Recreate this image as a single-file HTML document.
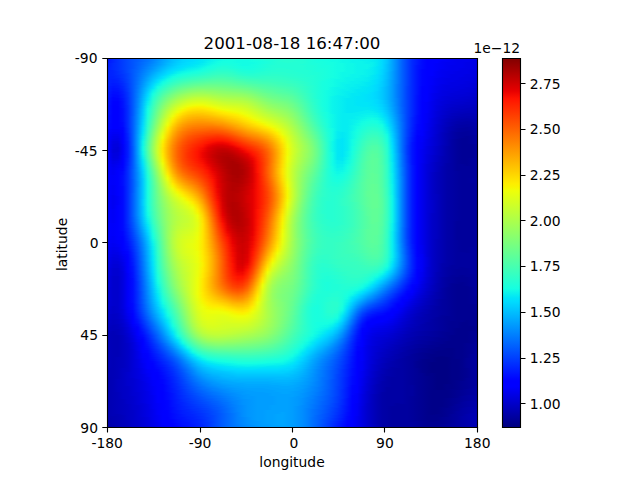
<!DOCTYPE html>
<html><head><meta charset="utf-8"><style>
html,body{margin:0;padding:0;background:#fff}
body{width:640px;height:480px;position:relative;overflow:hidden}
#hm{position:absolute;left:108px;top:59px;width:369px;height:368px;overflow:hidden}
#hm i{display:block;height:1px;width:100%}
#cb{position:absolute;left:502px;top:58px;width:18px;height:369px;background:linear-gradient(0deg,rgb(0,0,128) 0.00%,rgb(0,0,255) 11.00%,rgb(0,0,255) 12.50%,rgb(0,220,254) 34.00%,rgb(0,228,248) 35.00%,rgb(22,255,225) 37.50%,rgb(238,255,9) 64.00%,rgb(248,245,0) 65.00%,rgb(254,237,0) 66.00%,rgb(255,19,0) 89.00%,rgb(232,0,0) 91.00%,rgb(128,0,0) 100.00%)}
svg{position:absolute;left:0;top:0}
text{font-family:"DejaVu Sans","Liberation Sans",sans-serif;fill:#000}
</style></head><body>
<div id="hm">
<i style="background:linear-gradient(90deg,#0014ff,#0024ff,#0031ff,#003dff,#0049ff,#0051ff,#005dff,#0069ff,#0074ff,#0081ff,#0091ff,#00a1ff,#00b1ff,#00bdff,#00c8ff,#00d1ff,#00d9ff,#00ddfe,#00e1fb,#02e8f4,#06edf1,#0cf5eb,#0ff9e7,#13fde4,#13fde4,#13fde4,#16ffe1,#16ffe1,#16ffe1,#16ffe1,#19ffde,#1cffdb,#1fffd7,#23ffd4,#23ffd4,#26ffd1,#26ffd1,#26ffd1,#26ffd1,#23ffd4,#1fffd7,#1cffdb,#19ffde,#16ffe1,#16ffe1,#13fde4,#13fde4,#0ff9e7,#0cf5eb,#0cf5eb,#09f1ee,#09f1ee,#09f1ee,#06edf1,#00e5f8,#00d9ff,#00c5ff,#00a5ff,#0085ff,#0061ff,#0044ff,#0029ff,#0019ff,#0009ff,#0000ff,#0000ff,#0000ff,#0000fa,#0000f6,#0000f1,#0000f1,#0000ed,#0000ed,#0000e8,#0000e3)"></i>
<i style="background:linear-gradient(90deg,#0014ff,#0024ff,#0031ff,#003dff,#0049ff,#0054ff,#005dff,#0069ff,#0074ff,#0081ff,#0091ff,#00a1ff,#00b1ff,#00c1ff,#00c8ff,#00d5ff,#00d9ff,#00ddfe,#00e1fb,#02e8f4,#06edf1,#0cf5eb,#0ff9e7,#13fde4,#16ffe1,#16ffe1,#13fde4,#13fde4,#13fde4,#16ffe1,#19ffde,#1cffdb,#1fffd7,#1fffd7,#23ffd4,#26ffd1,#26ffd1,#26ffd1,#23ffd4,#23ffd4,#1fffd7,#1cffdb,#19ffde,#16ffe1,#16ffe1,#13fde4,#13fde4,#0ff9e7,#0ff9e7,#0cf5eb,#0cf5eb,#09f1ee,#09f1ee,#06edf1,#02e8f4,#00d9ff,#00c5ff,#00a5ff,#0085ff,#0061ff,#0044ff,#0029ff,#0019ff,#0009ff,#0000ff,#0000ff,#0000ff,#0000fa,#0000f6,#0000f1,#0000ed,#0000ed,#0000ed,#0000e8,#0000e3)"></i>
<i style="background:linear-gradient(90deg,#0019ff,#0024ff,#0031ff,#003dff,#0049ff,#0054ff,#005dff,#0069ff,#0074ff,#0085ff,#0095ff,#00a5ff,#00b1ff,#00c1ff,#00cdff,#00d5ff,#00d9ff,#00ddfe,#00e5f8,#02e8f4,#09f1ee,#0cf5eb,#13fde4,#16ffe1,#16ffe1,#16ffe1,#13fde4,#13fde4,#13fde4,#16ffe1,#16ffe1,#19ffde,#1cffdb,#1fffd7,#23ffd4,#26ffd1,#26ffd1,#26ffd1,#23ffd4,#23ffd4,#1fffd7,#1cffdb,#19ffde,#19ffde,#16ffe1,#13fde4,#13fde4,#0ff9e7,#0ff9e7,#0cf5eb,#0cf5eb,#0cf5eb,#09f1ee,#06edf1,#02e8f4,#00d9ff,#00c5ff,#00a5ff,#0085ff,#0061ff,#0044ff,#0029ff,#0019ff,#0009ff,#0000ff,#0000ff,#0000ff,#0000f6,#0000f6,#0000f1,#0000ed,#0000ed,#0000ed,#0000e8,#0000e3)"></i>
<i style="background:linear-gradient(90deg,#0019ff,#0024ff,#0031ff,#003dff,#0049ff,#0054ff,#0061ff,#006dff,#0079ff,#0085ff,#0095ff,#00a5ff,#00b5ff,#00c1ff,#00cdff,#00d5ff,#00ddfe,#00e1fb,#00e5f8,#02e8f4,#09f1ee,#0ff9e7,#13fde4,#16ffe1,#16ffe1,#16ffe1,#13fde4,#13fde4,#13fde4,#13fde4,#16ffe1,#19ffde,#1cffdb,#1fffd7,#23ffd4,#23ffd4,#26ffd1,#23ffd4,#23ffd4,#23ffd4,#1fffd7,#1cffdb,#19ffde,#19ffde,#16ffe1,#16ffe1,#13fde4,#0ff9e7,#0ff9e7,#0cf5eb,#0cf5eb,#0cf5eb,#09f1ee,#09f1ee,#02e8f4,#00d9ff,#00c5ff,#00a5ff,#0085ff,#0061ff,#0044ff,#0029ff,#0019ff,#0009ff,#0000ff,#0000ff,#0000ff,#0000f6,#0000f1,#0000f1,#0000ed,#0000ed,#0000e8,#0000e8,#0000e3)"></i>
<i style="background:linear-gradient(90deg,#001dff,#0029ff,#0031ff,#003dff,#0049ff,#0054ff,#0061ff,#006dff,#0079ff,#0088ff,#0099ff,#00a8ff,#00b9ff,#00c5ff,#00d1ff,#00d9ff,#00ddfe,#00e1fb,#00e5f8,#06edf1,#0cf5eb,#0ff9e7,#16ffe1,#19ffde,#19ffde,#16ffe1,#16ffe1,#13fde4,#13fde4,#13fde4,#16ffe1,#19ffde,#1cffdb,#1fffd7,#23ffd4,#23ffd4,#23ffd4,#23ffd4,#23ffd4,#23ffd4,#1fffd7,#1cffdb,#1cffdb,#19ffde,#16ffe1,#16ffe1,#13fde4,#13fde4,#0ff9e7,#0ff9e7,#0cf5eb,#0cf5eb,#09f1ee,#09f1ee,#02e8f4,#00d9ff,#00c5ff,#00a5ff,#0085ff,#0061ff,#0044ff,#0029ff,#0019ff,#0009ff,#0000ff,#0000ff,#0000fa,#0000f6,#0000f1,#0000f1,#0000ed,#0000ed,#0000e8,#0000e8,#0000e3)"></i>
<i style="background:linear-gradient(90deg,#001dff,#0029ff,#0031ff,#003dff,#0049ff,#0054ff,#0061ff,#006dff,#007dff,#008dff,#0099ff,#00a8ff,#00b9ff,#00c8ff,#00d1ff,#00d9ff,#00ddfe,#00e5f8,#02e8f4,#06edf1,#0cf5eb,#13fde4,#16ffe1,#19ffde,#19ffde,#19ffde,#16ffe1,#13fde4,#13fde4,#16ffe1,#16ffe1,#1cffdb,#1fffd7,#1fffd7,#23ffd4,#23ffd4,#23ffd4,#23ffd4,#23ffd4,#1fffd7,#1fffd7,#1cffdb,#1cffdb,#19ffde,#16ffe1,#16ffe1,#13fde4,#13fde4,#0ff9e7,#0ff9e7,#0cf5eb,#0cf5eb,#0cf5eb,#09f1ee,#02e8f4,#00d9ff,#00c1ff,#00a5ff,#0085ff,#0061ff,#0044ff,#0029ff,#0019ff,#0009ff,#0000ff,#0000ff,#0000fa,#0000f6,#0000f1,#0000f1,#0000ed,#0000ed,#0000e8,#0000e8,#0000e3)"></i>
<i style="background:linear-gradient(90deg,#001dff,#0029ff,#0031ff,#003dff,#0049ff,#0054ff,#0061ff,#0071ff,#007dff,#008dff,#009dff,#00adff,#00bdff,#00c8ff,#00d5ff,#00ddfe,#00e1fb,#00e5f8,#06edf1,#09f1ee,#0ff9e7,#16ffe1,#19ffde,#1cffdb,#1cffdb,#19ffde,#16ffe1,#13fde4,#13fde4,#16ffe1,#19ffde,#1cffdb,#1fffd7,#23ffd4,#23ffd4,#23ffd4,#23ffd4,#23ffd4,#23ffd4,#23ffd4,#1fffd7,#1fffd7,#1cffdb,#19ffde,#19ffde,#16ffe1,#13fde4,#13fde4,#0ff9e7,#0ff9e7,#0cf5eb,#0cf5eb,#0cf5eb,#09f1ee,#02e8f4,#00d9ff,#00c1ff,#00a5ff,#0085ff,#0061ff,#0044ff,#0029ff,#0014ff,#0009ff,#0000ff,#0000ff,#0000fa,#0000f6,#0000f1,#0000ed,#0000ed,#0000ed,#0000e8,#0000e8,#0000e3)"></i>
<i style="background:linear-gradient(90deg,#001dff,#0029ff,#0031ff,#003dff,#0049ff,#0054ff,#0064ff,#0071ff,#0081ff,#0091ff,#00a1ff,#00b1ff,#00c1ff,#00cdff,#00d9ff,#00ddfe,#00e5f8,#02e8f4,#06edf1,#0cf5eb,#13fde4,#19ffde,#1cffdb,#1fffd7,#1fffd7,#1cffdb,#19ffde,#16ffe1,#16ffe1,#16ffe1,#19ffde,#1cffdb,#1fffd7,#23ffd4,#23ffd4,#23ffd4,#23ffd4,#23ffd4,#23ffd4,#23ffd4,#1fffd7,#1fffd7,#1cffdb,#19ffde,#19ffde,#16ffe1,#13fde4,#13fde4,#0ff9e7,#0ff9e7,#0cf5eb,#0cf5eb,#0cf5eb,#09f1ee,#00e5f8,#00d9ff,#00c1ff,#00a5ff,#0085ff,#0061ff,#0044ff,#0029ff,#0014ff,#0009ff,#0000ff,#0000ff,#0000fa,#0000f6,#0000f1,#0000ed,#0000ed,#0000ed,#0000e8,#0000e8,#0000e3)"></i>
<i style="background:linear-gradient(90deg,#0021ff,#0029ff,#0031ff,#003dff,#0049ff,#0054ff,#0064ff,#0074ff,#0085ff,#0095ff,#00a5ff,#00b5ff,#00c5ff,#00d1ff,#00d9ff,#00e1fb,#02e8f4,#06edf1,#09f1ee,#0ff9e7,#16ffe1,#19ffde,#1fffd7,#23ffd4,#1fffd7,#1cffdb,#19ffde,#16ffe1,#16ffe1,#16ffe1,#19ffde,#1cffdb,#1fffd7,#23ffd4,#23ffd4,#23ffd4,#23ffd4,#23ffd4,#23ffd4,#23ffd4,#1fffd7,#1fffd7,#1cffdb,#19ffde,#19ffde,#16ffe1,#13fde4,#13fde4,#0ff9e7,#0ff9e7,#0cf5eb,#0cf5eb,#0cf5eb,#06edf1,#00e5f8,#00d9ff,#00c1ff,#00a5ff,#0085ff,#0061ff,#0044ff,#0029ff,#0014ff,#0009ff,#0000ff,#0000ff,#0000fa,#0000f6,#0000f1,#0000ed,#0000ed,#0000ed,#0000e8,#0000e8,#0000e3)"></i>
<i style="background:linear-gradient(90deg,#0021ff,#0029ff,#0031ff,#003dff,#0049ff,#0054ff,#0064ff,#0074ff,#0085ff,#0095ff,#00a8ff,#00b9ff,#00c8ff,#00d5ff,#00ddfe,#00e5f8,#06edf1,#09f1ee,#0cf5eb,#13fde4,#19ffde,#1cffdb,#23ffd4,#23ffd4,#23ffd4,#1fffd7,#1cffdb,#19ffde,#16ffe1,#19ffde,#1cffdb,#1fffd7,#23ffd4,#23ffd4,#26ffd1,#26ffd1,#23ffd4,#23ffd4,#23ffd4,#23ffd4,#1fffd7,#1fffd7,#1cffdb,#1cffdb,#19ffde,#16ffe1,#13fde4,#13fde4,#0ff9e7,#0ff9e7,#0cf5eb,#0cf5eb,#0cf5eb,#06edf1,#00e5f8,#00d9ff,#00c1ff,#00a5ff,#0085ff,#0061ff,#0044ff,#0029ff,#0014ff,#0009ff,#0000ff,#0000ff,#0000fa,#0000f6,#0000f1,#0000ed,#0000ed,#0000e8,#0000e8,#0000e8,#0000e3)"></i>
<i style="background:linear-gradient(90deg,#0021ff,#0029ff,#0031ff,#003dff,#0049ff,#0059ff,#0064ff,#0079ff,#0088ff,#0099ff,#00adff,#00bdff,#00cdff,#00d9ff,#00e1fb,#02e8f4,#09f1ee,#0cf5eb,#0ff9e7,#16ffe1,#1cffdb,#1fffd7,#26ffd1,#26ffd1,#26ffd1,#23ffd4,#1fffd7,#1cffdb,#19ffde,#19ffde,#1cffdb,#1fffd7,#23ffd4,#23ffd4,#26ffd1,#26ffd1,#26ffd1,#23ffd4,#23ffd4,#23ffd4,#1fffd7,#1fffd7,#1cffdb,#1cffdb,#19ffde,#16ffe1,#13fde4,#13fde4,#0ff9e7,#0ff9e7,#0cf5eb,#0cf5eb,#09f1ee,#06edf1,#00e5f8,#00d5ff,#00c1ff,#00a5ff,#0085ff,#0061ff,#0044ff,#0029ff,#0014ff,#0004ff,#0000ff,#0000ff,#0000fa,#0000f1,#0000f1,#0000ed,#0000ed,#0000e8,#0000e8,#0000e3,#0000e3)"></i>
<i style="background:linear-gradient(90deg,#0021ff,#0024ff,#0031ff,#0039ff,#0049ff,#0059ff,#0069ff,#0079ff,#008dff,#009dff,#00adff,#00c1ff,#00d1ff,#00ddfe,#00e5f8,#06edf1,#0cf5eb,#0ff9e7,#13fde4,#19ffde,#1fffd7,#23ffd4,#29ffce,#29ffce,#29ffce,#26ffd1,#1fffd7,#1cffdb,#1cffdb,#1cffdb,#1fffd7,#1fffd7,#23ffd4,#26ffd1,#26ffd1,#26ffd1,#26ffd1,#26ffd1,#23ffd4,#23ffd4,#23ffd4,#1fffd7,#1cffdb,#1cffdb,#19ffde,#16ffe1,#13fde4,#13fde4,#0ff9e7,#0ff9e7,#0cf5eb,#0cf5eb,#09f1ee,#06edf1,#00e5f8,#00d5ff,#00c1ff,#00a5ff,#0081ff,#0061ff,#0044ff,#0029ff,#0014ff,#0004ff,#0000ff,#0000ff,#0000fa,#0000f1,#0000f1,#0000ed,#0000ed,#0000e8,#0000e8,#0000e3,#0000e3)"></i>
<i style="background:linear-gradient(90deg,#0021ff,#0024ff,#002dff,#0039ff,#0049ff,#0059ff,#0069ff,#007dff,#008dff,#00a1ff,#00b1ff,#00c5ff,#00d5ff,#00e1fb,#06edf1,#0cf5eb,#0ff9e7,#13fde4,#19ffde,#1cffdb,#23ffd4,#29ffce,#2cffca,#2cffca,#2cffca,#29ffce,#23ffd4,#1fffd7,#1fffd7,#1fffd7,#1fffd7,#23ffd4,#26ffd1,#26ffd1,#26ffd1,#26ffd1,#26ffd1,#26ffd1,#23ffd4,#23ffd4,#23ffd4,#1fffd7,#1cffdb,#1cffdb,#19ffde,#16ffe1,#13fde4,#13fde4,#0ff9e7,#0ff9e7,#0cf5eb,#0cf5eb,#09f1ee,#06edf1,#00e5f8,#00d5ff,#00c1ff,#00a1ff,#0081ff,#0061ff,#0044ff,#0029ff,#0014ff,#0004ff,#0000ff,#0000ff,#0000f6,#0000f1,#0000ed,#0000ed,#0000e8,#0000e8,#0000e8,#0000e3,#0000df)"></i>
<i style="background:linear-gradient(90deg,#0021ff,#0024ff,#002dff,#0039ff,#0049ff,#0059ff,#0069ff,#007dff,#0091ff,#00a5ff,#00b9ff,#00c8ff,#00d9ff,#00e5f8,#09f1ee,#0ff9e7,#13fde4,#19ffde,#1cffdb,#23ffd4,#26ffd1,#2cffca,#30ffc7,#30ffc7,#30ffc7,#2cffca,#26ffd1,#23ffd4,#1fffd7,#1fffd7,#23ffd4,#26ffd1,#26ffd1,#29ffce,#29ffce,#29ffce,#26ffd1,#26ffd1,#26ffd1,#23ffd4,#23ffd4,#1fffd7,#1fffd7,#1cffdb,#19ffde,#16ffe1,#13fde4,#0ff9e7,#0ff9e7,#0ff9e7,#0cf5eb,#0cf5eb,#09f1ee,#06edf1,#00e5f8,#00d5ff,#00bdff,#00a1ff,#0081ff,#0061ff,#0044ff,#0029ff,#0014ff,#0004ff,#0000ff,#0000ff,#0000f6,#0000f1,#0000ed,#0000ed,#0000e8,#0000e8,#0000e8,#0000e3,#0000df)"></i>
<i style="background:linear-gradient(90deg,#0021ff,#0024ff,#002dff,#0039ff,#0044ff,#0059ff,#006dff,#0081ff,#0095ff,#00a8ff,#00bdff,#00cdff,#00ddfe,#02e8f4,#0cf5eb,#13fde4,#19ffde,#1cffdb,#1fffd7,#26ffd1,#2cffca,#30ffc7,#33ffc4,#33ffc4,#33ffc4,#30ffc7,#29ffce,#26ffd1,#23ffd4,#23ffd4,#26ffd1,#26ffd1,#29ffce,#29ffce,#29ffce,#29ffce,#29ffce,#26ffd1,#26ffd1,#23ffd4,#23ffd4,#1fffd7,#1fffd7,#1cffdb,#19ffde,#16ffe1,#13fde4,#0ff9e7,#0ff9e7,#0ff9e7,#0cf5eb,#0cf5eb,#09f1ee,#06edf1,#00e5f8,#00d5ff,#00bdff,#00a1ff,#0081ff,#0061ff,#0044ff,#0029ff,#0014ff,#0004ff,#0000ff,#0000ff,#0000f6,#0000f1,#0000ed,#0000ed,#0000e8,#0000e8,#0000e8,#0000e3,#0000df)"></i>
<i style="background:linear-gradient(90deg,#0021ff,#0024ff,#002dff,#0034ff,#0044ff,#0059ff,#006dff,#0081ff,#0095ff,#00adff,#00c1ff,#00d1ff,#00e1fb,#09f1ee,#13fde4,#19ffde,#1cffdb,#23ffd4,#26ffd1,#29ffce,#30ffc7,#33ffc4,#36ffc1,#39ffbe,#36ffc1,#33ffc4,#2cffca,#29ffce,#26ffd1,#26ffd1,#29ffce,#29ffce,#29ffce,#2cffca,#2cffca,#29ffce,#29ffce,#29ffce,#26ffd1,#26ffd1,#23ffd4,#1fffd7,#1fffd7,#1cffdb,#19ffde,#16ffe1,#13fde4,#0ff9e7,#0ff9e7,#0cf5eb,#0cf5eb,#0cf5eb,#09f1ee,#06edf1,#00e1fb,#00d5ff,#00bdff,#00a1ff,#0081ff,#0061ff,#0044ff,#0029ff,#0014ff,#0004ff,#0000ff,#0000ff,#0000f6,#0000f1,#0000ed,#0000e8,#0000e8,#0000e8,#0000e3,#0000e3,#0000df)"></i>
<i style="background:linear-gradient(90deg,#0021ff,#0024ff,#0029ff,#0034ff,#0044ff,#0059ff,#006dff,#0085ff,#0099ff,#00b1ff,#00c5ff,#00d5ff,#02e8f4,#0cf5eb,#16ffe1,#1cffdb,#23ffd4,#26ffd1,#29ffce,#30ffc7,#33ffc4,#39ffbe,#3cffba,#3cffba,#39ffbe,#36ffc1,#33ffc4,#2cffca,#29ffce,#29ffce,#29ffce,#2cffca,#2cffca,#2cffca,#2cffca,#2cffca,#29ffce,#29ffce,#26ffd1,#26ffd1,#23ffd4,#23ffd4,#1fffd7,#1cffdb,#19ffde,#16ffe1,#13fde4,#0ff9e7,#0ff9e7,#0cf5eb,#0cf5eb,#09f1ee,#09f1ee,#02e8f4,#00e1fb,#00d1ff,#00bdff,#00a1ff,#0081ff,#0061ff,#0044ff,#0029ff,#0014ff,#0004ff,#0000ff,#0000ff,#0000f6,#0000f1,#0000ed,#0000e8,#0000e8,#0000e8,#0000e3,#0000e3,#0000df)"></i>
<i style="background:linear-gradient(90deg,#0021ff,#0021ff,#0029ff,#0034ff,#0044ff,#0059ff,#006dff,#0085ff,#009dff,#00b5ff,#00c8ff,#00ddfe,#06edf1,#13fde4,#19ffde,#23ffd4,#26ffd1,#2cffca,#30ffc7,#36ffc1,#39ffbe,#3cffba,#40ffb7,#40ffb7,#3cffba,#39ffbe,#36ffc1,#33ffc4,#30ffc7,#2cffca,#2cffca,#30ffc7,#30ffc7,#30ffc7,#30ffc7,#2cffca,#2cffca,#29ffce,#29ffce,#26ffd1,#23ffd4,#23ffd4,#1fffd7,#1cffdb,#19ffde,#16ffe1,#13fde4,#0ff9e7,#0ff9e7,#0cf5eb,#0cf5eb,#09f1ee,#09f1ee,#02e8f4,#00e1fb,#00d1ff,#00bdff,#00a1ff,#0081ff,#0061ff,#0044ff,#0029ff,#0014ff,#0004ff,#0000ff,#0000fa,#0000f6,#0000f1,#0000ed,#0000e8,#0000e8,#0000e8,#0000e3,#0000e3,#0000df)"></i>
<i style="background:linear-gradient(90deg,#0021ff,#0021ff,#0029ff,#0034ff,#0044ff,#0059ff,#0071ff,#0088ff,#00a1ff,#00b9ff,#00cdff,#00e1fb,#09f1ee,#16ffe1,#1fffd7,#26ffd1,#2cffca,#33ffc4,#36ffc1,#39ffbe,#3cffba,#43ffb4,#43ffb4,#43ffb4,#43ffb4,#40ffb7,#39ffbe,#36ffc1,#33ffc4,#30ffc7,#30ffc7,#30ffc7,#33ffc4,#30ffc7,#30ffc7,#30ffc7,#2cffca,#2cffca,#29ffce,#26ffd1,#26ffd1,#23ffd4,#1fffd7,#1cffdb,#19ffde,#16ffe1,#13fde4,#0ff9e7,#0cf5eb,#0cf5eb,#0cf5eb,#09f1ee,#06edf1,#02e8f4,#00e1fb,#00d1ff,#00bdff,#00a1ff,#0081ff,#0061ff,#0044ff,#0029ff,#0014ff,#0004ff,#0000ff,#0000fa,#0000f6,#0000ed,#0000ed,#0000e8,#0000e8,#0000e3,#0000e3,#0000df,#0000df)"></i>
<i style="background:linear-gradient(90deg,#0021ff,#0021ff,#0024ff,#0031ff,#0044ff,#0059ff,#0071ff,#0088ff,#00a5ff,#00bdff,#00d1ff,#00e5f8,#0ff9e7,#1cffdb,#26ffd1,#2cffca,#33ffc4,#36ffc1,#3cffba,#40ffb7,#43ffb4,#46ffb1,#49ffad,#49ffad,#46ffb1,#43ffb4,#3cffba,#39ffbe,#36ffc1,#36ffc1,#33ffc4,#33ffc4,#33ffc4,#33ffc4,#33ffc4,#30ffc7,#30ffc7,#2cffca,#2cffca,#29ffce,#26ffd1,#23ffd4,#1fffd7,#1cffdb,#19ffde,#13fde4,#13fde4,#0ff9e7,#0cf5eb,#0cf5eb,#09f1ee,#09f1ee,#06edf1,#02e8f4,#00e1fb,#00d1ff,#00bdff,#00a1ff,#0081ff,#0061ff,#0044ff,#0029ff,#0014ff,#0004ff,#0000ff,#0000fa,#0000f1,#0000ed,#0000e8,#0000e8,#0000e8,#0000e3,#0000e3,#0000df,#0000da)"></i>
<i style="background:linear-gradient(90deg,#0021ff,#001dff,#0024ff,#0031ff,#0041ff,#0059ff,#0071ff,#008dff,#00a5ff,#00c1ff,#00d9ff,#06edf1,#13fde4,#1fffd7,#29ffce,#33ffc4,#39ffbe,#3cffba,#40ffb7,#46ffb1,#49ffad,#4dffaa,#4dffaa,#4dffaa,#49ffad,#46ffb1,#43ffb4,#40ffb7,#3cffba,#39ffbe,#39ffbe,#36ffc1,#36ffc1,#36ffc1,#33ffc4,#33ffc4,#30ffc7,#30ffc7,#2cffca,#29ffce,#26ffd1,#23ffd4,#1fffd7,#1cffdb,#16ffe1,#13fde4,#0ff9e7,#0ff9e7,#0cf5eb,#0cf5eb,#09f1ee,#09f1ee,#06edf1,#02e8f4,#00ddfe,#00d1ff,#00b9ff,#00a1ff,#0081ff,#0061ff,#0044ff,#0029ff,#0014ff,#0004ff,#0000ff,#0000fa,#0000f1,#0000ed,#0000e8,#0000e8,#0000e8,#0000e3,#0000e3,#0000df,#0000da)"></i>
<i style="background:linear-gradient(90deg,#0021ff,#001dff,#0021ff,#0031ff,#0041ff,#0059ff,#0071ff,#008dff,#00a8ff,#00c5ff,#00ddfe,#09f1ee,#19ffde,#26ffd1,#30ffc7,#36ffc1,#3cffba,#43ffb4,#46ffb1,#49ffad,#4dffaa,#50ffa7,#53ffa4,#50ffa7,#50ffa7,#4dffaa,#46ffb1,#43ffb4,#40ffb7,#3cffba,#3cffba,#39ffbe,#39ffbe,#39ffbe,#36ffc1,#36ffc1,#33ffc4,#30ffc7,#2cffca,#29ffce,#26ffd1,#23ffd4,#1fffd7,#1cffdb,#16ffe1,#13fde4,#0ff9e7,#0ff9e7,#0cf5eb,#0cf5eb,#09f1ee,#09f1ee,#06edf1,#00e5f8,#00ddfe,#00d1ff,#00b9ff,#009dff,#0081ff,#0061ff,#0044ff,#0029ff,#0014ff,#0004ff,#0000ff,#0000fa,#0000f1,#0000ed,#0000e8,#0000e8,#0000e3,#0000e3,#0000e3,#0000df,#0000da)"></i>
<i style="background:linear-gradient(90deg,#0021ff,#001dff,#0021ff,#002dff,#0041ff,#0059ff,#0074ff,#0091ff,#00adff,#00c8ff,#00e1fb,#0ff9e7,#1cffdb,#29ffce,#36ffc1,#3cffba,#43ffb4,#49ffad,#4dffaa,#50ffa7,#53ffa4,#56ffa0,#56ffa0,#56ffa0,#53ffa4,#50ffa7,#4dffaa,#49ffad,#43ffb4,#43ffb4,#40ffb7,#3cffba,#3cffba,#39ffbe,#39ffbe,#36ffc1,#36ffc1,#33ffc4,#30ffc7,#2cffca,#26ffd1,#23ffd4,#1fffd7,#19ffde,#16ffe1,#13fde4,#0ff9e7,#0ff9e7,#0cf5eb,#09f1ee,#09f1ee,#06edf1,#06edf1,#00e5f8,#00ddfe,#00cdff,#00b9ff,#009dff,#0081ff,#0061ff,#0044ff,#0029ff,#0014ff,#0004ff,#0000ff,#0000fa,#0000f1,#0000ed,#0000e8,#0000e8,#0000e3,#0000e3,#0000df,#0000df,#0000da)"></i>
<i style="background:linear-gradient(90deg,#0021ff,#001dff,#0021ff,#002dff,#0041ff,#0059ff,#0074ff,#0091ff,#00b1ff,#00cdff,#00e5f8,#13fde4,#23ffd4,#30ffc7,#39ffbe,#43ffb4,#49ffad,#50ffa7,#53ffa4,#56ffa0,#5aff9d,#5aff9d,#5dff9a,#5aff9d,#5aff9d,#56ffa0,#50ffa7,#4dffaa,#49ffad,#46ffb1,#43ffb4,#40ffb7,#40ffb7,#3cffba,#3cffba,#39ffbe,#36ffc1,#33ffc4,#30ffc7,#2cffca,#29ffce,#23ffd4,#1fffd7,#19ffde,#16ffe1,#13fde4,#0ff9e7,#0cf5eb,#0cf5eb,#09f1ee,#09f1ee,#06edf1,#02e8f4,#00e5f8,#00ddfe,#00cdff,#00b9ff,#009dff,#0081ff,#0061ff,#0044ff,#0029ff,#0014ff,#0004ff,#0000ff,#0000fa,#0000f1,#0000ed,#0000e8,#0000e3,#0000e3,#0000e3,#0000df,#0000df,#0000da)"></i>
<i style="background:linear-gradient(90deg,#0021ff,#0019ff,#001dff,#0029ff,#003dff,#0059ff,#0074ff,#0095ff,#00b5ff,#00d1ff,#06edf1,#16ffe1,#26ffd1,#36ffc1,#40ffb7,#49ffad,#50ffa7,#56ffa0,#5aff9d,#5dff9a,#60ff97,#60ff97,#60ff97,#60ff97,#5dff9a,#5aff9d,#56ffa0,#53ffa4,#4dffaa,#49ffad,#46ffb1,#43ffb4,#43ffb4,#40ffb7,#3cffba,#3cffba,#39ffbe,#36ffc1,#33ffc4,#2cffca,#29ffce,#23ffd4,#1fffd7,#19ffde,#16ffe1,#13fde4,#0ff9e7,#0cf5eb,#0cf5eb,#09f1ee,#09f1ee,#06edf1,#02e8f4,#00e5f8,#00ddfe,#00cdff,#00b9ff,#009dff,#0081ff,#0061ff,#0044ff,#0029ff,#0014ff,#0004ff,#0000ff,#0000fa,#0000f1,#0000ed,#0000e8,#0000e3,#0000e3,#0000e3,#0000df,#0000da,#0000d6)"></i>
<i style="background:linear-gradient(90deg,#0021ff,#0019ff,#001dff,#0029ff,#003dff,#0059ff,#0074ff,#0095ff,#00b5ff,#00d5ff,#09f1ee,#1cffdb,#2cffca,#39ffbe,#46ffb1,#50ffa7,#56ffa0,#5dff9a,#60ff97,#63ff94,#66ff90,#66ff90,#66ff90,#63ff94,#63ff94,#60ff97,#5aff9d,#56ffa0,#53ffa4,#50ffa7,#4dffaa,#49ffad,#46ffb1,#43ffb4,#40ffb7,#3cffba,#3cffba,#39ffbe,#33ffc4,#30ffc7,#29ffce,#23ffd4,#1fffd7,#19ffde,#16ffe1,#13fde4,#0ff9e7,#0cf5eb,#09f1ee,#09f1ee,#06edf1,#06edf1,#02e8f4,#00e5f8,#00d9ff,#00cdff,#00b9ff,#009dff,#007dff,#0061ff,#0044ff,#0029ff,#0014ff,#0004ff,#0000ff,#0000fa,#0000f1,#0000e8,#0000e8,#0000e3,#0000e3,#0000df,#0000df,#0000da,#0000d6)"></i>
<i style="background:linear-gradient(90deg,#0021ff,#0019ff,#0019ff,#0029ff,#003dff,#0059ff,#0079ff,#0099ff,#00b9ff,#00d9ff,#0cf5eb,#1fffd7,#33ffc4,#40ffb7,#4dffaa,#56ffa0,#5dff9a,#63ff94,#66ff90,#6aff8d,#6dff8a,#6dff8a,#6aff8d,#6aff8d,#66ff90,#63ff94,#60ff97,#5dff9a,#5aff9d,#53ffa4,#50ffa7,#4dffaa,#49ffad,#46ffb1,#43ffb4,#40ffb7,#3cffba,#39ffbe,#36ffc1,#30ffc7,#29ffce,#26ffd1,#1fffd7,#19ffde,#16ffe1,#13fde4,#0ff9e7,#0cf5eb,#09f1ee,#09f1ee,#06edf1,#06edf1,#02e8f4,#00e1fb,#00d9ff,#00cdff,#00b9ff,#009dff,#007dff,#0061ff,#0044ff,#0029ff,#0014ff,#0004ff,#0000ff,#0000f6,#0000f1,#0000e8,#0000e3,#0000e3,#0000e3,#0000df,#0000df,#0000da,#0000d6)"></i>
<i style="background:linear-gradient(90deg,#001dff,#0014ff,#0019ff,#0024ff,#003dff,#0059ff,#0079ff,#0099ff,#00bdff,#00ddfe,#13fde4,#26ffd1,#36ffc1,#46ffb1,#53ffa4,#5dff9a,#63ff94,#6aff8d,#70ff87,#70ff87,#73ff83,#70ff87,#70ff87,#6dff8a,#6dff8a,#6aff8d,#66ff90,#63ff94,#5dff9a,#5aff9d,#53ffa4,#50ffa7,#4dffaa,#49ffad,#46ffb1,#43ffb4,#40ffb7,#3cffba,#36ffc1,#33ffc4,#2cffca,#26ffd1,#1fffd7,#19ffde,#16ffe1,#13fde4,#0ff9e7,#0cf5eb,#09f1ee,#09f1ee,#06edf1,#02e8f4,#02e8f4,#00e1fb,#00d9ff,#00cdff,#00b5ff,#009dff,#007dff,#0061ff,#0041ff,#0029ff,#0014ff,#0001ff,#0000ff,#0000f6,#0000ed,#0000e8,#0000e3,#0000e3,#0000df,#0000df,#0000df,#0000da,#0000d6)"></i>
<i style="background:linear-gradient(90deg,#001dff,#0014ff,#0019ff,#0024ff,#003dff,#0059ff,#0079ff,#009dff,#00c1ff,#00e1fb,#16ffe1,#29ffce,#3cffba,#4dffaa,#5aff9d,#63ff94,#6aff8d,#70ff87,#77ff80,#77ff80,#77ff80,#77ff80,#77ff80,#73ff83,#70ff87,#6dff8a,#6aff8d,#66ff90,#63ff94,#5dff9a,#5aff9d,#53ffa4,#50ffa7,#4dffaa,#49ffad,#46ffb1,#43ffb4,#40ffb7,#39ffbe,#33ffc4,#2cffca,#26ffd1,#1fffd7,#19ffde,#16ffe1,#0ff9e7,#0cf5eb,#0cf5eb,#09f1ee,#06edf1,#06edf1,#02e8f4,#00e5f8,#00e1fb,#00d9ff,#00c8ff,#00b5ff,#009dff,#007dff,#0061ff,#0041ff,#0029ff,#0014ff,#0001ff,#0000ff,#0000f6,#0000ed,#0000e8,#0000e3,#0000e3,#0000df,#0000df,#0000da,#0000da,#0000d6)"></i>
<i style="background:linear-gradient(90deg,#001dff,#0011ff,#0014ff,#0024ff,#0039ff,#0059ff,#0079ff,#00a1ff,#00c5ff,#00e5f8,#19ffde,#30ffc7,#43ffb4,#53ffa4,#60ff97,#6aff8d,#73ff83,#7aff7d,#7dff7a,#7dff7a,#7dff7a,#7dff7a,#7aff7d,#7aff7d,#77ff80,#73ff83,#70ff87,#6dff8a,#6aff8d,#63ff94,#5dff9a,#56ffa0,#53ffa4,#50ffa7,#4dffaa,#49ffad,#46ffb1,#40ffb7,#3cffba,#33ffc4,#2cffca,#26ffd1,#1fffd7,#19ffde,#16ffe1,#0ff9e7,#0cf5eb,#0cf5eb,#09f1ee,#06edf1,#06edf1,#02e8f4,#00e5f8,#00e1fb,#00d9ff,#00c8ff,#00b5ff,#009dff,#007dff,#0061ff,#0041ff,#0029ff,#0014ff,#0001ff,#0000ff,#0000f6,#0000ed,#0000e8,#0000e3,#0000df,#0000df,#0000df,#0000da,#0000d6,#0000d1)"></i>
<i style="background:linear-gradient(90deg,#001dff,#0011ff,#0014ff,#0021ff,#0039ff,#0059ff,#007dff,#00a1ff,#00c8ff,#06edf1,#1fffd7,#33ffc4,#46ffb1,#56ffa0,#66ff90,#70ff87,#7aff7d,#80ff77,#83ff73,#87ff70,#83ff73,#83ff73,#80ff77,#7dff7a,#7aff7d,#7aff7d,#77ff80,#73ff83,#6dff8a,#66ff90,#63ff94,#5dff9a,#56ffa0,#53ffa4,#50ffa7,#4dffaa,#49ffad,#43ffb4,#3cffba,#36ffc1,#2cffca,#26ffd1,#1fffd7,#19ffde,#16ffe1,#0ff9e7,#0cf5eb,#09f1ee,#09f1ee,#06edf1,#02e8f4,#02e8f4,#00e5f8,#00e1fb,#00d9ff,#00c8ff,#00b5ff,#009dff,#007dff,#0061ff,#0041ff,#0029ff,#0014ff,#0001ff,#0000ff,#0000f6,#0000ed,#0000e8,#0000e3,#0000df,#0000df,#0000da,#0000da,#0000d6,#0000d1)"></i>
<i style="background:linear-gradient(90deg,#001dff,#0011ff,#0011ff,#0021ff,#0039ff,#0059ff,#007dff,#00a5ff,#00c8ff,#09f1ee,#23ffd4,#39ffbe,#4dffaa,#5dff9a,#6dff8a,#77ff80,#80ff77,#87ff70,#8aff6d,#8dff6a,#8aff6d,#8aff6d,#87ff70,#83ff73,#80ff77,#7dff7a,#7dff7a,#77ff80,#73ff83,#6dff8a,#66ff90,#60ff97,#5aff9d,#56ffa0,#53ffa4,#50ffa7,#49ffad,#46ffb1,#40ffb7,#36ffc1,#30ffc7,#26ffd1,#1fffd7,#19ffde,#13fde4,#0ff9e7,#0cf5eb,#09f1ee,#09f1ee,#06edf1,#02e8f4,#02e8f4,#00e5f8,#00e1fb,#00d9ff,#00c8ff,#00b5ff,#009dff,#007dff,#0061ff,#0041ff,#0029ff,#0014ff,#0001ff,#0000ff,#0000f6,#0000ed,#0000e3,#0000e3,#0000df,#0000df,#0000da,#0000da,#0000d6,#0000d1)"></i>
<i style="background:linear-gradient(90deg,#001dff,#000dff,#0011ff,#001dff,#0039ff,#0059ff,#007dff,#00a5ff,#00cdff,#0cf5eb,#26ffd1,#40ffb7,#53ffa4,#63ff94,#73ff83,#7dff7a,#87ff70,#8dff6a,#90ff66,#94ff63,#90ff66,#90ff66,#8dff6a,#8aff6d,#87ff70,#83ff73,#80ff77,#7dff7a,#7aff7d,#73ff83,#6aff8d,#63ff94,#5dff9a,#5aff9d,#53ffa4,#50ffa7,#4dffaa,#49ffad,#40ffb7,#39ffbe,#30ffc7,#26ffd1,#1fffd7,#19ffde,#13fde4,#0ff9e7,#0cf5eb,#09f1ee,#06edf1,#06edf1,#02e8f4,#02e8f4,#00e5f8,#00e1fb,#00d5ff,#00c8ff,#00b5ff,#009dff,#007dff,#0061ff,#0041ff,#0029ff,#0014ff,#0001ff,#0000ff,#0000f6,#0000ed,#0000e3,#0000df,#0000df,#0000da,#0000da,#0000da,#0000d6,#0000d1)"></i>
<i style="background:linear-gradient(90deg,#0019ff,#000dff,#000dff,#001dff,#0034ff,#0059ff,#007dff,#00a8ff,#00d1ff,#0ff9e7,#2cffca,#43ffb4,#56ffa0,#6aff8d,#7aff7d,#83ff73,#8dff6a,#94ff63,#9aff5d,#9aff5d,#97ff60,#97ff60,#90ff66,#8dff6a,#8dff6a,#8aff6d,#87ff70,#83ff73,#7dff7a,#77ff80,#70ff87,#66ff90,#60ff97,#5dff9a,#56ffa0,#53ffa4,#50ffa7,#49ffad,#43ffb4,#39ffbe,#30ffc7,#26ffd1,#1fffd7,#19ffde,#13fde4,#0ff9e7,#0cf5eb,#09f1ee,#06edf1,#06edf1,#02e8f4,#00e5f8,#00e5f8,#00ddfe,#00d5ff,#00c8ff,#00b5ff,#009dff,#007dff,#0061ff,#0041ff,#0029ff,#0014ff,#0001ff,#0000ff,#0000f6,#0000ed,#0000e3,#0000df,#0000df,#0000da,#0000da,#0000d6,#0000d6,#0000d1)"></i>
<i style="background:linear-gradient(90deg,#0019ff,#000dff,#000dff,#001dff,#0034ff,#0059ff,#0081ff,#00a8ff,#00d5ff,#13fde4,#30ffc7,#49ffad,#5dff9a,#70ff87,#80ff77,#8aff6d,#97ff60,#9dff5a,#a0ff56,#a0ff56,#9dff5a,#9aff5d,#97ff60,#94ff63,#90ff66,#90ff66,#8dff6a,#8aff6d,#83ff73,#7dff7a,#73ff83,#6dff8a,#66ff90,#60ff97,#5aff9d,#56ffa0,#53ffa4,#4dffaa,#46ffb1,#3cffba,#33ffc4,#29ffce,#1fffd7,#19ffde,#13fde4,#0ff9e7,#0cf5eb,#09f1ee,#06edf1,#02e8f4,#02e8f4,#00e5f8,#00e5f8,#00ddfe,#00d5ff,#00c8ff,#00b5ff,#009dff,#007dff,#0061ff,#0041ff,#0029ff,#0014ff,#0001ff,#0000ff,#0000f1,#0000e8,#0000e3,#0000df,#0000da,#0000da,#0000da,#0000d6,#0000d1,#0000cd)"></i>
<i style="background:linear-gradient(90deg,#0019ff,#0009ff,#000dff,#0019ff,#0034ff,#0059ff,#0081ff,#00adff,#00d9ff,#16ffe1,#33ffc4,#4dffaa,#63ff94,#77ff80,#87ff70,#94ff63,#9dff5a,#a4ff53,#a7ff50,#a7ff50,#a7ff50,#a0ff56,#9dff5a,#9aff5d,#97ff60,#94ff63,#94ff63,#90ff66,#8aff6d,#83ff73,#7aff7d,#70ff87,#6aff8d,#63ff94,#60ff97,#5aff9d,#56ffa0,#50ffa7,#46ffb1,#3cffba,#33ffc4,#29ffce,#1fffd7,#19ffde,#13fde4,#0ff9e7,#0cf5eb,#09f1ee,#06edf1,#02e8f4,#02e8f4,#00e5f8,#00e1fb,#00ddfe,#00d5ff,#00c8ff,#00b5ff,#009dff,#007dff,#0061ff,#0041ff,#0029ff,#0014ff,#0001ff,#0000ff,#0000f1,#0000e8,#0000e3,#0000df,#0000da,#0000da,#0000d6,#0000d6,#0000d1,#0000cd)"></i>
<i style="background:linear-gradient(90deg,#0019ff,#0009ff,#0009ff,#0019ff,#0034ff,#0059ff,#0081ff,#00adff,#00d9ff,#19ffde,#36ffc1,#53ffa4,#6aff8d,#7dff7a,#8dff6a,#9aff5d,#a4ff53,#aaff4d,#adff49,#adff49,#adff49,#a7ff50,#a4ff53,#9dff5a,#9dff5a,#9aff5d,#97ff60,#94ff63,#90ff66,#87ff70,#7dff7a,#73ff83,#6dff8a,#66ff90,#63ff94,#5dff9a,#5aff9d,#53ffa4,#49ffad,#40ffb7,#33ffc4,#29ffce,#1fffd7,#19ffde,#13fde4,#0ff9e7,#09f1ee,#09f1ee,#06edf1,#02e8f4,#02e8f4,#00e5f8,#00e1fb,#00ddfe,#00d5ff,#00c8ff,#00b5ff,#009dff,#007dff,#0061ff,#0041ff,#0029ff,#0011ff,#0001ff,#0000ff,#0000f1,#0000e8,#0000e3,#0000df,#0000da,#0000d6,#0000d6,#0000d6,#0000d1,#0000cd)"></i>
<i style="background:linear-gradient(90deg,#0019ff,#0009ff,#0009ff,#0019ff,#0034ff,#0059ff,#0081ff,#00b1ff,#00ddfe,#1cffdb,#3cffba,#56ffa0,#6dff8a,#80ff77,#94ff63,#a0ff56,#aaff4d,#b1ff46,#b4ff43,#b4ff43,#b4ff43,#adff49,#aaff4d,#a4ff53,#a0ff56,#a0ff56,#9dff5a,#9aff5d,#94ff63,#8dff6a,#83ff73,#7aff7d,#70ff87,#6aff8d,#66ff90,#60ff97,#5dff9a,#56ffa0,#4dffaa,#40ffb7,#36ffc1,#29ffce,#1fffd7,#19ffde,#13fde4,#0cf5eb,#09f1ee,#06edf1,#06edf1,#02e8f4,#00e5f8,#00e5f8,#00e1fb,#00ddfe,#00d5ff,#00c8ff,#00b5ff,#009dff,#007dff,#0061ff,#0041ff,#0029ff,#0011ff,#0001ff,#0000ff,#0000f1,#0000e8,#0000df,#0000da,#0000da,#0000d6,#0000d6,#0000d1,#0000d1,#0000cd)"></i>
<i style="background:linear-gradient(90deg,#0019ff,#0004ff,#0009ff,#0019ff,#0031ff,#0059ff,#0081ff,#00b1ff,#00e1fb,#1fffd7,#40ffb7,#5dff9a,#73ff83,#87ff70,#9aff5d,#a7ff50,#b1ff46,#baff3c,#beff39,#beff39,#baff3c,#b4ff43,#adff49,#aaff4d,#a7ff50,#a4ff53,#a4ff53,#a0ff56,#9aff5d,#90ff66,#87ff70,#7dff7a,#73ff83,#6dff8a,#6aff8d,#63ff94,#60ff97,#5aff9d,#4dffaa,#43ffb4,#36ffc1,#29ffce,#1fffd7,#19ffde,#13fde4,#0cf5eb,#09f1ee,#06edf1,#06edf1,#02e8f4,#00e5f8,#00e5f8,#00e1fb,#00ddfe,#00d5ff,#00c8ff,#00b5ff,#009dff,#007dff,#0061ff,#0041ff,#0029ff,#0011ff,#0001ff,#0000ff,#0000f1,#0000e8,#0000df,#0000da,#0000d6,#0000d6,#0000d1,#0000d1,#0000cd,#0000c8)"></i>
<i style="background:linear-gradient(90deg,#0014ff,#0004ff,#0004ff,#0014ff,#0031ff,#0059ff,#0085ff,#00b5ff,#00e5f8,#23ffd4,#43ffb4,#60ff97,#7aff7d,#8dff6a,#a0ff56,#adff49,#b7ff40,#c1ff36,#c4ff33,#c4ff33,#c1ff36,#baff3c,#b4ff43,#b1ff46,#adff49,#aaff4d,#aaff4d,#a7ff50,#a0ff56,#97ff60,#8dff6a,#83ff73,#7aff7d,#70ff87,#6dff8a,#66ff90,#63ff94,#5aff9d,#50ffa7,#43ffb4,#36ffc1,#2cffca,#1fffd7,#19ffde,#13fde4,#0cf5eb,#09f1ee,#06edf1,#02e8f4,#02e8f4,#00e5f8,#00e5f8,#00e1fb,#00ddfe,#00d5ff,#00c8ff,#00b5ff,#009dff,#0081ff,#0061ff,#0041ff,#0029ff,#0011ff,#0001ff,#0000ff,#0000f1,#0000e8,#0000df,#0000da,#0000d6,#0000d6,#0000d1,#0000d1,#0000cd,#0000c8)"></i>
<i style="background:linear-gradient(90deg,#0014ff,#0004ff,#0004ff,#0014ff,#0031ff,#0059ff,#0085ff,#00b5ff,#00e5f8,#26ffd1,#46ffb1,#63ff94,#7dff7a,#94ff63,#a7ff50,#b4ff43,#c1ff36,#c7ff30,#caff2c,#caff2c,#c7ff30,#c1ff36,#baff3c,#b4ff43,#b4ff43,#b1ff46,#adff49,#aaff4d,#a4ff53,#9dff5a,#90ff66,#87ff70,#7dff7a,#77ff80,#70ff87,#6aff8d,#66ff90,#5dff9a,#53ffa4,#46ffb1,#39ffbe,#2cffca,#23ffd4,#19ffde,#13fde4,#0cf5eb,#09f1ee,#06edf1,#02e8f4,#02e8f4,#00e5f8,#00e5f8,#00e1fb,#00ddfe,#00d9ff,#00c8ff,#00b5ff,#009dff,#0081ff,#0061ff,#0041ff,#0029ff,#0011ff,#0001ff,#0000ff,#0000f1,#0000e3,#0000df,#0000da,#0000d6,#0000d1,#0000d1,#0000cd,#0000cd,#0000c8)"></i>
<i style="background:linear-gradient(90deg,#0014ff,#0004ff,#0004ff,#0014ff,#0031ff,#0059ff,#0085ff,#00b5ff,#02e8f4,#29ffce,#4dffaa,#6aff8d,#83ff73,#9aff5d,#adff49,#baff3c,#c7ff30,#ceff29,#d1ff26,#d1ff26,#ceff29,#c7ff30,#c1ff36,#baff3c,#b7ff40,#b7ff40,#b4ff43,#b1ff46,#aaff4d,#a0ff56,#97ff60,#8aff6d,#80ff77,#7aff7d,#73ff83,#6dff8a,#6aff8d,#60ff97,#56ffa0,#49ffad,#39ffbe,#2cffca,#23ffd4,#19ffde,#13fde4,#0cf5eb,#09f1ee,#06edf1,#02e8f4,#02e8f4,#00e5f8,#00e5f8,#00e1fb,#00e1fb,#00d9ff,#00cdff,#00b9ff,#009dff,#0081ff,#0061ff,#0044ff,#0029ff,#0011ff,#0001ff,#0000ff,#0000f1,#0000e3,#0000df,#0000d6,#0000d6,#0000d1,#0000d1,#0000cd,#0000c8,#0000c8)"></i>
<i style="background:linear-gradient(90deg,#0014ff,#0001ff,#0001ff,#0011ff,#0031ff,#0059ff,#0085ff,#00b9ff,#06edf1,#2cffca,#50ffa7,#6dff8a,#8aff6d,#a0ff56,#b4ff43,#c1ff36,#ceff29,#d4ff23,#d7ff1f,#d7ff1f,#d4ff23,#ceff29,#c7ff30,#c1ff36,#beff39,#baff3c,#baff3c,#b7ff40,#b1ff46,#a7ff50,#9aff5d,#90ff66,#83ff73,#7dff7a,#77ff80,#73ff83,#6dff8a,#63ff94,#56ffa0,#49ffad,#3cffba,#2cffca,#23ffd4,#19ffde,#13fde4,#0cf5eb,#09f1ee,#06edf1,#02e8f4,#02e8f4,#00e5f8,#00e5f8,#00e1fb,#00e1fb,#00d9ff,#00cdff,#00b9ff,#009dff,#0081ff,#0061ff,#0044ff,#0029ff,#0011ff,#0000ff,#0000ff,#0000ed,#0000e3,#0000da,#0000d6,#0000d1,#0000d1,#0000cd,#0000cd,#0000c8,#0000c4)"></i>
<i style="background:linear-gradient(90deg,#0014ff,#0001ff,#0001ff,#0011ff,#0031ff,#0059ff,#0085ff,#00b9ff,#06edf1,#30ffc7,#53ffa4,#73ff83,#8dff6a,#a4ff53,#b7ff40,#c7ff30,#d4ff23,#dbff1c,#deff19,#deff19,#dbff1c,#d4ff23,#ceff29,#c7ff30,#c4ff33,#c1ff36,#beff39,#baff3c,#b4ff43,#aaff4d,#a0ff56,#94ff63,#8aff6d,#80ff77,#7aff7d,#77ff80,#70ff87,#66ff90,#5aff9d,#4dffaa,#3cffba,#30ffc7,#23ffd4,#19ffde,#13fde4,#0cf5eb,#09f1ee,#06edf1,#02e8f4,#02e8f4,#00e5f8,#00e5f8,#00e5f8,#00e1fb,#00d9ff,#00cdff,#00b9ff,#00a1ff,#0081ff,#0061ff,#0044ff,#0029ff,#0011ff,#0000ff,#0000fa,#0000ed,#0000e3,#0000da,#0000d6,#0000d1,#0000cd,#0000cd,#0000c8,#0000c8,#0000c4)"></i>
<i style="background:linear-gradient(90deg,#0014ff,#0001ff,#0001ff,#0011ff,#0031ff,#0059ff,#0088ff,#00bdff,#09f1ee,#30ffc7,#56ffa0,#77ff80,#94ff63,#aaff4d,#beff39,#ceff29,#dbff1c,#e1ff16,#e4ff13,#e4ff13,#deff19,#d7ff1f,#d1ff26,#ceff29,#c7ff30,#c7ff30,#c4ff33,#c1ff36,#baff3c,#b1ff46,#a4ff53,#97ff60,#8dff6a,#83ff73,#80ff77,#7aff7d,#73ff83,#6aff8d,#5dff9a,#4dffaa,#40ffb7,#30ffc7,#23ffd4,#19ffde,#13fde4,#0cf5eb,#09f1ee,#06edf1,#02e8f4,#02e8f4,#00e5f8,#00e5f8,#00e5f8,#00e1fb,#00d9ff,#00cdff,#00b9ff,#00a1ff,#0081ff,#0061ff,#0044ff,#0029ff,#0011ff,#0000ff,#0000fa,#0000ed,#0000e3,#0000da,#0000d6,#0000d1,#0000cd,#0000cd,#0000c8,#0000c8,#0000c4)"></i>
<i style="background:linear-gradient(90deg,#0014ff,#0001ff,#0001ff,#0011ff,#0031ff,#0059ff,#0088ff,#00bdff,#09f1ee,#33ffc4,#5aff9d,#7aff7d,#97ff60,#b1ff46,#c4ff33,#d4ff23,#e1ff16,#e7ff0f,#ebff0c,#ebff0c,#e4ff13,#deff19,#d7ff1f,#d1ff26,#ceff29,#caff2c,#caff2c,#c4ff33,#beff39,#b4ff43,#a7ff50,#9dff5a,#90ff66,#8aff6d,#83ff73,#7dff7a,#77ff80,#6dff8a,#60ff97,#50ffa7,#40ffb7,#30ffc7,#23ffd4,#19ffde,#13fde4,#0cf5eb,#09f1ee,#06edf1,#02e8f4,#02e8f4,#00e5f8,#00e5f8,#00e5f8,#00e1fb,#00ddfe,#00d1ff,#00bdff,#00a1ff,#0081ff,#0061ff,#0044ff,#0029ff,#0011ff,#0000ff,#0000fa,#0000ed,#0000e3,#0000da,#0000d1,#0000cd,#0000cd,#0000c8,#0000c8,#0000c4,#0000c4)"></i>
<i style="background:linear-gradient(90deg,#0011ff,#0000ff,#0001ff,#0011ff,#002dff,#0059ff,#0088ff,#00bdff,#0cf5eb,#36ffc1,#5dff9a,#80ff77,#9dff5a,#b7ff40,#caff2c,#dbff1c,#e7ff0f,#eeff09,#f1fc06,#f1fc06,#ebff0c,#e4ff13,#deff19,#d7ff1f,#d4ff23,#d1ff26,#ceff29,#caff2c,#c4ff33,#b7ff40,#adff49,#a0ff56,#97ff60,#8dff6a,#87ff70,#80ff77,#7aff7d,#70ff87,#60ff97,#53ffa4,#40ffb7,#33ffc4,#26ffd1,#19ffde,#13fde4,#0cf5eb,#09f1ee,#06edf1,#02e8f4,#02e8f4,#00e5f8,#00e5f8,#00e5f8,#00e1fb,#00ddfe,#00d1ff,#00bdff,#00a1ff,#0081ff,#0061ff,#0044ff,#0029ff,#0011ff,#0000ff,#0000fa,#0000ed,#0000df,#0000da,#0000d1,#0000cd,#0000c8,#0000c8,#0000c4,#0000c4,#0000bf)"></i>
<i style="background:linear-gradient(90deg,#0011ff,#0000ff,#0000ff,#0011ff,#002dff,#0059ff,#0088ff,#00c1ff,#0ff9e7,#39ffbe,#60ff97,#83ff73,#a0ff56,#baff3c,#d1ff26,#e1ff16,#eeff09,#f4f802,#f8f500,#f8f500,#f1fc06,#ebff0c,#e4ff13,#deff19,#dbff1c,#d7ff1f,#d4ff23,#ceff29,#c7ff30,#beff39,#b1ff46,#a4ff53,#9aff5d,#90ff66,#8aff6d,#83ff73,#7dff7a,#70ff87,#63ff94,#53ffa4,#43ffb4,#33ffc4,#26ffd1,#19ffde,#13fde4,#0cf5eb,#09f1ee,#06edf1,#02e8f4,#02e8f4,#02e8f4,#00e5f8,#00e5f8,#00e5f8,#00ddfe,#00d1ff,#00bdff,#00a1ff,#0085ff,#0061ff,#0044ff,#0029ff,#0011ff,#0000ff,#0000fa,#0000ed,#0000df,#0000d6,#0000d1,#0000cd,#0000c8,#0000c4,#0000c4,#0000c4,#0000bf)"></i>
<i style="background:linear-gradient(90deg,#0011ff,#0000ff,#0000ff,#0011ff,#002dff,#0059ff,#0088ff,#00c1ff,#0ff9e7,#3cffba,#63ff94,#87ff70,#a7ff50,#c1ff36,#d7ff1f,#e7ff0f,#f4f802,#fbf100,#feed00,#fbf100,#f8f500,#f1fc06,#ebff0c,#e4ff13,#deff19,#dbff1c,#d7ff1f,#d4ff23,#caff2c,#c1ff36,#b4ff43,#aaff4d,#9dff5a,#94ff63,#8dff6a,#87ff70,#80ff77,#73ff83,#66ff90,#56ffa0,#43ffb4,#33ffc4,#26ffd1,#1cffdb,#13fde4,#0cf5eb,#09f1ee,#06edf1,#02e8f4,#02e8f4,#02e8f4,#02e8f4,#02e8f4,#00e5f8,#00e1fb,#00d5ff,#00c1ff,#00a5ff,#0085ff,#0064ff,#0044ff,#0029ff,#0011ff,#0000ff,#0000fa,#0000ed,#0000df,#0000d6,#0000d1,#0000c8,#0000c8,#0000c4,#0000c4,#0000bf,#0000bf)"></i>
<i style="background:linear-gradient(90deg,#0011ff,#0000ff,#0000ff,#000dff,#002dff,#0059ff,#008dff,#00c1ff,#13fde4,#3cffba,#66ff90,#8aff6d,#aaff4d,#c7ff30,#deff19,#eeff09,#fbf100,#ffea00,#ffe600,#ffea00,#feed00,#f8f500,#eeff09,#e7ff0f,#e4ff13,#e1ff16,#deff19,#d7ff1f,#d1ff26,#c4ff33,#baff3c,#adff49,#a0ff56,#9aff5d,#90ff66,#8aff6d,#83ff73,#77ff80,#6aff8d,#56ffa0,#46ffb1,#36ffc1,#26ffd1,#1cffdb,#13fde4,#0cf5eb,#09f1ee,#06edf1,#02e8f4,#02e8f4,#02e8f4,#02e8f4,#02e8f4,#00e5f8,#00e1fb,#00d5ff,#00c1ff,#00a5ff,#0085ff,#0064ff,#0044ff,#0029ff,#0011ff,#0000ff,#0000fa,#0000ed,#0000df,#0000d6,#0000cd,#0000c8,#0000c4,#0000c4,#0000bf,#0000bf,#0000bf)"></i>
<i style="background:linear-gradient(90deg,#0011ff,#0000ff,#0000ff,#000dff,#002dff,#0059ff,#008dff,#00c5ff,#13fde4,#40ffb7,#6aff8d,#90ff66,#b1ff46,#caff2c,#e1ff16,#f4f802,#feed00,#ffe200,#ffe200,#ffe200,#ffea00,#fbf100,#f4f802,#eeff09,#ebff0c,#e4ff13,#e1ff16,#dbff1c,#d4ff23,#caff2c,#beff39,#b1ff46,#a7ff50,#9dff5a,#97ff60,#8dff6a,#87ff70,#7aff7d,#6aff8d,#5aff9d,#46ffb1,#36ffc1,#29ffce,#1cffdb,#13fde4,#0cf5eb,#09f1ee,#06edf1,#02e8f4,#02e8f4,#02e8f4,#02e8f4,#02e8f4,#02e8f4,#00e1fb,#00d5ff,#00c1ff,#00a5ff,#0085ff,#0064ff,#0044ff,#0029ff,#0011ff,#0000ff,#0000fa,#0000ed,#0000df,#0000d6,#0000cd,#0000c8,#0000c4,#0000bf,#0000bf,#0000bf,#0000bb)"></i>
<i style="background:linear-gradient(90deg,#0011ff,#0000ff,#0000ff,#000dff,#002dff,#0059ff,#008dff,#00c5ff,#16ffe1,#43ffb4,#6dff8a,#94ff63,#b4ff43,#d1ff26,#e7ff0f,#f8f500,#ffe600,#ffde00,#ffdb00,#ffdb00,#ffe200,#ffea00,#fbf100,#f4f802,#eeff09,#ebff0c,#e7ff0f,#e1ff16,#d7ff1f,#ceff29,#c1ff36,#b7ff40,#aaff4d,#a0ff56,#9aff5d,#94ff63,#8aff6d,#7dff7a,#6dff8a,#5dff9a,#49ffad,#36ffc1,#29ffce,#1cffdb,#13fde4,#0cf5eb,#09f1ee,#06edf1,#02e8f4,#02e8f4,#02e8f4,#02e8f4,#06edf1,#02e8f4,#00e5f8,#00d9ff,#00c5ff,#00a8ff,#0088ff,#0064ff,#0044ff,#0029ff,#0011ff,#0000ff,#0000fa,#0000e8,#0000df,#0000d1,#0000cd,#0000c4,#0000c4,#0000bf,#0000bf,#0000bb,#0000bb)"></i>
<i style="background:linear-gradient(90deg,#0011ff,#0000ff,#0000ff,#000dff,#002dff,#0059ff,#008dff,#00c5ff,#16ffe1,#43ffb4,#70ff87,#97ff60,#baff3c,#d7ff1f,#eeff09,#feed00,#ffde00,#ffd700,#ffd300,#ffd700,#ffdb00,#ffe200,#ffea00,#fbf100,#f4f802,#f1fc06,#ebff0c,#e4ff13,#deff19,#d1ff26,#c7ff30,#baff3c,#adff49,#a7ff50,#9dff5a,#97ff60,#8dff6a,#80ff77,#70ff87,#5dff9a,#49ffad,#39ffbe,#29ffce,#1cffdb,#13fde4,#0cf5eb,#09f1ee,#06edf1,#02e8f4,#02e8f4,#02e8f4,#06edf1,#06edf1,#06edf1,#00e5f8,#00d9ff,#00c5ff,#00a8ff,#0088ff,#0064ff,#0044ff,#0029ff,#0011ff,#0000ff,#0000fa,#0000e8,#0000da,#0000d1,#0000c8,#0000c4,#0000bf,#0000bf,#0000bb,#0000bb,#0000bb)"></i>
<i style="background:linear-gradient(90deg,#0011ff,#0000ff,#0000ff,#000dff,#002dff,#0059ff,#008dff,#00c8ff,#16ffe1,#46ffb1,#73ff83,#9aff5d,#beff39,#dbff1c,#f1fc06,#ffe600,#ffd700,#ffd000,#ffd000,#ffd000,#ffd300,#ffdb00,#ffe200,#ffea00,#fbf100,#f4f802,#f1fc06,#ebff0c,#e1ff16,#d7ff1f,#caff2c,#beff39,#b4ff43,#aaff4d,#a0ff56,#9aff5d,#90ff66,#83ff73,#73ff83,#60ff97,#4dffaa,#39ffbe,#29ffce,#1fffd7,#16ffe1,#0cf5eb,#09f1ee,#06edf1,#02e8f4,#02e8f4,#06edf1,#06edf1,#06edf1,#06edf1,#02e8f4,#00ddfe,#00c8ff,#00adff,#0088ff,#0064ff,#0044ff,#0029ff,#0011ff,#0000ff,#0000fa,#0000e8,#0000da,#0000d1,#0000c8,#0000c4,#0000bf,#0000bb,#0000bb,#0000bb,#0000bb)"></i>
<i style="background:linear-gradient(90deg,#0011ff,#0000ff,#0000ff,#000dff,#002dff,#0059ff,#008dff,#00c8ff,#19ffde,#49ffad,#77ff80,#9dff5a,#c1ff36,#e1ff16,#f8f500,#ffde00,#ffd300,#ffcc00,#ffc800,#ffc800,#ffd000,#ffd300,#ffde00,#ffe600,#ffea00,#fbf100,#f4f802,#eeff09,#e4ff13,#dbff1c,#ceff29,#c4ff33,#b7ff40,#adff49,#a7ff50,#9dff5a,#94ff63,#87ff70,#77ff80,#63ff94,#50ffa7,#3cffba,#2cffca,#1fffd7,#16ffe1,#0cf5eb,#09f1ee,#06edf1,#06edf1,#06edf1,#06edf1,#06edf1,#09f1ee,#09f1ee,#06edf1,#00e1fb,#00c8ff,#00adff,#0088ff,#0064ff,#0044ff,#0029ff,#0011ff,#0000ff,#0000f6,#0000e8,#0000da,#0000d1,#0000c8,#0000bf,#0000bb,#0000bb,#0000b6,#0000b6,#0000bb)"></i>
<i style="background:linear-gradient(90deg,#0011ff,#0000ff,#0000ff,#000dff,#002dff,#0059ff,#0091ff,#00c8ff,#19ffde,#49ffad,#77ff80,#a0ff56,#c7ff30,#e4ff13,#feed00,#ffdb00,#ffcc00,#ffc400,#ffc100,#ffc400,#ffc800,#ffd000,#ffd700,#ffde00,#ffe600,#ffea00,#fbf100,#f1fc06,#ebff0c,#deff19,#d4ff23,#c7ff30,#beff39,#b4ff43,#aaff4d,#a0ff56,#97ff60,#8aff6d,#77ff80,#63ff94,#50ffa7,#3cffba,#2cffca,#1fffd7,#16ffe1,#0ff9e7,#09f1ee,#06edf1,#06edf1,#06edf1,#06edf1,#09f1ee,#09f1ee,#09f1ee,#06edf1,#00e1fb,#00cdff,#00adff,#008dff,#0069ff,#0044ff,#0029ff,#0011ff,#0000ff,#0000f6,#0000e8,#0000da,#0000d1,#0000c8,#0000bf,#0000bb,#0000b6,#0000b6,#0000b6,#0000b6)"></i>
<i style="background:linear-gradient(90deg,#000dff,#0000ff,#0000ff,#000dff,#002dff,#0059ff,#0091ff,#00c8ff,#1cffdb,#4dffaa,#7aff7d,#a4ff53,#caff2c,#ebff0c,#ffea00,#ffd300,#ffc400,#ffbd00,#ffbd00,#ffbd00,#ffc100,#ffc800,#ffd000,#ffd700,#ffde00,#ffe600,#feed00,#f8f500,#eeff09,#e4ff13,#d7ff1f,#caff2c,#c1ff36,#b7ff40,#adff49,#a4ff53,#9aff5d,#8aff6d,#7aff7d,#66ff90,#53ffa4,#40ffb7,#30ffc7,#1fffd7,#16ffe1,#0ff9e7,#09f1ee,#06edf1,#06edf1,#06edf1,#06edf1,#09f1ee,#0cf5eb,#0cf5eb,#09f1ee,#00e5f8,#00cdff,#00b1ff,#008dff,#0069ff,#0044ff,#0029ff,#000dff,#0000ff,#0000f6,#0000e8,#0000da,#0000cd,#0000c4,#0000bf,#0000bb,#0000b6,#0000b6,#0000b6,#0000b6)"></i>
<i style="background:linear-gradient(90deg,#000dff,#0000ff,#0000ff,#000dff,#002dff,#005dff,#0091ff,#00cdff,#1cffdb,#50ffa7,#7dff7a,#a7ff50,#ceff29,#eeff09,#ffe200,#ffcc00,#ffc100,#ffb900,#ffb600,#ffb600,#ffb900,#ffc100,#ffc800,#ffd000,#ffd700,#ffde00,#ffe600,#fbf100,#f1fc06,#e7ff0f,#dbff1c,#d1ff26,#c4ff33,#baff3c,#b1ff46,#a7ff50,#9dff5a,#8dff6a,#7dff7a,#6aff8d,#53ffa4,#40ffb7,#30ffc7,#23ffd4,#16ffe1,#0ff9e7,#09f1ee,#06edf1,#06edf1,#06edf1,#09f1ee,#09f1ee,#0cf5eb,#0cf5eb,#09f1ee,#00e5f8,#00d1ff,#00b1ff,#008dff,#0069ff,#0044ff,#0029ff,#000dff,#0000ff,#0000f6,#0000e8,#0000da,#0000cd,#0000c4,#0000bb,#0000b6,#0000b6,#0000b2,#0000b2,#0000b6)"></i>
<i style="background:linear-gradient(90deg,#000dff,#0000ff,#0000ff,#000dff,#002dff,#005dff,#0091ff,#00cdff,#1fffd7,#50ffa7,#80ff77,#aaff4d,#d1ff26,#f4f802,#ffde00,#ffc800,#ffb900,#ffb200,#ffae00,#ffb200,#ffb600,#ffb900,#ffc100,#ffc800,#ffd000,#ffdb00,#ffe200,#feed00,#f8f500,#ebff0c,#e1ff16,#d4ff23,#caff2c,#c1ff36,#b7ff40,#adff49,#a0ff56,#90ff66,#80ff77,#6aff8d,#56ffa0,#43ffb4,#30ffc7,#23ffd4,#16ffe1,#0ff9e7,#09f1ee,#06edf1,#06edf1,#06edf1,#09f1ee,#0cf5eb,#0ff9e7,#0ff9e7,#0cf5eb,#02e8f4,#00d5ff,#00b5ff,#0091ff,#0069ff,#0044ff,#0024ff,#000dff,#0000ff,#0000f6,#0000e8,#0000d6,#0000cd,#0000c4,#0000bb,#0000b6,#0000b2,#0000b2,#0000b2,#0000b6)"></i>
<i style="background:linear-gradient(90deg,#000dff,#0000ff,#0000ff,#000dff,#002dff,#005dff,#0091ff,#00cdff,#1fffd7,#53ffa4,#83ff73,#b1ff46,#d7ff1f,#f8f500,#ffd700,#ffc100,#ffb600,#ffae00,#ffab00,#ffab00,#ffae00,#ffb200,#ffb900,#ffc100,#ffcc00,#ffd300,#ffdb00,#ffe600,#fbf100,#f1fc06,#e4ff13,#dbff1c,#ceff29,#c4ff33,#baff3c,#b1ff46,#a4ff53,#94ff63,#80ff77,#6dff8a,#5aff9d,#43ffb4,#33ffc4,#23ffd4,#19ffde,#0ff9e7,#09f1ee,#06edf1,#06edf1,#06edf1,#09f1ee,#0cf5eb,#0ff9e7,#13fde4,#0ff9e7,#06edf1,#00d5ff,#00b5ff,#0091ff,#0069ff,#0044ff,#0024ff,#000dff,#0000ff,#0000f6,#0000e3,#0000d6,#0000cd,#0000bf,#0000bb,#0000b2,#0000b2,#0000ad,#0000b2,#0000b2)"></i>
<i style="background:linear-gradient(90deg,#000dff,#0000ff,#0000ff,#000dff,#002dff,#005dff,#0091ff,#00d1ff,#23ffd4,#56ffa0,#87ff70,#b4ff43,#dbff1c,#fbf100,#ffd000,#ffbd00,#ffae00,#ffa700,#ffa300,#ffa300,#ffa700,#ffae00,#ffb200,#ffb900,#ffc400,#ffcc00,#ffd700,#ffe200,#feed00,#f4f802,#ebff0c,#deff19,#d4ff23,#caff2c,#beff39,#b4ff43,#a7ff50,#97ff60,#83ff73,#70ff87,#5aff9d,#46ffb1,#33ffc4,#26ffd1,#19ffde,#0ff9e7,#09f1ee,#06edf1,#06edf1,#09f1ee,#09f1ee,#0ff9e7,#13fde4,#13fde4,#0ff9e7,#06edf1,#00d9ff,#00b9ff,#0091ff,#0069ff,#0044ff,#0024ff,#000dff,#0000ff,#0000f6,#0000e3,#0000d6,#0000c8,#0000bf,#0000b6,#0000b2,#0000ad,#0000ad,#0000ad,#0000b2)"></i>
<i style="background:linear-gradient(90deg,#000dff,#0000ff,#0000ff,#000dff,#002dff,#005dff,#0095ff,#00d1ff,#23ffd4,#56ffa0,#8aff6d,#b7ff40,#deff19,#ffea00,#ffcc00,#ffb600,#ffab00,#ffa300,#ff9f00,#ff9f00,#ffa300,#ffa700,#ffab00,#ffb200,#ffbd00,#ffc400,#ffd000,#ffdb00,#ffe600,#f8f500,#eeff09,#e4ff13,#d7ff1f,#ceff29,#c4ff33,#b7ff40,#aaff4d,#9aff5d,#87ff70,#70ff87,#5dff9a,#46ffb1,#36ffc1,#26ffd1,#19ffde,#0ff9e7,#09f1ee,#06edf1,#06edf1,#09f1ee,#0cf5eb,#0ff9e7,#13fde4,#16ffe1,#13fde4,#09f1ee,#00d9ff,#00b9ff,#0091ff,#0069ff,#0044ff,#0024ff,#000dff,#0000ff,#0000f6,#0000e3,#0000d6,#0000c8,#0000bf,#0000b6,#0000b2,#0000ad,#0000ad,#0000ad,#0000b2)"></i>
<i style="background:linear-gradient(90deg,#000dff,#0000ff,#0000ff,#000dff,#002dff,#005dff,#0095ff,#00d1ff,#26ffd1,#5aff9d,#8aff6d,#baff3c,#e1ff16,#ffe600,#ffc800,#ffb200,#ffa300,#ff9c00,#ff9800,#ff9800,#ff9c00,#ff9f00,#ffa300,#ffab00,#ffb600,#ffc100,#ffc800,#ffd700,#ffe200,#feed00,#f4f802,#e7ff0f,#deff19,#d4ff23,#c7ff30,#baff3c,#adff49,#9dff5a,#8aff6d,#73ff83,#5dff9a,#49ffad,#36ffc1,#26ffd1,#19ffde,#0ff9e7,#09f1ee,#06edf1,#06edf1,#09f1ee,#0cf5eb,#13fde4,#16ffe1,#19ffde,#16ffe1,#0cf5eb,#00ddfe,#00b9ff,#0095ff,#0069ff,#0044ff,#0024ff,#000dff,#0000ff,#0000f6,#0000e3,#0000d6,#0000c8,#0000bf,#0000b6,#0000ad,#0000ad,#0000a8,#0000ad,#0000b2)"></i>
<i style="background:linear-gradient(90deg,#000dff,#0000ff,#0000ff,#0009ff,#002dff,#005dff,#0095ff,#00d5ff,#26ffd1,#5dff9a,#8dff6a,#beff39,#e7ff0f,#ffe200,#ffc100,#ffab00,#ff9f00,#ff9800,#ff9400,#ff9400,#ff9400,#ff9800,#ff9f00,#ffa300,#ffae00,#ffb900,#ffc400,#ffd000,#ffdb00,#ffea00,#f8f500,#eeff09,#e4ff13,#d7ff1f,#caff2c,#beff39,#b1ff46,#a0ff56,#8aff6d,#77ff80,#60ff97,#4dffaa,#39ffbe,#29ffce,#19ffde,#0ff9e7,#09f1ee,#06edf1,#06edf1,#09f1ee,#0cf5eb,#13fde4,#19ffde,#19ffde,#16ffe1,#0cf5eb,#00ddfe,#00bdff,#0095ff,#006dff,#0044ff,#0024ff,#000dff,#0000ff,#0000f6,#0000e3,#0000d6,#0000c8,#0000bb,#0000b2,#0000ad,#0000a8,#0000a8,#0000a8,#0000b2)"></i>
<i style="background:linear-gradient(90deg,#0009ff,#0000ff,#0000ff,#0009ff,#002dff,#005dff,#0095ff,#00d5ff,#29ffce,#5dff9a,#90ff66,#c1ff36,#ebff0c,#ffdb00,#ffbd00,#ffa700,#ff9800,#ff9100,#ff8d00,#ff8d00,#ff8d00,#ff9100,#ff9800,#ff9c00,#ffa700,#ffb200,#ffbd00,#ffc800,#ffd700,#ffe200,#feed00,#f4f802,#e7ff0f,#deff19,#d1ff26,#c4ff33,#b4ff43,#a0ff56,#8dff6a,#7aff7d,#63ff94,#4dffaa,#39ffbe,#29ffce,#1cffdb,#0ff9e7,#09f1ee,#06edf1,#06edf1,#09f1ee,#0ff9e7,#16ffe1,#19ffde,#1cffdb,#19ffde,#0ff9e7,#00e1fb,#00bdff,#0095ff,#006dff,#0044ff,#0024ff,#000dff,#0000ff,#0000f1,#0000e3,#0000d6,#0000c8,#0000bb,#0000b2,#0000ad,#0000a8,#0000a8,#0000a8,#0000ad)"></i>
<i style="background:linear-gradient(90deg,#0009ff,#0000ff,#0000ff,#0009ff,#002dff,#005dff,#0095ff,#00d5ff,#29ffce,#60ff97,#94ff63,#c4ff33,#eeff09,#ffd700,#ffb600,#ff9f00,#ff9400,#ff8d00,#ff8900,#ff8600,#ff8900,#ff8900,#ff9100,#ff9400,#ff9f00,#ffab00,#ffb600,#ffc400,#ffd000,#ffdb00,#ffea00,#f8f500,#eeff09,#e1ff16,#d4ff23,#c7ff30,#b7ff40,#a4ff53,#90ff66,#7aff7d,#66ff90,#50ffa7,#3cffba,#29ffce,#1cffdb,#0ff9e7,#09f1ee,#06edf1,#06edf1,#09f1ee,#0ff9e7,#16ffe1,#1cffdb,#1fffd7,#1cffdb,#13fde4,#00e5f8,#00c1ff,#0095ff,#006dff,#0044ff,#0024ff,#0009ff,#0000ff,#0000f1,#0000e3,#0000d1,#0000c8,#0000bb,#0000b2,#0000a8,#0000a8,#0000a4,#0000a8,#0000ad)"></i>
<i style="background:linear-gradient(90deg,#0009ff,#0000ff,#0000ff,#0009ff,#002dff,#005dff,#0099ff,#00d9ff,#2cffca,#63ff94,#97ff60,#c7ff30,#f1fc06,#ffd300,#ffb200,#ff9c00,#ff8d00,#ff8600,#ff8200,#ff8200,#ff8200,#ff8200,#ff8900,#ff8d00,#ff9800,#ffa300,#ffae00,#ffbd00,#ffc800,#ffd700,#ffe200,#feed00,#f1fc06,#e7ff0f,#dbff1c,#caff2c,#baff3c,#a7ff50,#94ff63,#7dff7a,#66ff90,#53ffa4,#3cffba,#2cffca,#1cffdb,#0ff9e7,#09f1ee,#06edf1,#06edf1,#0cf5eb,#0ff9e7,#19ffde,#1cffdb,#1fffd7,#1fffd7,#16ffe1,#00e5f8,#00c1ff,#0099ff,#006dff,#0044ff,#0024ff,#0009ff,#0000ff,#0000f1,#0000e3,#0000d1,#0000c4,#0000bb,#0000b2,#0000a8,#0000a4,#0000a4,#0000a8,#0000ad)"></i>
<i style="background:linear-gradient(90deg,#0009ff,#0000ff,#0000ff,#0009ff,#002dff,#005dff,#0099ff,#00d9ff,#2cffca,#66ff90,#9aff5d,#caff2c,#f4f802,#ffcc00,#ffae00,#ff9800,#ff8900,#ff8200,#ff7e00,#ff7a00,#ff7a00,#ff7a00,#ff7e00,#ff8600,#ff9100,#ff9c00,#ffab00,#ffb600,#ffc400,#ffd000,#ffdb00,#ffe600,#f8f500,#ebff0c,#deff19,#ceff29,#beff39,#aaff4d,#97ff60,#80ff77,#6aff8d,#53ffa4,#40ffb7,#2cffca,#1cffdb,#0ff9e7,#09f1ee,#06edf1,#06edf1,#0cf5eb,#13fde4,#19ffde,#1fffd7,#23ffd4,#1fffd7,#16ffe1,#02e8f4,#00c5ff,#0099ff,#006dff,#0044ff,#0024ff,#0009ff,#0000ff,#0000f1,#0000e3,#0000d1,#0000c4,#0000bb,#0000ad,#0000a8,#0000a4,#0000a4,#0000a4,#0000ad)"></i>
<i style="background:linear-gradient(90deg,#0009ff,#0000ff,#0000ff,#0004ff,#002dff,#005dff,#0099ff,#00ddfe,#30ffc7,#66ff90,#9dff5a,#ceff29,#fbf100,#ffc800,#ffa700,#ff9100,#ff8600,#ff7a00,#ff7700,#ff7700,#ff7300,#ff7300,#ff7700,#ff7e00,#ff8900,#ff9400,#ffa300,#ffae00,#ffbd00,#ffc800,#ffd300,#ffe200,#feed00,#f1fc06,#e1ff16,#d1ff26,#c1ff36,#adff49,#97ff60,#83ff73,#6dff8a,#56ffa0,#43ffb4,#30ffc7,#1cffdb,#0ff9e7,#09f1ee,#06edf1,#06edf1,#0cf5eb,#13fde4,#1cffdb,#23ffd4,#26ffd1,#23ffd4,#19ffde,#06edf1,#00c5ff,#0099ff,#006dff,#0044ff,#0021ff,#0009ff,#0000ff,#0000f1,#0000df,#0000d1,#0000c4,#0000b6,#0000ad,#0000a8,#0000a4,#00009f,#0000a4,#0000ad)"></i>
<i style="background:linear-gradient(90deg,#0009ff,#0000ff,#0000ff,#0004ff,#0029ff,#005dff,#0099ff,#00ddfe,#33ffc4,#6aff8d,#a0ff56,#d1ff26,#feed00,#ffc400,#ffa300,#ff8d00,#ff7e00,#ff7700,#ff7300,#ff6f00,#ff6c00,#ff6c00,#ff6f00,#ff7700,#ff8200,#ff8d00,#ff9c00,#ffa700,#ffb600,#ffc100,#ffcc00,#ffdb00,#ffe600,#f8f500,#e7ff0f,#d7ff1f,#c4ff33,#b1ff46,#9aff5d,#83ff73,#6dff8a,#5aff9d,#43ffb4,#30ffc7,#1fffd7,#13fde4,#09f1ee,#06edf1,#06edf1,#0cf5eb,#13fde4,#1cffdb,#23ffd4,#29ffce,#26ffd1,#1cffdb,#06edf1,#00c8ff,#0099ff,#006dff,#0044ff,#0021ff,#0009ff,#0000ff,#0000f1,#0000df,#0000d1,#0000c4,#0000b6,#0000ad,#0000a4,#00009f,#00009f,#0000a4,#0000a8)"></i>
<i style="background:linear-gradient(90deg,#0004ff,#0000fa,#0000fa,#0004ff,#0029ff,#005dff,#0099ff,#00ddfe,#33ffc4,#6dff8a,#a4ff53,#d4ff23,#ffea00,#ffc100,#ff9f00,#ff8900,#ff7a00,#ff6f00,#ff6c00,#ff6800,#ff6800,#ff6400,#ff6800,#ff6f00,#ff7700,#ff8600,#ff9400,#ff9f00,#ffae00,#ffb900,#ffc400,#ffd300,#ffde00,#fbf100,#ebff0c,#dbff1c,#c7ff30,#b1ff46,#9dff5a,#87ff70,#70ff87,#5aff9d,#46ffb1,#33ffc4,#1fffd7,#13fde4,#09f1ee,#06edf1,#06edf1,#0cf5eb,#16ffe1,#1fffd7,#26ffd1,#29ffce,#29ffce,#1cffdb,#09f1ee,#00c8ff,#009dff,#006dff,#0041ff,#0021ff,#0009ff,#0000ff,#0000f1,#0000df,#0000d1,#0000c4,#0000b6,#0000ad,#0000a4,#00009f,#00009f,#0000a4,#0000a8)"></i>
<i style="background:linear-gradient(90deg,#0004ff,#0000fa,#0000fa,#0001ff,#0029ff,#005dff,#009dff,#00e1fb,#36ffc1,#70ff87,#a7ff50,#d7ff1f,#ffe600,#ffb900,#ff9c00,#ff8600,#ff7700,#ff6c00,#ff6800,#ff6400,#ff6000,#ff5d00,#ff6000,#ff6400,#ff6f00,#ff7e00,#ff8900,#ff9800,#ffa700,#ffb200,#ffc100,#ffcc00,#ffdb00,#ffea00,#f1fc06,#deff19,#caff2c,#b4ff43,#a0ff56,#8aff6d,#73ff83,#5dff9a,#46ffb1,#33ffc4,#1fffd7,#13fde4,#09f1ee,#06edf1,#06edf1,#0cf5eb,#16ffe1,#1fffd7,#29ffce,#2cffca,#29ffce,#1fffd7,#09f1ee,#00c8ff,#009dff,#006dff,#0041ff,#0021ff,#0004ff,#0000ff,#0000f1,#0000df,#0000d1,#0000c4,#0000b6,#0000ad,#0000a4,#00009f,#00009f,#00009f,#0000a8)"></i>
<i style="background:linear-gradient(90deg,#0004ff,#0000fa,#0000fa,#0001ff,#0029ff,#005dff,#009dff,#00e1fb,#39ffbe,#73ff83,#aaff4d,#dbff1c,#ffe200,#ffb600,#ff9400,#ff7e00,#ff6f00,#ff6800,#ff6000,#ff5d00,#ff5900,#ff5500,#ff5900,#ff5d00,#ff6800,#ff7300,#ff8200,#ff9100,#ff9f00,#ffab00,#ffb900,#ffc400,#ffd300,#ffe200,#f4f802,#e1ff16,#ceff29,#b7ff40,#a0ff56,#8dff6a,#77ff80,#60ff97,#49ffad,#33ffc4,#1fffd7,#13fde4,#06edf1,#06edf1,#06edf1,#0ff9e7,#16ffe1,#23ffd4,#29ffce,#30ffc7,#2cffca,#23ffd4,#0cf5eb,#00cdff,#009dff,#006dff,#0041ff,#0021ff,#0004ff,#0000ff,#0000ed,#0000df,#0000d1,#0000c4,#0000b6,#0000a8,#0000a4,#00009f,#00009b,#00009f,#0000a8)"></i>
<i style="background:linear-gradient(90deg,#0001ff,#0000f6,#0000f6,#0001ff,#0029ff,#005dff,#009dff,#00e5f8,#39ffbe,#77ff80,#adff49,#e1ff16,#ffde00,#ffb200,#ff9100,#ff7a00,#ff6c00,#ff6000,#ff5d00,#ff5500,#ff5200,#ff5200,#ff5200,#ff5500,#ff6000,#ff6c00,#ff7a00,#ff8900,#ff9800,#ffa300,#ffae00,#ffbd00,#ffcc00,#ffde00,#fbf100,#e4ff13,#d1ff26,#baff3c,#a4ff53,#8dff6a,#7aff7d,#63ff94,#4dffaa,#36ffc1,#23ffd4,#13fde4,#06edf1,#02e8f4,#06edf1,#0ff9e7,#19ffde,#23ffd4,#2cffca,#30ffc7,#30ffc7,#26ffd1,#0cf5eb,#00cdff,#009dff,#006dff,#0041ff,#001dff,#0004ff,#0000ff,#0000ed,#0000df,#0000d1,#0000bf,#0000b6,#0000a8,#00009f,#00009b,#00009b,#00009f,#0000a8)"></i>
<i style="background:linear-gradient(90deg,#0001ff,#0000f6,#0000f6,#0000ff,#0024ff,#005dff,#009dff,#00e5f8,#3cffba,#7aff7d,#b1ff46,#e4ff13,#ffdb00,#ffae00,#ff8d00,#ff7700,#ff6800,#ff5d00,#ff5500,#ff5200,#ff4a00,#ff4a00,#ff4a00,#ff4e00,#ff5500,#ff6400,#ff7300,#ff8200,#ff9100,#ff9c00,#ffa700,#ffb600,#ffc400,#ffd700,#feed00,#e7ff0f,#d1ff26,#baff3c,#a7ff50,#90ff66,#7aff7d,#63ff94,#4dffaa,#36ffc1,#23ffd4,#13fde4,#06edf1,#02e8f4,#06edf1,#0ff9e7,#19ffde,#26ffd1,#30ffc7,#33ffc4,#33ffc4,#26ffd1,#0ff9e7,#00d1ff,#00a1ff,#006dff,#0041ff,#001dff,#0004ff,#0000ff,#0000ed,#0000df,#0000d1,#0000bf,#0000b2,#0000a8,#00009f,#00009b,#00009b,#00009f,#0000a8)"></i>
<i style="background:linear-gradient(90deg,#0001ff,#0000f1,#0000f1,#0000ff,#0024ff,#005dff,#00a1ff,#02e8f4,#40ffb7,#7aff7d,#b4ff43,#e7ff0f,#ffd700,#ffab00,#ff8900,#ff7300,#ff6400,#ff5900,#ff5200,#ff4a00,#ff4700,#ff4300,#ff3f00,#ff4700,#ff4e00,#ff5d00,#ff6c00,#ff7a00,#ff8900,#ff9400,#ff9f00,#ffae00,#ffbd00,#ffd000,#ffea00,#ebff0c,#d4ff23,#beff39,#a7ff50,#94ff63,#7dff7a,#66ff90,#50ffa7,#39ffbe,#23ffd4,#13fde4,#06edf1,#02e8f4,#06edf1,#0ff9e7,#19ffde,#26ffd1,#30ffc7,#36ffc1,#33ffc4,#29ffce,#13fde4,#00d1ff,#00a1ff,#006dff,#0041ff,#001dff,#0004ff,#0000ff,#0000ed,#0000df,#0000cd,#0000bf,#0000b2,#0000a8,#00009f,#00009b,#00009b,#00009f,#0000a8)"></i>
<i style="background:linear-gradient(90deg,#0001ff,#0000f1,#0000f1,#0000ff,#0024ff,#005dff,#00a1ff,#02e8f4,#40ffb7,#7dff7a,#b7ff40,#ebff0c,#ffd300,#ffa700,#ff8600,#ff6f00,#ff5d00,#ff5200,#ff4a00,#ff4300,#ff3f00,#ff3b00,#ff3800,#ff3b00,#ff4700,#ff5200,#ff6400,#ff7300,#ff8200,#ff8d00,#ff9800,#ffa700,#ffb600,#ffcc00,#ffe200,#f1fc06,#d7ff1f,#c1ff36,#aaff4d,#94ff63,#80ff77,#6aff8d,#53ffa4,#39ffbe,#23ffd4,#13fde4,#06edf1,#02e8f4,#06edf1,#0ff9e7,#1cffdb,#29ffce,#33ffc4,#39ffbe,#36ffc1,#2cffca,#13fde4,#00d1ff,#00a1ff,#006dff,#0041ff,#001dff,#0001ff,#0000ff,#0000ed,#0000df,#0000cd,#0000bf,#0000b2,#0000a8,#00009f,#00009b,#00009b,#00009b,#0000a4)"></i>
<i style="background:linear-gradient(90deg,#0000ff,#0000ed,#0000ed,#0000ff,#0024ff,#005dff,#00a1ff,#06edf1,#43ffb4,#80ff77,#baff3c,#eeff09,#ffd000,#ffa300,#ff8200,#ff6c00,#ff5900,#ff4e00,#ff4700,#ff3f00,#ff3800,#ff3400,#ff3000,#ff3400,#ff3f00,#ff4a00,#ff5900,#ff6c00,#ff7a00,#ff8600,#ff9100,#ff9f00,#ffae00,#ffc400,#ffde00,#f4f802,#dbff1c,#c4ff33,#adff49,#97ff60,#80ff77,#6dff8a,#53ffa4,#3cffba,#23ffd4,#13fde4,#06edf1,#02e8f4,#06edf1,#0ff9e7,#1cffdb,#29ffce,#36ffc1,#39ffbe,#39ffbe,#2cffca,#16ffe1,#00d5ff,#00a1ff,#006dff,#0041ff,#001dff,#0001ff,#0000fa,#0000ed,#0000df,#0000cd,#0000bf,#0000b2,#0000a8,#00009f,#00009b,#000096,#00009b,#0000a4)"></i>
<i style="background:linear-gradient(90deg,#0000ff,#0000ed,#0000ed,#0000ff,#0021ff,#005dff,#00a1ff,#06edf1,#46ffb1,#83ff73,#beff39,#eeff09,#ffcc00,#ff9f00,#ff7e00,#ff6800,#ff5500,#ff4a00,#ff4300,#ff3800,#ff3000,#ff2d00,#ff2900,#ff2d00,#ff3400,#ff4300,#ff5200,#ff6000,#ff6f00,#ff7e00,#ff8900,#ff9800,#ffab00,#ffc100,#ffdb00,#f8f500,#deff19,#c4ff33,#adff49,#9aff5d,#83ff73,#6dff8a,#56ffa0,#3cffba,#26ffd1,#13fde4,#06edf1,#02e8f4,#06edf1,#0ff9e7,#1cffdb,#2cffca,#36ffc1,#3cffba,#3cffba,#30ffc7,#16ffe1,#00d5ff,#00a1ff,#006dff,#003dff,#0019ff,#0001ff,#0000fa,#0000ed,#0000da,#0000cd,#0000bf,#0000b2,#0000a8,#00009f,#00009b,#000096,#00009b,#0000a4)"></i>
<i style="background:linear-gradient(90deg,#0000ff,#0000ed,#0000e8,#0000ff,#0021ff,#005dff,#00a1ff,#06edf1,#46ffb1,#87ff70,#beff39,#f1fc06,#ffc800,#ff9c00,#ff7a00,#ff6400,#ff5200,#ff4700,#ff3b00,#ff3400,#ff2d00,#ff2500,#ff2200,#ff2500,#ff2d00,#ff3b00,#ff4a00,#ff5900,#ff6800,#ff7700,#ff8200,#ff9100,#ffa300,#ffb900,#ffd300,#fbf100,#e1ff16,#c7ff30,#b1ff46,#9aff5d,#87ff70,#70ff87,#56ffa0,#3cffba,#26ffd1,#13fde4,#06edf1,#00e5f8,#06edf1,#0ff9e7,#1fffd7,#2cffca,#39ffbe,#40ffb7,#3cffba,#33ffc4,#19ffde,#00d9ff,#00a1ff,#006dff,#003dff,#0019ff,#0001ff,#0000fa,#0000ed,#0000da,#0000cd,#0000bf,#0000b2,#0000a8,#00009f,#000096,#000096,#00009b,#0000a4)"></i>
<i style="background:linear-gradient(90deg,#0000ff,#0000e8,#0000e8,#0000ff,#0021ff,#005dff,#00a1ff,#09f1ee,#49ffad,#87ff70,#c1ff36,#f4f802,#ffc400,#ff9800,#ff7700,#ff6000,#ff4e00,#ff4300,#ff3800,#ff3000,#ff2500,#ff1e00,#ff1e00,#ff1e00,#ff2500,#ff3400,#ff4300,#ff5200,#ff6000,#ff6f00,#ff7a00,#ff8900,#ff9c00,#ffb600,#ffd000,#feed00,#e1ff16,#c7ff30,#b1ff46,#9dff5a,#8aff6d,#73ff83,#5aff9d,#40ffb7,#26ffd1,#13fde4,#02e8f4,#00e5f8,#06edf1,#13fde4,#1fffd7,#30ffc7,#39ffbe,#40ffb7,#40ffb7,#33ffc4,#19ffde,#00d9ff,#00a5ff,#006dff,#003dff,#0019ff,#0001ff,#0000fa,#0000e8,#0000da,#0000cd,#0000bf,#0000b2,#0000a4,#00009b,#000096,#000096,#00009b,#0000a4)"></i>
<i style="background:linear-gradient(90deg,#0000ff,#0000e8,#0000e8,#0000ff,#0021ff,#005dff,#00a5ff,#09f1ee,#49ffad,#8aff6d,#c4ff33,#f8f500,#ffc100,#ff9800,#ff7700,#ff5d00,#ff4a00,#ff3f00,#ff3400,#ff2900,#ff2200,#ff1a00,#ff1600,#ff1600,#ff1e00,#ff2d00,#ff3b00,#ff4a00,#ff5900,#ff6800,#ff7300,#ff8200,#ff9400,#ffae00,#ffcc00,#feed00,#e4ff13,#caff2c,#b4ff43,#9dff5a,#8aff6d,#73ff83,#5dff9a,#40ffb7,#26ffd1,#13fde4,#02e8f4,#00e5f8,#06edf1,#13fde4,#1fffd7,#30ffc7,#3cffba,#43ffb4,#43ffb4,#36ffc1,#1cffdb,#00d9ff,#00a5ff,#006dff,#003dff,#0019ff,#0000ff,#0000fa,#0000e8,#0000da,#0000cd,#0000bf,#0000b2,#0000a4,#00009b,#000096,#000096,#00009b,#0000a4)"></i>
<i style="background:linear-gradient(90deg,#0000ff,#0000e3,#0000e3,#0000ff,#001dff,#005dff,#00a5ff,#0cf5eb,#4dffaa,#8dff6a,#c7ff30,#fbf100,#ffbd00,#ff9400,#ff7300,#ff5900,#ff4700,#ff3b00,#ff3000,#ff2500,#ff1a00,#ff1300,#fa0f00,#fa0f00,#ff1600,#ff2200,#ff3400,#ff4300,#ff5200,#ff5d00,#ff6c00,#ff7a00,#ff9100,#ffab00,#ffc800,#ffea00,#e7ff0f,#caff2c,#b4ff43,#a0ff56,#8dff6a,#77ff80,#5dff9a,#43ffb4,#26ffd1,#0ff9e7,#02e8f4,#00e5f8,#06edf1,#13fde4,#23ffd4,#33ffc4,#40ffb7,#46ffb1,#43ffb4,#36ffc1,#1cffdb,#00d9ff,#00a5ff,#006dff,#003dff,#0019ff,#0000ff,#0000fa,#0000e8,#0000da,#0000cd,#0000bf,#0000b2,#0000a4,#00009b,#000096,#000096,#00009b,#0000a4)"></i>
<i style="background:linear-gradient(90deg,#0000ff,#0000e3,#0000e3,#0000ff,#001dff,#005dff,#00a5ff,#0cf5eb,#4dffaa,#8dff6a,#c7ff30,#fbf100,#ffbd00,#ff9100,#ff6f00,#ff5500,#ff4300,#ff3800,#ff2d00,#ff2200,#ff1600,#fa0f00,#f10800,#f10800,#fa0f00,#ff1a00,#ff2900,#ff3b00,#ff4a00,#ff5500,#ff6400,#ff7700,#ff8900,#ffa300,#ffc400,#ffe600,#e7ff0f,#ceff29,#b7ff40,#a0ff56,#8dff6a,#77ff80,#60ff97,#43ffb4,#29ffce,#0ff9e7,#02e8f4,#00e5f8,#06edf1,#13fde4,#23ffd4,#33ffc4,#40ffb7,#46ffb1,#46ffb1,#39ffbe,#1fffd7,#00ddfe,#00a5ff,#006dff,#003dff,#0014ff,#0000ff,#0000f6,#0000e8,#0000da,#0000cd,#0000bf,#0000b2,#0000a4,#00009b,#000096,#000096,#00009b,#0000a4)"></i>
<i style="background:linear-gradient(90deg,#0000ff,#0000e3,#0000df,#0000ff,#001dff,#005dff,#00a5ff,#0cf5eb,#50ffa7,#90ff66,#caff2c,#feed00,#ffb900,#ff9100,#ff6c00,#ff5500,#ff4300,#ff3400,#ff2900,#ff1e00,#ff1300,#f10800,#ed0400,#ed0400,#f10800,#ff1300,#ff2200,#ff3400,#ff4300,#ff5200,#ff5d00,#ff6f00,#ff8600,#ff9f00,#ffc100,#ffe200,#ebff0c,#ceff29,#b7ff40,#a4ff53,#90ff66,#7aff7d,#60ff97,#43ffb4,#29ffce,#0ff9e7,#02e8f4,#00e5f8,#06edf1,#13fde4,#23ffd4,#36ffc1,#43ffb4,#49ffad,#46ffb1,#39ffbe,#1fffd7,#00ddfe,#00a5ff,#006dff,#003dff,#0014ff,#0000ff,#0000f6,#0000e8,#0000da,#0000cd,#0000bf,#0000b2,#0000a4,#00009b,#000096,#000096,#00009b,#0000a4)"></i>
<i style="background:linear-gradient(90deg,#0000ff,#0000df,#0000df,#0000fa,#001dff,#005dff,#00a5ff,#0cf5eb,#50ffa7,#90ff66,#caff2c,#ffea00,#ffb900,#ff8d00,#ff6c00,#ff5200,#ff3f00,#ff3000,#ff2500,#ff1a00,#f60b00,#ed0400,#e40000,#e40000,#ed0400,#fa0f00,#ff1e00,#ff2d00,#ff3b00,#ff4a00,#ff5900,#ff6800,#ff7e00,#ff9c00,#ffbd00,#ffde00,#ebff0c,#d1ff26,#baff3c,#a4ff53,#90ff66,#7aff7d,#60ff97,#46ffb1,#29ffce,#0ff9e7,#02e8f4,#00e5f8,#06edf1,#13fde4,#26ffd1,#36ffc1,#43ffb4,#49ffad,#49ffad,#3cffba,#23ffd4,#00ddfe,#00a5ff,#006dff,#003dff,#0014ff,#0000ff,#0000f6,#0000e8,#0000da,#0000cd,#0000bf,#0000b2,#0000a4,#00009b,#000096,#000096,#000096,#00009f)"></i>
<i style="background:linear-gradient(90deg,#0000ff,#0000df,#0000df,#0000fa,#001dff,#005dff,#00a5ff,#0cf5eb,#50ffa7,#90ff66,#ceff29,#ffea00,#ffb600,#ff8900,#ff6800,#ff4e00,#ff3b00,#ff2d00,#ff2200,#ff1600,#f10800,#e40000,#df0000,#da0000,#e40000,#f10800,#ff1600,#ff2500,#ff3400,#ff4300,#ff5200,#ff6400,#ff7a00,#ff9800,#ffb900,#ffde00,#eeff09,#d1ff26,#baff3c,#a7ff50,#94ff63,#7dff7a,#63ff94,#46ffb1,#29ffce,#0ff9e7,#02e8f4,#00e5f8,#06edf1,#13fde4,#26ffd1,#36ffc1,#46ffb1,#4dffaa,#4dffaa,#3cffba,#23ffd4,#00e1fb,#00a5ff,#006dff,#0039ff,#0014ff,#0000ff,#0000f6,#0000e8,#0000da,#0000cd,#0000bb,#0000b2,#0000a4,#00009b,#000096,#000096,#000096,#00009f)"></i>
<i style="background:linear-gradient(90deg,#0000ff,#0000df,#0000df,#0000fa,#001dff,#0059ff,#00a5ff,#0ff9e7,#53ffa4,#94ff63,#ceff29,#ffea00,#ffb600,#ff8900,#ff6800,#ff4e00,#ff3b00,#ff2d00,#ff1e00,#ff1300,#ed0400,#df0000,#d60000,#d60000,#da0000,#e80000,#fa0f00,#ff1e00,#ff2d00,#ff3b00,#ff4a00,#ff5d00,#ff7700,#ff9400,#ffb600,#ffdb00,#eeff09,#d1ff26,#baff3c,#a7ff50,#94ff63,#7dff7a,#63ff94,#46ffb1,#29ffce,#0ff9e7,#02e8f4,#00e5f8,#06edf1,#16ffe1,#26ffd1,#39ffbe,#46ffb1,#50ffa7,#4dffaa,#40ffb7,#23ffd4,#00e1fb,#00a8ff,#006dff,#0039ff,#0014ff,#0000ff,#0000f6,#0000e3,#0000d6,#0000c8,#0000bb,#0000ad,#0000a4,#00009b,#000096,#000096,#000096,#00009f)"></i>
<i style="background:linear-gradient(90deg,#0000ff,#0000df,#0000da,#0000fa,#001dff,#0059ff,#00a5ff,#0ff9e7,#53ffa4,#94ff63,#ceff29,#ffe600,#ffb200,#ff8900,#ff6400,#ff4a00,#ff3800,#ff2900,#ff1a00,#fa0f00,#e80000,#da0000,#d10000,#d10000,#d60000,#df0000,#f10800,#ff1600,#ff2500,#ff3400,#ff4700,#ff5900,#ff7300,#ff9100,#ffb600,#ffdb00,#eeff09,#d4ff23,#baff3c,#a7ff50,#94ff63,#80ff77,#63ff94,#46ffb1,#29ffce,#0ff9e7,#02e8f4,#00e5f8,#06edf1,#16ffe1,#29ffce,#39ffbe,#49ffad,#50ffa7,#50ffa7,#40ffb7,#26ffd1,#00e1fb,#00a8ff,#006dff,#0039ff,#0014ff,#0000ff,#0000f6,#0000e3,#0000d6,#0000c8,#0000bb,#0000ad,#0000a4,#00009b,#000096,#000096,#000096,#00009f)"></i>
<i style="background:linear-gradient(90deg,#0000ff,#0000df,#0000da,#0000fa,#001dff,#0059ff,#00a5ff,#0ff9e7,#53ffa4,#94ff63,#ceff29,#ffe600,#ffb200,#ff8600,#ff6400,#ff4a00,#ff3800,#ff2500,#ff1a00,#f60b00,#e40000,#d60000,#cd0000,#c80000,#cd0000,#da0000,#e80000,#fa0f00,#ff2200,#ff3000,#ff3f00,#ff5500,#ff6c00,#ff8d00,#ffb200,#ffd700,#f1fc06,#d4ff23,#beff39,#a7ff50,#94ff63,#80ff77,#66ff90,#46ffb1,#29ffce,#0ff9e7,#02e8f4,#00e5f8,#06edf1,#16ffe1,#29ffce,#3cffba,#49ffad,#50ffa7,#50ffa7,#43ffb4,#26ffd1,#00e1fb,#00a8ff,#006dff,#0039ff,#0014ff,#0000ff,#0000f6,#0000e3,#0000d6,#0000c8,#0000bb,#0000ad,#0000a4,#00009b,#000096,#000096,#000096,#00009f)"></i>
<i style="background:linear-gradient(90deg,#0000ff,#0000da,#0000da,#0000fa,#001dff,#0059ff,#00a5ff,#0ff9e7,#53ffa4,#94ff63,#d1ff26,#ffe600,#ffb200,#ff8600,#ff6400,#ff4a00,#ff3400,#ff2500,#ff1600,#f60b00,#e40000,#d60000,#c80000,#c40000,#c80000,#d60000,#e40000,#f60b00,#ff1a00,#ff2900,#ff3b00,#ff4e00,#ff6800,#ff8900,#ffae00,#ffd700,#f1fc06,#d4ff23,#beff39,#a7ff50,#97ff60,#80ff77,#66ff90,#49ffad,#29ffce,#0ff9e7,#02e8f4,#00e5f8,#06edf1,#16ffe1,#29ffce,#3cffba,#49ffad,#53ffa4,#50ffa7,#43ffb4,#26ffd1,#00e5f8,#00a8ff,#006dff,#0039ff,#0014ff,#0000ff,#0000f1,#0000e3,#0000d6,#0000c8,#0000bb,#0000ad,#0000a4,#00009b,#000096,#000096,#000096,#00009f)"></i>
<i style="background:linear-gradient(90deg,#0000ff,#0000da,#0000da,#0000fa,#001dff,#0059ff,#00a5ff,#0ff9e7,#53ffa4,#94ff63,#ceff29,#ffe600,#ffb200,#ff8600,#ff6000,#ff4700,#ff3400,#ff2500,#ff1600,#f10800,#df0000,#d10000,#c40000,#bf0000,#c40000,#cd0000,#da0000,#ed0400,#ff1300,#ff2500,#ff3800,#ff4a00,#ff6800,#ff8900,#ffae00,#ffd700,#f1fc06,#d4ff23,#beff39,#aaff4d,#97ff60,#80ff77,#66ff90,#49ffad,#29ffce,#0ff9e7,#02e8f4,#00e5f8,#06edf1,#16ffe1,#29ffce,#3cffba,#4dffaa,#53ffa4,#53ffa4,#43ffb4,#29ffce,#00e5f8,#00a8ff,#006dff,#0039ff,#0014ff,#0000ff,#0000f1,#0000e3,#0000d6,#0000c8,#0000bb,#0000ad,#0000a4,#00009b,#000096,#000096,#000096,#00009f)"></i>
<i style="background:linear-gradient(90deg,#0000ff,#0000da,#0000da,#0000fa,#001dff,#0059ff,#00a5ff,#0cf5eb,#50ffa7,#94ff63,#ceff29,#ffe600,#ffb200,#ff8600,#ff6000,#ff4700,#ff3400,#ff2200,#ff1300,#f10800,#df0000,#cd0000,#c40000,#bf0000,#bf0000,#c80000,#d60000,#e80000,#fa0f00,#ff1e00,#ff3000,#ff4700,#ff6400,#ff8600,#ffae00,#ffd700,#f1fc06,#d4ff23,#beff39,#a7ff50,#97ff60,#80ff77,#66ff90,#49ffad,#29ffce,#0ff9e7,#02e8f4,#00e5f8,#09f1ee,#19ffde,#2cffca,#40ffb7,#4dffaa,#56ffa0,#53ffa4,#46ffb1,#29ffce,#00e5f8,#00a8ff,#006dff,#0039ff,#0014ff,#0000ff,#0000f1,#0000e3,#0000d6,#0000c8,#0000bb,#0000ad,#0000a4,#00009b,#000096,#000096,#000096,#00009f)"></i>
<i style="background:linear-gradient(90deg,#0000ff,#0000da,#0000df,#0000fa,#001dff,#0059ff,#00a5ff,#0cf5eb,#50ffa7,#90ff66,#ceff29,#ffe600,#ffb200,#ff8600,#ff6000,#ff4700,#ff3000,#ff2200,#ff1300,#ed0400,#da0000,#cd0000,#bf0000,#bb0000,#bb0000,#c40000,#d10000,#e40000,#f60b00,#ff1a00,#ff2d00,#ff4700,#ff6000,#ff8600,#ffab00,#ffd700,#f1fc06,#d4ff23,#beff39,#a7ff50,#97ff60,#80ff77,#66ff90,#49ffad,#29ffce,#13fde4,#02e8f4,#00e5f8,#09f1ee,#19ffde,#2cffca,#40ffb7,#50ffa7,#56ffa0,#53ffa4,#46ffb1,#29ffce,#00e5f8,#00a8ff,#006dff,#0039ff,#0014ff,#0000ff,#0000f1,#0000e3,#0000d6,#0000c8,#0000bb,#0000ad,#0000a4,#00009b,#000096,#000096,#000096,#00009f)"></i>
<i style="background:linear-gradient(90deg,#0000ff,#0000df,#0000df,#0000fa,#001dff,#0059ff,#00a5ff,#0cf5eb,#50ffa7,#90ff66,#ceff29,#ffea00,#ffb200,#ff8600,#ff6000,#ff4700,#ff3000,#ff2200,#ff1300,#ed0400,#da0000,#cd0000,#bf0000,#b60000,#b60000,#bf0000,#cd0000,#da0000,#ed0400,#ff1600,#ff2900,#ff4300,#ff6000,#ff8200,#ffab00,#ffd300,#f1fc06,#d4ff23,#baff3c,#a7ff50,#94ff63,#80ff77,#66ff90,#49ffad,#29ffce,#13fde4,#02e8f4,#00e5f8,#09f1ee,#19ffde,#2cffca,#40ffb7,#50ffa7,#56ffa0,#56ffa0,#46ffb1,#29ffce,#00e5f8,#00adff,#0071ff,#0039ff,#0014ff,#0000ff,#0000f1,#0000e3,#0000d6,#0000c8,#0000bb,#0000ad,#0000a4,#00009b,#000096,#000096,#000096,#00009f)"></i>
<i style="background:linear-gradient(90deg,#0000ff,#0000df,#0000df,#0000fa,#001dff,#0059ff,#00a5ff,#0cf5eb,#4dffaa,#8dff6a,#caff2c,#ffea00,#ffb200,#ff8600,#ff6000,#ff4700,#ff3000,#ff2200,#ff1300,#ed0400,#da0000,#c80000,#bf0000,#b60000,#b60000,#bb0000,#c80000,#d60000,#e80000,#ff1300,#ff2500,#ff3f00,#ff5d00,#ff8200,#ffab00,#ffd700,#f1fc06,#d4ff23,#baff3c,#a7ff50,#94ff63,#80ff77,#66ff90,#49ffad,#29ffce,#13fde4,#02e8f4,#00e5f8,#09f1ee,#19ffde,#30ffc7,#43ffb4,#50ffa7,#5aff9d,#56ffa0,#46ffb1,#29ffce,#02e8f4,#00adff,#0071ff,#0039ff,#0014ff,#0000ff,#0000f1,#0000df,#0000d6,#0000c8,#0000bb,#0000ad,#0000a4,#00009b,#000096,#000096,#000096,#00009f)"></i>
<i style="background:linear-gradient(90deg,#0000ff,#0000df,#0000df,#0000ff,#001dff,#0059ff,#00a1ff,#09f1ee,#4dffaa,#8dff6a,#caff2c,#ffea00,#ffb600,#ff8600,#ff6000,#ff4700,#ff3000,#ff2200,#ff1300,#ed0400,#da0000,#c80000,#bb0000,#b60000,#b20000,#b60000,#c40000,#d10000,#e40000,#fa0f00,#ff2500,#ff3f00,#ff5d00,#ff8200,#ffab00,#ffd700,#f1fc06,#d1ff26,#baff3c,#a7ff50,#94ff63,#80ff77,#66ff90,#46ffb1,#29ffce,#13fde4,#02e8f4,#00e5f8,#09f1ee,#1cffdb,#30ffc7,#43ffb4,#50ffa7,#5aff9d,#56ffa0,#49ffad,#2cffca,#02e8f4,#00adff,#0071ff,#003dff,#0014ff,#0000ff,#0000f1,#0000df,#0000d1,#0000c4,#0000bb,#0000ad,#0000a4,#00009b,#000096,#000096,#000096,#00009f)"></i>
<i style="background:linear-gradient(90deg,#0000ff,#0000df,#0000e3,#0000ff,#001dff,#0059ff,#00a1ff,#09f1ee,#49ffad,#8aff6d,#c7ff30,#feed00,#ffb600,#ff8600,#ff6000,#ff4700,#ff3000,#ff2200,#ff1300,#ed0400,#da0000,#c80000,#bb0000,#b20000,#b20000,#b60000,#bf0000,#cd0000,#df0000,#f60b00,#ff2200,#ff3b00,#ff5d00,#ff8200,#ffab00,#ffd700,#eeff09,#d1ff26,#baff3c,#a7ff50,#94ff63,#7dff7a,#66ff90,#46ffb1,#29ffce,#13fde4,#02e8f4,#00e5f8,#09f1ee,#1cffdb,#30ffc7,#43ffb4,#53ffa4,#5aff9d,#56ffa0,#49ffad,#2cffca,#02e8f4,#00adff,#0071ff,#003dff,#0014ff,#0000ff,#0000f1,#0000df,#0000d1,#0000c4,#0000b6,#0000ad,#0000a4,#00009b,#000096,#000096,#000096,#00009f)"></i>
<i style="background:linear-gradient(90deg,#0000ff,#0000df,#0000e3,#0000ff,#001dff,#0059ff,#00a1ff,#06edf1,#49ffad,#8aff6d,#c4ff33,#fbf100,#ffb600,#ff8900,#ff6000,#ff4700,#ff3000,#ff2200,#ff1300,#ed0400,#da0000,#c80000,#bb0000,#b20000,#ad0000,#b20000,#bb0000,#c80000,#da0000,#f10800,#ff1e00,#ff3b00,#ff5d00,#ff8200,#ffab00,#ffd700,#eeff09,#d1ff26,#b7ff40,#a4ff53,#94ff63,#7dff7a,#63ff94,#46ffb1,#29ffce,#13fde4,#02e8f4,#02e8f4,#0cf5eb,#1cffdb,#30ffc7,#43ffb4,#53ffa4,#5aff9d,#56ffa0,#49ffad,#2cffca,#02e8f4,#00adff,#0071ff,#003dff,#0014ff,#0000ff,#0000f1,#0000df,#0000d1,#0000c4,#0000b6,#0000ad,#0000a4,#00009b,#000096,#000096,#000096,#00009f)"></i>
<i style="background:linear-gradient(90deg,#0000ff,#0000e3,#0000e3,#0000ff,#0021ff,#0059ff,#00a1ff,#06edf1,#46ffb1,#87ff70,#c4ff33,#fbf100,#ffb900,#ff8900,#ff6400,#ff4700,#ff3400,#ff2200,#ff1600,#f10800,#df0000,#cd0000,#bb0000,#b20000,#ad0000,#b20000,#b60000,#c40000,#d60000,#ed0400,#ff1e00,#ff3800,#ff5900,#ff8200,#ffab00,#ffd700,#eeff09,#d1ff26,#b7ff40,#a4ff53,#90ff66,#7dff7a,#63ff94,#46ffb1,#29ffce,#13fde4,#02e8f4,#02e8f4,#0cf5eb,#1cffdb,#33ffc4,#46ffb1,#53ffa4,#5aff9d,#5aff9d,#49ffad,#2cffca,#02e8f4,#00adff,#0071ff,#003dff,#0014ff,#0000ff,#0000f1,#0000df,#0000d1,#0000c4,#0000b6,#0000ad,#0000a4,#00009b,#000096,#000096,#00009b,#00009f)"></i>
<i style="background:linear-gradient(90deg,#0000ff,#0000e3,#0000e8,#0000ff,#0021ff,#0059ff,#00a1ff,#02e8f4,#43ffb4,#83ff73,#c1ff36,#f8f500,#ffbd00,#ff8900,#ff6400,#ff4700,#ff3400,#ff2500,#ff1600,#f10800,#df0000,#cd0000,#bf0000,#b20000,#ad0000,#ad0000,#b60000,#bf0000,#d10000,#ed0400,#ff1a00,#ff3800,#ff5900,#ff8200,#ffae00,#ffd700,#eeff09,#ceff29,#b7ff40,#a4ff53,#90ff66,#7aff7d,#63ff94,#46ffb1,#29ffce,#13fde4,#02e8f4,#02e8f4,#0cf5eb,#1fffd7,#33ffc4,#46ffb1,#53ffa4,#5aff9d,#5aff9d,#49ffad,#2cffca,#02e8f4,#00adff,#0071ff,#003dff,#0014ff,#0000ff,#0000f1,#0000df,#0000d1,#0000c4,#0000b6,#0000ad,#0000a4,#00009b,#000096,#000096,#00009b,#00009f)"></i>
<i style="background:linear-gradient(90deg,#0000ff,#0000e3,#0000e8,#0000ff,#0021ff,#0059ff,#009dff,#02e8f4,#43ffb4,#80ff77,#beff39,#f4f802,#ffbd00,#ff8d00,#ff6400,#ff4a00,#ff3400,#ff2500,#ff1600,#f60b00,#df0000,#cd0000,#bf0000,#b20000,#ad0000,#ad0000,#b20000,#bf0000,#d10000,#e80000,#ff1a00,#ff3800,#ff5900,#ff8200,#ffae00,#ffdb00,#ebff0c,#ceff29,#b4ff43,#a0ff56,#8dff6a,#7aff7d,#60ff97,#46ffb1,#29ffce,#13fde4,#06edf1,#02e8f4,#0ff9e7,#1fffd7,#33ffc4,#46ffb1,#53ffa4,#5dff9a,#5aff9d,#49ffad,#2cffca,#02e8f4,#00b1ff,#0074ff,#003dff,#0014ff,#0000ff,#0000f1,#0000df,#0000d1,#0000c4,#0000b6,#0000ad,#0000a4,#00009b,#000096,#000096,#00009b,#00009f)"></i>
<i style="background:linear-gradient(90deg,#0000ff,#0000e8,#0000ed,#0000ff,#0021ff,#0059ff,#009dff,#00e5f8,#40ffb7,#7dff7a,#baff3c,#f4f802,#ffc100,#ff8d00,#ff6800,#ff4a00,#ff3800,#ff2900,#ff1a00,#f60b00,#e40000,#d10000,#bf0000,#b20000,#ad0000,#a80000,#b20000,#bb0000,#cd0000,#e40000,#ff1600,#ff3800,#ff5900,#ff8200,#ffae00,#ffdb00,#ebff0c,#ceff29,#b4ff43,#a0ff56,#8dff6a,#7aff7d,#60ff97,#43ffb4,#29ffce,#13fde4,#06edf1,#06edf1,#0ff9e7,#1fffd7,#33ffc4,#46ffb1,#56ffa0,#5dff9a,#5aff9d,#49ffad,#2cffca,#02e8f4,#00b1ff,#0074ff,#003dff,#0014ff,#0000ff,#0000f1,#0000df,#0000d1,#0000c4,#0000b6,#0000ad,#0000a4,#00009b,#000096,#000096,#00009b,#00009f)"></i>
<i style="background:linear-gradient(90deg,#0000ff,#0000e8,#0000ed,#0000ff,#0024ff,#0059ff,#009dff,#00e5f8,#3cffba,#7aff7d,#b7ff40,#f1fc06,#ffc400,#ff9100,#ff6800,#ff4e00,#ff3800,#ff2900,#ff1a00,#fa0f00,#e40000,#d10000,#bf0000,#b20000,#ad0000,#a80000,#ad0000,#bb0000,#c80000,#e40000,#ff1600,#ff3400,#ff5900,#ff8200,#ffae00,#ffdb00,#ebff0c,#caff2c,#b4ff43,#9dff5a,#8aff6d,#77ff80,#60ff97,#43ffb4,#29ffce,#13fde4,#06edf1,#06edf1,#0ff9e7,#1fffd7,#36ffc1,#46ffb1,#56ffa0,#5dff9a,#5aff9d,#49ffad,#2cffca,#06edf1,#00b1ff,#0074ff,#003dff,#0014ff,#0000ff,#0000f1,#0000df,#0000cd,#0000bf,#0000b6,#0000ad,#0000a4,#00009b,#000096,#000096,#00009b,#00009f)"></i>
<i style="background:linear-gradient(90deg,#0000ff,#0000e8,#0000f1,#0000ff,#0024ff,#0059ff,#009dff,#00e1fb,#39ffbe,#77ff80,#b4ff43,#eeff09,#ffc400,#ff9400,#ff6c00,#ff4e00,#ff3b00,#ff2d00,#ff1e00,#fa0f00,#e80000,#d60000,#c40000,#b60000,#ad0000,#a80000,#ad0000,#b60000,#c80000,#e40000,#ff1600,#ff3400,#ff5900,#ff8600,#ffae00,#ffdb00,#e7ff0f,#caff2c,#b1ff46,#9dff5a,#8aff6d,#77ff80,#5dff9a,#43ffb4,#29ffce,#13fde4,#06edf1,#06edf1,#0ff9e7,#23ffd4,#36ffc1,#49ffad,#56ffa0,#5dff9a,#5aff9d,#49ffad,#2cffca,#06edf1,#00b1ff,#0074ff,#0041ff,#0014ff,#0000ff,#0000ed,#0000df,#0000cd,#0000bf,#0000b6,#0000a8,#0000a4,#00009b,#000096,#000096,#00009b,#00009f)"></i>
<i style="background:linear-gradient(90deg,#0000ff,#0000ed,#0000f1,#0000ff,#0024ff,#0059ff,#0099ff,#00e1fb,#39ffbe,#77ff80,#b1ff46,#ebff0c,#ffc800,#ff9800,#ff6f00,#ff5200,#ff3b00,#ff2d00,#ff2200,#ff1300,#ed0400,#d60000,#c40000,#b60000,#ad0000,#a80000,#a80000,#b60000,#c40000,#df0000,#ff1300,#ff3400,#ff5900,#ff8600,#ffb200,#ffde00,#e7ff0f,#caff2c,#b1ff46,#9aff5d,#87ff70,#73ff83,#5dff9a,#43ffb4,#29ffce,#13fde4,#09f1ee,#09f1ee,#13fde4,#23ffd4,#36ffc1,#49ffad,#56ffa0,#5dff9a,#5aff9d,#49ffad,#30ffc7,#06edf1,#00b1ff,#0074ff,#0041ff,#0014ff,#0000ff,#0000ed,#0000da,#0000cd,#0000bf,#0000b6,#0000a8,#0000a4,#00009b,#00009b,#000096,#00009b,#00009f)"></i>
<i style="background:linear-gradient(90deg,#0000ff,#0000ed,#0000f6,#0001ff,#0024ff,#0059ff,#0099ff,#00ddfe,#36ffc1,#73ff83,#adff49,#e7ff0f,#ffcc00,#ff9800,#ff6f00,#ff5500,#ff3f00,#ff3000,#ff2200,#ff1600,#ed0400,#da0000,#c80000,#b60000,#ad0000,#a80000,#a80000,#b20000,#c40000,#df0000,#ff1300,#ff3400,#ff5900,#ff8600,#ffb200,#ffde00,#e7ff0f,#c7ff30,#adff49,#9aff5d,#87ff70,#73ff83,#5aff9d,#40ffb7,#29ffce,#13fde4,#09f1ee,#09f1ee,#13fde4,#23ffd4,#36ffc1,#49ffad,#56ffa0,#5dff9a,#5aff9d,#4dffaa,#30ffc7,#06edf1,#00b1ff,#0074ff,#0041ff,#0019ff,#0000ff,#0000ed,#0000da,#0000cd,#0000bf,#0000b6,#0000a8,#0000a4,#00009b,#00009b,#000096,#00009b,#00009f)"></i>
<i style="background:linear-gradient(90deg,#0000ff,#0000ed,#0000f6,#0001ff,#0029ff,#0059ff,#0099ff,#00ddfe,#33ffc4,#70ff87,#aaff4d,#e4ff13,#ffd000,#ff9c00,#ff7300,#ff5500,#ff4300,#ff3400,#ff2500,#ff1600,#f10800,#da0000,#c80000,#bb0000,#ad0000,#a80000,#a80000,#b20000,#c40000,#df0000,#ff1300,#ff3400,#ff5d00,#ff8600,#ffb200,#ffde00,#e7ff0f,#c7ff30,#adff49,#97ff60,#83ff73,#70ff87,#5aff9d,#40ffb7,#29ffce,#16ffe1,#09f1ee,#09f1ee,#16ffe1,#26ffd1,#39ffbe,#49ffad,#56ffa0,#5dff9a,#5aff9d,#4dffaa,#30ffc7,#06edf1,#00b1ff,#0074ff,#0041ff,#0019ff,#0000ff,#0000ed,#0000da,#0000cd,#0000bf,#0000b2,#0000a8,#0000a4,#00009b,#00009b,#00009b,#00009b,#00009f)"></i>
<i style="background:linear-gradient(90deg,#0000ff,#0000f1,#0000f6,#0001ff,#0029ff,#0059ff,#0095ff,#00d9ff,#30ffc7,#6dff8a,#a7ff50,#e1ff16,#ffd300,#ff9f00,#ff7700,#ff5900,#ff4700,#ff3800,#ff2900,#ff1a00,#f60b00,#df0000,#cd0000,#bb0000,#ad0000,#a80000,#a80000,#b20000,#bf0000,#da0000,#ff1300,#ff3400,#ff5d00,#ff8600,#ffb200,#ffde00,#e4ff13,#c7ff30,#adff49,#97ff60,#83ff73,#70ff87,#5aff9d,#40ffb7,#29ffce,#16ffe1,#09f1ee,#0cf5eb,#16ffe1,#26ffd1,#39ffbe,#49ffad,#56ffa0,#5dff9a,#5aff9d,#4dffaa,#30ffc7,#06edf1,#00b1ff,#0079ff,#0041ff,#0019ff,#0000ff,#0000ed,#0000da,#0000cd,#0000bf,#0000b2,#0000a8,#0000a4,#00009b,#00009b,#00009b,#00009b,#00009f)"></i>
<i style="background:linear-gradient(90deg,#0000ff,#0000f1,#0000fa,#0004ff,#0029ff,#0059ff,#0095ff,#00d9ff,#2cffca,#6aff8d,#a4ff53,#deff19,#ffd700,#ffa300,#ff7a00,#ff5d00,#ff4a00,#ff3800,#ff2d00,#ff1e00,#f60b00,#e40000,#cd0000,#bb0000,#ad0000,#a80000,#a80000,#b20000,#bf0000,#da0000,#ff1300,#ff3400,#ff5d00,#ff8600,#ffb600,#ffe200,#e4ff13,#c4ff33,#aaff4d,#97ff60,#80ff77,#6dff8a,#56ffa0,#40ffb7,#26ffd1,#16ffe1,#0cf5eb,#0cf5eb,#16ffe1,#26ffd1,#39ffbe,#49ffad,#56ffa0,#5dff9a,#5aff9d,#4dffaa,#30ffc7,#06edf1,#00b5ff,#0079ff,#0041ff,#0019ff,#0000ff,#0000ed,#0000da,#0000cd,#0000bf,#0000b2,#0000a8,#0000a4,#00009b,#00009b,#00009b,#00009b,#00009f)"></i>
<i style="background:linear-gradient(90deg,#0000ff,#0000f1,#0000fa,#0004ff,#0029ff,#005dff,#0095ff,#00d5ff,#2cffca,#66ff90,#a0ff56,#dbff1c,#ffdb00,#ffa700,#ff7e00,#ff6000,#ff4e00,#ff3b00,#ff3000,#ff2200,#fa0f00,#e40000,#d10000,#bf0000,#b20000,#a80000,#a80000,#ad0000,#bf0000,#da0000,#ff1300,#ff3400,#ff5d00,#ff8600,#ffb600,#ffe200,#e4ff13,#c4ff33,#aaff4d,#94ff63,#80ff77,#6dff8a,#56ffa0,#3cffba,#26ffd1,#16ffe1,#0cf5eb,#0cf5eb,#19ffde,#29ffce,#39ffbe,#4dffaa,#56ffa0,#5dff9a,#5aff9d,#4dffaa,#30ffc7,#06edf1,#00b5ff,#0079ff,#0041ff,#0019ff,#0000ff,#0000ed,#0000da,#0000cd,#0000bf,#0000b2,#0000a8,#0000a4,#00009b,#00009b,#00009b,#00009b,#00009f)"></i>
<i style="background:linear-gradient(90deg,#0000ff,#0000f6,#0000ff,#0004ff,#002dff,#005dff,#0095ff,#00d5ff,#29ffce,#63ff94,#9dff5a,#d7ff1f,#ffde00,#ffab00,#ff8200,#ff6400,#ff5200,#ff3f00,#ff3400,#ff2500,#ff1300,#e80000,#d10000,#bf0000,#b20000,#a80000,#a80000,#ad0000,#bf0000,#da0000,#ff1300,#ff3400,#ff5d00,#ff8600,#ffb600,#ffe200,#e4ff13,#c4ff33,#aaff4d,#94ff63,#7dff7a,#6aff8d,#53ffa4,#3cffba,#26ffd1,#16ffe1,#0cf5eb,#0ff9e7,#19ffde,#29ffce,#39ffbe,#4dffaa,#5aff9d,#5dff9a,#5aff9d,#4dffaa,#30ffc7,#06edf1,#00b5ff,#0079ff,#0044ff,#0019ff,#0000ff,#0000ed,#0000da,#0000cd,#0000bf,#0000b2,#0000a8,#0000a4,#00009b,#00009b,#00009b,#00009b,#00009f)"></i>
<i style="background:linear-gradient(90deg,#0000ff,#0000f6,#0000ff,#0009ff,#002dff,#005dff,#0095ff,#00d1ff,#26ffd1,#60ff97,#9aff5d,#d4ff23,#ffe200,#ffae00,#ff8600,#ff6800,#ff5500,#ff4700,#ff3800,#ff2900,#ff1600,#ed0400,#d60000,#bf0000,#b20000,#a80000,#a80000,#ad0000,#bf0000,#da0000,#ff1300,#ff3400,#ff5d00,#ff8600,#ffb600,#ffe200,#e4ff13,#c4ff33,#a7ff50,#90ff66,#7dff7a,#6aff8d,#53ffa4,#3cffba,#26ffd1,#16ffe1,#0ff9e7,#0ff9e7,#19ffde,#29ffce,#3cffba,#4dffaa,#5aff9d,#5dff9a,#5aff9d,#4dffaa,#30ffc7,#06edf1,#00b5ff,#0079ff,#0044ff,#0019ff,#0000ff,#0000ed,#0000da,#0000cd,#0000bf,#0000b2,#0000a8,#0000a4,#00009f,#00009b,#00009b,#00009b,#00009f)"></i>
<i style="background:linear-gradient(90deg,#0000ff,#0000f6,#0000ff,#0009ff,#002dff,#005dff,#0091ff,#00d1ff,#26ffd1,#5dff9a,#97ff60,#d1ff26,#ffe600,#ffb200,#ff8900,#ff6c00,#ff5900,#ff4a00,#ff3b00,#ff2900,#ff1600,#ed0400,#d60000,#c40000,#b20000,#a80000,#a80000,#ad0000,#bf0000,#da0000,#ff1300,#ff3400,#ff5d00,#ff8600,#ffb600,#ffe200,#e4ff13,#c4ff33,#a7ff50,#90ff66,#7aff7d,#66ff90,#50ffa7,#39ffbe,#26ffd1,#19ffde,#0ff9e7,#13fde4,#1cffdb,#2cffca,#3cffba,#4dffaa,#5aff9d,#5dff9a,#5aff9d,#4dffaa,#30ffc7,#06edf1,#00b5ff,#0079ff,#0044ff,#0019ff,#0000ff,#0000ed,#0000da,#0000c8,#0000bb,#0000b2,#0000a8,#0000a4,#00009f,#00009b,#00009b,#00009b,#00009f)"></i>
<i style="background:linear-gradient(90deg,#0000ff,#0000f6,#0000ff,#0009ff,#002dff,#005dff,#0091ff,#00d1ff,#23ffd4,#5dff9a,#94ff63,#ceff29,#ffea00,#ffb600,#ff8d00,#ff7300,#ff5d00,#ff4e00,#ff3f00,#ff2d00,#ff1a00,#f10800,#da0000,#c40000,#b20000,#a80000,#a80000,#ad0000,#bf0000,#da0000,#fa0f00,#ff3400,#ff5d00,#ff8600,#ffb600,#ffe200,#e4ff13,#c4ff33,#a7ff50,#90ff66,#7aff7d,#66ff90,#50ffa7,#39ffbe,#26ffd1,#19ffde,#0ff9e7,#13fde4,#1cffdb,#2cffca,#3cffba,#4dffaa,#5aff9d,#60ff97,#5aff9d,#4dffaa,#30ffc7,#09f1ee,#00b5ff,#0079ff,#0044ff,#0019ff,#0000ff,#0000ed,#0000da,#0000c8,#0000bb,#0000b2,#0000a8,#0000a4,#00009f,#00009b,#00009b,#00009b,#00009f)"></i>
<i style="background:linear-gradient(90deg,#0000ff,#0000f6,#0000ff,#0009ff,#002dff,#005dff,#0091ff,#00cdff,#23ffd4,#5aff9d,#94ff63,#caff2c,#feed00,#ffbd00,#ff9400,#ff7700,#ff6000,#ff5200,#ff4300,#ff3000,#ff1e00,#f10800,#da0000,#c40000,#b60000,#a80000,#a80000,#ad0000,#bf0000,#da0000,#fa0f00,#ff3400,#ff5900,#ff8600,#ffb200,#ffe200,#e4ff13,#c4ff33,#a7ff50,#8dff6a,#77ff80,#63ff94,#50ffa7,#39ffbe,#26ffd1,#19ffde,#13fde4,#16ffe1,#1fffd7,#2cffca,#3cffba,#4dffaa,#5aff9d,#60ff97,#5dff9a,#4dffaa,#30ffc7,#09f1ee,#00b5ff,#0079ff,#0044ff,#0019ff,#0000ff,#0000ed,#0000da,#0000c8,#0000bb,#0000b2,#0000a8,#0000a4,#00009f,#00009b,#00009b,#00009b,#00009f)"></i>
<i style="background:linear-gradient(90deg,#0000ff,#0000fa,#0000ff,#000dff,#002dff,#005dff,#0091ff,#00cdff,#1fffd7,#56ffa0,#90ff66,#c7ff30,#f8f500,#ffc100,#ff9800,#ff7a00,#ff6800,#ff5500,#ff4700,#ff3400,#ff2200,#f60b00,#da0000,#c40000,#b60000,#ad0000,#a80000,#b20000,#bf0000,#da0000,#fa0f00,#ff3400,#ff5900,#ff8600,#ffb200,#ffde00,#e4ff13,#c4ff33,#a7ff50,#8dff6a,#77ff80,#63ff94,#4dffaa,#39ffbe,#26ffd1,#19ffde,#13fde4,#16ffe1,#1fffd7,#30ffc7,#40ffb7,#4dffaa,#5aff9d,#60ff97,#5dff9a,#4dffaa,#30ffc7,#09f1ee,#00b5ff,#0079ff,#0044ff,#0019ff,#0000ff,#0000ed,#0000da,#0000c8,#0000bb,#0000b2,#0000a8,#0000a4,#00009f,#00009b,#00009b,#00009b,#00009f)"></i>
<i style="background:linear-gradient(90deg,#0000ff,#0000fa,#0000ff,#000dff,#002dff,#005dff,#0091ff,#00cdff,#1fffd7,#56ffa0,#8dff6a,#c4ff33,#f4f802,#ffc400,#ff9c00,#ff8200,#ff6c00,#ff5d00,#ff4a00,#ff3800,#ff2200,#f60b00,#df0000,#c80000,#b60000,#ad0000,#a80000,#b20000,#bf0000,#da0000,#fa0f00,#ff3000,#ff5900,#ff8600,#ffb200,#ffde00,#e4ff13,#c4ff33,#a7ff50,#8dff6a,#77ff80,#60ff97,#4dffaa,#39ffbe,#26ffd1,#19ffde,#16ffe1,#16ffe1,#23ffd4,#30ffc7,#40ffb7,#50ffa7,#5aff9d,#60ff97,#5dff9a,#4dffaa,#30ffc7,#09f1ee,#00b5ff,#007dff,#0044ff,#0019ff,#0000ff,#0000ed,#0000da,#0000c8,#0000bb,#0000b2,#0000a8,#0000a4,#00009f,#00009b,#00009b,#00009b,#00009f)"></i>
<i style="background:linear-gradient(90deg,#0000ff,#0000fa,#0000ff,#000dff,#002dff,#005dff,#0091ff,#00cdff,#1fffd7,#53ffa4,#8aff6d,#c1ff36,#f1fc06,#ffcc00,#ffa300,#ff8600,#ff6f00,#ff6000,#ff4e00,#ff3b00,#ff2500,#fa0f00,#df0000,#c80000,#b60000,#ad0000,#a80000,#b20000,#bf0000,#da0000,#fa0f00,#ff3000,#ff5900,#ff8200,#ffae00,#ffde00,#e4ff13,#c4ff33,#a4ff53,#8aff6d,#73ff83,#60ff97,#49ffad,#36ffc1,#26ffd1,#1cffdb,#16ffe1,#19ffde,#23ffd4,#30ffc7,#40ffb7,#50ffa7,#5aff9d,#60ff97,#5dff9a,#4dffaa,#30ffc7,#09f1ee,#00b5ff,#007dff,#0044ff,#0019ff,#0000ff,#0000ed,#0000da,#0000c8,#0000bb,#0000b2,#0000a8,#0000a4,#00009f,#00009b,#00009b,#00009b,#00009f)"></i>
<i style="background:linear-gradient(90deg,#0000ff,#0000fa,#0000ff,#000dff,#002dff,#005dff,#0091ff,#00c8ff,#1cffdb,#53ffa4,#87ff70,#beff39,#eeff09,#ffd000,#ffa700,#ff8d00,#ff7700,#ff6400,#ff5500,#ff3f00,#ff2900,#fa0f00,#df0000,#c80000,#b60000,#ad0000,#ad0000,#b20000,#c40000,#da0000,#fa0f00,#ff3000,#ff5500,#ff8200,#ffae00,#ffdb00,#e7ff0f,#c4ff33,#a4ff53,#8aff6d,#73ff83,#5dff9a,#49ffad,#36ffc1,#26ffd1,#1cffdb,#16ffe1,#19ffde,#23ffd4,#33ffc4,#40ffb7,#50ffa7,#5aff9d,#60ff97,#5dff9a,#4dffaa,#30ffc7,#09f1ee,#00b5ff,#007dff,#0044ff,#0019ff,#0000ff,#0000ed,#0000da,#0000c8,#0000bb,#0000b2,#0000a8,#0000a4,#00009f,#00009b,#00009b,#00009f,#00009f)"></i>
<i style="background:linear-gradient(90deg,#0000ff,#0000fa,#0000ff,#000dff,#002dff,#0059ff,#0091ff,#00c8ff,#1cffdb,#50ffa7,#87ff70,#baff3c,#ebff0c,#ffd300,#ffae00,#ff9100,#ff7a00,#ff6c00,#ff5900,#ff4300,#ff2d00,#ff1300,#e40000,#c80000,#b60000,#ad0000,#ad0000,#b20000,#c40000,#da0000,#fa0f00,#ff3000,#ff5500,#ff7e00,#ffae00,#ffdb00,#e7ff0f,#c4ff33,#a4ff53,#8aff6d,#73ff83,#5dff9a,#49ffad,#36ffc1,#26ffd1,#1cffdb,#19ffde,#1cffdb,#26ffd1,#33ffc4,#43ffb4,#50ffa7,#5dff9a,#60ff97,#5dff9a,#4dffaa,#33ffc4,#09f1ee,#00b9ff,#007dff,#0044ff,#0019ff,#0000ff,#0000ed,#0000da,#0000c8,#0000bb,#0000b2,#0000a8,#0000a4,#00009f,#00009b,#00009b,#00009f,#00009f)"></i>
<i style="background:linear-gradient(90deg,#0000ff,#0000fa,#0000ff,#000dff,#002dff,#0059ff,#0091ff,#00c8ff,#1cffdb,#50ffa7,#83ff73,#b7ff40,#e7ff0f,#ffdb00,#ffb200,#ff9800,#ff8200,#ff6f00,#ff5d00,#ff4700,#ff2d00,#ff1300,#e40000,#c80000,#b60000,#ad0000,#ad0000,#b60000,#c40000,#da0000,#fa0f00,#ff3000,#ff5500,#ff7e00,#ffab00,#ffdb00,#e7ff0f,#c4ff33,#a4ff53,#8aff6d,#70ff87,#5dff9a,#46ffb1,#36ffc1,#26ffd1,#1cffdb,#19ffde,#1cffdb,#26ffd1,#33ffc4,#43ffb4,#50ffa7,#5dff9a,#60ff97,#5dff9a,#50ffa7,#33ffc4,#09f1ee,#00b9ff,#007dff,#0044ff,#0019ff,#0000ff,#0000ed,#0000da,#0000c8,#0000bb,#0000b2,#0000a8,#0000a4,#00009f,#00009b,#00009b,#00009f,#00009f)"></i>
<i style="background:linear-gradient(90deg,#0000ff,#0000fa,#0000ff,#000dff,#002dff,#0059ff,#008dff,#00c8ff,#19ffde,#4dffaa,#83ff73,#b4ff43,#e1ff16,#ffde00,#ffb900,#ff9c00,#ff8900,#ff7700,#ff6000,#ff4a00,#ff3000,#ff1600,#e40000,#c80000,#bb0000,#ad0000,#ad0000,#b60000,#c40000,#da0000,#fa0f00,#ff2d00,#ff5200,#ff7a00,#ffab00,#ffd700,#ebff0c,#c4ff33,#a4ff53,#8aff6d,#70ff87,#5aff9d,#46ffb1,#36ffc1,#26ffd1,#1cffdb,#19ffde,#1fffd7,#29ffce,#36ffc1,#43ffb4,#50ffa7,#5dff9a,#60ff97,#5dff9a,#50ffa7,#33ffc4,#09f1ee,#00b9ff,#007dff,#0044ff,#0019ff,#0000ff,#0000ed,#0000da,#0000c8,#0000bb,#0000b2,#0000a8,#0000a4,#00009f,#00009b,#00009b,#00009f,#00009f)"></i>
<i style="background:linear-gradient(90deg,#0000ff,#0000fa,#0000ff,#000dff,#002dff,#0059ff,#008dff,#00c8ff,#19ffde,#4dffaa,#80ff77,#b1ff46,#deff19,#ffe200,#ffbd00,#ffa300,#ff8d00,#ff7a00,#ff6800,#ff4e00,#ff3400,#ff1600,#e40000,#c80000,#bb0000,#b20000,#ad0000,#b60000,#c40000,#da0000,#fa0f00,#ff2d00,#ff5200,#ff7a00,#ffa700,#ffd700,#ebff0c,#c7ff30,#a4ff53,#87ff70,#70ff87,#5aff9d,#46ffb1,#33ffc4,#26ffd1,#1fffd7,#1cffdb,#1fffd7,#29ffce,#36ffc1,#43ffb4,#53ffa4,#5dff9a,#60ff97,#5dff9a,#50ffa7,#33ffc4,#09f1ee,#00b9ff,#007dff,#0044ff,#0019ff,#0000ff,#0000ed,#0000da,#0000c8,#0000bb,#0000b2,#0000a8,#0000a4,#00009f,#00009b,#00009b,#00009f,#00009f)"></i>
<i style="background:linear-gradient(90deg,#0000ff,#0000fa,#0000ff,#000dff,#002dff,#0059ff,#008dff,#00c8ff,#19ffde,#4dffaa,#7dff7a,#adff49,#dbff1c,#ffea00,#ffc400,#ffab00,#ff9400,#ff7e00,#ff6c00,#ff5200,#ff3800,#ff1a00,#e80000,#cd0000,#bb0000,#b20000,#b20000,#b60000,#c80000,#df0000,#fa0f00,#ff2d00,#ff4e00,#ff7700,#ffa700,#ffd300,#ebff0c,#c7ff30,#a4ff53,#87ff70,#6dff8a,#56ffa0,#43ffb4,#33ffc4,#26ffd1,#1fffd7,#1cffdb,#23ffd4,#29ffce,#36ffc1,#46ffb1,#53ffa4,#5dff9a,#60ff97,#5dff9a,#50ffa7,#33ffc4,#09f1ee,#00b9ff,#007dff,#0044ff,#0019ff,#0000ff,#0000ed,#0000da,#0000c8,#0000bb,#0000b2,#0000a8,#0000a4,#00009f,#00009b,#00009b,#00009b,#00009f)"></i>
<i style="background:linear-gradient(90deg,#0000ff,#0000fa,#0000ff,#000dff,#002dff,#0059ff,#008dff,#00c8ff,#19ffde,#4dffaa,#7dff7a,#adff49,#d7ff1f,#feed00,#ffcc00,#ffae00,#ff9800,#ff8600,#ff6f00,#ff5500,#ff3800,#ff1a00,#e80000,#cd0000,#bb0000,#b20000,#b20000,#bb0000,#c80000,#df0000,#fa0f00,#ff2d00,#ff4e00,#ff7700,#ffa300,#ffd300,#eeff09,#c7ff30,#a4ff53,#87ff70,#6dff8a,#56ffa0,#43ffb4,#33ffc4,#26ffd1,#1fffd7,#1fffd7,#23ffd4,#2cffca,#39ffbe,#46ffb1,#53ffa4,#5dff9a,#63ff94,#60ff97,#50ffa7,#33ffc4,#0cf5eb,#00b9ff,#007dff,#0044ff,#0019ff,#0000ff,#0000ed,#0000da,#0000c8,#0000bb,#0000b2,#0000a8,#0000a4,#00009f,#00009b,#00009b,#00009b,#00009f)"></i>
<i style="background:linear-gradient(90deg,#0000ff,#0000f6,#0000ff,#000dff,#002dff,#0059ff,#008dff,#00c8ff,#19ffde,#49ffad,#7aff7d,#aaff4d,#d4ff23,#f8f500,#ffd000,#ffb600,#ff9f00,#ff8d00,#ff7700,#ff5900,#ff3b00,#ff1e00,#e80000,#cd0000,#bb0000,#b20000,#b20000,#bb0000,#c80000,#df0000,#fa0f00,#ff2900,#ff4e00,#ff7300,#ffa300,#ffd000,#eeff09,#c7ff30,#a4ff53,#87ff70,#6dff8a,#56ffa0,#43ffb4,#33ffc4,#26ffd1,#1fffd7,#1fffd7,#23ffd4,#2cffca,#39ffbe,#46ffb1,#53ffa4,#5dff9a,#63ff94,#60ff97,#50ffa7,#33ffc4,#0cf5eb,#00b9ff,#007dff,#0044ff,#0019ff,#0000ff,#0000ed,#0000da,#0000c8,#0000bb,#0000b2,#0000a8,#0000a4,#00009f,#00009b,#00009b,#00009b,#00009f)"></i>
<i style="background:linear-gradient(90deg,#0000ff,#0000f6,#0000ff,#0009ff,#002dff,#0059ff,#008dff,#00c8ff,#19ffde,#49ffad,#7aff7d,#a7ff50,#d1ff26,#f4f802,#ffd700,#ffbd00,#ffa700,#ff9100,#ff7a00,#ff5d00,#ff3f00,#ff1e00,#e80000,#cd0000,#bb0000,#b20000,#b20000,#bb0000,#cd0000,#df0000,#fa0f00,#ff2900,#ff4a00,#ff7300,#ff9f00,#ffd000,#eeff09,#c7ff30,#a4ff53,#87ff70,#6dff8a,#53ffa4,#43ffb4,#33ffc4,#26ffd1,#23ffd4,#1fffd7,#26ffd1,#2cffca,#39ffbe,#46ffb1,#53ffa4,#5dff9a,#63ff94,#60ff97,#50ffa7,#33ffc4,#0cf5eb,#00b9ff,#007dff,#0044ff,#0019ff,#0000ff,#0000ed,#0000da,#0000c8,#0000bb,#0000b2,#0000a8,#0000a4,#00009f,#00009b,#00009b,#00009b,#00009f)"></i>
<i style="background:linear-gradient(90deg,#0000ff,#0000f6,#0000ff,#0009ff,#002dff,#0059ff,#0091ff,#00c8ff,#19ffde,#49ffad,#77ff80,#a4ff53,#ceff29,#f1fc06,#ffdb00,#ffc100,#ffab00,#ff9800,#ff7e00,#ff6400,#ff4300,#ff2200,#e80000,#cd0000,#bb0000,#b20000,#b60000,#bf0000,#cd0000,#df0000,#fa0f00,#ff2900,#ff4a00,#ff6f00,#ff9f00,#ffcc00,#f1fc06,#c7ff30,#a4ff53,#87ff70,#6aff8d,#53ffa4,#40ffb7,#33ffc4,#26ffd1,#23ffd4,#23ffd4,#26ffd1,#30ffc7,#39ffbe,#46ffb1,#53ffa4,#5dff9a,#63ff94,#60ff97,#50ffa7,#36ffc1,#0cf5eb,#00b9ff,#007dff,#0044ff,#0019ff,#0000ff,#0000ed,#0000da,#0000c8,#0000bb,#0000b2,#0000a8,#0000a4,#00009f,#00009b,#00009b,#00009b,#00009f)"></i>
<i style="background:linear-gradient(90deg,#0000ff,#0000f6,#0000ff,#0009ff,#002dff,#0059ff,#0091ff,#00c8ff,#19ffde,#49ffad,#77ff80,#a0ff56,#caff2c,#ebff0c,#ffe200,#ffc800,#ffb200,#ff9c00,#ff8600,#ff6800,#ff4300,#ff2200,#ed0400,#cd0000,#bb0000,#b20000,#b60000,#bf0000,#cd0000,#df0000,#fa0f00,#ff2900,#ff4700,#ff6f00,#ff9c00,#ffcc00,#f1fc06,#caff2c,#a4ff53,#87ff70,#6aff8d,#53ffa4,#40ffb7,#33ffc4,#29ffce,#23ffd4,#23ffd4,#26ffd1,#30ffc7,#3cffba,#46ffb1,#53ffa4,#5dff9a,#63ff94,#60ff97,#53ffa4,#36ffc1,#0cf5eb,#00b9ff,#007dff,#0044ff,#0019ff,#0000ff,#0000ed,#0000da,#0000c8,#0000bb,#0000b2,#0000a8,#0000a4,#00009f,#00009b,#00009b,#00009b,#00009f)"></i>
<i style="background:linear-gradient(90deg,#0000ff,#0000f6,#0000ff,#0009ff,#002dff,#0059ff,#0091ff,#00c8ff,#19ffde,#49ffad,#77ff80,#a0ff56,#c7ff30,#e7ff0f,#ffea00,#ffd000,#ffb900,#ffa300,#ff8900,#ff6c00,#ff4700,#ff2500,#ed0400,#cd0000,#bb0000,#b20000,#b60000,#bf0000,#cd0000,#e40000,#fa0f00,#ff2900,#ff4700,#ff6f00,#ff9c00,#ffcc00,#f1fc06,#caff2c,#a4ff53,#83ff73,#6aff8d,#53ffa4,#40ffb7,#30ffc7,#29ffce,#23ffd4,#23ffd4,#29ffce,#30ffc7,#3cffba,#49ffad,#53ffa4,#5dff9a,#63ff94,#60ff97,#53ffa4,#36ffc1,#0cf5eb,#00b9ff,#007dff,#0044ff,#0019ff,#0000ff,#0000ed,#0000da,#0000c8,#0000bb,#0000b2,#0000a8,#0000a4,#00009f,#00009b,#00009b,#00009b,#00009f)"></i>
<i style="background:linear-gradient(90deg,#0000ff,#0000f6,#0000ff,#0009ff,#002dff,#0059ff,#0091ff,#00c8ff,#19ffde,#46ffb1,#73ff83,#9dff5a,#c4ff33,#e4ff13,#feed00,#ffd300,#ffbd00,#ffa700,#ff8d00,#ff6f00,#ff4a00,#ff2500,#ed0400,#cd0000,#bb0000,#b20000,#b60000,#bf0000,#d10000,#e40000,#fa0f00,#ff2500,#ff4700,#ff6c00,#ff9800,#ffc800,#f4f802,#caff2c,#a4ff53,#83ff73,#6aff8d,#50ffa7,#40ffb7,#30ffc7,#29ffce,#23ffd4,#26ffd1,#29ffce,#33ffc4,#3cffba,#49ffad,#53ffa4,#5dff9a,#63ff94,#60ff97,#53ffa4,#36ffc1,#0cf5eb,#00b9ff,#007dff,#0044ff,#0019ff,#0000ff,#0000ed,#0000da,#0000c8,#0000bb,#0000b2,#0000a8,#0000a4,#00009f,#00009b,#00009b,#00009b,#00009f)"></i>
<i style="background:linear-gradient(90deg,#0000ff,#0000f6,#0000ff,#0009ff,#002dff,#0059ff,#0091ff,#00c8ff,#19ffde,#46ffb1,#73ff83,#9aff5d,#c1ff36,#deff19,#f8f500,#ffdb00,#ffc400,#ffae00,#ff9400,#ff7300,#ff4e00,#ff2900,#ed0400,#cd0000,#bb0000,#b60000,#b60000,#c40000,#d10000,#e40000,#fa0f00,#ff2500,#ff4300,#ff6c00,#ff9800,#ffc800,#f4f802,#caff2c,#a4ff53,#83ff73,#66ff90,#50ffa7,#3cffba,#30ffc7,#29ffce,#23ffd4,#26ffd1,#29ffce,#33ffc4,#3cffba,#49ffad,#53ffa4,#60ff97,#63ff94,#60ff97,#53ffa4,#36ffc1,#0cf5eb,#00b9ff,#007dff,#0044ff,#0019ff,#0000ff,#0000ed,#0000da,#0000c8,#0000bb,#0000b2,#0000a8,#0000a4,#00009f,#00009b,#00009b,#00009b,#00009f)"></i>
<i style="background:linear-gradient(90deg,#0000ff,#0000f6,#0000ff,#0009ff,#002dff,#0059ff,#0091ff,#00c8ff,#19ffde,#46ffb1,#73ff83,#9aff5d,#beff39,#dbff1c,#f4f802,#ffe200,#ffcc00,#ffb200,#ff9800,#ff7700,#ff5200,#ff2900,#ed0400,#cd0000,#bb0000,#b60000,#b60000,#c40000,#d10000,#e40000,#fa0f00,#ff2500,#ff4300,#ff6800,#ff9800,#ffc800,#f4f802,#caff2c,#a4ff53,#83ff73,#66ff90,#50ffa7,#3cffba,#30ffc7,#29ffce,#26ffd1,#26ffd1,#2cffca,#33ffc4,#3cffba,#49ffad,#53ffa4,#60ff97,#63ff94,#60ff97,#53ffa4,#36ffc1,#0cf5eb,#00b9ff,#007dff,#0044ff,#0019ff,#0000ff,#0000ed,#0000da,#0000c8,#0000bb,#0000b2,#0000a8,#0000a4,#00009f,#00009b,#00009b,#00009b,#00009f)"></i>
<i style="background:linear-gradient(90deg,#0000ff,#0000f6,#0000ff,#0009ff,#002dff,#005dff,#0091ff,#00c8ff,#19ffde,#46ffb1,#70ff87,#97ff60,#baff3c,#d7ff1f,#f1fc06,#ffe600,#ffd000,#ffb900,#ff9f00,#ff7a00,#ff5500,#ff2d00,#f10800,#cd0000,#bb0000,#b60000,#bb0000,#c40000,#d10000,#e40000,#fa0f00,#ff2500,#ff4300,#ff6800,#ff9400,#ffc400,#f4f802,#caff2c,#a4ff53,#83ff73,#66ff90,#4dffaa,#3cffba,#30ffc7,#29ffce,#26ffd1,#26ffd1,#2cffca,#33ffc4,#3cffba,#49ffad,#53ffa4,#60ff97,#63ff94,#60ff97,#53ffa4,#36ffc1,#0cf5eb,#00b9ff,#007dff,#0044ff,#0019ff,#0000ff,#0000ed,#0000da,#0000c8,#0000bb,#0000b2,#0000a8,#0000a4,#00009f,#00009b,#00009b,#00009b,#00009f)"></i>
<i style="background:linear-gradient(90deg,#0000ff,#0000f6,#0000ff,#0009ff,#002dff,#005dff,#0091ff,#00c8ff,#19ffde,#46ffb1,#70ff87,#97ff60,#b7ff40,#d4ff23,#ebff0c,#feed00,#ffd700,#ffc100,#ffa300,#ff8200,#ff5500,#ff2d00,#f10800,#cd0000,#bb0000,#b60000,#bb0000,#c40000,#d10000,#e40000,#fa0f00,#ff2500,#ff4300,#ff6800,#ff9400,#ffc400,#f4f802,#caff2c,#a4ff53,#83ff73,#66ff90,#4dffaa,#3cffba,#30ffc7,#29ffce,#26ffd1,#26ffd1,#2cffca,#33ffc4,#40ffb7,#49ffad,#53ffa4,#60ff97,#63ff94,#63ff94,#53ffa4,#36ffc1,#0cf5eb,#00b9ff,#007dff,#0044ff,#0019ff,#0000ff,#0000ed,#0000da,#0000c8,#0000bf,#0000b2,#0000a8,#0000a4,#00009f,#00009b,#00009b,#00009b,#00009f)"></i>
<i style="background:linear-gradient(90deg,#0000ff,#0000f1,#0000ff,#0009ff,#002dff,#005dff,#0091ff,#00c8ff,#19ffde,#46ffb1,#70ff87,#94ff63,#b4ff43,#d1ff26,#e7ff0f,#fbf100,#ffdb00,#ffc400,#ffa700,#ff8600,#ff5900,#ff3000,#f10800,#cd0000,#bb0000,#b60000,#bb0000,#c40000,#d60000,#e40000,#fa0f00,#ff2500,#ff4300,#ff6800,#ff9400,#ffc400,#f4f802,#caff2c,#a4ff53,#80ff77,#63ff94,#4dffaa,#39ffbe,#30ffc7,#29ffce,#26ffd1,#29ffce,#2cffca,#36ffc1,#40ffb7,#49ffad,#53ffa4,#60ff97,#63ff94,#63ff94,#53ffa4,#36ffc1,#0ff9e7,#00b9ff,#007dff,#0044ff,#0019ff,#0000ff,#0000ed,#0000da,#0000c8,#0000bf,#0000b2,#0000a8,#0000a4,#00009f,#00009b,#00009b,#00009b,#00009f)"></i>
<i style="background:linear-gradient(90deg,#0000ff,#0000f1,#0000fa,#0009ff,#002dff,#005dff,#0091ff,#00c8ff,#19ffde,#46ffb1,#6dff8a,#90ff66,#b1ff46,#ceff29,#e4ff13,#f8f500,#ffe200,#ffcc00,#ffae00,#ff8900,#ff5d00,#ff3000,#f60b00,#cd0000,#bb0000,#b60000,#bb0000,#c40000,#d60000,#e40000,#fa0f00,#ff2500,#ff4300,#ff6800,#ff9400,#ffc400,#f4f802,#caff2c,#a4ff53,#80ff77,#63ff94,#4dffaa,#39ffbe,#30ffc7,#29ffce,#26ffd1,#29ffce,#2cffca,#36ffc1,#40ffb7,#49ffad,#53ffa4,#60ff97,#63ff94,#63ff94,#53ffa4,#39ffbe,#0ff9e7,#00b9ff,#007dff,#0044ff,#0019ff,#0000ff,#0000ed,#0000da,#0000c8,#0000bf,#0000b2,#0000a8,#0000a4,#00009f,#00009b,#00009b,#00009b,#00009f)"></i>
<i style="background:linear-gradient(90deg,#0000ff,#0000f1,#0000fa,#0009ff,#002dff,#005dff,#0091ff,#00c8ff,#19ffde,#46ffb1,#6dff8a,#90ff66,#adff49,#caff2c,#deff19,#f1fc06,#ffe600,#ffd000,#ffb200,#ff8d00,#ff6000,#ff3400,#f60b00,#d10000,#bb0000,#b60000,#bb0000,#c40000,#d60000,#e40000,#fa0f00,#ff2500,#ff3f00,#ff6800,#ff9400,#ffc400,#f4f802,#caff2c,#a0ff56,#80ff77,#63ff94,#49ffad,#39ffbe,#2cffca,#29ffce,#26ffd1,#29ffce,#2cffca,#36ffc1,#40ffb7,#49ffad,#53ffa4,#5dff9a,#63ff94,#63ff94,#53ffa4,#39ffbe,#0ff9e7,#00b9ff,#007dff,#0044ff,#0019ff,#0000ff,#0000ed,#0000da,#0000c8,#0000bf,#0000b2,#0000a8,#0000a4,#00009f,#00009b,#00009b,#00009b,#00009f)"></i>
<i style="background:linear-gradient(90deg,#0000ff,#0000f1,#0000fa,#0009ff,#002dff,#005dff,#0091ff,#00c8ff,#19ffde,#46ffb1,#6dff8a,#8dff6a,#adff49,#c7ff30,#dbff1c,#eeff09,#feed00,#ffd700,#ffb900,#ff9100,#ff6400,#ff3800,#f60b00,#d10000,#bb0000,#b60000,#bb0000,#c40000,#d60000,#e40000,#fa0f00,#ff2500,#ff4300,#ff6800,#ff9400,#ffc800,#f4f802,#c7ff30,#a0ff56,#80ff77,#60ff97,#49ffad,#39ffbe,#2cffca,#29ffce,#26ffd1,#29ffce,#30ffc7,#36ffc1,#40ffb7,#49ffad,#53ffa4,#5dff9a,#63ff94,#63ff94,#56ffa0,#39ffbe,#0ff9e7,#00bdff,#007dff,#0044ff,#0019ff,#0000ff,#0000ed,#0000da,#0000c8,#0000bf,#0000b2,#0000a8,#0000a4,#00009f,#00009b,#00009b,#00009b,#00009f)"></i>
<i style="background:linear-gradient(90deg,#0000ff,#0000f1,#0000fa,#0009ff,#002dff,#005dff,#0091ff,#00cdff,#19ffde,#43ffb4,#6dff8a,#8dff6a,#aaff4d,#c4ff33,#d7ff1f,#ebff0c,#fbf100,#ffdb00,#ffbd00,#ff9800,#ff6800,#ff3800,#fa0f00,#d10000,#bb0000,#b60000,#bb0000,#c40000,#d60000,#e40000,#fa0f00,#ff2500,#ff4300,#ff6800,#ff9400,#ffc800,#f1fc06,#c7ff30,#a0ff56,#7dff7a,#60ff97,#49ffad,#39ffbe,#2cffca,#29ffce,#26ffd1,#29ffce,#30ffc7,#36ffc1,#40ffb7,#49ffad,#53ffa4,#5dff9a,#63ff94,#63ff94,#56ffa0,#39ffbe,#0ff9e7,#00bdff,#007dff,#0044ff,#0019ff,#0000ff,#0000ed,#0000da,#0000c8,#0000bf,#0000b2,#0000a8,#0000a4,#00009f,#00009b,#00009b,#00009b,#00009f)"></i>
<i style="background:linear-gradient(90deg,#0000ff,#0000f1,#0000fa,#0009ff,#002dff,#005dff,#0091ff,#00cdff,#19ffde,#43ffb4,#6aff8d,#8dff6a,#a7ff50,#c1ff36,#d4ff23,#e4ff13,#f8f500,#ffde00,#ffc100,#ff9c00,#ff6c00,#ff3b00,#fa0f00,#d10000,#bb0000,#b60000,#bb0000,#c40000,#d60000,#e40000,#fa0f00,#ff2500,#ff4300,#ff6800,#ff9400,#ffc800,#f1fc06,#c7ff30,#a0ff56,#7dff7a,#60ff97,#49ffad,#36ffc1,#2cffca,#29ffce,#26ffd1,#29ffce,#30ffc7,#36ffc1,#40ffb7,#49ffad,#53ffa4,#5dff9a,#63ff94,#63ff94,#56ffa0,#39ffbe,#0ff9e7,#00bdff,#007dff,#0044ff,#0019ff,#0000ff,#0000ed,#0000da,#0000cd,#0000bf,#0000b2,#0000a8,#0000a4,#00009f,#00009b,#00009b,#00009b,#00009f)"></i>
<i style="background:linear-gradient(90deg,#0000ff,#0000f1,#0000fa,#0009ff,#002dff,#005dff,#0091ff,#00cdff,#19ffde,#43ffb4,#6aff8d,#8aff6d,#a7ff50,#beff39,#d1ff26,#e1ff16,#f1fc06,#ffe600,#ffc800,#ff9f00,#ff6f00,#ff3f00,#ff1300,#d10000,#bb0000,#b60000,#bb0000,#c40000,#d60000,#e40000,#fa0f00,#ff2500,#ff4300,#ff6800,#ff9800,#ffc800,#f1fc06,#c4ff33,#9dff5a,#7dff7a,#60ff97,#46ffb1,#36ffc1,#2cffca,#26ffd1,#26ffd1,#29ffce,#30ffc7,#36ffc1,#40ffb7,#49ffad,#53ffa4,#5dff9a,#63ff94,#63ff94,#56ffa0,#39ffbe,#0ff9e7,#00bdff,#007dff,#0044ff,#0019ff,#0000ff,#0000ed,#0000da,#0000cd,#0000bf,#0000b2,#0000a8,#0000a4,#00009f,#00009b,#00009b,#00009b,#00009f)"></i>
<i style="background:linear-gradient(90deg,#0000ff,#0000f1,#0000fa,#0009ff,#002dff,#005dff,#0091ff,#00cdff,#19ffde,#43ffb4,#6aff8d,#8aff6d,#a4ff53,#baff3c,#ceff29,#deff19,#eeff09,#ffea00,#ffcc00,#ffa300,#ff7300,#ff4300,#ff1300,#d60000,#bb0000,#b20000,#b60000,#c40000,#d60000,#e40000,#fa0f00,#ff2500,#ff4300,#ff6c00,#ff9800,#ffcc00,#eeff09,#c4ff33,#9dff5a,#7aff7d,#5dff9a,#46ffb1,#36ffc1,#2cffca,#26ffd1,#26ffd1,#29ffce,#30ffc7,#36ffc1,#3cffba,#46ffb1,#53ffa4,#5dff9a,#63ff94,#63ff94,#56ffa0,#39ffbe,#0ff9e7,#00bdff,#007dff,#0044ff,#0019ff,#0000ff,#0000ed,#0000da,#0000cd,#0000bf,#0000b2,#0000a8,#0000a4,#00009f,#00009b,#00009b,#00009b,#00009f)"></i>
<i style="background:linear-gradient(90deg,#0000ff,#0000f1,#0000fa,#0009ff,#002dff,#005dff,#0091ff,#00cdff,#19ffde,#43ffb4,#6aff8d,#87ff70,#a4ff53,#baff3c,#caff2c,#dbff1c,#ebff0c,#feed00,#ffd000,#ffa700,#ff7700,#ff4300,#ff1600,#d60000,#bb0000,#b20000,#b60000,#c40000,#d10000,#e40000,#fa0f00,#ff2500,#ff4300,#ff6c00,#ff9800,#ffcc00,#eeff09,#c1ff36,#9aff5d,#7aff7d,#5dff9a,#46ffb1,#36ffc1,#2cffca,#26ffd1,#26ffd1,#29ffce,#30ffc7,#36ffc1,#3cffba,#46ffb1,#53ffa4,#5dff9a,#63ff94,#63ff94,#56ffa0,#39ffbe,#0ff9e7,#00bdff,#007dff,#0044ff,#0019ff,#0000ff,#0000ed,#0000da,#0000cd,#0000bf,#0000b2,#0000a8,#0000a4,#00009f,#00009b,#00009b,#00009b,#00009f)"></i>
<i style="background:linear-gradient(90deg,#0000ff,#0000f1,#0000fa,#0009ff,#002dff,#005dff,#0091ff,#00cdff,#19ffde,#43ffb4,#66ff90,#87ff70,#a0ff56,#b7ff40,#caff2c,#d7ff1f,#e7ff0f,#f8f500,#ffd700,#ffae00,#ff7a00,#ff4700,#ff1600,#d60000,#bb0000,#b20000,#b60000,#c40000,#d10000,#e40000,#fa0f00,#ff2500,#ff4700,#ff6c00,#ff9c00,#ffd000,#ebff0c,#c1ff36,#9aff5d,#77ff80,#5dff9a,#46ffb1,#36ffc1,#2cffca,#26ffd1,#26ffd1,#29ffce,#30ffc7,#36ffc1,#3cffba,#46ffb1,#53ffa4,#5dff9a,#63ff94,#63ff94,#56ffa0,#39ffbe,#0ff9e7,#00bdff,#007dff,#0044ff,#0019ff,#0000ff,#0000ed,#0000da,#0000cd,#0000bf,#0000b2,#0000a8,#0000a4,#00009f,#00009b,#00009b,#00009b,#00009f)"></i>
<i style="background:linear-gradient(90deg,#0000ff,#0000f1,#0000ff,#0009ff,#002dff,#005dff,#0091ff,#00cdff,#19ffde,#43ffb4,#66ff90,#87ff70,#a0ff56,#b7ff40,#c7ff30,#d4ff23,#e4ff13,#f4f802,#ffdb00,#ffb200,#ff7e00,#ff4a00,#ff1a00,#d60000,#bb0000,#b20000,#b60000,#c40000,#d10000,#e40000,#fa0f00,#ff2900,#ff4700,#ff6f00,#ff9c00,#ffd000,#ebff0c,#beff39,#97ff60,#77ff80,#5aff9d,#46ffb1,#36ffc1,#2cffca,#26ffd1,#26ffd1,#29ffce,#30ffc7,#36ffc1,#3cffba,#46ffb1,#50ffa7,#5dff9a,#63ff94,#63ff94,#56ffa0,#39ffbe,#0ff9e7,#00bdff,#007dff,#0044ff,#0019ff,#0000ff,#0000ed,#0000da,#0000cd,#0000bf,#0000b2,#0000a8,#0000a4,#00009f,#00009b,#00009b,#00009b,#00009f)"></i>
<i style="background:linear-gradient(90deg,#0000ff,#0000f1,#0000ff,#0009ff,#002dff,#005dff,#0091ff,#00c8ff,#16ffe1,#40ffb7,#66ff90,#87ff70,#a0ff56,#b4ff43,#c4ff33,#d1ff26,#e1ff16,#f1fc06,#ffde00,#ffb600,#ff8200,#ff4e00,#ff1a00,#da0000,#bb0000,#b20000,#b60000,#c40000,#d10000,#e40000,#fa0f00,#ff2900,#ff4700,#ff6f00,#ff9f00,#ffd300,#e7ff0f,#beff39,#97ff60,#77ff80,#5aff9d,#43ffb4,#36ffc1,#2cffca,#26ffd1,#26ffd1,#29ffce,#2cffca,#33ffc4,#3cffba,#46ffb1,#50ffa7,#5dff9a,#63ff94,#63ff94,#56ffa0,#39ffbe,#0ff9e7,#00bdff,#007dff,#0044ff,#0019ff,#0000ff,#0000ed,#0000da,#0000cd,#0000bf,#0000b2,#0000a8,#0000a4,#00009f,#00009b,#00009b,#00009b,#00009f)"></i>
<i style="background:linear-gradient(90deg,#0000ff,#0000f1,#0000ff,#0009ff,#002dff,#005dff,#0091ff,#00c8ff,#16ffe1,#40ffb7,#66ff90,#83ff73,#9dff5a,#b4ff43,#c4ff33,#d1ff26,#deff19,#eeff09,#ffe200,#ffb900,#ff8600,#ff4e00,#ff1e00,#da0000,#bf0000,#b20000,#b60000,#bf0000,#d10000,#e40000,#fa0f00,#ff2900,#ff4a00,#ff7300,#ff9f00,#ffd300,#e7ff0f,#baff3c,#97ff60,#73ff83,#5aff9d,#43ffb4,#33ffc4,#2cffca,#26ffd1,#26ffd1,#29ffce,#2cffca,#33ffc4,#3cffba,#46ffb1,#50ffa7,#5aff9d,#63ff94,#63ff94,#56ffa0,#39ffbe,#0ff9e7,#00bdff,#007dff,#0044ff,#0019ff,#0000ff,#0000ed,#0000da,#0000cd,#0000bf,#0000b2,#0000a8,#0000a4,#00009f,#00009b,#00009b,#00009b,#00009f)"></i>
<i style="background:linear-gradient(90deg,#0000ff,#0000f1,#0000ff,#0009ff,#002dff,#005dff,#0091ff,#00c8ff,#16ffe1,#40ffb7,#63ff94,#83ff73,#9dff5a,#b1ff46,#c1ff36,#ceff29,#dbff1c,#ebff0c,#ffe600,#ffbd00,#ff8900,#ff5200,#ff1e00,#da0000,#bf0000,#b20000,#b60000,#bf0000,#d10000,#e40000,#fa0f00,#ff2900,#ff4a00,#ff7300,#ffa300,#ffd700,#e4ff13,#baff3c,#94ff63,#73ff83,#5aff9d,#43ffb4,#33ffc4,#2cffca,#26ffd1,#26ffd1,#29ffce,#2cffca,#33ffc4,#3cffba,#46ffb1,#50ffa7,#5aff9d,#63ff94,#60ff97,#56ffa0,#39ffbe,#0ff9e7,#00bdff,#007dff,#0044ff,#0019ff,#0000ff,#0000ed,#0000da,#0000cd,#0000bf,#0000b2,#0000a8,#0000a4,#00009f,#00009b,#00009b,#00009b,#00009f)"></i>
<i style="background:linear-gradient(90deg,#0000ff,#0000f6,#0000ff,#0009ff,#002dff,#005dff,#0091ff,#00c8ff,#16ffe1,#40ffb7,#63ff94,#83ff73,#9aff5d,#b1ff46,#beff39,#caff2c,#d7ff1f,#e7ff0f,#ffea00,#ffc100,#ff8d00,#ff5500,#ff2200,#df0000,#bf0000,#b20000,#b60000,#bf0000,#d10000,#e40000,#ff1300,#ff2d00,#ff4a00,#ff7700,#ffa700,#ffdb00,#e1ff16,#b7ff40,#94ff63,#73ff83,#56ffa0,#43ffb4,#33ffc4,#2cffca,#26ffd1,#26ffd1,#29ffce,#2cffca,#33ffc4,#3cffba,#43ffb4,#50ffa7,#5aff9d,#60ff97,#60ff97,#56ffa0,#39ffbe,#0ff9e7,#00bdff,#007dff,#0044ff,#0019ff,#0000ff,#0000ed,#0000da,#0000cd,#0000bf,#0000b2,#0000a8,#0000a4,#00009f,#00009b,#00009b,#00009b,#00009f)"></i>
<i style="background:linear-gradient(90deg,#0000ff,#0000f6,#0000ff,#0009ff,#002dff,#005dff,#0091ff,#00c8ff,#16ffe1,#40ffb7,#63ff94,#80ff77,#9aff5d,#adff49,#beff39,#c7ff30,#d4ff23,#e4ff13,#fbf100,#ffc400,#ff9100,#ff5900,#ff2200,#df0000,#bf0000,#b20000,#b20000,#bf0000,#cd0000,#e40000,#ff1300,#ff2d00,#ff4e00,#ff7700,#ffa700,#ffdb00,#e1ff16,#b7ff40,#90ff66,#70ff87,#56ffa0,#43ffb4,#33ffc4,#29ffce,#26ffd1,#26ffd1,#29ffce,#2cffca,#33ffc4,#39ffbe,#43ffb4,#50ffa7,#5aff9d,#60ff97,#60ff97,#56ffa0,#39ffbe,#0ff9e7,#00bdff,#007dff,#0044ff,#0019ff,#0000ff,#0000ed,#0000da,#0000cd,#0000bf,#0000b2,#0000a8,#0000a4,#00009f,#00009b,#00009b,#00009b,#00009f)"></i>
<i style="background:linear-gradient(90deg,#0000ff,#0000f6,#0000ff,#0009ff,#002dff,#005dff,#0091ff,#00c8ff,#16ffe1,#3cffba,#63ff94,#80ff77,#9aff5d,#adff49,#beff39,#c7ff30,#d1ff26,#e1ff16,#fbf100,#ffc800,#ff9400,#ff5900,#ff2500,#df0000,#bf0000,#b20000,#b20000,#bf0000,#cd0000,#e40000,#ff1300,#ff2d00,#ff4e00,#ff7a00,#ffab00,#ffde00,#deff19,#b4ff43,#90ff66,#70ff87,#56ffa0,#43ffb4,#33ffc4,#29ffce,#26ffd1,#26ffd1,#29ffce,#2cffca,#33ffc4,#39ffbe,#43ffb4,#4dffaa,#5aff9d,#60ff97,#60ff97,#56ffa0,#39ffbe,#0ff9e7,#00bdff,#007dff,#0044ff,#0019ff,#0000ff,#0000ed,#0000da,#0000cd,#0000bf,#0000b2,#0000a8,#0000a4,#00009f,#00009b,#00009b,#00009b,#00009f)"></i>
<i style="background:linear-gradient(90deg,#0000ff,#0000f6,#0000ff,#0009ff,#002dff,#005dff,#0091ff,#00c8ff,#13fde4,#3cffba,#60ff97,#80ff77,#9aff5d,#adff49,#baff3c,#c4ff33,#d1ff26,#deff19,#f8f500,#ffcc00,#ff9800,#ff5d00,#ff2900,#e40000,#bf0000,#b20000,#b20000,#bb0000,#cd0000,#e40000,#ff1300,#ff2d00,#ff5200,#ff7a00,#ffab00,#ffde00,#deff19,#b4ff43,#8dff6a,#70ff87,#56ffa0,#43ffb4,#33ffc4,#29ffce,#26ffd1,#26ffd1,#29ffce,#2cffca,#33ffc4,#39ffbe,#43ffb4,#4dffaa,#5aff9d,#60ff97,#60ff97,#56ffa0,#39ffbe,#0ff9e7,#00bdff,#007dff,#0044ff,#0019ff,#0000ff,#0000ed,#0000da,#0000cd,#0000bf,#0000b2,#0000a8,#0000a4,#00009f,#00009b,#00009b,#00009b,#00009f)"></i>
<i style="background:linear-gradient(90deg,#0000ff,#0000f6,#0000ff,#0009ff,#002dff,#005dff,#0091ff,#00c8ff,#13fde4,#3cffba,#60ff97,#80ff77,#97ff60,#adff49,#baff3c,#c4ff33,#ceff29,#deff19,#f4f802,#ffd000,#ff9c00,#ff6000,#ff2900,#e40000,#c40000,#b20000,#b20000,#bb0000,#cd0000,#e40000,#ff1300,#ff3000,#ff5200,#ff7e00,#ffae00,#ffe200,#dbff1c,#b1ff46,#8dff6a,#6dff8a,#56ffa0,#40ffb7,#33ffc4,#29ffce,#26ffd1,#26ffd1,#29ffce,#2cffca,#33ffc4,#39ffbe,#43ffb4,#4dffaa,#5aff9d,#60ff97,#60ff97,#56ffa0,#39ffbe,#0ff9e7,#00bdff,#007dff,#0044ff,#0019ff,#0000ff,#0000ed,#0000da,#0000c8,#0000bf,#0000b2,#0000a8,#0000a4,#00009f,#00009b,#00009b,#00009b,#00009f)"></i>
<i style="background:linear-gradient(90deg,#0000ff,#0000f6,#0000ff,#0009ff,#002dff,#005dff,#0091ff,#00c5ff,#13fde4,#3cffba,#60ff97,#7dff7a,#97ff60,#aaff4d,#baff3c,#c4ff33,#ceff29,#dbff1c,#f1fc06,#ffd300,#ff9c00,#ff6400,#ff2d00,#e80000,#c40000,#b20000,#b20000,#bb0000,#cd0000,#e40000,#ff1300,#ff3000,#ff5500,#ff7e00,#ffb200,#ffe600,#dbff1c,#b1ff46,#8aff6d,#6dff8a,#53ffa4,#40ffb7,#33ffc4,#2cffca,#26ffd1,#26ffd1,#29ffce,#2cffca,#33ffc4,#39ffbe,#43ffb4,#4dffaa,#5aff9d,#60ff97,#60ff97,#53ffa4,#39ffbe,#0ff9e7,#00bdff,#007dff,#0044ff,#0019ff,#0000ff,#0000ed,#0000da,#0000c8,#0000bf,#0000b2,#0000a8,#0000a4,#00009f,#00009b,#00009b,#00009b,#00009f)"></i>
<i style="background:linear-gradient(90deg,#0000ff,#0000f6,#0000ff,#0009ff,#002dff,#005dff,#0091ff,#00c5ff,#13fde4,#39ffbe,#60ff97,#7dff7a,#97ff60,#aaff4d,#baff3c,#c1ff36,#caff2c,#d7ff1f,#eeff09,#ffd700,#ff9f00,#ff6400,#ff2d00,#e80000,#c40000,#b20000,#b20000,#bb0000,#cd0000,#e40000,#ff1300,#ff3000,#ff5500,#ff8200,#ffb200,#ffe600,#d7ff1f,#adff49,#8aff6d,#6dff8a,#53ffa4,#40ffb7,#33ffc4,#2cffca,#26ffd1,#26ffd1,#29ffce,#2cffca,#33ffc4,#39ffbe,#43ffb4,#4dffaa,#5aff9d,#60ff97,#60ff97,#53ffa4,#39ffbe,#0ff9e7,#00bdff,#007dff,#0044ff,#0019ff,#0000ff,#0000ed,#0000da,#0000c8,#0000bf,#0000b2,#0000a8,#0000a4,#00009f,#00009b,#00009b,#00009b,#00009f)"></i>
<i style="background:linear-gradient(90deg,#0000ff,#0000f6,#0000ff,#0009ff,#002dff,#005dff,#008dff,#00c5ff,#0ff9e7,#39ffbe,#5dff9a,#7dff7a,#97ff60,#aaff4d,#b7ff40,#c1ff36,#caff2c,#d7ff1f,#eeff09,#ffd700,#ffa300,#ff6800,#ff3000,#ed0400,#c80000,#b60000,#b20000,#bb0000,#cd0000,#e40000,#ff1300,#ff3000,#ff5500,#ff8200,#ffb600,#ffea00,#d4ff23,#adff49,#8aff6d,#6dff8a,#53ffa4,#40ffb7,#33ffc4,#2cffca,#26ffd1,#26ffd1,#29ffce,#2cffca,#33ffc4,#39ffbe,#43ffb4,#4dffaa,#56ffa0,#60ff97,#60ff97,#53ffa4,#39ffbe,#0ff9e7,#00bdff,#007dff,#0044ff,#0019ff,#0000ff,#0000ed,#0000da,#0000c8,#0000bf,#0000b2,#0000a8,#0000a4,#00009f,#00009b,#00009b,#00009b,#00009f)"></i>
<i style="background:linear-gradient(90deg,#0000ff,#0000f6,#0000ff,#0009ff,#002dff,#0059ff,#008dff,#00c1ff,#0ff9e7,#39ffbe,#5dff9a,#7dff7a,#97ff60,#aaff4d,#b7ff40,#c1ff36,#caff2c,#d4ff23,#ebff0c,#ffdb00,#ffa700,#ff6c00,#ff3400,#ed0400,#c80000,#b60000,#b20000,#bb0000,#cd0000,#e40000,#ff1300,#ff3400,#ff5900,#ff8600,#ffb600,#ffea00,#d4ff23,#aaff4d,#87ff70,#6aff8d,#53ffa4,#40ffb7,#33ffc4,#2cffca,#26ffd1,#26ffd1,#29ffce,#2cffca,#33ffc4,#39ffbe,#43ffb4,#4dffaa,#56ffa0,#60ff97,#60ff97,#53ffa4,#39ffbe,#0ff9e7,#00bdff,#007dff,#0044ff,#0019ff,#0000ff,#0000ed,#0000da,#0000c8,#0000bf,#0000b2,#0000a8,#0000a4,#00009f,#00009b,#00009b,#00009b,#00009f)"></i>
<i style="background:linear-gradient(90deg,#0000ff,#0000f6,#0000ff,#0009ff,#002dff,#0059ff,#008dff,#00c1ff,#0cf5eb,#36ffc1,#5dff9a,#7aff7d,#97ff60,#aaff4d,#b7ff40,#c1ff36,#c7ff30,#d4ff23,#ebff0c,#ffde00,#ffa700,#ff6f00,#ff3400,#f10800,#c80000,#b60000,#b20000,#bb0000,#c80000,#e40000,#ff1300,#ff3400,#ff5900,#ff8600,#ffb900,#feed00,#d1ff26,#aaff4d,#87ff70,#6aff8d,#53ffa4,#40ffb7,#33ffc4,#2cffca,#26ffd1,#26ffd1,#29ffce,#2cffca,#33ffc4,#39ffbe,#43ffb4,#4dffaa,#56ffa0,#60ff97,#60ff97,#53ffa4,#39ffbe,#0ff9e7,#00bdff,#007dff,#0044ff,#0019ff,#0000ff,#0000ed,#0000da,#0000c8,#0000bf,#0000b2,#0000a8,#0000a4,#00009f,#00009b,#00009b,#00009b,#00009f)"></i>
<i style="background:linear-gradient(90deg,#0000ff,#0000f6,#0000ff,#0009ff,#002dff,#0059ff,#0088ff,#00c1ff,#0cf5eb,#36ffc1,#5aff9d,#7aff7d,#97ff60,#aaff4d,#b7ff40,#c1ff36,#c7ff30,#d4ff23,#e7ff0f,#ffde00,#ffab00,#ff6f00,#ff3800,#f10800,#cd0000,#b60000,#b20000,#bb0000,#c80000,#e40000,#ff1600,#ff3400,#ff5d00,#ff8900,#ffb900,#feed00,#d1ff26,#aaff4d,#87ff70,#6aff8d,#53ffa4,#40ffb7,#33ffc4,#2cffca,#29ffce,#26ffd1,#29ffce,#2cffca,#33ffc4,#39ffbe,#43ffb4,#4dffaa,#56ffa0,#60ff97,#60ff97,#53ffa4,#39ffbe,#0ff9e7,#00bdff,#007dff,#0044ff,#0019ff,#0000ff,#0000ed,#0000da,#0000c8,#0000bf,#0000b2,#0000a8,#0000a4,#00009f,#00009b,#00009b,#00009b,#00009f)"></i>
<i style="background:linear-gradient(90deg,#0000ff,#0000f6,#0000ff,#0009ff,#002dff,#0059ff,#0088ff,#00bdff,#09f1ee,#33ffc4,#5aff9d,#7aff7d,#97ff60,#aaff4d,#b7ff40,#c1ff36,#c7ff30,#d4ff23,#e7ff0f,#ffe200,#ffae00,#ff7300,#ff3b00,#f60b00,#cd0000,#bb0000,#b20000,#bb0000,#c80000,#e40000,#ff1600,#ff3400,#ff5d00,#ff8900,#ffbd00,#fbf100,#d1ff26,#a7ff50,#87ff70,#6aff8d,#53ffa4,#40ffb7,#33ffc4,#2cffca,#29ffce,#26ffd1,#29ffce,#2cffca,#33ffc4,#39ffbe,#43ffb4,#4dffaa,#56ffa0,#60ff97,#60ff97,#53ffa4,#39ffbe,#0ff9e7,#00bdff,#007dff,#0044ff,#0019ff,#0000ff,#0000ed,#0000da,#0000c8,#0000bf,#0000b2,#0000a8,#0000a4,#00009f,#00009b,#00009b,#00009b,#00009f)"></i>
<i style="background:linear-gradient(90deg,#0000ff,#0000f6,#0000ff,#0009ff,#002dff,#0059ff,#0088ff,#00bdff,#09f1ee,#33ffc4,#56ffa0,#7aff7d,#94ff63,#aaff4d,#baff3c,#c1ff36,#c7ff30,#d4ff23,#e7ff0f,#ffe200,#ffae00,#ff7300,#ff3b00,#f60b00,#d10000,#bb0000,#b20000,#bb0000,#c80000,#e40000,#ff1600,#ff3800,#ff5d00,#ff8d00,#ffbd00,#fbf100,#ceff29,#a7ff50,#87ff70,#6aff8d,#53ffa4,#40ffb7,#36ffc1,#2cffca,#29ffce,#26ffd1,#29ffce,#2cffca,#33ffc4,#39ffbe,#43ffb4,#4dffaa,#56ffa0,#60ff97,#60ff97,#53ffa4,#36ffc1,#0ff9e7,#00bdff,#007dff,#0044ff,#0019ff,#0000ff,#0000ed,#0000da,#0000c8,#0000bf,#0000b2,#0000a8,#0000a4,#00009b,#00009b,#00009b,#00009b,#00009f)"></i>
<i style="background:linear-gradient(90deg,#0000ff,#0000f6,#0000ff,#0009ff,#002dff,#0054ff,#0085ff,#00b9ff,#06edf1,#30ffc7,#56ffa0,#7aff7d,#94ff63,#aaff4d,#baff3c,#c1ff36,#c7ff30,#d4ff23,#e4ff13,#ffe200,#ffb200,#ff7700,#ff3f00,#fa0f00,#d10000,#bb0000,#b60000,#bb0000,#c80000,#e40000,#ff1600,#ff3800,#ff6000,#ff8d00,#ffc100,#f8f500,#ceff29,#a7ff50,#83ff73,#6aff8d,#53ffa4,#43ffb4,#36ffc1,#2cffca,#29ffce,#29ffce,#29ffce,#2cffca,#33ffc4,#39ffbe,#43ffb4,#4dffaa,#56ffa0,#60ff97,#5dff9a,#53ffa4,#36ffc1,#0ff9e7,#00b9ff,#007dff,#0044ff,#0019ff,#0000ff,#0000ed,#0000da,#0000c8,#0000bf,#0000b2,#0000a8,#0000a4,#00009b,#00009b,#00009b,#00009b,#00009f)"></i>
<i style="background:linear-gradient(90deg,#0000ff,#0000fa,#0000ff,#0009ff,#002dff,#0054ff,#0085ff,#00b9ff,#06edf1,#30ffc7,#56ffa0,#77ff80,#94ff63,#aaff4d,#baff3c,#c4ff33,#caff2c,#d4ff23,#e4ff13,#ffe600,#ffb200,#ff7a00,#ff4300,#ff1300,#d60000,#bf0000,#b60000,#bb0000,#c80000,#e40000,#ff1600,#ff3800,#ff6000,#ff9100,#ffc100,#f8f500,#ceff29,#a7ff50,#83ff73,#6aff8d,#53ffa4,#43ffb4,#36ffc1,#2cffca,#29ffce,#29ffce,#29ffce,#2cffca,#33ffc4,#39ffbe,#43ffb4,#4dffaa,#56ffa0,#60ff97,#5dff9a,#53ffa4,#36ffc1,#0cf5eb,#00b9ff,#007dff,#0044ff,#0019ff,#0000ff,#0000ed,#0000da,#0000c8,#0000bf,#0000b2,#0000a8,#0000a4,#00009b,#00009b,#00009b,#00009b,#00009f)"></i>
<i style="background:linear-gradient(90deg,#0000ff,#0000fa,#0000ff,#0009ff,#0029ff,#0054ff,#0081ff,#00b5ff,#02e8f4,#2cffca,#53ffa4,#77ff80,#94ff63,#aaff4d,#baff3c,#c4ff33,#caff2c,#d4ff23,#e4ff13,#ffe600,#ffb200,#ff7a00,#ff4300,#ff1300,#d60000,#bf0000,#b60000,#bb0000,#c80000,#e40000,#ff1600,#ff3800,#ff6000,#ff9100,#ffc100,#f8f500,#caff2c,#a4ff53,#83ff73,#6aff8d,#53ffa4,#43ffb4,#36ffc1,#30ffc7,#29ffce,#29ffce,#29ffce,#2cffca,#33ffc4,#39ffbe,#43ffb4,#4dffaa,#56ffa0,#5dff9a,#5dff9a,#53ffa4,#36ffc1,#0cf5eb,#00b9ff,#007dff,#0044ff,#0019ff,#0000ff,#0000ed,#0000da,#0000c8,#0000bf,#0000b2,#0000a8,#0000a4,#00009b,#00009b,#00009b,#00009b,#00009f)"></i>
<i style="background:linear-gradient(90deg,#0000ff,#0000fa,#0000ff,#0009ff,#0029ff,#0051ff,#0081ff,#00b5ff,#02e8f4,#29ffce,#53ffa4,#77ff80,#94ff63,#adff49,#baff3c,#c4ff33,#caff2c,#d4ff23,#e4ff13,#ffe600,#ffb600,#ff7e00,#ff4700,#ff1600,#da0000,#c40000,#b60000,#bb0000,#c80000,#e40000,#ff1600,#ff3b00,#ff6400,#ff9100,#ffc400,#f4f802,#caff2c,#a4ff53,#83ff73,#6aff8d,#53ffa4,#43ffb4,#36ffc1,#30ffc7,#29ffce,#29ffce,#29ffce,#30ffc7,#33ffc4,#39ffbe,#43ffb4,#4dffaa,#56ffa0,#5dff9a,#5dff9a,#53ffa4,#36ffc1,#0cf5eb,#00b9ff,#007dff,#0044ff,#0019ff,#0000ff,#0000ed,#0000da,#0000c8,#0000bf,#0000b2,#0000a8,#0000a4,#00009b,#00009b,#00009b,#00009b,#00009f)"></i>
<i style="background:linear-gradient(90deg,#0000ff,#0000fa,#0000ff,#0009ff,#0029ff,#0051ff,#007dff,#00b1ff,#00e5f8,#29ffce,#50ffa7,#73ff83,#94ff63,#adff49,#beff39,#c4ff33,#caff2c,#d4ff23,#e4ff13,#ffe600,#ffb600,#ff7e00,#ff4700,#ff1a00,#df0000,#c40000,#bb0000,#bb0000,#cd0000,#e40000,#ff1a00,#ff3b00,#ff6400,#ff9400,#ffc400,#f4f802,#caff2c,#a4ff53,#83ff73,#6aff8d,#53ffa4,#43ffb4,#36ffc1,#30ffc7,#2cffca,#29ffce,#2cffca,#30ffc7,#33ffc4,#39ffbe,#43ffb4,#4dffaa,#56ffa0,#5dff9a,#5dff9a,#50ffa7,#36ffc1,#0cf5eb,#00b9ff,#007dff,#0044ff,#0019ff,#0000ff,#0000ed,#0000da,#0000c8,#0000bf,#0000b2,#0000a8,#0000a4,#00009b,#00009b,#00009b,#00009b,#00009f)"></i>
<i style="background:linear-gradient(90deg,#0000ff,#0000fa,#0000ff,#0009ff,#0029ff,#0051ff,#007dff,#00adff,#00e1fb,#26ffd1,#50ffa7,#73ff83,#94ff63,#adff49,#beff39,#c7ff30,#ceff29,#d4ff23,#e7ff0f,#ffe600,#ffb600,#ff8200,#ff4a00,#ff1a00,#df0000,#c40000,#bb0000,#bf0000,#cd0000,#e40000,#ff1a00,#ff3b00,#ff6400,#ff9400,#ffc400,#f4f802,#caff2c,#a4ff53,#83ff73,#6aff8d,#53ffa4,#43ffb4,#39ffbe,#30ffc7,#2cffca,#29ffce,#2cffca,#30ffc7,#33ffc4,#3cffba,#43ffb4,#4dffaa,#56ffa0,#5dff9a,#5dff9a,#50ffa7,#36ffc1,#0cf5eb,#00b9ff,#0079ff,#0044ff,#0019ff,#0000ff,#0000ed,#0000da,#0000c8,#0000bf,#0000b2,#0000a8,#0000a4,#00009b,#00009b,#00009b,#00009b,#00009f)"></i>
<i style="background:linear-gradient(90deg,#0000ff,#0000fa,#0000ff,#0009ff,#0024ff,#004dff,#0079ff,#00adff,#00e1fb,#26ffd1,#4dffaa,#73ff83,#94ff63,#adff49,#beff39,#c7ff30,#ceff29,#d7ff1f,#e7ff0f,#ffe600,#ffb900,#ff8200,#ff4e00,#ff1e00,#e40000,#c80000,#bb0000,#bf0000,#cd0000,#e40000,#ff1a00,#ff3f00,#ff6800,#ff9400,#ffc800,#f4f802,#caff2c,#a4ff53,#83ff73,#6aff8d,#53ffa4,#43ffb4,#39ffbe,#30ffc7,#2cffca,#2cffca,#2cffca,#30ffc7,#36ffc1,#3cffba,#43ffb4,#4dffaa,#56ffa0,#5dff9a,#5dff9a,#50ffa7,#36ffc1,#0cf5eb,#00b9ff,#0079ff,#0041ff,#0019ff,#0000ff,#0000ed,#0000da,#0000c8,#0000bf,#0000b2,#0000a8,#0000a4,#00009b,#00009b,#00009b,#00009b,#00009f)"></i>
<i style="background:linear-gradient(90deg,#0000ff,#0000fa,#0000ff,#0009ff,#0024ff,#004dff,#0079ff,#00a8ff,#00ddfe,#23ffd4,#4dffaa,#73ff83,#94ff63,#adff49,#c1ff36,#caff2c,#d1ff26,#d7ff1f,#e7ff0f,#ffe600,#ffb900,#ff8600,#ff4e00,#ff2200,#e40000,#cd0000,#bf0000,#bf0000,#cd0000,#e40000,#ff1a00,#ff3f00,#ff6800,#ff9800,#ffc800,#f1fc06,#caff2c,#a4ff53,#83ff73,#6aff8d,#56ffa0,#46ffb1,#39ffbe,#30ffc7,#2cffca,#2cffca,#2cffca,#30ffc7,#36ffc1,#3cffba,#46ffb1,#50ffa7,#5aff9d,#5dff9a,#5dff9a,#50ffa7,#33ffc4,#0cf5eb,#00b9ff,#0079ff,#0041ff,#0019ff,#0000ff,#0000ed,#0000da,#0000c8,#0000bf,#0000b2,#0000a8,#0000a4,#00009b,#00009b,#00009b,#00009b,#00009f)"></i>
<i style="background:linear-gradient(90deg,#0000ff,#0000fa,#0000ff,#0009ff,#0024ff,#0049ff,#0074ff,#00a5ff,#00d9ff,#1fffd7,#49ffad,#70ff87,#94ff63,#adff49,#c1ff36,#caff2c,#d1ff26,#d7ff1f,#e7ff0f,#ffe600,#ffb900,#ff8600,#ff5200,#ff2500,#e80000,#cd0000,#bf0000,#bf0000,#cd0000,#e40000,#ff1a00,#ff3f00,#ff6c00,#ff9800,#ffc800,#f1fc06,#c7ff30,#a4ff53,#83ff73,#6aff8d,#56ffa0,#46ffb1,#39ffbe,#33ffc4,#2cffca,#2cffca,#2cffca,#30ffc7,#36ffc1,#3cffba,#46ffb1,#50ffa7,#5aff9d,#5dff9a,#5dff9a,#50ffa7,#33ffc4,#0cf5eb,#00b9ff,#0079ff,#0041ff,#0019ff,#0000ff,#0000ed,#0000da,#0000c8,#0000bf,#0000b2,#0000a8,#0000a4,#00009b,#00009b,#00009b,#00009b,#00009f)"></i>
<i style="background:linear-gradient(90deg,#0000ff,#0000fa,#0000ff,#0004ff,#0024ff,#0049ff,#0074ff,#00a5ff,#00d9ff,#1fffd7,#49ffad,#70ff87,#94ff63,#b1ff46,#c4ff33,#ceff29,#d1ff26,#dbff1c,#e7ff0f,#ffe600,#ffb900,#ff8900,#ff5500,#ff2500,#ed0400,#d10000,#bf0000,#bf0000,#cd0000,#e80000,#ff1e00,#ff3f00,#ff6c00,#ff9c00,#ffcc00,#f1fc06,#c7ff30,#a4ff53,#83ff73,#6aff8d,#56ffa0,#46ffb1,#39ffbe,#33ffc4,#30ffc7,#2cffca,#30ffc7,#33ffc4,#36ffc1,#3cffba,#46ffb1,#50ffa7,#5aff9d,#5dff9a,#5dff9a,#50ffa7,#33ffc4,#09f1ee,#00b9ff,#0079ff,#0041ff,#0019ff,#0000ff,#0000ed,#0000da,#0000c8,#0000bf,#0000b2,#0000a8,#0000a4,#00009b,#00009b,#00009b,#00009b,#00009f)"></i>
<i style="background:linear-gradient(90deg,#0000ff,#0000fa,#0000ff,#0004ff,#0021ff,#0044ff,#0071ff,#00a1ff,#00d5ff,#1cffdb,#46ffb1,#70ff87,#94ff63,#b1ff46,#c4ff33,#ceff29,#d4ff23,#dbff1c,#ebff0c,#ffe600,#ffb900,#ff8900,#ff5500,#ff2900,#ed0400,#d10000,#c40000,#c40000,#cd0000,#e80000,#ff1e00,#ff4300,#ff6c00,#ff9c00,#ffcc00,#f1fc06,#c7ff30,#a4ff53,#83ff73,#6aff8d,#56ffa0,#46ffb1,#39ffbe,#33ffc4,#30ffc7,#2cffca,#30ffc7,#33ffc4,#36ffc1,#3cffba,#46ffb1,#50ffa7,#5aff9d,#5dff9a,#5dff9a,#50ffa7,#33ffc4,#09f1ee,#00b5ff,#0079ff,#0041ff,#0019ff,#0000ff,#0000ed,#0000da,#0000c8,#0000bf,#0000b2,#0000a8,#0000a4,#00009b,#00009b,#00009b,#00009b,#00009f)"></i>
<i style="background:linear-gradient(90deg,#0000ff,#0000fa,#0000ff,#0004ff,#0021ff,#0044ff,#0071ff,#009dff,#00d1ff,#19ffde,#46ffb1,#70ff87,#94ff63,#b1ff46,#c4ff33,#ceff29,#d4ff23,#deff19,#ebff0c,#ffe600,#ffbd00,#ff8900,#ff5900,#ff2d00,#f10800,#d60000,#c40000,#c40000,#cd0000,#e80000,#ff1e00,#ff4300,#ff6f00,#ff9c00,#ffcc00,#eeff09,#c7ff30,#a4ff53,#83ff73,#6aff8d,#56ffa0,#46ffb1,#3cffba,#33ffc4,#30ffc7,#30ffc7,#30ffc7,#33ffc4,#39ffbe,#40ffb7,#46ffb1,#50ffa7,#5aff9d,#5dff9a,#5dff9a,#50ffa7,#33ffc4,#09f1ee,#00b5ff,#0079ff,#0041ff,#0019ff,#0000ff,#0000ed,#0000da,#0000c8,#0000bf,#0000b2,#0000a8,#0000a4,#00009b,#00009b,#00009b,#00009b,#00009f)"></i>
<i style="background:linear-gradient(90deg,#0000ff,#0000fa,#0000ff,#0004ff,#0021ff,#0044ff,#006dff,#009dff,#00d1ff,#19ffde,#43ffb4,#6dff8a,#94ff63,#b1ff46,#c7ff30,#d1ff26,#d7ff1f,#deff19,#ebff0c,#ffe600,#ffbd00,#ff8d00,#ff5900,#ff2d00,#f60b00,#d60000,#c80000,#c40000,#d10000,#e80000,#ff1e00,#ff4300,#ff6f00,#ff9f00,#ffd000,#eeff09,#c7ff30,#a4ff53,#83ff73,#6dff8a,#56ffa0,#46ffb1,#3cffba,#33ffc4,#30ffc7,#30ffc7,#30ffc7,#33ffc4,#39ffbe,#40ffb7,#46ffb1,#50ffa7,#5aff9d,#5dff9a,#5dff9a,#4dffaa,#33ffc4,#09f1ee,#00b5ff,#0079ff,#0041ff,#0019ff,#0000ff,#0000ed,#0000da,#0000c8,#0000bf,#0000b2,#0000a8,#0000a4,#00009b,#00009b,#00009b,#00009b,#00009f)"></i>
<i style="background:linear-gradient(90deg,#0000ff,#0000fa,#0000ff,#0004ff,#001dff,#0041ff,#0069ff,#0099ff,#00cdff,#16ffe1,#43ffb4,#6dff8a,#94ff63,#b1ff46,#c7ff30,#d1ff26,#d7ff1f,#deff19,#ebff0c,#ffe600,#ffbd00,#ff8d00,#ff5d00,#ff3000,#f60b00,#da0000,#c80000,#c40000,#d10000,#e80000,#ff2200,#ff4700,#ff7300,#ff9f00,#ffd000,#eeff09,#c7ff30,#a4ff53,#83ff73,#6dff8a,#56ffa0,#46ffb1,#3cffba,#36ffc1,#30ffc7,#30ffc7,#30ffc7,#33ffc4,#39ffbe,#40ffb7,#46ffb1,#50ffa7,#5aff9d,#5dff9a,#5aff9d,#4dffaa,#33ffc4,#09f1ee,#00b5ff,#0079ff,#0041ff,#0019ff,#0000ff,#0000ed,#0000da,#0000c8,#0000bf,#0000b2,#0000a8,#0000a4,#00009b,#00009b,#00009b,#00009b,#00009f)"></i>
<i style="background:linear-gradient(90deg,#0000ff,#0000f6,#0000ff,#0001ff,#001dff,#0041ff,#0069ff,#0099ff,#00c8ff,#16ffe1,#40ffb7,#6dff8a,#94ff63,#b1ff46,#c7ff30,#d4ff23,#dbff1c,#e1ff16,#eeff09,#ffe600,#ffbd00,#ff9100,#ff6000,#ff3400,#fa0f00,#da0000,#c80000,#c40000,#d10000,#ed0400,#ff2200,#ff4700,#ff7300,#ffa300,#ffd300,#eeff09,#c7ff30,#a4ff53,#83ff73,#6dff8a,#56ffa0,#46ffb1,#3cffba,#36ffc1,#30ffc7,#30ffc7,#33ffc4,#36ffc1,#39ffbe,#40ffb7,#46ffb1,#50ffa7,#5aff9d,#5dff9a,#5aff9d,#4dffaa,#33ffc4,#09f1ee,#00b5ff,#0079ff,#0041ff,#0019ff,#0000ff,#0000ed,#0000da,#0000c8,#0000bf,#0000b2,#0000a8,#0000a4,#00009b,#00009b,#00009b,#00009b,#00009f)"></i>
<i style="background:linear-gradient(90deg,#0000ff,#0000f6,#0000ff,#0001ff,#001dff,#003dff,#0064ff,#0095ff,#00c8ff,#13fde4,#40ffb7,#6aff8d,#94ff63,#b4ff43,#c7ff30,#d4ff23,#dbff1c,#e1ff16,#eeff09,#ffe600,#ffbd00,#ff9100,#ff6000,#ff3400,#ff1300,#df0000,#cd0000,#c80000,#d10000,#ed0400,#ff2200,#ff4a00,#ff7700,#ffa300,#ffd300,#ebff0c,#c7ff30,#a4ff53,#83ff73,#6dff8a,#56ffa0,#49ffad,#3cffba,#36ffc1,#33ffc4,#30ffc7,#33ffc4,#36ffc1,#39ffbe,#40ffb7,#49ffad,#50ffa7,#5aff9d,#5dff9a,#5aff9d,#4dffaa,#33ffc4,#09f1ee,#00b5ff,#0079ff,#0041ff,#0019ff,#0000ff,#0000ed,#0000da,#0000c8,#0000bf,#0000b2,#0000a8,#0000a4,#00009b,#00009b,#00009b,#00009b,#00009f)"></i>
<i style="background:linear-gradient(90deg,#0000ff,#0000f6,#0000ff,#0001ff,#0019ff,#003dff,#0064ff,#0091ff,#00c5ff,#13fde4,#40ffb7,#6aff8d,#94ff63,#b4ff43,#caff2c,#d4ff23,#dbff1c,#e1ff16,#eeff09,#ffe600,#ffbd00,#ff9100,#ff6400,#ff3800,#ff1300,#df0000,#cd0000,#c80000,#d10000,#ed0400,#ff2500,#ff4a00,#ff7700,#ffa700,#ffd300,#ebff0c,#c4ff33,#a4ff53,#87ff70,#6dff8a,#56ffa0,#49ffad,#3cffba,#36ffc1,#33ffc4,#33ffc4,#33ffc4,#36ffc1,#39ffbe,#40ffb7,#49ffad,#50ffa7,#5aff9d,#5dff9a,#5aff9d,#4dffaa,#30ffc7,#09f1ee,#00b5ff,#0079ff,#0041ff,#0019ff,#0000ff,#0000ed,#0000da,#0000c8,#0000bf,#0000b2,#0000a8,#0000a4,#00009b,#00009b,#00009b,#00009b,#00009f)"></i>
<i style="background:linear-gradient(90deg,#0000fa,#0000f6,#0000ff,#0001ff,#0019ff,#0039ff,#0061ff,#0091ff,#00c5ff,#0ff9e7,#3cffba,#6aff8d,#90ff66,#b4ff43,#caff2c,#d7ff1f,#deff19,#e4ff13,#eeff09,#ffe600,#ffc100,#ff9400,#ff6400,#ff3b00,#ff1600,#e40000,#cd0000,#c80000,#d10000,#ed0400,#ff2500,#ff4e00,#ff7a00,#ffa700,#ffd700,#ebff0c,#c4ff33,#a4ff53,#87ff70,#6dff8a,#5aff9d,#49ffad,#3cffba,#36ffc1,#33ffc4,#33ffc4,#33ffc4,#36ffc1,#3cffba,#40ffb7,#49ffad,#50ffa7,#5aff9d,#5dff9a,#5aff9d,#4dffaa,#30ffc7,#09f1ee,#00b5ff,#0079ff,#0044ff,#0019ff,#0000ff,#0000ed,#0000da,#0000c8,#0000bb,#0000b2,#0000a8,#0000a4,#00009b,#00009b,#00009b,#00009b,#00009f)"></i>
<i style="background:linear-gradient(90deg,#0000fa,#0000f6,#0000fa,#0000ff,#0019ff,#0039ff,#0061ff,#008dff,#00c1ff,#0ff9e7,#3cffba,#6aff8d,#90ff66,#b4ff43,#caff2c,#d7ff1f,#deff19,#e4ff13,#f1fc06,#ffe600,#ffc100,#ff9400,#ff6800,#ff3b00,#ff1a00,#e40000,#d10000,#c80000,#d10000,#ed0400,#ff2500,#ff4e00,#ff7a00,#ffab00,#ffd700,#e7ff0f,#c4ff33,#a4ff53,#83ff73,#6dff8a,#5aff9d,#49ffad,#3cffba,#36ffc1,#33ffc4,#33ffc4,#33ffc4,#36ffc1,#3cffba,#40ffb7,#49ffad,#50ffa7,#56ffa0,#5dff9a,#5aff9d,#4dffaa,#30ffc7,#09f1ee,#00b5ff,#0079ff,#0044ff,#0019ff,#0000ff,#0000ed,#0000da,#0000c8,#0000bb,#0000b2,#0000a8,#0000a4,#00009f,#00009b,#00009b,#00009b,#00009f)"></i>
<i style="background:linear-gradient(90deg,#0000fa,#0000f6,#0000fa,#0000ff,#0014ff,#0034ff,#005dff,#008dff,#00bdff,#0cf5eb,#39ffbe,#66ff90,#90ff66,#b4ff43,#caff2c,#d7ff1f,#deff19,#e4ff13,#f1fc06,#ffe600,#ffc100,#ff9800,#ff6800,#ff3f00,#ff1a00,#e80000,#d10000,#c80000,#d60000,#f10800,#ff2900,#ff5200,#ff7e00,#ffae00,#ffdb00,#e7ff0f,#c4ff33,#a0ff56,#83ff73,#6dff8a,#5aff9d,#49ffad,#3cffba,#36ffc1,#33ffc4,#33ffc4,#33ffc4,#36ffc1,#3cffba,#43ffb4,#49ffad,#50ffa7,#56ffa0,#5dff9a,#5aff9d,#4dffaa,#30ffc7,#09f1ee,#00b5ff,#0079ff,#0044ff,#0019ff,#0000ff,#0000ed,#0000da,#0000c8,#0000bb,#0000b2,#0000a8,#0000a4,#00009f,#00009b,#00009b,#00009b,#00009f)"></i>
<i style="background:linear-gradient(90deg,#0000fa,#0000f6,#0000fa,#0000ff,#0014ff,#0034ff,#005dff,#0088ff,#00bdff,#0cf5eb,#39ffbe,#66ff90,#90ff66,#b4ff43,#caff2c,#d7ff1f,#deff19,#e4ff13,#f1fc06,#ffe600,#ffc100,#ff9800,#ff6c00,#ff4300,#ff1e00,#e80000,#d10000,#c80000,#d60000,#f10800,#ff2900,#ff5200,#ff8200,#ffae00,#ffde00,#e7ff0f,#c1ff36,#a0ff56,#83ff73,#6dff8a,#56ffa0,#49ffad,#3cffba,#36ffc1,#33ffc4,#33ffc4,#36ffc1,#39ffbe,#3cffba,#43ffb4,#49ffad,#50ffa7,#56ffa0,#5dff9a,#5aff9d,#4dffaa,#30ffc7,#09f1ee,#00b5ff,#0079ff,#0044ff,#0019ff,#0000ff,#0000ed,#0000da,#0000c8,#0000bb,#0000b2,#0000a8,#0000a4,#00009f,#00009b,#00009b,#00009b,#00009f)"></i>
<i style="background:linear-gradient(90deg,#0000fa,#0000f1,#0000fa,#0000ff,#0011ff,#0034ff,#0059ff,#0088ff,#00bdff,#09f1ee,#39ffbe,#66ff90,#90ff66,#b4ff43,#caff2c,#d7ff1f,#e1ff16,#e7ff0f,#f1fc06,#ffe600,#ffc100,#ff9800,#ff6f00,#ff4300,#ff1e00,#e80000,#d10000,#cd0000,#d60000,#f10800,#ff2d00,#ff5500,#ff8200,#ffb200,#ffde00,#e4ff13,#c1ff36,#a0ff56,#83ff73,#6dff8a,#56ffa0,#49ffad,#3cffba,#36ffc1,#33ffc4,#33ffc4,#36ffc1,#39ffbe,#3cffba,#43ffb4,#46ffb1,#50ffa7,#56ffa0,#5aff9d,#5aff9d,#4dffaa,#30ffc7,#09f1ee,#00b5ff,#007dff,#0044ff,#0019ff,#0000ff,#0000ed,#0000da,#0000c8,#0000bb,#0000b2,#0000a8,#0000a4,#00009f,#00009b,#00009b,#00009b,#00009f)"></i>
<i style="background:linear-gradient(90deg,#0000fa,#0000f1,#0000f6,#0000ff,#0011ff,#0031ff,#0059ff,#0085ff,#00b9ff,#09f1ee,#36ffc1,#66ff90,#90ff66,#b1ff46,#caff2c,#d7ff1f,#e1ff16,#e7ff0f,#f1fc06,#ffe600,#ffc400,#ff9c00,#ff6f00,#ff4700,#ff2200,#ed0400,#d10000,#cd0000,#d60000,#f10800,#ff2d00,#ff5900,#ff8600,#ffb600,#ffe200,#e4ff13,#c1ff36,#a0ff56,#83ff73,#6dff8a,#56ffa0,#46ffb1,#3cffba,#36ffc1,#33ffc4,#33ffc4,#36ffc1,#39ffbe,#3cffba,#43ffb4,#46ffb1,#50ffa7,#56ffa0,#5aff9d,#5aff9d,#49ffad,#30ffc7,#09f1ee,#00b9ff,#007dff,#0044ff,#001dff,#0000ff,#0000ed,#0000da,#0000c8,#0000bb,#0000b2,#0000a8,#0000a4,#00009f,#00009b,#00009b,#00009b,#00009f)"></i>
<i style="background:linear-gradient(90deg,#0000fa,#0000f1,#0000f6,#0000ff,#0011ff,#0031ff,#0059ff,#0085ff,#00b9ff,#09f1ee,#36ffc1,#63ff94,#8dff6a,#b1ff46,#caff2c,#d7ff1f,#e1ff16,#e7ff0f,#f1fc06,#ffe600,#ffc400,#ff9c00,#ff7300,#ff4700,#ff2200,#ed0400,#d60000,#cd0000,#d60000,#f60b00,#ff2d00,#ff5900,#ff8900,#ffb900,#ffe600,#e1ff16,#beff39,#a0ff56,#83ff73,#6dff8a,#56ffa0,#46ffb1,#3cffba,#36ffc1,#33ffc4,#33ffc4,#36ffc1,#39ffbe,#3cffba,#40ffb7,#46ffb1,#4dffaa,#56ffa0,#5aff9d,#56ffa0,#49ffad,#30ffc7,#09f1ee,#00b9ff,#007dff,#0044ff,#001dff,#0000ff,#0000f1,#0000da,#0000c8,#0000bb,#0000b2,#0000a8,#0000a4,#00009f,#00009b,#00009b,#00009b,#00009f)"></i>
<i style="background:linear-gradient(90deg,#0000fa,#0000f1,#0000f6,#0000ff,#000dff,#002dff,#0054ff,#0085ff,#00b5ff,#06edf1,#36ffc1,#63ff94,#8dff6a,#b1ff46,#caff2c,#d7ff1f,#e1ff16,#e7ff0f,#f1fc06,#ffe600,#ffc400,#ff9c00,#ff7300,#ff4a00,#ff2500,#ed0400,#d60000,#cd0000,#d60000,#f60b00,#ff3000,#ff5d00,#ff8d00,#ffb900,#ffe600,#deff19,#beff39,#a0ff56,#83ff73,#6aff8d,#56ffa0,#46ffb1,#3cffba,#36ffc1,#33ffc4,#33ffc4,#36ffc1,#39ffbe,#3cffba,#40ffb7,#46ffb1,#4dffaa,#56ffa0,#5aff9d,#56ffa0,#49ffad,#30ffc7,#09f1ee,#00b9ff,#007dff,#0049ff,#001dff,#0000ff,#0000f1,#0000da,#0000c8,#0000bb,#0000b2,#0000a8,#0000a4,#00009f,#00009b,#00009b,#00009b,#00009f)"></i>
<i style="background:linear-gradient(90deg,#0000f6,#0000ed,#0000f1,#0000ff,#000dff,#002dff,#0054ff,#0081ff,#00b5ff,#06edf1,#33ffc4,#63ff94,#8dff6a,#b1ff46,#caff2c,#d7ff1f,#e1ff16,#e7ff0f,#f1fc06,#ffe600,#ffc400,#ff9f00,#ff7300,#ff4a00,#ff2500,#f10800,#d60000,#cd0000,#d60000,#f60b00,#ff3400,#ff6000,#ff9100,#ffbd00,#ffea00,#deff19,#beff39,#9dff5a,#83ff73,#6aff8d,#56ffa0,#46ffb1,#3cffba,#36ffc1,#33ffc4,#33ffc4,#36ffc1,#39ffbe,#3cffba,#40ffb7,#46ffb1,#4dffaa,#53ffa4,#5aff9d,#56ffa0,#49ffad,#30ffc7,#09f1ee,#00b9ff,#007dff,#0049ff,#001dff,#0000ff,#0000f1,#0000da,#0000c8,#0000bb,#0000b2,#0000a8,#0000a4,#00009f,#00009b,#00009b,#00009f,#00009f)"></i>
<i style="background:linear-gradient(90deg,#0000f6,#0000ed,#0000f1,#0000ff,#000dff,#002dff,#0054ff,#0081ff,#00b5ff,#06edf1,#33ffc4,#63ff94,#8dff6a,#b1ff46,#c7ff30,#d7ff1f,#deff19,#e7ff0f,#f1fc06,#ffe600,#ffc800,#ff9f00,#ff7700,#ff4e00,#ff2500,#f10800,#d60000,#cd0000,#da0000,#fa0f00,#ff3400,#ff6400,#ff9400,#ffc100,#feed00,#dbff1c,#baff3c,#9dff5a,#83ff73,#6aff8d,#56ffa0,#46ffb1,#39ffbe,#36ffc1,#33ffc4,#33ffc4,#36ffc1,#39ffbe,#3cffba,#40ffb7,#46ffb1,#4dffaa,#53ffa4,#56ffa0,#56ffa0,#49ffad,#30ffc7,#09f1ee,#00b9ff,#0081ff,#0049ff,#001dff,#0000ff,#0000f1,#0000da,#0000c8,#0000bb,#0000b2,#0000a8,#0000a4,#00009f,#00009b,#00009b,#00009f,#00009f)"></i>
<i style="background:linear-gradient(90deg,#0000f6,#0000ed,#0000f1,#0000ff,#0009ff,#0029ff,#0051ff,#0081ff,#00b5ff,#06edf1,#33ffc4,#60ff97,#8aff6d,#adff49,#c7ff30,#d7ff1f,#deff19,#e4ff13,#f1fc06,#ffe600,#ffc800,#ffa300,#ff7700,#ff4e00,#ff2900,#f10800,#d60000,#cd0000,#da0000,#fa0f00,#ff3800,#ff6400,#ff9800,#ffc400,#fbf100,#dbff1c,#baff3c,#9dff5a,#80ff77,#6aff8d,#53ffa4,#46ffb1,#39ffbe,#33ffc4,#33ffc4,#33ffc4,#36ffc1,#39ffbe,#3cffba,#40ffb7,#46ffb1,#4dffaa,#53ffa4,#56ffa0,#56ffa0,#49ffad,#30ffc7,#09f1ee,#00b9ff,#0081ff,#0049ff,#0021ff,#0000ff,#0000f1,#0000da,#0000c8,#0000bb,#0000b2,#0000a8,#0000a4,#00009f,#00009b,#00009b,#00009f,#00009f)"></i>
<i style="background:linear-gradient(90deg,#0000f6,#0000e8,#0000ed,#0000ff,#0009ff,#0029ff,#0051ff,#0081ff,#00b1ff,#02e8f4,#33ffc4,#60ff97,#8aff6d,#adff49,#c7ff30,#d4ff23,#deff19,#e4ff13,#f1fc06,#ffea00,#ffc800,#ffa300,#ff7a00,#ff5200,#ff2900,#f10800,#d60000,#cd0000,#da0000,#fa0f00,#ff3800,#ff6800,#ff9c00,#ffc800,#f8f500,#d7ff1f,#b7ff40,#9aff5d,#80ff77,#6aff8d,#53ffa4,#43ffb4,#39ffbe,#33ffc4,#33ffc4,#33ffc4,#36ffc1,#39ffbe,#3cffba,#40ffb7,#43ffb4,#49ffad,#50ffa7,#56ffa0,#53ffa4,#49ffad,#30ffc7,#09f1ee,#00b9ff,#0081ff,#004dff,#0021ff,#0000ff,#0000f1,#0000da,#0000c8,#0000bb,#0000b2,#0000a8,#0000a4,#00009f,#00009b,#00009b,#00009f,#00009f)"></i>
<i style="background:linear-gradient(90deg,#0000f6,#0000e8,#0000ed,#0000fa,#0004ff,#0029ff,#0051ff,#007dff,#00b1ff,#02e8f4,#33ffc4,#60ff97,#8aff6d,#adff49,#c7ff30,#d4ff23,#deff19,#e4ff13,#eeff09,#ffea00,#ffc800,#ffa300,#ff7a00,#ff5200,#ff2900,#f10800,#d60000,#cd0000,#da0000,#ff1300,#ff3b00,#ff6c00,#ff9f00,#ffcc00,#f4f802,#d4ff23,#b7ff40,#9aff5d,#80ff77,#66ff90,#53ffa4,#43ffb4,#39ffbe,#33ffc4,#33ffc4,#33ffc4,#36ffc1,#39ffbe,#3cffba,#40ffb7,#43ffb4,#49ffad,#50ffa7,#56ffa0,#53ffa4,#49ffad,#30ffc7,#09f1ee,#00b9ff,#0081ff,#004dff,#0021ff,#0001ff,#0000f1,#0000da,#0000c8,#0000bb,#0000b2,#0000a8,#0000a4,#00009f,#00009b,#00009b,#00009f,#00009f)"></i>
<i style="background:linear-gradient(90deg,#0000f1,#0000e8,#0000e8,#0000fa,#0004ff,#0024ff,#004dff,#007dff,#00b1ff,#02e8f4,#30ffc7,#60ff97,#8aff6d,#aaff4d,#c4ff33,#d4ff23,#deff19,#e4ff13,#eeff09,#ffea00,#ffcc00,#ffa700,#ff7e00,#ff5200,#ff2d00,#f60b00,#da0000,#cd0000,#da0000,#ff1300,#ff3f00,#ff6f00,#ffa300,#ffd300,#f1fc06,#d1ff26,#b4ff43,#9aff5d,#80ff77,#66ff90,#53ffa4,#43ffb4,#39ffbe,#33ffc4,#33ffc4,#33ffc4,#36ffc1,#39ffbe,#3cffba,#40ffb7,#43ffb4,#49ffad,#50ffa7,#53ffa4,#53ffa4,#46ffb1,#30ffc7,#09f1ee,#00bdff,#0081ff,#004dff,#0021ff,#0001ff,#0000f1,#0000da,#0000c8,#0000bb,#0000b2,#0000a8,#0000a4,#00009f,#00009f,#00009b,#00009f,#00009f)"></i>
<i style="background:linear-gradient(90deg,#0000f1,#0000e8,#0000e8,#0000fa,#0004ff,#0024ff,#004dff,#007dff,#00b1ff,#02e8f4,#30ffc7,#5dff9a,#87ff70,#aaff4d,#c4ff33,#d4ff23,#dbff1c,#e4ff13,#eeff09,#ffea00,#ffcc00,#ffa700,#ff7e00,#ff5500,#ff2d00,#f60b00,#da0000,#cd0000,#da0000,#ff1600,#ff3f00,#ff7300,#ffa700,#ffd700,#eeff09,#d1ff26,#b4ff43,#9aff5d,#7dff7a,#66ff90,#53ffa4,#43ffb4,#36ffc1,#33ffc4,#33ffc4,#33ffc4,#36ffc1,#39ffbe,#3cffba,#3cffba,#43ffb4,#46ffb1,#4dffaa,#53ffa4,#53ffa4,#46ffb1,#30ffc7,#09f1ee,#00bdff,#0081ff,#004dff,#0021ff,#0001ff,#0000f1,#0000da,#0000c8,#0000bb,#0000b2,#0000a8,#0000a4,#00009f,#00009f,#00009f,#00009f,#00009f)"></i>
<i style="background:linear-gradient(90deg,#0000f1,#0000e3,#0000e8,#0000f6,#0001ff,#0024ff,#004dff,#007dff,#00b1ff,#02e8f4,#30ffc7,#5dff9a,#87ff70,#aaff4d,#c1ff36,#d1ff26,#dbff1c,#e4ff13,#eeff09,#ffea00,#ffcc00,#ffa700,#ff7e00,#ff5500,#ff2d00,#f60b00,#da0000,#d10000,#df0000,#ff1600,#ff4300,#ff7700,#ffab00,#ffdb00,#ebff0c,#ceff29,#b1ff46,#97ff60,#7dff7a,#66ff90,#50ffa7,#40ffb7,#36ffc1,#33ffc4,#30ffc7,#33ffc4,#36ffc1,#39ffbe,#39ffbe,#3cffba,#40ffb7,#46ffb1,#4dffaa,#53ffa4,#50ffa7,#46ffb1,#2cffca,#09f1ee,#00bdff,#0085ff,#004dff,#0024ff,#0001ff,#0000f6,#0000da,#0000c8,#0000bb,#0000b2,#0000a8,#0000a4,#00009f,#00009f,#00009f,#00009f,#00009f)"></i>
<i style="background:linear-gradient(90deg,#0000f1,#0000e3,#0000e3,#0000f6,#0001ff,#0021ff,#004dff,#0079ff,#00adff,#00e5f8,#30ffc7,#5dff9a,#87ff70,#a7ff50,#c1ff36,#d1ff26,#dbff1c,#e1ff16,#eeff09,#feed00,#ffcc00,#ffab00,#ff8200,#ff5500,#ff2d00,#f60b00,#da0000,#d10000,#df0000,#ff1600,#ff4700,#ff7a00,#ffae00,#ffde00,#e7ff0f,#caff2c,#b1ff46,#97ff60,#7dff7a,#66ff90,#50ffa7,#40ffb7,#36ffc1,#30ffc7,#30ffc7,#33ffc4,#36ffc1,#39ffbe,#39ffbe,#3cffba,#40ffb7,#46ffb1,#4dffaa,#50ffa7,#50ffa7,#46ffb1,#2cffca,#09f1ee,#00bdff,#0085ff,#0051ff,#0024ff,#0001ff,#0000f6,#0000da,#0000c8,#0000bb,#0000b2,#0000a8,#0000a4,#00009f,#00009f,#00009f,#00009f,#00009f)"></i>
<i style="background:linear-gradient(90deg,#0000f1,#0000e3,#0000e3,#0000f1,#0001ff,#0021ff,#0049ff,#0079ff,#00adff,#00e5f8,#2cffca,#5aff9d,#83ff73,#a7ff50,#c1ff36,#ceff29,#d7ff1f,#e1ff16,#eeff09,#feed00,#ffd000,#ffab00,#ff8200,#ff5900,#ff3000,#f60b00,#da0000,#d10000,#df0000,#ff1a00,#ff4a00,#ff7e00,#ffb600,#ffe200,#e4ff13,#c7ff30,#adff49,#94ff63,#7dff7a,#63ff94,#50ffa7,#40ffb7,#33ffc4,#30ffc7,#30ffc7,#33ffc4,#36ffc1,#39ffbe,#39ffbe,#3cffba,#40ffb7,#43ffb4,#49ffad,#50ffa7,#50ffa7,#43ffb4,#2cffca,#09f1ee,#00bdff,#0085ff,#0051ff,#0024ff,#0001ff,#0000f6,#0000da,#0000c8,#0000bb,#0000b2,#0000a8,#0000a4,#00009f,#00009f,#00009f,#00009f,#00009f)"></i>
<i style="background:linear-gradient(90deg,#0000ed,#0000df,#0000e3,#0000f1,#0000ff,#0021ff,#0049ff,#0079ff,#00adff,#00e5f8,#2cffca,#5aff9d,#83ff73,#a4ff53,#beff39,#ceff29,#d7ff1f,#e1ff16,#ebff0c,#feed00,#ffd000,#ffab00,#ff8200,#ff5900,#ff3000,#fa0f00,#da0000,#d10000,#df0000,#ff1e00,#ff4a00,#ff8200,#ffb900,#ffe600,#e1ff16,#c7ff30,#adff49,#94ff63,#7aff7d,#63ff94,#50ffa7,#3cffba,#33ffc4,#30ffc7,#30ffc7,#33ffc4,#36ffc1,#36ffc1,#39ffbe,#3cffba,#3cffba,#43ffb4,#49ffad,#4dffaa,#4dffaa,#43ffb4,#2cffca,#09f1ee,#00bdff,#0085ff,#0051ff,#0024ff,#0004ff,#0000f6,#0000df,#0000c8,#0000bb,#0000b2,#0000a8,#0000a4,#00009f,#00009f,#00009f,#00009f,#00009f)"></i>
<i style="background:linear-gradient(90deg,#0000ed,#0000df,#0000df,#0000f1,#0000ff,#001dff,#0049ff,#0079ff,#00adff,#00e5f8,#2cffca,#5aff9d,#80ff77,#a4ff53,#beff39,#ceff29,#d7ff1f,#e1ff16,#ebff0c,#feed00,#ffd000,#ffab00,#ff8200,#ff5900,#ff3000,#fa0f00,#da0000,#d10000,#e40000,#ff1e00,#ff4e00,#ff8600,#ffbd00,#feed00,#deff19,#c4ff33,#aaff4d,#94ff63,#7aff7d,#63ff94,#4dffaa,#3cffba,#33ffc4,#30ffc7,#30ffc7,#33ffc4,#36ffc1,#36ffc1,#39ffbe,#39ffbe,#3cffba,#43ffb4,#49ffad,#4dffaa,#4dffaa,#40ffb7,#29ffce,#06edf1,#00b9ff,#0085ff,#0051ff,#0024ff,#0004ff,#0000f6,#0000df,#0000c8,#0000bb,#0000b2,#0000a8,#0000a4,#00009f,#00009f,#00009f,#00009f,#00009f)"></i>
<i style="background:linear-gradient(90deg,#0000ed,#0000df,#0000df,#0000ed,#0000ff,#001dff,#0049ff,#0079ff,#00adff,#00e5f8,#2cffca,#5aff9d,#80ff77,#a4ff53,#baff3c,#caff2c,#d4ff23,#deff19,#ebff0c,#feed00,#ffd000,#ffab00,#ff8600,#ff5900,#ff3000,#fa0f00,#da0000,#d10000,#e40000,#ff2200,#ff5200,#ff8900,#ffc100,#fbf100,#dbff1c,#c1ff36,#a7ff50,#90ff66,#7aff7d,#63ff94,#4dffaa,#3cffba,#33ffc4,#2cffca,#30ffc7,#30ffc7,#33ffc4,#36ffc1,#39ffbe,#39ffbe,#3cffba,#40ffb7,#46ffb1,#49ffad,#49ffad,#40ffb7,#29ffce,#06edf1,#00b9ff,#0085ff,#0051ff,#0024ff,#0004ff,#0000f6,#0000df,#0000c8,#0000bb,#0000b2,#0000a8,#0000a4,#00009f,#00009f,#00009f,#00009f,#00009f)"></i>
<i style="background:linear-gradient(90deg,#0000ed,#0000da,#0000df,#0000ed,#0000ff,#001dff,#0044ff,#0079ff,#00adff,#00e5f8,#2cffca,#56ffa0,#80ff77,#a0ff56,#baff3c,#caff2c,#d4ff23,#deff19,#ebff0c,#feed00,#ffd000,#ffae00,#ff8600,#ff5d00,#ff3000,#fa0f00,#df0000,#d60000,#e40000,#ff2200,#ff5500,#ff8d00,#ffc400,#f8f500,#d7ff1f,#beff39,#a7ff50,#90ff66,#7aff7d,#60ff97,#4dffaa,#3cffba,#30ffc7,#2cffca,#2cffca,#30ffc7,#33ffc4,#36ffc1,#36ffc1,#39ffbe,#3cffba,#40ffb7,#46ffb1,#49ffad,#46ffb1,#3cffba,#26ffd1,#06edf1,#00b9ff,#0085ff,#0051ff,#0024ff,#0004ff,#0000f6,#0000df,#0000c8,#0000bb,#0000b2,#0000a8,#0000a4,#00009f,#00009f,#00009f,#00009f,#00009f)"></i>
<i style="background:linear-gradient(90deg,#0000ed,#0000da,#0000da,#0000ed,#0000ff,#001dff,#0044ff,#0074ff,#00adff,#00e1fb,#29ffce,#56ffa0,#7dff7a,#a0ff56,#b7ff40,#c7ff30,#d4ff23,#deff19,#ebff0c,#feed00,#ffd000,#ffae00,#ff8600,#ff5d00,#ff3400,#fa0f00,#df0000,#d60000,#e80000,#ff2500,#ff5900,#ff9400,#ffcc00,#f4f802,#d4ff23,#baff3c,#a4ff53,#90ff66,#77ff80,#60ff97,#4dffaa,#39ffbe,#30ffc7,#2cffca,#2cffca,#30ffc7,#33ffc4,#36ffc1,#36ffc1,#39ffbe,#39ffbe,#40ffb7,#43ffb4,#46ffb1,#46ffb1,#3cffba,#26ffd1,#02e8f4,#00b9ff,#0081ff,#0051ff,#0024ff,#0004ff,#0000f6,#0000df,#0000c8,#0000bb,#0000b2,#0000a8,#0000a4,#00009f,#00009f,#00009f,#00009f,#00009f)"></i>
<i style="background:linear-gradient(90deg,#0000e8,#0000da,#0000da,#0000e8,#0000ff,#0019ff,#0044ff,#0074ff,#00a8ff,#00e1fb,#29ffce,#56ffa0,#7dff7a,#9dff5a,#b7ff40,#c7ff30,#d4ff23,#deff19,#ebff0c,#fbf100,#ffd000,#ffae00,#ff8600,#ff5d00,#ff3400,#fa0f00,#df0000,#d60000,#e80000,#ff2900,#ff5d00,#ff9800,#ffd000,#f1fc06,#d1ff26,#b7ff40,#a4ff53,#8dff6a,#77ff80,#60ff97,#49ffad,#39ffbe,#30ffc7,#2cffca,#2cffca,#30ffc7,#33ffc4,#36ffc1,#36ffc1,#36ffc1,#39ffbe,#3cffba,#43ffb4,#46ffb1,#43ffb4,#39ffbe,#23ffd4,#02e8f4,#00b5ff,#0081ff,#0051ff,#0024ff,#0004ff,#0000f6,#0000df,#0000c8,#0000bb,#0000b2,#0000a8,#0000a4,#00009f,#00009f,#00009f,#00009f,#00009f)"></i>
<i style="background:linear-gradient(90deg,#0000e8,#0000da,#0000da,#0000e8,#0000ff,#0019ff,#0044ff,#0074ff,#00a8ff,#00e1fb,#29ffce,#53ffa4,#7aff7d,#9dff5a,#b4ff43,#c7ff30,#d1ff26,#dbff1c,#e7ff0f,#fbf100,#ffd000,#ffae00,#ff8600,#ff5d00,#ff3400,#ff1300,#df0000,#d60000,#ed0400,#ff2900,#ff6000,#ff9c00,#ffd300,#ebff0c,#ceff29,#b7ff40,#a0ff56,#8dff6a,#77ff80,#60ff97,#49ffad,#39ffbe,#30ffc7,#29ffce,#2cffca,#30ffc7,#33ffc4,#36ffc1,#36ffc1,#36ffc1,#39ffbe,#3cffba,#40ffb7,#43ffb4,#40ffb7,#36ffc1,#1fffd7,#00e5f8,#00b5ff,#0081ff,#0051ff,#0024ff,#0004ff,#0000f6,#0000df,#0000c8,#0000bb,#0000ad,#0000a8,#0000a4,#00009f,#00009f,#00009f,#00009f,#00009f)"></i>
<i style="background:linear-gradient(90deg,#0000e8,#0000d6,#0000d6,#0000e8,#0000ff,#0019ff,#0044ff,#0074ff,#00a8ff,#00e1fb,#29ffce,#53ffa4,#7aff7d,#9aff5d,#b4ff43,#c4ff33,#d1ff26,#dbff1c,#e7ff0f,#fbf100,#ffd000,#ffae00,#ff8600,#ff5d00,#ff3400,#ff1300,#df0000,#da0000,#ed0400,#ff2d00,#ff6400,#ff9f00,#ffdb00,#e7ff0f,#caff2c,#b4ff43,#a0ff56,#8aff6d,#77ff80,#5dff9a,#49ffad,#39ffbe,#2cffca,#29ffce,#29ffce,#2cffca,#33ffc4,#33ffc4,#36ffc1,#36ffc1,#39ffbe,#3cffba,#40ffb7,#43ffb4,#40ffb7,#33ffc4,#1cffdb,#00e1fb,#00b1ff,#0081ff,#0051ff,#0024ff,#0004ff,#0000f6,#0000df,#0000c8,#0000bb,#0000ad,#0000a8,#0000a4,#00009f,#00009f,#00009f,#00009f,#00009f)"></i>
<i style="background:linear-gradient(90deg,#0000e8,#0000d6,#0000d6,#0000e8,#0000ff,#0019ff,#0041ff,#0074ff,#00a8ff,#00e1fb,#26ffd1,#53ffa4,#7aff7d,#9aff5d,#b4ff43,#c4ff33,#d1ff26,#dbff1c,#e7ff0f,#fbf100,#ffd000,#ffae00,#ff8600,#ff5d00,#ff3400,#ff1300,#e40000,#da0000,#f10800,#ff3000,#ff6800,#ffa300,#ffde00,#e4ff13,#c7ff30,#b1ff46,#9dff5a,#8aff6d,#73ff83,#5dff9a,#49ffad,#39ffbe,#2cffca,#29ffce,#29ffce,#2cffca,#30ffc7,#33ffc4,#36ffc1,#36ffc1,#36ffc1,#39ffbe,#3cffba,#40ffb7,#3cffba,#30ffc7,#1cffdb,#00e1fb,#00b1ff,#007dff,#004dff,#0024ff,#0004ff,#0000f6,#0000df,#0000c8,#0000bb,#0000ad,#0000a8,#00009f,#00009f,#00009f,#00009f,#00009f,#00009f)"></i>
<i style="background:linear-gradient(90deg,#0000e8,#0000d6,#0000d6,#0000e3,#0000ff,#0014ff,#0041ff,#0071ff,#00a8ff,#00ddfe,#26ffd1,#50ffa7,#77ff80,#97ff60,#b1ff46,#c4ff33,#ceff29,#dbff1c,#e7ff0f,#fbf100,#ffd000,#ffae00,#ff8600,#ff5d00,#ff3400,#ff1300,#e40000,#df0000,#f60b00,#ff3400,#ff6c00,#ffab00,#ffe200,#e1ff16,#c4ff33,#adff49,#9aff5d,#8aff6d,#73ff83,#5dff9a,#49ffad,#36ffc1,#2cffca,#29ffce,#29ffce,#2cffca,#30ffc7,#33ffc4,#33ffc4,#36ffc1,#36ffc1,#39ffbe,#3cffba,#3cffba,#39ffbe,#2cffca,#19ffde,#00ddfe,#00adff,#007dff,#004dff,#0024ff,#0004ff,#0000f6,#0000df,#0000c8,#0000bb,#0000ad,#0000a8,#00009f,#00009f,#00009f,#00009f,#00009f,#00009f)"></i>
<i style="background:linear-gradient(90deg,#0000e3,#0000d6,#0000d6,#0000e3,#0000ff,#0014ff,#0041ff,#0071ff,#00a5ff,#00ddfe,#26ffd1,#50ffa7,#77ff80,#97ff60,#b1ff46,#c1ff36,#ceff29,#dbff1c,#e7ff0f,#feed00,#ffd000,#ffae00,#ff8600,#ff5d00,#ff3800,#ff1300,#e40000,#df0000,#f60b00,#ff3800,#ff6f00,#ffae00,#ffe600,#dbff1c,#c1ff36,#aaff4d,#9aff5d,#87ff70,#73ff83,#5dff9a,#46ffb1,#36ffc1,#2cffca,#26ffd1,#29ffce,#2cffca,#30ffc7,#33ffc4,#33ffc4,#36ffc1,#36ffc1,#39ffbe,#39ffbe,#39ffbe,#36ffc1,#29ffce,#13fde4,#00d9ff,#00a8ff,#0079ff,#004dff,#0024ff,#0004ff,#0000f6,#0000da,#0000c8,#0000bb,#0000ad,#0000a4,#00009f,#00009f,#00009b,#00009f,#00009f,#00009f)"></i>
<i style="background:linear-gradient(90deg,#0000e3,#0000d1,#0000d1,#0000e3,#0000ff,#0014ff,#0041ff,#0071ff,#00a5ff,#00ddfe,#26ffd1,#50ffa7,#73ff83,#97ff60,#adff49,#c1ff36,#ceff29,#dbff1c,#e7ff0f,#feed00,#ffd000,#ffae00,#ff8600,#ff5d00,#ff3800,#ff1600,#e80000,#e40000,#fa0f00,#ff3b00,#ff7300,#ffb200,#feed00,#d7ff1f,#beff39,#a7ff50,#97ff60,#87ff70,#73ff83,#5dff9a,#46ffb1,#36ffc1,#2cffca,#26ffd1,#26ffd1,#29ffce,#2cffca,#30ffc7,#33ffc4,#33ffc4,#36ffc1,#36ffc1,#39ffbe,#39ffbe,#33ffc4,#26ffd1,#0ff9e7,#00d5ff,#00a5ff,#0079ff,#0049ff,#0024ff,#0004ff,#0000f6,#0000da,#0000c8,#0000bb,#0000ad,#0000a4,#00009f,#00009f,#00009b,#00009b,#00009f,#00009f)"></i>
<i style="background:linear-gradient(90deg,#0000e3,#0000d1,#0000d1,#0000e3,#0000ff,#0014ff,#0041ff,#0071ff,#00a5ff,#00ddfe,#23ffd4,#4dffaa,#73ff83,#94ff63,#adff49,#c1ff36,#ceff29,#dbff1c,#e7ff0f,#feed00,#ffd000,#ffae00,#ff8600,#ff5d00,#ff3800,#ff1600,#e80000,#e80000,#ff1300,#ff3f00,#ff7a00,#ffb600,#fbf100,#d4ff23,#baff3c,#a7ff50,#97ff60,#87ff70,#70ff87,#5dff9a,#46ffb1,#36ffc1,#2cffca,#26ffd1,#26ffd1,#29ffce,#2cffca,#30ffc7,#33ffc4,#33ffc4,#36ffc1,#36ffc1,#36ffc1,#36ffc1,#30ffc7,#23ffd4,#0cf5eb,#00d1ff,#00a1ff,#0074ff,#0049ff,#0021ff,#0001ff,#0000f6,#0000da,#0000c8,#0000bb,#0000ad,#0000a4,#00009f,#00009b,#00009b,#00009b,#00009f,#00009f)"></i>
<i style="background:linear-gradient(90deg,#0000e3,#0000d1,#0000d1,#0000e3,#0000ff,#0014ff,#003dff,#0071ff,#00a5ff,#00d9ff,#23ffd4,#4dffaa,#73ff83,#94ff63,#adff49,#beff39,#ceff29,#dbff1c,#ebff0c,#feed00,#ffd000,#ffab00,#ff8600,#ff5d00,#ff3800,#ff1600,#ed0400,#e80000,#ff1600,#ff4300,#ff7e00,#ffbd00,#f8f500,#d1ff26,#b7ff40,#a4ff53,#94ff63,#83ff73,#70ff87,#5dff9a,#46ffb1,#36ffc1,#29ffce,#26ffd1,#26ffd1,#29ffce,#2cffca,#30ffc7,#33ffc4,#33ffc4,#33ffc4,#36ffc1,#36ffc1,#33ffc4,#2cffca,#1fffd7,#09f1ee,#00c8ff,#009dff,#0071ff,#0044ff,#0021ff,#0001ff,#0000f6,#0000da,#0000c8,#0000bb,#0000ad,#0000a4,#00009f,#00009b,#00009b,#00009b,#00009f,#00009f)"></i>
<i style="background:linear-gradient(90deg,#0000e3,#0000d1,#0000d1,#0000df,#0000ff,#0014ff,#003dff,#006dff,#00a5ff,#00d9ff,#23ffd4,#49ffad,#70ff87,#90ff66,#aaff4d,#beff39,#ceff29,#dbff1c,#ebff0c,#feed00,#ffd000,#ffab00,#ff8600,#ff5d00,#ff3800,#ff1a00,#ed0400,#ed0400,#ff1a00,#ff4700,#ff8200,#ffc100,#f1fc06,#ceff29,#b4ff43,#a0ff56,#94ff63,#83ff73,#70ff87,#5aff9d,#46ffb1,#36ffc1,#29ffce,#26ffd1,#26ffd1,#26ffd1,#2cffca,#30ffc7,#30ffc7,#33ffc4,#33ffc4,#33ffc4,#33ffc4,#30ffc7,#29ffce,#19ffde,#02e8f4,#00c5ff,#0099ff,#006dff,#0044ff,#0021ff,#0001ff,#0000f6,#0000da,#0000c8,#0000bb,#0000ad,#0000a4,#00009f,#00009b,#00009b,#00009b,#00009f,#00009f)"></i>
<i style="background:linear-gradient(90deg,#0000e3,#0000d1,#0000d1,#0000df,#0000ff,#0011ff,#003dff,#006dff,#00a1ff,#00d9ff,#1fffd7,#49ffad,#70ff87,#90ff66,#aaff4d,#beff39,#caff2c,#dbff1c,#ebff0c,#feed00,#ffcc00,#ffab00,#ff8600,#ff5d00,#ff3800,#ff1a00,#f10800,#f10800,#ff1e00,#ff4a00,#ff8600,#ffc400,#eeff09,#c7ff30,#b1ff46,#9dff5a,#90ff66,#80ff77,#70ff87,#5aff9d,#46ffb1,#36ffc1,#29ffce,#26ffd1,#23ffd4,#26ffd1,#29ffce,#2cffca,#30ffc7,#33ffc4,#33ffc4,#33ffc4,#33ffc4,#2cffca,#26ffd1,#16ffe1,#00e5f8,#00c1ff,#0095ff,#006dff,#0041ff,#001dff,#0001ff,#0000f1,#0000da,#0000c8,#0000b6,#0000ad,#0000a4,#00009f,#00009b,#00009b,#00009b,#00009f,#00009f)"></i>
<i style="background:linear-gradient(90deg,#0000e3,#0000d1,#0000d1,#0000df,#0000fa,#0011ff,#003dff,#006dff,#00a1ff,#00d5ff,#1fffd7,#49ffad,#6dff8a,#8dff6a,#aaff4d,#beff39,#caff2c,#dbff1c,#ebff0c,#ffea00,#ffcc00,#ffab00,#ff8600,#ff5d00,#ff3b00,#ff1a00,#f60b00,#f10800,#ff2200,#ff4e00,#ff8900,#ffcc00,#ebff0c,#c4ff33,#adff49,#9dff5a,#8dff6a,#80ff77,#70ff87,#5aff9d,#46ffb1,#36ffc1,#29ffce,#23ffd4,#23ffd4,#26ffd1,#29ffce,#2cffca,#30ffc7,#33ffc4,#33ffc4,#33ffc4,#30ffc7,#29ffce,#1fffd7,#0ff9e7,#00ddfe,#00b9ff,#0091ff,#0069ff,#0041ff,#001dff,#0000ff,#0000f1,#0000da,#0000c8,#0000b6,#0000ad,#0000a4,#00009f,#00009b,#00009b,#00009b,#00009f,#00009f)"></i>
<i style="background:linear-gradient(90deg,#0000e3,#0000d1,#0000d1,#0000df,#0000fa,#0011ff,#003dff,#006dff,#00a1ff,#00d5ff,#1cffdb,#46ffb1,#6dff8a,#8dff6a,#a7ff50,#baff3c,#caff2c,#dbff1c,#ebff0c,#ffea00,#ffcc00,#ffab00,#ff8600,#ff6000,#ff3b00,#ff1e00,#f60b00,#f60b00,#ff2500,#ff5200,#ff9100,#ffd000,#e7ff0f,#c1ff36,#aaff4d,#9aff5d,#8dff6a,#80ff77,#6dff8a,#5aff9d,#46ffb1,#36ffc1,#29ffce,#23ffd4,#23ffd4,#26ffd1,#29ffce,#2cffca,#30ffc7,#30ffc7,#33ffc4,#30ffc7,#2cffca,#26ffd1,#1cffdb,#0cf5eb,#00d9ff,#00b5ff,#008dff,#0064ff,#003dff,#0019ff,#0000ff,#0000f1,#0000da,#0000c8,#0000b6,#0000ad,#0000a4,#00009f,#00009b,#00009b,#00009b,#00009b,#00009f)"></i>
<i style="background:linear-gradient(90deg,#0000df,#0000d1,#0000d1,#0000df,#0000fa,#0011ff,#0039ff,#006dff,#009dff,#00d5ff,#1cffdb,#46ffb1,#6aff8d,#8dff6a,#a7ff50,#baff3c,#caff2c,#dbff1c,#ebff0c,#ffea00,#ffcc00,#ffab00,#ff8600,#ff6000,#ff3b00,#ff1e00,#fa0f00,#fa0f00,#ff2900,#ff5900,#ff9400,#ffd300,#e1ff16,#beff39,#a7ff50,#97ff60,#8aff6d,#7dff7a,#6dff8a,#5aff9d,#46ffb1,#33ffc4,#29ffce,#23ffd4,#23ffd4,#23ffd4,#26ffd1,#2cffca,#30ffc7,#30ffc7,#30ffc7,#30ffc7,#2cffca,#23ffd4,#19ffde,#06edf1,#00d1ff,#00adff,#0088ff,#0061ff,#0039ff,#0019ff,#0000ff,#0000f1,#0000da,#0000c8,#0000b6,#0000ad,#0000a4,#00009b,#00009b,#000096,#00009b,#00009b,#00009f)"></i>
<i style="background:linear-gradient(90deg,#0000df,#0000cd,#0000cd,#0000df,#0000fa,#0011ff,#0039ff,#0069ff,#009dff,#00d1ff,#1cffdb,#43ffb4,#6aff8d,#8aff6d,#a4ff53,#baff3c,#caff2c,#dbff1c,#ebff0c,#ffea00,#ffcc00,#ffa700,#ff8600,#ff6000,#ff3b00,#ff2200,#ff1300,#ff1300,#ff2d00,#ff5d00,#ff9800,#ffd700,#deff19,#baff3c,#a4ff53,#94ff63,#8aff6d,#7dff7a,#6dff8a,#5aff9d,#46ffb1,#33ffc4,#29ffce,#23ffd4,#1fffd7,#23ffd4,#26ffd1,#29ffce,#2cffca,#30ffc7,#30ffc7,#30ffc7,#29ffce,#1fffd7,#13fde4,#02e8f4,#00cdff,#00a8ff,#0081ff,#005dff,#0039ff,#0019ff,#0000ff,#0000f1,#0000da,#0000c8,#0000b6,#0000ad,#0000a4,#00009b,#00009b,#000096,#00009b,#00009b,#00009f)"></i>
<i style="background:linear-gradient(90deg,#0000df,#0000cd,#0000cd,#0000df,#0000fa,#0011ff,#0039ff,#0069ff,#009dff,#00d1ff,#19ffde,#43ffb4,#66ff90,#8aff6d,#a4ff53,#baff3c,#caff2c,#dbff1c,#eeff09,#ffea00,#ffc800,#ffa700,#ff8600,#ff6000,#ff3f00,#ff2500,#ff1600,#ff1600,#ff3000,#ff6000,#ff9c00,#ffde00,#dbff1c,#b7ff40,#a0ff56,#94ff63,#87ff70,#7dff7a,#6dff8a,#5aff9d,#46ffb1,#33ffc4,#29ffce,#23ffd4,#1fffd7,#23ffd4,#26ffd1,#29ffce,#2cffca,#30ffc7,#30ffc7,#2cffca,#26ffd1,#1cffdb,#0ff9e7,#00e1fb,#00c5ff,#00a1ff,#007dff,#0059ff,#0034ff,#0014ff,#0000ff,#0000ed,#0000d6,#0000c4,#0000b6,#0000a8,#00009f,#00009b,#000096,#000096,#000096,#00009b,#00009f)"></i>
<i style="background:linear-gradient(90deg,#0000df,#0000cd,#0000cd,#0000df,#0000fa,#000dff,#0039ff,#0069ff,#009dff,#00d1ff,#19ffde,#40ffb7,#66ff90,#87ff70,#a4ff53,#b7ff40,#caff2c,#dbff1c,#eeff09,#ffe600,#ffc800,#ffa700,#ff8600,#ff6000,#ff3f00,#ff2500,#ff1600,#ff1a00,#ff3400,#ff6400,#ffa300,#ffe200,#d7ff1f,#b4ff43,#9dff5a,#90ff66,#87ff70,#7dff7a,#6dff8a,#5aff9d,#46ffb1,#33ffc4,#29ffce,#23ffd4,#1fffd7,#23ffd4,#26ffd1,#29ffce,#2cffca,#2cffca,#2cffca,#2cffca,#23ffd4,#19ffde,#09f1ee,#00ddfe,#00bdff,#009dff,#0079ff,#0054ff,#0031ff,#0011ff,#0000ff,#0000ed,#0000d6,#0000c4,#0000b6,#0000a8,#00009f,#00009b,#000096,#000096,#000096,#00009b,#00009f)"></i>
<i style="background:linear-gradient(90deg,#0000df,#0000cd,#0000cd,#0000df,#0000fa,#000dff,#0039ff,#0069ff,#0099ff,#00cdff,#16ffe1,#40ffb7,#66ff90,#87ff70,#a0ff56,#b7ff40,#caff2c,#dbff1c,#eeff09,#ffe600,#ffc800,#ffa700,#ff8600,#ff6400,#ff4300,#ff2900,#ff1a00,#ff1e00,#ff3b00,#ff6c00,#ffa700,#ffe600,#d4ff23,#b1ff46,#9aff5d,#8dff6a,#87ff70,#7aff7d,#6aff8d,#56ffa0,#43ffb4,#33ffc4,#26ffd1,#1fffd7,#1fffd7,#1fffd7,#23ffd4,#26ffd1,#2cffca,#2cffca,#2cffca,#29ffce,#23ffd4,#16ffe1,#06edf1,#00d5ff,#00b5ff,#0095ff,#0071ff,#0051ff,#002dff,#0011ff,#0000ff,#0000ed,#0000d6,#0000c4,#0000b6,#0000a8,#00009f,#00009b,#000096,#000096,#000096,#00009b,#00009f)"></i>
<i style="background:linear-gradient(90deg,#0000df,#0000cd,#0000cd,#0000df,#0000fa,#000dff,#0039ff,#0064ff,#0099ff,#00cdff,#16ffe1,#3cffba,#63ff94,#83ff73,#a0ff56,#b7ff40,#caff2c,#dbff1c,#eeff09,#ffe600,#ffc800,#ffa700,#ff8600,#ff6400,#ff4300,#ff2d00,#ff1e00,#ff2500,#ff3f00,#ff6f00,#ffab00,#ffea00,#d1ff26,#adff49,#9aff5d,#8dff6a,#83ff73,#7aff7d,#6aff8d,#56ffa0,#43ffb4,#33ffc4,#26ffd1,#1fffd7,#1fffd7,#1fffd7,#23ffd4,#26ffd1,#29ffce,#2cffca,#2cffca,#26ffd1,#1fffd7,#13fde4,#00e5f8,#00cdff,#00b1ff,#0091ff,#006dff,#0049ff,#0029ff,#000dff,#0000ff,#0000ed,#0000d6,#0000c4,#0000b6,#0000a8,#00009f,#00009b,#000096,#000096,#000096,#00009b,#00009f)"></i>
<i style="background:linear-gradient(90deg,#0000df,#0000cd,#0000cd,#0000df,#0000fa,#000dff,#0034ff,#0064ff,#0099ff,#00cdff,#16ffe1,#3cffba,#60ff97,#83ff73,#9dff5a,#b4ff43,#c7ff30,#dbff1c,#eeff09,#ffe600,#ffc800,#ffa700,#ff8600,#ff6400,#ff4700,#ff3000,#ff2500,#ff2900,#ff4300,#ff7300,#ffae00,#feed00,#ceff29,#aaff4d,#97ff60,#8aff6d,#83ff73,#7aff7d,#6aff8d,#56ffa0,#43ffb4,#33ffc4,#26ffd1,#1fffd7,#1fffd7,#1fffd7,#23ffd4,#26ffd1,#29ffce,#29ffce,#29ffce,#26ffd1,#1cffdb,#0cf5eb,#00e1fb,#00c5ff,#00a8ff,#0088ff,#0069ff,#0044ff,#0029ff,#000dff,#0000ff,#0000e8,#0000d6,#0000c4,#0000b6,#0000a8,#00009f,#00009b,#000096,#000096,#000096,#00009b,#00009f)"></i>
<i style="background:linear-gradient(90deg,#0000df,#0000cd,#0000cd,#0000df,#0000fa,#000dff,#0034ff,#0064ff,#0095ff,#00c8ff,#13fde4,#39ffbe,#60ff97,#80ff77,#9dff5a,#b4ff43,#c7ff30,#dbff1c,#eeff09,#ffe600,#ffc800,#ffa700,#ff8900,#ff6800,#ff4a00,#ff3400,#ff2900,#ff2d00,#ff4a00,#ff7a00,#ffb600,#fbf100,#caff2c,#aaff4d,#94ff63,#8aff6d,#80ff77,#77ff80,#6aff8d,#56ffa0,#43ffb4,#33ffc4,#26ffd1,#1fffd7,#1cffdb,#1fffd7,#23ffd4,#26ffd1,#29ffce,#29ffce,#29ffce,#23ffd4,#19ffde,#09f1ee,#00d9ff,#00c1ff,#00a1ff,#0081ff,#0061ff,#0041ff,#0024ff,#0009ff,#0000ff,#0000e8,#0000d6,#0000c4,#0000b6,#0000a8,#00009f,#00009b,#000096,#000092,#000096,#00009b,#00009f)"></i>
<i style="background:linear-gradient(90deg,#0000df,#0000cd,#0000cd,#0000df,#0000fa,#000dff,#0034ff,#0064ff,#0095ff,#00c8ff,#13fde4,#39ffbe,#5dff9a,#80ff77,#9dff5a,#b4ff43,#c7ff30,#dbff1c,#eeff09,#ffe600,#ffc800,#ffa700,#ff8900,#ff6800,#ff4e00,#ff3800,#ff2d00,#ff3400,#ff4e00,#ff7e00,#ffb900,#f4f802,#c7ff30,#a7ff50,#94ff63,#87ff70,#80ff77,#77ff80,#66ff90,#56ffa0,#43ffb4,#33ffc4,#26ffd1,#1fffd7,#1cffdb,#1fffd7,#23ffd4,#26ffd1,#26ffd1,#29ffce,#26ffd1,#1fffd7,#13fde4,#06edf1,#00d5ff,#00b9ff,#009dff,#007dff,#005dff,#003dff,#0021ff,#0009ff,#0000ff,#0000e8,#0000d1,#0000c4,#0000b2,#0000a8,#00009f,#000096,#000096,#000092,#000096,#00009b,#00009f)"></i>
<i style="background:linear-gradient(90deg,#0000df,#0000cd,#0000cd,#0000df,#0000fa,#000dff,#0034ff,#0064ff,#0095ff,#00c8ff,#0ff9e7,#36ffc1,#5dff9a,#7dff7a,#9aff5d,#b4ff43,#c7ff30,#dbff1c,#eeff09,#ffe600,#ffc800,#ffab00,#ff8900,#ff6c00,#ff5200,#ff3b00,#ff3000,#ff3800,#ff5200,#ff8200,#ffbd00,#f1fc06,#c4ff33,#a4ff53,#90ff66,#87ff70,#80ff77,#77ff80,#66ff90,#56ffa0,#43ffb4,#33ffc4,#26ffd1,#1fffd7,#1cffdb,#1fffd7,#1fffd7,#23ffd4,#26ffd1,#26ffd1,#23ffd4,#1cffdb,#0ff9e7,#00e5f8,#00cdff,#00b1ff,#0095ff,#0074ff,#0059ff,#0039ff,#001dff,#0004ff,#0000fa,#0000e3,#0000d1,#0000c4,#0000b2,#0000a8,#00009f,#000096,#000092,#000092,#000096,#00009b,#00009f)"></i>
<i style="background:linear-gradient(90deg,#0000df,#0000cd,#0000cd,#0000df,#0000fa,#000dff,#0034ff,#0061ff,#0095ff,#00c5ff,#0ff9e7,#36ffc1,#5aff9d,#7dff7a,#9aff5d,#b1ff46,#c7ff30,#dbff1c,#eeff09,#ffe600,#ffc800,#ffab00,#ff8d00,#ff6f00,#ff5500,#ff3f00,#ff3800,#ff3b00,#ff5900,#ff8900,#ffc100,#eeff09,#c1ff36,#a0ff56,#90ff66,#83ff73,#7dff7a,#73ff83,#66ff90,#53ffa4,#43ffb4,#33ffc4,#26ffd1,#1fffd7,#1cffdb,#1fffd7,#1fffd7,#23ffd4,#26ffd1,#26ffd1,#23ffd4,#19ffde,#0cf5eb,#00e1fb,#00c5ff,#00a8ff,#008dff,#0071ff,#0051ff,#0034ff,#0019ff,#0001ff,#0000fa,#0000e3,#0000d1,#0000bf,#0000b2,#0000a8,#00009f,#000096,#000092,#000092,#000096,#00009b,#00009f)"></i>
<i style="background:linear-gradient(90deg,#0000df,#0000cd,#0000cd,#0000df,#0000fa,#000dff,#0034ff,#0061ff,#0091ff,#00c5ff,#0cf5eb,#33ffc4,#5aff9d,#7aff7d,#97ff60,#b1ff46,#c7ff30,#dbff1c,#eeff09,#ffe600,#ffc800,#ffab00,#ff8d00,#ff7300,#ff5900,#ff4300,#ff3b00,#ff4300,#ff5d00,#ff8d00,#ffc800,#ebff0c,#beff39,#a0ff56,#8dff6a,#83ff73,#7dff7a,#73ff83,#66ff90,#53ffa4,#43ffb4,#30ffc7,#26ffd1,#1fffd7,#1cffdb,#1fffd7,#1fffd7,#23ffd4,#23ffd4,#23ffd4,#1fffd7,#16ffe1,#09f1ee,#00d9ff,#00c1ff,#00a5ff,#0085ff,#0069ff,#004dff,#0031ff,#0014ff,#0001ff,#0000f6,#0000e3,#0000d1,#0000bf,#0000b2,#0000a8,#00009f,#000096,#000092,#000092,#000092,#00009b,#00009f)"></i>
<i style="background:linear-gradient(90deg,#0000da,#0000cd,#0000cd,#0000df,#0000fa,#000dff,#0034ff,#0061ff,#0091ff,#00c5ff,#0cf5eb,#33ffc4,#56ffa0,#77ff80,#97ff60,#adff49,#c4ff33,#dbff1c,#eeff09,#ffe600,#ffc800,#ffae00,#ff9100,#ff7700,#ff5d00,#ff4a00,#ff3f00,#ff4700,#ff6400,#ff9100,#ffcc00,#ebff0c,#beff39,#9dff5a,#8dff6a,#83ff73,#7dff7a,#73ff83,#63ff94,#53ffa4,#40ffb7,#30ffc7,#26ffd1,#1fffd7,#1cffdb,#1fffd7,#1fffd7,#23ffd4,#23ffd4,#1fffd7,#1cffdb,#13fde4,#02e8f4,#00d5ff,#00b9ff,#009dff,#0081ff,#0064ff,#0049ff,#002dff,#0014ff,#0000ff,#0000f6,#0000e3,#0000d1,#0000bf,#0000b2,#0000a8,#00009b,#000096,#000092,#000092,#000092,#000096,#00009f)"></i>
<i style="background:linear-gradient(90deg,#0000da,#0000cd,#0000cd,#0000df,#0000fa,#000dff,#0034ff,#0061ff,#0091ff,#00c1ff,#09f1ee,#30ffc7,#53ffa4,#77ff80,#94ff63,#adff49,#c4ff33,#dbff1c,#eeff09,#ffe600,#ffcc00,#ffae00,#ff9400,#ff7a00,#ff6000,#ff4e00,#ff4700,#ff4e00,#ff6800,#ff9800,#ffd000,#e7ff0f,#baff3c,#9dff5a,#8aff6d,#80ff77,#7aff7d,#73ff83,#63ff94,#53ffa4,#40ffb7,#30ffc7,#26ffd1,#1fffd7,#1cffdb,#1fffd7,#1fffd7,#23ffd4,#23ffd4,#1fffd7,#19ffde,#0ff9e7,#00e5f8,#00cdff,#00b1ff,#0095ff,#0079ff,#005dff,#0041ff,#0029ff,#0011ff,#0000ff,#0000f1,#0000df,#0000cd,#0000bf,#0000b2,#0000a4,#00009b,#000096,#000092,#000092,#000092,#000096,#00009f)"></i>
<i style="background:linear-gradient(90deg,#0000da,#0000cd,#0000cd,#0000df,#0000fa,#000dff,#0034ff,#0061ff,#0091ff,#00c1ff,#09f1ee,#30ffc7,#53ffa4,#73ff83,#90ff66,#adff49,#c4ff33,#dbff1c,#eeff09,#ffe600,#ffcc00,#ffb200,#ff9800,#ff7e00,#ff6800,#ff5500,#ff4e00,#ff5500,#ff6f00,#ff9c00,#ffd300,#e4ff13,#baff3c,#9aff5d,#8aff6d,#80ff77,#7aff7d,#70ff87,#63ff94,#50ffa7,#40ffb7,#30ffc7,#23ffd4,#1fffd7,#1cffdb,#1fffd7,#1fffd7,#23ffd4,#1fffd7,#1cffdb,#16ffe1,#09f1ee,#00ddfe,#00c5ff,#00adff,#0091ff,#0074ff,#0059ff,#003dff,#0024ff,#000dff,#0000ff,#0000f1,#0000df,#0000cd,#0000bf,#0000b2,#0000a4,#00009b,#000096,#000092,#000092,#000092,#000096,#00009f)"></i>
<i style="background:linear-gradient(90deg,#0000da,#0000cd,#0000cd,#0000df,#0000fa,#000dff,#0034ff,#0061ff,#008dff,#00bdff,#06edf1,#2cffca,#50ffa7,#70ff87,#90ff66,#aaff4d,#c4ff33,#d7ff1f,#eeff09,#ffe600,#ffcc00,#ffb200,#ff9c00,#ff8200,#ff6c00,#ff5900,#ff5200,#ff5900,#ff7300,#ff9f00,#ffd700,#e1ff16,#b7ff40,#9aff5d,#8aff6d,#80ff77,#7aff7d,#70ff87,#63ff94,#50ffa7,#3cffba,#30ffc7,#23ffd4,#1fffd7,#1cffdb,#1fffd7,#1fffd7,#1fffd7,#1fffd7,#19ffde,#13fde4,#06edf1,#00d9ff,#00c1ff,#00a5ff,#0088ff,#006dff,#0051ff,#0039ff,#0021ff,#0009ff,#0000ff,#0000ed,#0000da,#0000cd,#0000bf,#0000b2,#0000a4,#00009b,#000096,#000092,#000092,#000092,#000096,#00009f)"></i>
<i style="background:linear-gradient(90deg,#0000da,#0000cd,#0000cd,#0000df,#0000fa,#000dff,#0031ff,#005dff,#008dff,#00bdff,#06edf1,#2cffca,#4dffaa,#70ff87,#8dff6a,#aaff4d,#c1ff36,#d7ff1f,#eeff09,#ffe600,#ffd000,#ffb600,#ff9f00,#ff8900,#ff7300,#ff6000,#ff5900,#ff6000,#ff7a00,#ffa700,#ffdb00,#deff19,#b7ff40,#9aff5d,#8aff6d,#80ff77,#7aff7d,#70ff87,#60ff97,#50ffa7,#3cffba,#2cffca,#23ffd4,#1fffd7,#1fffd7,#1fffd7,#23ffd4,#1fffd7,#1cffdb,#16ffe1,#0cf5eb,#00e5f8,#00d1ff,#00b9ff,#009dff,#0081ff,#0064ff,#004dff,#0034ff,#001dff,#0004ff,#0000ff,#0000ed,#0000da,#0000c8,#0000bb,#0000b2,#0000a4,#00009b,#000096,#000092,#000092,#000092,#000096,#00009f)"></i>
<i style="background:linear-gradient(90deg,#0000da,#0000cd,#0000cd,#0000df,#0000fa,#000dff,#0031ff,#005dff,#008dff,#00bdff,#06edf1,#29ffce,#4dffaa,#6dff8a,#8aff6d,#a7ff50,#c1ff36,#d7ff1f,#eeff09,#ffea00,#ffd000,#ffb900,#ffa300,#ff8d00,#ff7700,#ff6800,#ff6000,#ff6800,#ff8200,#ffab00,#ffde00,#deff19,#b4ff43,#9aff5d,#8aff6d,#80ff77,#77ff80,#70ff87,#60ff97,#4dffaa,#3cffba,#2cffca,#23ffd4,#1fffd7,#1fffd7,#1fffd7,#23ffd4,#1fffd7,#1cffdb,#13fde4,#09f1ee,#00e1fb,#00c8ff,#00b1ff,#0095ff,#007dff,#0061ff,#0049ff,#0031ff,#0019ff,#0004ff,#0000ff,#0000e8,#0000da,#0000c8,#0000bb,#0000ad,#0000a4,#00009b,#000096,#000092,#000092,#000092,#000096,#00009f)"></i>
<i style="background:linear-gradient(90deg,#0000da,#0000cd,#0000cd,#0000df,#0000fa,#000dff,#0031ff,#005dff,#008dff,#00b9ff,#02e8f4,#26ffd1,#49ffad,#6aff8d,#8aff6d,#a4ff53,#beff39,#d7ff1f,#eeff09,#ffea00,#ffd300,#ffbd00,#ffa700,#ff9400,#ff7e00,#ff6f00,#ff6800,#ff6f00,#ff8600,#ffae00,#ffe200,#dbff1c,#b4ff43,#97ff60,#87ff70,#80ff77,#77ff80,#6dff8a,#60ff97,#4dffaa,#39ffbe,#2cffca,#23ffd4,#1fffd7,#1fffd7,#23ffd4,#23ffd4,#1fffd7,#19ffde,#13fde4,#06edf1,#00d9ff,#00c1ff,#00a8ff,#0091ff,#0074ff,#005dff,#0041ff,#0029ff,#0014ff,#0001ff,#0000fa,#0000e8,#0000d6,#0000c8,#0000bb,#0000ad,#0000a4,#00009b,#000096,#000092,#000092,#000092,#000096,#00009f)"></i>
<i style="background:linear-gradient(90deg,#0000da,#0000cd,#0000cd,#0000df,#0000fa,#000dff,#0031ff,#005dff,#008dff,#00b9ff,#02e8f4,#26ffd1,#46ffb1,#66ff90,#87ff70,#a4ff53,#beff39,#d7ff1f,#eeff09,#ffea00,#ffd300,#ffc100,#ffab00,#ff9800,#ff8600,#ff7700,#ff6f00,#ff7700,#ff8d00,#ffb600,#ffe600,#d7ff1f,#b4ff43,#97ff60,#87ff70,#7dff7a,#77ff80,#6dff8a,#5dff9a,#4dffaa,#39ffbe,#29ffce,#1fffd7,#1fffd7,#1fffd7,#23ffd4,#23ffd4,#1fffd7,#19ffde,#0ff9e7,#00e5f8,#00d1ff,#00b9ff,#00a1ff,#0088ff,#006dff,#0054ff,#003dff,#0024ff,#0011ff,#0000ff,#0000fa,#0000e3,#0000d6,#0000c8,#0000bb,#0000ad,#0000a4,#00009b,#000096,#000092,#000092,#000092,#000096,#00009f)"></i>
<i style="background:linear-gradient(90deg,#0000da,#0000cd,#0000cd,#0000df,#0000fa,#000dff,#0031ff,#005dff,#0088ff,#00b9ff,#00e5f8,#23ffd4,#46ffb1,#66ff90,#83ff73,#a0ff56,#beff39,#d4ff23,#ebff0c,#ffea00,#ffd700,#ffc400,#ffb200,#ff9f00,#ff8d00,#ff7e00,#ff7700,#ff7e00,#ff9400,#ffb900,#ffea00,#d7ff1f,#b1ff46,#97ff60,#87ff70,#7dff7a,#77ff80,#6dff8a,#5dff9a,#49ffad,#39ffbe,#29ffce,#1fffd7,#1fffd7,#1fffd7,#23ffd4,#23ffd4,#1fffd7,#16ffe1,#0cf5eb,#00e1fb,#00c8ff,#00b1ff,#0099ff,#0081ff,#0069ff,#0051ff,#0039ff,#0021ff,#000dff,#0000ff,#0000f6,#0000e3,#0000d1,#0000c4,#0000b6,#0000ad,#0000a4,#00009b,#000096,#000092,#000092,#000092,#000096,#00009f)"></i>
<i style="background:linear-gradient(90deg,#0000da,#0000cd,#0000cd,#0000df,#0000fa,#000dff,#0031ff,#005dff,#0088ff,#00b5ff,#00e5f8,#1fffd7,#43ffb4,#63ff94,#80ff77,#a0ff56,#baff3c,#d4ff23,#ebff0c,#feed00,#ffdb00,#ffc800,#ffb600,#ffa700,#ff9400,#ff8600,#ff7e00,#ff8600,#ff9800,#ffbd00,#feed00,#d4ff23,#b1ff46,#97ff60,#87ff70,#7dff7a,#77ff80,#6dff8a,#5dff9a,#49ffad,#36ffc1,#29ffce,#1fffd7,#1fffd7,#1fffd7,#23ffd4,#23ffd4,#1fffd7,#16ffe1,#06edf1,#00d9ff,#00c1ff,#00a8ff,#0091ff,#0079ff,#0061ff,#0049ff,#0034ff,#001dff,#0009ff,#0000ff,#0000f1,#0000df,#0000d1,#0000c4,#0000b6,#0000ad,#0000a4,#00009b,#000096,#000092,#000092,#000092,#000096,#00009b)"></i>
<i style="background:linear-gradient(90deg,#0000da,#0000cd,#0000cd,#0000df,#0000fa,#000dff,#0031ff,#005dff,#0088ff,#00b5ff,#00e1fb,#1fffd7,#40ffb7,#60ff97,#80ff77,#9dff5a,#baff3c,#d4ff23,#ebff0c,#feed00,#ffdb00,#ffcc00,#ffbd00,#ffab00,#ff9c00,#ff8d00,#ff8600,#ff8900,#ff9f00,#ffc400,#fbf100,#d4ff23,#b1ff46,#97ff60,#87ff70,#7dff7a,#77ff80,#6aff8d,#5aff9d,#49ffad,#36ffc1,#26ffd1,#1fffd7,#1fffd7,#23ffd4,#26ffd1,#26ffd1,#1fffd7,#13fde4,#02e8f4,#00d5ff,#00bdff,#00a1ff,#008dff,#0074ff,#005dff,#0044ff,#0031ff,#0019ff,#0004ff,#0000ff,#0000f1,#0000df,#0000d1,#0000c4,#0000b6,#0000ad,#0000a4,#00009b,#000096,#000092,#000092,#000092,#000096,#00009b)"></i>
<i style="background:linear-gradient(90deg,#0000da,#0000cd,#0000cd,#0000df,#0000fa,#000dff,#0031ff,#005dff,#0088ff,#00b5ff,#00e1fb,#1cffdb,#3cffba,#5dff9a,#7dff7a,#9aff5d,#b7ff40,#d1ff26,#e7ff0f,#fbf100,#ffde00,#ffd000,#ffc100,#ffb200,#ffa300,#ff9400,#ff8d00,#ff9100,#ffa700,#ffc800,#f8f500,#d1ff26,#b1ff46,#97ff60,#87ff70,#7dff7a,#77ff80,#6aff8d,#5aff9d,#46ffb1,#33ffc4,#26ffd1,#1fffd7,#1fffd7,#23ffd4,#26ffd1,#26ffd1,#1fffd7,#13fde4,#00e5f8,#00cdff,#00b5ff,#0099ff,#0085ff,#006dff,#0054ff,#0041ff,#0029ff,#0014ff,#0004ff,#0000ff,#0000ed,#0000da,#0000cd,#0000bf,#0000b6,#0000ad,#0000a4,#00009b,#000096,#000092,#000092,#000092,#000096,#00009b)"></i>
<i style="background:linear-gradient(90deg,#0000da,#0000cd,#0000cd,#0000df,#0000fa,#000dff,#0031ff,#0059ff,#0085ff,#00b1ff,#00ddfe,#19ffde,#3cffba,#5aff9d,#7aff7d,#9aff5d,#b7ff40,#d1ff26,#e7ff0f,#fbf100,#ffe200,#ffd300,#ffc400,#ffb900,#ffab00,#ff9c00,#ff9400,#ff9800,#ffab00,#ffcc00,#f8f500,#d1ff26,#b1ff46,#97ff60,#8aff6d,#7dff7a,#77ff80,#6aff8d,#5aff9d,#46ffb1,#33ffc4,#26ffd1,#1fffd7,#1fffd7,#23ffd4,#26ffd1,#26ffd1,#1fffd7,#0ff9e7,#00e1fb,#00c5ff,#00adff,#0091ff,#007dff,#0064ff,#0051ff,#003dff,#0024ff,#0011ff,#0001ff,#0000fa,#0000e8,#0000da,#0000cd,#0000bf,#0000b6,#0000a8,#00009f,#00009b,#000096,#000092,#000092,#000092,#000096,#00009b)"></i>
<i style="background:linear-gradient(90deg,#0000da,#0000cd,#0000cd,#0000df,#0000fa,#000dff,#0031ff,#0059ff,#0085ff,#00b1ff,#00ddfe,#19ffde,#39ffbe,#5aff9d,#77ff80,#97ff60,#b4ff43,#d1ff26,#e7ff0f,#f8f500,#ffe200,#ffd700,#ffcc00,#ffc100,#ffb200,#ffa300,#ff9c00,#ff9f00,#ffb200,#ffd000,#f4f802,#d1ff26,#b1ff46,#97ff60,#8aff6d,#7dff7a,#73ff83,#6aff8d,#56ffa0,#43ffb4,#33ffc4,#23ffd4,#1cffdb,#1fffd7,#23ffd4,#26ffd1,#26ffd1,#1cffdb,#0cf5eb,#00ddfe,#00c1ff,#00a5ff,#0088ff,#0074ff,#005dff,#0049ff,#0034ff,#0021ff,#0011ff,#0000ff,#0000fa,#0000e8,#0000d6,#0000c8,#0000bf,#0000b2,#0000a8,#00009f,#00009b,#000096,#000092,#000092,#000092,#000096,#00009b)"></i>
<i style="background:linear-gradient(90deg,#0000d6,#0000cd,#0000cd,#0000df,#0000fa,#000dff,#0031ff,#0059ff,#0085ff,#00b1ff,#00d9ff,#16ffe1,#36ffc1,#56ffa0,#77ff80,#94ff63,#b4ff43,#ceff29,#e4ff13,#f8f500,#ffe600,#ffdb00,#ffd000,#ffc400,#ffb900,#ffab00,#ffa300,#ffa700,#ffb900,#ffd700,#f1fc06,#ceff29,#adff49,#97ff60,#8aff6d,#7dff7a,#73ff83,#66ff90,#56ffa0,#43ffb4,#30ffc7,#23ffd4,#1cffdb,#1fffd7,#23ffd4,#29ffce,#26ffd1,#1cffdb,#0cf5eb,#00d9ff,#00b9ff,#009dff,#0081ff,#006dff,#0059ff,#0044ff,#0031ff,#001dff,#000dff,#0000ff,#0000f6,#0000e3,#0000d6,#0000c8,#0000bb,#0000b2,#0000a8,#00009f,#00009b,#000096,#000092,#000092,#000092,#000096,#00009b)"></i>
<i style="background:linear-gradient(90deg,#0000d6,#0000cd,#0000cd,#0000df,#0000fa,#000dff,#0031ff,#0059ff,#0085ff,#00adff,#00d5ff,#13fde4,#33ffc4,#53ffa4,#73ff83,#94ff63,#b1ff46,#ceff29,#e4ff13,#f4f802,#ffea00,#ffde00,#ffd700,#ffcc00,#ffc100,#ffb200,#ffae00,#ffae00,#ffbd00,#ffdb00,#eeff09,#ceff29,#adff49,#9aff5d,#8aff6d,#80ff77,#73ff83,#66ff90,#56ffa0,#43ffb4,#30ffc7,#23ffd4,#1cffdb,#1fffd7,#26ffd1,#29ffce,#29ffce,#1cffdb,#09f1ee,#00d1ff,#00b1ff,#0095ff,#0079ff,#0064ff,#0051ff,#0041ff,#002dff,#0019ff,#0009ff,#0000ff,#0000f1,#0000e3,#0000d6,#0000c8,#0000bb,#0000b2,#0000a8,#00009f,#00009b,#000096,#000092,#000092,#000092,#000096,#00009b)"></i>
<i style="background:linear-gradient(90deg,#0000d6,#0000cd,#0000cd,#0000df,#0000fa,#0009ff,#0031ff,#0059ff,#0081ff,#00adff,#00d5ff,#13fde4,#30ffc7,#50ffa7,#70ff87,#90ff66,#b1ff46,#caff2c,#e4ff13,#f4f802,#feed00,#ffe200,#ffdb00,#ffd300,#ffc800,#ffb900,#ffb600,#ffb600,#ffc400,#ffde00,#ebff0c,#caff2c,#adff49,#9aff5d,#8aff6d,#80ff77,#73ff83,#66ff90,#53ffa4,#40ffb7,#2cffca,#1fffd7,#1cffdb,#1fffd7,#26ffd1,#29ffce,#29ffce,#1cffdb,#06edf1,#00cdff,#00adff,#008dff,#0071ff,#005dff,#0049ff,#0039ff,#0029ff,#0014ff,#0004ff,#0000ff,#0000f1,#0000df,#0000d1,#0000c4,#0000bb,#0000b2,#0000a8,#00009f,#00009b,#000096,#000092,#000092,#000092,#000096,#00009b)"></i>
<i style="background:linear-gradient(90deg,#0000d6,#0000cd,#0000cd,#0000df,#0000fa,#0009ff,#002dff,#0054ff,#0081ff,#00a8ff,#00d1ff,#0ff9e7,#30ffc7,#4dffaa,#6dff8a,#8dff6a,#adff49,#caff2c,#e1ff16,#f1fc06,#feed00,#ffe600,#ffe200,#ffd700,#ffd000,#ffc100,#ffbd00,#ffbd00,#ffc800,#ffe200,#ebff0c,#caff2c,#adff49,#9aff5d,#8aff6d,#80ff77,#73ff83,#66ff90,#53ffa4,#40ffb7,#2cffca,#1fffd7,#1cffdb,#1fffd7,#26ffd1,#29ffce,#29ffce,#1cffdb,#06edf1,#00c8ff,#00a5ff,#0085ff,#0069ff,#0054ff,#0044ff,#0034ff,#0024ff,#0014ff,#0001ff,#0000ff,#0000ed,#0000df,#0000d1,#0000c4,#0000bb,#0000b2,#0000a8,#00009f,#00009b,#000096,#000092,#000092,#000092,#000092,#000096)"></i>
<i style="background:linear-gradient(90deg,#0000d6,#0000cd,#0000cd,#0000df,#0000fa,#0009ff,#002dff,#0054ff,#007dff,#00a8ff,#00d1ff,#0cf5eb,#2cffca,#49ffad,#6aff8d,#8dff6a,#adff49,#c7ff30,#e1ff16,#f1fc06,#fbf100,#ffea00,#ffe600,#ffde00,#ffd300,#ffc800,#ffc100,#ffc400,#ffd000,#ffe600,#e7ff0f,#caff2c,#adff49,#9aff5d,#8aff6d,#80ff77,#73ff83,#66ff90,#53ffa4,#3cffba,#2cffca,#1fffd7,#19ffde,#1fffd7,#26ffd1,#29ffce,#29ffce,#19ffde,#02e8f4,#00c5ff,#009dff,#007dff,#0061ff,#004dff,#003dff,#0031ff,#0021ff,#0011ff,#0000ff,#0000fa,#0000ed,#0000da,#0000cd,#0000c4,#0000b6,#0000ad,#0000a8,#00009f,#00009b,#000096,#000092,#000092,#000092,#000092,#000096)"></i>
<i style="background:linear-gradient(90deg,#0000d6,#0000c8,#0000cd,#0000df,#0000fa,#0009ff,#002dff,#0054ff,#007dff,#00a5ff,#00cdff,#0cf5eb,#29ffce,#49ffad,#6aff8d,#8aff6d,#aaff4d,#c7ff30,#deff19,#eeff09,#f8f500,#feed00,#ffea00,#ffe600,#ffdb00,#ffd000,#ffc800,#ffc800,#ffd300,#feed00,#e4ff13,#c7ff30,#adff49,#9aff5d,#8aff6d,#80ff77,#73ff83,#63ff94,#50ffa7,#3cffba,#29ffce,#1fffd7,#19ffde,#1fffd7,#26ffd1,#29ffce,#29ffce,#19ffde,#00e5f8,#00bdff,#0095ff,#0074ff,#0059ff,#0049ff,#0039ff,#0029ff,#001dff,#000dff,#0000ff,#0000fa,#0000e8,#0000da,#0000cd,#0000bf,#0000b6,#0000ad,#0000a4,#00009f,#00009b,#000096,#000092,#000092,#000092,#000092,#000096)"></i>
<i style="background:linear-gradient(90deg,#0000d6,#0000c8,#0000cd,#0000df,#0000f6,#0009ff,#002dff,#0054ff,#007dff,#00a5ff,#00c8ff,#09f1ee,#26ffd1,#46ffb1,#66ff90,#87ff70,#a7ff50,#c7ff30,#deff19,#eeff09,#f4f802,#fbf100,#fbf100,#ffea00,#ffe200,#ffd700,#ffd000,#ffd000,#ffdb00,#fbf100,#e4ff13,#c7ff30,#adff49,#9aff5d,#8dff6a,#80ff77,#73ff83,#63ff94,#50ffa7,#3cffba,#29ffce,#1cffdb,#19ffde,#1fffd7,#26ffd1,#29ffce,#26ffd1,#16ffe1,#00e1fb,#00b9ff,#0091ff,#006dff,#0051ff,#0041ff,#0031ff,#0024ff,#0019ff,#0009ff,#0000ff,#0000f6,#0000e3,#0000d6,#0000c8,#0000bf,#0000b6,#0000ad,#0000a4,#00009f,#00009b,#000096,#000092,#000092,#000092,#000092,#000096)"></i>
<i style="background:linear-gradient(90deg,#0000d6,#0000c8,#0000cd,#0000df,#0000f6,#0009ff,#002dff,#0051ff,#0079ff,#00a1ff,#00c8ff,#06edf1,#23ffd4,#43ffb4,#63ff94,#87ff70,#a7ff50,#c4ff33,#deff19,#ebff0c,#f4f802,#f8f500,#f8f500,#fbf100,#ffe600,#ffde00,#ffd700,#ffd700,#ffde00,#f8f500,#e1ff16,#c7ff30,#adff49,#9aff5d,#8dff6a,#80ff77,#73ff83,#63ff94,#50ffa7,#3cffba,#29ffce,#1cffdb,#19ffde,#1fffd7,#26ffd1,#29ffce,#26ffd1,#16ffe1,#00ddfe,#00b5ff,#0088ff,#0064ff,#004dff,#0039ff,#002dff,#0021ff,#0014ff,#0004ff,#0000ff,#0000f1,#0000e3,#0000d6,#0000c8,#0000bf,#0000b6,#0000ad,#0000a4,#00009f,#00009b,#000096,#000092,#000092,#000092,#000092,#000096)"></i>
<i style="background:linear-gradient(90deg,#0000d1,#0000c8,#0000cd,#0000da,#0000f6,#0009ff,#0029ff,#0051ff,#0079ff,#00a1ff,#00c5ff,#02e8f4,#1fffd7,#40ffb7,#60ff97,#83ff73,#a4ff53,#c4ff33,#dbff1c,#ebff0c,#f1fc06,#f4f802,#f4f802,#f8f500,#feed00,#ffe600,#ffde00,#ffdb00,#ffe600,#f4f802,#deff19,#c7ff30,#adff49,#9aff5d,#8dff6a,#80ff77,#73ff83,#63ff94,#50ffa7,#39ffbe,#29ffce,#1cffdb,#19ffde,#1fffd7,#26ffd1,#29ffce,#26ffd1,#13fde4,#00d9ff,#00adff,#0081ff,#005dff,#0044ff,#0031ff,#0024ff,#001dff,#0011ff,#0001ff,#0000ff,#0000f1,#0000df,#0000d1,#0000c8,#0000bb,#0000b2,#0000ad,#0000a4,#00009f,#00009b,#000096,#000092,#000092,#000092,#000092,#000096)"></i>
<i style="background:linear-gradient(90deg,#0000d1,#0000c8,#0000cd,#0000da,#0000f6,#0004ff,#0029ff,#004dff,#0074ff,#009dff,#00c1ff,#00e5f8,#1fffd7,#3cffba,#5dff9a,#80ff77,#a4ff53,#c1ff36,#dbff1c,#e7ff0f,#eeff09,#f1fc06,#f1fc06,#f4f802,#fbf100,#ffea00,#ffe200,#ffe200,#ffea00,#f1fc06,#deff19,#c4ff33,#adff49,#9dff5a,#8dff6a,#80ff77,#73ff83,#63ff94,#4dffaa,#39ffbe,#26ffd1,#1cffdb,#19ffde,#1cffdb,#26ffd1,#29ffce,#26ffd1,#13fde4,#00d5ff,#00a8ff,#007dff,#0059ff,#003dff,#002dff,#0021ff,#0019ff,#000dff,#0001ff,#0000ff,#0000ed,#0000df,#0000d1,#0000c4,#0000bb,#0000b2,#0000a8,#0000a4,#00009f,#00009b,#000096,#000092,#000092,#000092,#000092,#000096)"></i>
<i style="background:linear-gradient(90deg,#0000d1,#0000c8,#0000cd,#0000da,#0000f6,#0004ff,#0029ff,#004dff,#0074ff,#0099ff,#00c1ff,#00e5f8,#1cffdb,#39ffbe,#5dff9a,#80ff77,#a0ff56,#c1ff36,#d7ff1f,#e7ff0f,#eeff09,#eeff09,#eeff09,#f1fc06,#f4f802,#fbf100,#ffea00,#ffe600,#feed00,#eeff09,#dbff1c,#c4ff33,#adff49,#9dff5a,#8dff6a,#80ff77,#70ff87,#60ff97,#4dffaa,#39ffbe,#26ffd1,#1cffdb,#19ffde,#1cffdb,#26ffd1,#29ffce,#23ffd4,#0ff9e7,#00d1ff,#00a5ff,#0074ff,#0051ff,#0039ff,#0024ff,#001dff,#0014ff,#0009ff,#0000ff,#0000fa,#0000ed,#0000da,#0000cd,#0000c4,#0000bb,#0000b2,#0000a8,#0000a4,#00009f,#00009b,#000096,#000092,#000092,#000092,#000092,#000096)"></i>
<i style="background:linear-gradient(90deg,#0000d1,#0000c8,#0000cd,#0000da,#0000f6,#0004ff,#0024ff,#0049ff,#0071ff,#0099ff,#00bdff,#00e1fb,#19ffde,#39ffbe,#5aff9d,#7dff7a,#a0ff56,#beff39,#d7ff1f,#e4ff13,#ebff0c,#eeff09,#ebff0c,#eeff09,#f1fc06,#f8f500,#feed00,#feed00,#f8f500,#ebff0c,#d7ff1f,#c4ff33,#adff49,#9dff5a,#8dff6a,#80ff77,#70ff87,#60ff97,#4dffaa,#39ffbe,#26ffd1,#1cffdb,#19ffde,#1cffdb,#26ffd1,#29ffce,#23ffd4,#0cf5eb,#00cdff,#009dff,#0071ff,#0049ff,#0031ff,#0021ff,#0014ff,#0011ff,#0004ff,#0000ff,#0000fa,#0000e8,#0000da,#0000cd,#0000c4,#0000b6,#0000b2,#0000a8,#0000a4,#00009f,#00009b,#000096,#000092,#000092,#000092,#000092,#000096)"></i>
<i style="background:linear-gradient(90deg,#0000d1,#0000c8,#0000c8,#0000da,#0000f1,#0001ff,#0024ff,#0049ff,#006dff,#0095ff,#00b9ff,#00ddfe,#16ffe1,#36ffc1,#56ffa0,#7aff7d,#9dff5a,#beff39,#d4ff23,#e4ff13,#ebff0c,#ebff0c,#ebff0c,#ebff0c,#eeff09,#f4f802,#f8f500,#fbf100,#f4f802,#e7ff0f,#d7ff1f,#c1ff36,#adff49,#9dff5a,#8dff6a,#80ff77,#70ff87,#60ff97,#4dffaa,#36ffc1,#26ffd1,#1cffdb,#19ffde,#1cffdb,#23ffd4,#26ffd1,#1fffd7,#09f1ee,#00c8ff,#0099ff,#0069ff,#0044ff,#0029ff,#001dff,#0011ff,#0009ff,#0001ff,#0000ff,#0000f6,#0000e8,#0000d6,#0000cd,#0000bf,#0000b6,#0000b2,#0000a8,#0000a4,#00009f,#00009b,#000096,#000092,#000092,#000092,#000092,#000092)"></i>
<i style="background:linear-gradient(90deg,#0000cd,#0000c4,#0000c8,#0000da,#0000f1,#0001ff,#0021ff,#0044ff,#006dff,#0091ff,#00b5ff,#00d9ff,#13fde4,#33ffc4,#53ffa4,#7aff7d,#9dff5a,#baff3c,#d4ff23,#e4ff13,#e7ff0f,#e7ff0f,#e7ff0f,#e7ff0f,#ebff0c,#f1fc06,#f4f802,#f8f500,#f1fc06,#e4ff13,#d4ff23,#c1ff36,#adff49,#9dff5a,#8dff6a,#80ff77,#70ff87,#60ff97,#4dffaa,#36ffc1,#26ffd1,#1cffdb,#19ffde,#1cffdb,#23ffd4,#26ffd1,#1cffdb,#06edf1,#00c5ff,#0095ff,#0064ff,#003dff,#0024ff,#0014ff,#000dff,#0009ff,#0000ff,#0000ff,#0000f1,#0000e3,#0000d6,#0000c8,#0000bf,#0000b6,#0000ad,#0000a8,#0000a4,#00009f,#00009b,#000096,#000092,#000092,#000092,#000092,#000092)"></i>
<i style="background:linear-gradient(90deg,#0000cd,#0000c4,#0000c8,#0000d6,#0000f1,#0001ff,#0021ff,#0044ff,#0069ff,#008dff,#00b1ff,#00d5ff,#13fde4,#30ffc7,#53ffa4,#77ff80,#9aff5d,#baff3c,#d4ff23,#e1ff16,#e7ff0f,#e7ff0f,#e4ff13,#e4ff13,#e7ff0f,#eeff09,#f1fc06,#f1fc06,#eeff09,#e1ff16,#d1ff26,#c1ff36,#adff49,#9dff5a,#8dff6a,#80ff77,#70ff87,#5dff9a,#49ffad,#36ffc1,#26ffd1,#1cffdb,#19ffde,#1cffdb,#23ffd4,#23ffd4,#1cffdb,#02e8f4,#00c1ff,#008dff,#0061ff,#0039ff,#0021ff,#0011ff,#0009ff,#0004ff,#0000ff,#0000ff,#0000f1,#0000e3,#0000d1,#0000c8,#0000bf,#0000b6,#0000ad,#0000a8,#0000a4,#00009b,#00009b,#000096,#000092,#000092,#000092,#000092,#000092)"></i>
<i style="background:linear-gradient(90deg,#0000cd,#0000c4,#0000c8,#0000d6,#0000ed,#0000ff,#001dff,#0041ff,#0064ff,#008dff,#00b1ff,#00d5ff,#0ff9e7,#2cffca,#50ffa7,#73ff83,#97ff60,#b7ff40,#d1ff26,#e1ff16,#e7ff0f,#e4ff13,#e4ff13,#e1ff16,#e4ff13,#ebff0c,#eeff09,#eeff09,#ebff0c,#e1ff16,#d1ff26,#beff39,#adff49,#9dff5a,#8dff6a,#7dff7a,#70ff87,#5dff9a,#49ffad,#36ffc1,#26ffd1,#1cffdb,#19ffde,#1cffdb,#1fffd7,#23ffd4,#19ffde,#00e5f8,#00bdff,#0088ff,#0059ff,#0034ff,#0019ff,#000dff,#0004ff,#0001ff,#0000ff,#0000fa,#0000ed,#0000df,#0000d1,#0000c8,#0000bb,#0000b6,#0000ad,#0000a8,#0000a4,#00009b,#000096,#000096,#000092,#000092,#000092,#000092,#000092)"></i>
<i style="background:linear-gradient(90deg,#0000cd,#0000c4,#0000c8,#0000d6,#0000ed,#0000ff,#001dff,#003dff,#0061ff,#0088ff,#00adff,#00d1ff,#0cf5eb,#2cffca,#4dffaa,#73ff83,#97ff60,#b7ff40,#d1ff26,#deff19,#e4ff13,#e4ff13,#e1ff16,#e1ff16,#e1ff16,#e7ff0f,#ebff0c,#ebff0c,#e7ff0f,#deff19,#ceff29,#beff39,#adff49,#9dff5a,#8dff6a,#7dff7a,#6dff8a,#5dff9a,#49ffad,#36ffc1,#26ffd1,#1cffdb,#19ffde,#1cffdb,#1fffd7,#1fffd7,#16ffe1,#00e1fb,#00b5ff,#0085ff,#0054ff,#002dff,#0014ff,#0009ff,#0001ff,#0000ff,#0000ff,#0000fa,#0000ed,#0000df,#0000d1,#0000c4,#0000bb,#0000b2,#0000ad,#0000a8,#00009f,#00009b,#000096,#000096,#000092,#000092,#000092,#000092,#000092)"></i>
<i style="background:linear-gradient(90deg,#0000cd,#0000c4,#0000c8,#0000d6,#0000ed,#0000ff,#0019ff,#003dff,#0061ff,#0085ff,#00a8ff,#00cdff,#09f1ee,#29ffce,#4dffaa,#70ff87,#94ff63,#b4ff43,#ceff29,#deff19,#e4ff13,#e4ff13,#e1ff16,#deff19,#e1ff16,#e4ff13,#e7ff0f,#e7ff0f,#e4ff13,#dbff1c,#ceff29,#beff39,#aaff4d,#9aff5d,#8dff6a,#7dff7a,#6dff8a,#5dff9a,#49ffad,#36ffc1,#26ffd1,#1cffdb,#19ffde,#19ffde,#1fffd7,#1cffdb,#13fde4,#00ddfe,#00b1ff,#0081ff,#0051ff,#0029ff,#0011ff,#0004ff,#0000ff,#0000ff,#0000ff,#0000f6,#0000e8,#0000da,#0000cd,#0000c4,#0000bb,#0000b2,#0000ad,#0000a8,#00009f,#00009b,#000096,#000096,#000092,#000092,#000092,#000092,#000092)"></i>
<i style="background:linear-gradient(90deg,#0000c8,#0000c4,#0000c4,#0000d1,#0000e8,#0000ff,#0014ff,#0039ff,#005dff,#0081ff,#00a5ff,#00c8ff,#06edf1,#26ffd1,#49ffad,#6dff8a,#94ff63,#b4ff43,#ceff29,#dbff1c,#e1ff16,#e1ff16,#deff19,#deff19,#deff19,#e1ff16,#e4ff13,#e4ff13,#e1ff16,#d7ff1f,#caff2c,#baff3c,#aaff4d,#9aff5d,#8dff6a,#7dff7a,#6dff8a,#5aff9d,#49ffad,#36ffc1,#26ffd1,#1cffdb,#19ffde,#19ffde,#1cffdb,#19ffde,#0ff9e7,#00d9ff,#00adff,#0079ff,#004dff,#0024ff,#000dff,#0001ff,#0000ff,#0000ff,#0000ff,#0000f1,#0000e8,#0000da,#0000cd,#0000c4,#0000bb,#0000b2,#0000ad,#0000a4,#00009f,#00009b,#000096,#000096,#000092,#000092,#000092,#000092,#000092)"></i>
<i style="background:linear-gradient(90deg,#0000c8,#0000bf,#0000c4,#0000d1,#0000e8,#0000ff,#0014ff,#0034ff,#0059ff,#007dff,#00a1ff,#00c5ff,#02e8f4,#23ffd4,#46ffb1,#6dff8a,#90ff66,#b1ff46,#caff2c,#dbff1c,#e1ff16,#e1ff16,#deff19,#dbff1c,#deff19,#deff19,#e1ff16,#e1ff16,#deff19,#d4ff23,#c7ff30,#baff3c,#aaff4d,#9aff5d,#8aff6d,#7dff7a,#6dff8a,#5aff9d,#46ffb1,#36ffc1,#26ffd1,#1cffdb,#19ffde,#19ffde,#19ffde,#19ffde,#0cf5eb,#00d5ff,#00a8ff,#0074ff,#0044ff,#0021ff,#0009ff,#0000ff,#0000ff,#0000ff,#0000fa,#0000f1,#0000e3,#0000d6,#0000cd,#0000bf,#0000b6,#0000b2,#0000ad,#0000a4,#00009f,#00009b,#000096,#000096,#000092,#000092,#00008d,#000092,#000092)"></i>
<i style="background:linear-gradient(90deg,#0000c8,#0000bf,#0000c4,#0000d1,#0000e8,#0000ff,#0011ff,#0031ff,#0054ff,#0079ff,#009dff,#00c1ff,#02e8f4,#23ffd4,#43ffb4,#6aff8d,#8dff6a,#b1ff46,#c7ff30,#d7ff1f,#deff19,#e1ff16,#deff19,#dbff1c,#dbff1c,#deff19,#deff19,#deff19,#dbff1c,#d1ff26,#c7ff30,#b7ff40,#aaff4d,#9aff5d,#8aff6d,#7aff7d,#6aff8d,#5aff9d,#46ffb1,#36ffc1,#26ffd1,#1cffdb,#19ffde,#19ffde,#19ffde,#16ffe1,#09f1ee,#00d1ff,#00a1ff,#0071ff,#0041ff,#001dff,#0004ff,#0000ff,#0000ff,#0000ff,#0000f6,#0000ed,#0000e3,#0000d6,#0000c8,#0000bf,#0000b6,#0000b2,#0000ad,#0000a4,#00009f,#00009b,#000096,#000092,#000092,#000092,#00008d,#000092,#000092)"></i>
<i style="background:linear-gradient(90deg,#0000c8,#0000bf,#0000c4,#0000d1,#0000e3,#0000ff,#0011ff,#0031ff,#0051ff,#0074ff,#0099ff,#00bdff,#00e5f8,#1fffd7,#43ffb4,#66ff90,#8dff6a,#adff49,#c7ff30,#d7ff1f,#deff19,#deff19,#dbff1c,#dbff1c,#d7ff1f,#dbff1c,#dbff1c,#dbff1c,#d7ff1f,#ceff29,#c4ff33,#b7ff40,#a7ff50,#9aff5d,#8aff6d,#7aff7d,#6aff8d,#5aff9d,#46ffb1,#36ffc1,#26ffd1,#1cffdb,#16ffe1,#16ffe1,#16ffe1,#13fde4,#06edf1,#00c8ff,#009dff,#006dff,#003dff,#0019ff,#0001ff,#0000ff,#0000ff,#0000fa,#0000f6,#0000ed,#0000df,#0000d1,#0000c8,#0000bf,#0000b6,#0000b2,#0000a8,#0000a4,#00009f,#00009b,#000096,#000092,#000092,#00008d,#00008d,#000092,#000092)"></i>
<i style="background:linear-gradient(90deg,#0000c4,#0000bf,#0000c4,#0000cd,#0000e3,#0000ff,#000dff,#002dff,#004dff,#0071ff,#0095ff,#00b9ff,#00e1fb,#1cffdb,#40ffb7,#63ff94,#8aff6d,#aaff4d,#c4ff33,#d4ff23,#dbff1c,#deff19,#dbff1c,#d7ff1f,#d7ff1f,#d7ff1f,#d7ff1f,#d7ff1f,#d4ff23,#caff2c,#c1ff36,#b4ff43,#a7ff50,#97ff60,#8aff6d,#7aff7d,#6aff8d,#56ffa0,#46ffb1,#36ffc1,#26ffd1,#1cffdb,#16ffe1,#16ffe1,#16ffe1,#0ff9e7,#00e5f8,#00c5ff,#0099ff,#0069ff,#0039ff,#0014ff,#0000ff,#0000ff,#0000fa,#0000f6,#0000f1,#0000e8,#0000df,#0000d1,#0000c8,#0000bf,#0000b6,#0000b2,#0000a8,#0000a4,#00009f,#00009b,#000096,#000092,#000092,#00008d,#00008d,#000092,#000092)"></i>
<i style="background:linear-gradient(90deg,#0000c4,#0000bf,#0000bf,#0000cd,#0000df,#0000fa,#0009ff,#0029ff,#004dff,#006dff,#0091ff,#00b5ff,#00ddfe,#19ffde,#3cffba,#63ff94,#87ff70,#a7ff50,#c1ff36,#d4ff23,#dbff1c,#dbff1c,#dbff1c,#d7ff1f,#d4ff23,#d4ff23,#d4ff23,#d4ff23,#d1ff26,#caff2c,#beff39,#b4ff43,#a4ff53,#97ff60,#87ff70,#77ff80,#66ff90,#56ffa0,#46ffb1,#36ffc1,#26ffd1,#1cffdb,#16ffe1,#16ffe1,#13fde4,#0cf5eb,#00e1fb,#00c1ff,#0095ff,#0064ff,#0034ff,#0011ff,#0000ff,#0000ff,#0000f6,#0000f6,#0000ed,#0000e8,#0000da,#0000d1,#0000c4,#0000bb,#0000b6,#0000ad,#0000a8,#0000a4,#00009f,#00009b,#000096,#000092,#000092,#00008d,#00008d,#000092,#000092)"></i>
<i style="background:linear-gradient(90deg,#0000c4,#0000bb,#0000bf,#0000cd,#0000df,#0000fa,#0009ff,#0024ff,#0049ff,#0069ff,#008dff,#00b1ff,#00d9ff,#16ffe1,#39ffbe,#60ff97,#83ff73,#a7ff50,#c1ff36,#d1ff26,#d7ff1f,#dbff1c,#d7ff1f,#d4ff23,#d4ff23,#d4ff23,#d4ff23,#d1ff26,#ceff29,#c7ff30,#beff39,#b1ff46,#a4ff53,#97ff60,#87ff70,#77ff80,#66ff90,#56ffa0,#43ffb4,#33ffc4,#26ffd1,#1cffdb,#16ffe1,#13fde4,#0ff9e7,#09f1ee,#00ddfe,#00b9ff,#008dff,#005dff,#0031ff,#000dff,#0000ff,#0000fa,#0000f6,#0000f1,#0000ed,#0000e3,#0000da,#0000cd,#0000c4,#0000bb,#0000b6,#0000ad,#0000a8,#0000a4,#00009f,#00009b,#000096,#000092,#000092,#00008d,#00008d,#000092,#000092)"></i>
<i style="background:linear-gradient(90deg,#0000c4,#0000bb,#0000bf,#0000cd,#0000df,#0000f6,#0004ff,#0024ff,#0044ff,#0064ff,#0088ff,#00adff,#00d5ff,#13fde4,#36ffc1,#5dff9a,#80ff77,#a4ff53,#beff39,#ceff29,#d7ff1f,#d7ff1f,#d7ff1f,#d4ff23,#d1ff26,#d1ff26,#d1ff26,#ceff29,#caff2c,#c4ff33,#baff3c,#adff49,#a4ff53,#94ff63,#87ff70,#77ff80,#66ff90,#53ffa4,#43ffb4,#33ffc4,#26ffd1,#1cffdb,#16ffe1,#13fde4,#0ff9e7,#06edf1,#00d9ff,#00b5ff,#0088ff,#0059ff,#002dff,#000dff,#0000ff,#0000fa,#0000f1,#0000ed,#0000e8,#0000df,#0000d6,#0000cd,#0000c4,#0000bb,#0000b2,#0000ad,#0000a8,#0000a4,#00009f,#00009b,#000096,#000092,#000092,#00008d,#00008d,#00008d,#000092)"></i>
<i style="background:linear-gradient(90deg,#0000bf,#0000bb,#0000bf,#0000c8,#0000da,#0000f6,#0001ff,#0021ff,#0041ff,#0064ff,#0085ff,#00a8ff,#00d1ff,#0ff9e7,#33ffc4,#5aff9d,#7dff7a,#a0ff56,#baff3c,#caff2c,#d4ff23,#d7ff1f,#d4ff23,#d1ff26,#d1ff26,#ceff29,#ceff29,#caff2c,#c7ff30,#c1ff36,#b7ff40,#adff49,#a0ff56,#94ff63,#83ff73,#73ff83,#63ff94,#53ffa4,#43ffb4,#33ffc4,#26ffd1,#1cffdb,#16ffe1,#0ff9e7,#0cf5eb,#02e8f4,#00d1ff,#00b1ff,#0085ff,#0054ff,#002dff,#0009ff,#0000ff,#0000f6,#0000f1,#0000ed,#0000e8,#0000df,#0000d6,#0000cd,#0000bf,#0000bb,#0000b2,#0000ad,#0000a8,#0000a4,#00009f,#00009b,#000096,#000092,#000092,#00008d,#00008d,#00008d,#000092)"></i>
<i style="background:linear-gradient(90deg,#0000bf,#0000bb,#0000bf,#0000c8,#0000da,#0000f1,#0001ff,#001dff,#003dff,#0061ff,#0081ff,#00a5ff,#00cdff,#0cf5eb,#30ffc7,#56ffa0,#7aff7d,#9dff5a,#b7ff40,#c7ff30,#d1ff26,#d4ff23,#d1ff26,#d1ff26,#ceff29,#caff2c,#caff2c,#c7ff30,#c4ff33,#beff39,#b4ff43,#aaff4d,#9dff5a,#90ff66,#83ff73,#73ff83,#63ff94,#53ffa4,#43ffb4,#33ffc4,#26ffd1,#1cffdb,#13fde4,#0ff9e7,#09f1ee,#00e5f8,#00cdff,#00adff,#0081ff,#0051ff,#0029ff,#0004ff,#0000ff,#0000f1,#0000ed,#0000e8,#0000e3,#0000df,#0000d1,#0000c8,#0000bf,#0000b6,#0000b2,#0000ad,#0000a8,#0000a4,#00009f,#00009b,#000096,#000092,#00008d,#00008d,#00008d,#00008d,#000092)"></i>
<i style="background:linear-gradient(90deg,#0000bf,#0000bb,#0000bb,#0000c8,#0000da,#0000f1,#0000ff,#0019ff,#0039ff,#005dff,#007dff,#00a1ff,#00c8ff,#09f1ee,#2cffca,#53ffa4,#77ff80,#9aff5d,#b4ff43,#c4ff33,#ceff29,#d1ff26,#d1ff26,#ceff29,#caff2c,#caff2c,#c7ff30,#c4ff33,#c1ff36,#baff3c,#b1ff46,#a7ff50,#9dff5a,#90ff66,#80ff77,#70ff87,#60ff97,#50ffa7,#40ffb7,#33ffc4,#26ffd1,#1cffdb,#13fde4,#0cf5eb,#06edf1,#00e1fb,#00c8ff,#00a5ff,#007dff,#004dff,#0024ff,#0004ff,#0000ff,#0000f1,#0000ed,#0000e8,#0000e3,#0000da,#0000d1,#0000c8,#0000bf,#0000b6,#0000b2,#0000ad,#0000a8,#0000a4,#00009f,#00009b,#000096,#000092,#00008d,#00008d,#00008d,#00008d,#000092)"></i>
<i style="background:linear-gradient(90deg,#0000bf,#0000bb,#0000bb,#0000c4,#0000d6,#0000ed,#0000ff,#0019ff,#0034ff,#0059ff,#0079ff,#009dff,#00c5ff,#06edf1,#29ffce,#50ffa7,#73ff83,#94ff63,#b1ff46,#c1ff36,#caff2c,#ceff29,#ceff29,#caff2c,#caff2c,#c7ff30,#c4ff33,#c1ff36,#beff39,#b7ff40,#adff49,#a7ff50,#9aff5d,#8dff6a,#80ff77,#70ff87,#60ff97,#50ffa7,#40ffb7,#33ffc4,#26ffd1,#19ffde,#13fde4,#0cf5eb,#02e8f4,#00d9ff,#00c1ff,#00a1ff,#0074ff,#0049ff,#0021ff,#0001ff,#0000fa,#0000ed,#0000e8,#0000e3,#0000df,#0000da,#0000d1,#0000c8,#0000bf,#0000b6,#0000b2,#0000ad,#0000a8,#0000a4,#00009f,#00009b,#000096,#000092,#00008d,#00008d,#00008d,#00008d,#000092)"></i>
<i style="background:linear-gradient(90deg,#0000bf,#0000b6,#0000bb,#0000c4,#0000d6,#0000ed,#0000ff,#0014ff,#0034ff,#0054ff,#0074ff,#0099ff,#00c1ff,#02e8f4,#26ffd1,#4dffaa,#70ff87,#90ff66,#adff49,#beff39,#c7ff30,#caff2c,#caff2c,#c7ff30,#c7ff30,#c4ff33,#c1ff36,#beff39,#b7ff40,#b4ff43,#aaff4d,#a4ff53,#97ff60,#8aff6d,#7dff7a,#6dff8a,#5dff9a,#4dffaa,#40ffb7,#30ffc7,#26ffd1,#19ffde,#0ff9e7,#09f1ee,#00e5f8,#00d5ff,#00bdff,#009dff,#0071ff,#0044ff,#001dff,#0001ff,#0000fa,#0000ed,#0000e8,#0000e3,#0000df,#0000d6,#0000cd,#0000c4,#0000bb,#0000b6,#0000ad,#0000a8,#0000a4,#00009f,#00009b,#000096,#000096,#000092,#00008d,#00008d,#00008d,#000092,#000092)"></i>
<i style="background:linear-gradient(90deg,#0000bf,#0000b6,#0000bb,#0000c4,#0000d6,#0000e8,#0000ff,#0011ff,#0031ff,#0051ff,#0071ff,#0095ff,#00bdff,#00e5f8,#23ffd4,#46ffb1,#6dff8a,#8dff6a,#a7ff50,#baff3c,#c4ff33,#c7ff30,#c7ff30,#c7ff30,#c4ff33,#c1ff36,#beff39,#baff3c,#b4ff43,#b1ff46,#a7ff50,#a0ff56,#97ff60,#8aff6d,#7aff7d,#6dff8a,#5dff9a,#4dffaa,#3cffba,#30ffc7,#23ffd4,#19ffde,#0ff9e7,#06edf1,#00e1fb,#00d1ff,#00b9ff,#0095ff,#006dff,#0044ff,#001dff,#0000ff,#0000f6,#0000ed,#0000e3,#0000df,#0000da,#0000d6,#0000cd,#0000c4,#0000bb,#0000b2,#0000ad,#0000a8,#0000a4,#00009f,#00009b,#000096,#000092,#000092,#00008d,#00008d,#00008d,#000092,#000092)"></i>
<i style="background:linear-gradient(90deg,#0000bb,#0000b6,#0000bb,#0000c4,#0000d1,#0000e8,#0000ff,#0011ff,#002dff,#004dff,#006dff,#0091ff,#00b9ff,#00e1fb,#1fffd7,#43ffb4,#66ff90,#87ff70,#a4ff53,#b7ff40,#c1ff36,#c4ff33,#c4ff33,#c4ff33,#c1ff36,#beff39,#baff3c,#b4ff43,#b1ff46,#aaff4d,#a4ff53,#9dff5a,#94ff63,#87ff70,#7aff7d,#6aff8d,#5aff9d,#49ffad,#3cffba,#30ffc7,#23ffd4,#19ffde,#0ff9e7,#06edf1,#00ddfe,#00cdff,#00b5ff,#0091ff,#0069ff,#0041ff,#0019ff,#0000ff,#0000f6,#0000e8,#0000e3,#0000df,#0000da,#0000d1,#0000c8,#0000c4,#0000bb,#0000b2,#0000ad,#0000a8,#0000a4,#00009f,#00009b,#000096,#000092,#000092,#00008d,#00008d,#00008d,#000092,#000096)"></i>
<i style="background:linear-gradient(90deg,#0000bb,#0000b6,#0000bb,#0000c4,#0000d1,#0000e8,#0000ff,#000dff,#0029ff,#0049ff,#0069ff,#008dff,#00b5ff,#00ddfe,#1cffdb,#40ffb7,#63ff94,#83ff73,#9dff5a,#b1ff46,#baff3c,#c1ff36,#c1ff36,#beff39,#beff39,#baff3c,#b4ff43,#b1ff46,#adff49,#a7ff50,#a0ff56,#9aff5d,#90ff66,#83ff73,#77ff80,#66ff90,#5aff9d,#49ffad,#39ffbe,#2cffca,#23ffd4,#16ffe1,#0cf5eb,#02e8f4,#00d9ff,#00c8ff,#00adff,#008dff,#0064ff,#003dff,#0019ff,#0000ff,#0000f6,#0000e8,#0000df,#0000df,#0000d6,#0000d1,#0000c8,#0000bf,#0000b6,#0000b2,#0000ad,#0000a8,#0000a4,#00009f,#00009b,#000096,#000092,#000092,#00008d,#00008d,#00008d,#000092,#000096)"></i>
<i style="background:linear-gradient(90deg,#0000bb,#0000b6,#0000b6,#0000bf,#0000d1,#0000e3,#0000ff,#0009ff,#0024ff,#0044ff,#0064ff,#0088ff,#00b1ff,#00d5ff,#16ffe1,#39ffbe,#5dff9a,#7dff7a,#9aff5d,#adff49,#b7ff40,#baff3c,#beff39,#baff3c,#b7ff40,#b4ff43,#b1ff46,#adff49,#a7ff50,#a4ff53,#9dff5a,#97ff60,#8dff6a,#80ff77,#73ff83,#66ff90,#56ffa0,#46ffb1,#39ffbe,#2cffca,#1fffd7,#16ffe1,#09f1ee,#00e5f8,#00d5ff,#00c5ff,#00a8ff,#0088ff,#0061ff,#0039ff,#0014ff,#0000ff,#0000f1,#0000e8,#0000df,#0000da,#0000d6,#0000cd,#0000c8,#0000bf,#0000b6,#0000b2,#0000ad,#0000a8,#0000a4,#00009f,#00009b,#000096,#000092,#00008d,#00008d,#00008d,#00008d,#000092,#000096)"></i>
<i style="background:linear-gradient(90deg,#0000bb,#0000b6,#0000b6,#0000bf,#0000d1,#0000e3,#0000fa,#0009ff,#0024ff,#0041ff,#0064ff,#0085ff,#00a8ff,#00d1ff,#13fde4,#36ffc1,#5aff9d,#7aff7d,#94ff63,#a7ff50,#b1ff46,#b7ff40,#b7ff40,#b7ff40,#b4ff43,#b1ff46,#adff49,#a7ff50,#a4ff53,#a0ff56,#9aff5d,#94ff63,#8aff6d,#7dff7a,#70ff87,#63ff94,#53ffa4,#46ffb1,#36ffc1,#29ffce,#1fffd7,#13fde4,#09f1ee,#00e1fb,#00d1ff,#00bdff,#00a5ff,#0085ff,#005dff,#0034ff,#0014ff,#0000ff,#0000f1,#0000e3,#0000df,#0000da,#0000d6,#0000cd,#0000c4,#0000bf,#0000b6,#0000b2,#0000a8,#0000a4,#00009f,#00009f,#00009b,#000096,#000092,#00008d,#00008d,#00008d,#00008d,#000092,#000096)"></i>
<i style="background:linear-gradient(90deg,#0000bb,#0000b6,#0000b6,#0000bf,#0000cd,#0000e3,#0000fa,#0004ff,#0021ff,#0041ff,#0061ff,#0081ff,#00a5ff,#00cdff,#0cf5eb,#30ffc7,#53ffa4,#73ff83,#8dff6a,#a0ff56,#adff49,#b1ff46,#b4ff43,#b1ff46,#adff49,#aaff4d,#a7ff50,#a4ff53,#a0ff56,#9aff5d,#94ff63,#8dff6a,#87ff70,#7aff7d,#6dff8a,#60ff97,#53ffa4,#43ffb4,#36ffc1,#29ffce,#1cffdb,#0ff9e7,#06edf1,#00ddfe,#00cdff,#00b9ff,#00a1ff,#0081ff,#0059ff,#0034ff,#0011ff,#0000ff,#0000f1,#0000e3,#0000da,#0000d6,#0000d1,#0000cd,#0000c4,#0000bb,#0000b6,#0000ad,#0000a8,#0000a4,#00009f,#00009b,#000096,#000096,#000092,#00008d,#00008d,#00008d,#00008d,#000092,#000096)"></i>
<i style="background:linear-gradient(90deg,#0000bb,#0000b6,#0000b6,#0000bf,#0000cd,#0000df,#0000fa,#0004ff,#001dff,#003dff,#005dff,#007dff,#00a1ff,#00c5ff,#09f1ee,#2cffca,#4dffaa,#6dff8a,#87ff70,#9aff5d,#a7ff50,#aaff4d,#adff49,#aaff4d,#aaff4d,#a7ff50,#a4ff53,#9dff5a,#9aff5d,#97ff60,#90ff66,#8aff6d,#83ff73,#77ff80,#6dff8a,#5dff9a,#50ffa7,#40ffb7,#33ffc4,#26ffd1,#19ffde,#0ff9e7,#02e8f4,#00d9ff,#00c8ff,#00b5ff,#009dff,#0079ff,#0054ff,#0031ff,#0011ff,#0000ff,#0000f1,#0000e3,#0000da,#0000d6,#0000d1,#0000c8,#0000c4,#0000bb,#0000b2,#0000ad,#0000a8,#0000a4,#00009f,#00009b,#000096,#000092,#000092,#00008d,#00008d,#00008d,#00008d,#000092,#000096)"></i>
<i style="background:linear-gradient(90deg,#0000bb,#0000b6,#0000b6,#0000bf,#0000cd,#0000df,#0000f6,#0001ff,#001dff,#0039ff,#0059ff,#0079ff,#009dff,#00c1ff,#02e8f4,#26ffd1,#46ffb1,#66ff90,#80ff77,#94ff63,#a0ff56,#a7ff50,#a7ff50,#a7ff50,#a4ff53,#a0ff56,#9dff5a,#9aff5d,#97ff60,#90ff66,#8dff6a,#87ff70,#7dff7a,#73ff83,#6aff8d,#5aff9d,#4dffaa,#40ffb7,#33ffc4,#26ffd1,#19ffde,#0cf5eb,#00e5f8,#00d5ff,#00c5ff,#00b1ff,#0095ff,#0074ff,#0054ff,#0031ff,#000dff,#0000ff,#0000ed,#0000e3,#0000da,#0000d6,#0000cd,#0000c8,#0000bf,#0000bb,#0000b2,#0000ad,#0000a8,#0000a4,#00009f,#00009b,#000096,#000092,#000092,#00008d,#00008d,#00008d,#00008d,#000092,#000096)"></i>
<i style="background:linear-gradient(90deg,#0000bb,#0000b6,#0000b6,#0000bf,#0000cd,#0000df,#0000f6,#0001ff,#0019ff,#0034ff,#0054ff,#0074ff,#0095ff,#00bdff,#00e1fb,#1fffd7,#43ffb4,#60ff97,#7aff7d,#8dff6a,#9aff5d,#a0ff56,#a0ff56,#a0ff56,#9dff5a,#9aff5d,#97ff60,#94ff63,#90ff66,#8dff6a,#87ff70,#83ff73,#7aff7d,#70ff87,#66ff90,#5aff9d,#49ffad,#3cffba,#30ffc7,#23ffd4,#16ffe1,#09f1ee,#00e1fb,#00d1ff,#00c1ff,#00adff,#0091ff,#0074ff,#0051ff,#002dff,#000dff,#0000ff,#0000ed,#0000df,#0000da,#0000d1,#0000cd,#0000c8,#0000bf,#0000b6,#0000b2,#0000ad,#0000a4,#00009f,#00009f,#00009b,#000096,#000092,#000092,#00008d,#00008d,#00008d,#00008d,#000092,#000096)"></i>
<i style="background:linear-gradient(90deg,#0000bb,#0000b6,#0000b6,#0000bf,#0000cd,#0000df,#0000f6,#0000ff,#0019ff,#0034ff,#0051ff,#0071ff,#0091ff,#00b5ff,#00ddfe,#19ffde,#3cffba,#5aff9d,#73ff83,#87ff70,#94ff63,#9aff5d,#9aff5d,#9aff5d,#97ff60,#97ff60,#94ff63,#90ff66,#8aff6d,#87ff70,#83ff73,#7dff7a,#77ff80,#6dff8a,#63ff94,#56ffa0,#49ffad,#39ffbe,#2cffca,#1fffd7,#13fde4,#06edf1,#00ddfe,#00cdff,#00bdff,#00a8ff,#008dff,#0071ff,#004dff,#0029ff,#000dff,#0000ff,#0000ed,#0000df,#0000d6,#0000d1,#0000cd,#0000c4,#0000bf,#0000b6,#0000b2,#0000a8,#0000a4,#00009f,#00009b,#000096,#000096,#000092,#00008d,#00008d,#00008d,#00008d,#00008d,#000092,#000096)"></i>
<i style="background:linear-gradient(90deg,#0000bb,#0000b6,#0000b6,#0000bf,#0000cd,#0000da,#0000f1,#0000ff,#0014ff,#0031ff,#004dff,#006dff,#008dff,#00b1ff,#00d5ff,#13fde4,#36ffc1,#53ffa4,#6dff8a,#80ff77,#8dff6a,#90ff66,#94ff63,#94ff63,#90ff66,#90ff66,#8dff6a,#8aff6d,#87ff70,#83ff73,#7dff7a,#7aff7d,#73ff83,#6aff8d,#60ff97,#53ffa4,#46ffb1,#39ffbe,#2cffca,#1fffd7,#0ff9e7,#02e8f4,#00d9ff,#00c8ff,#00b9ff,#00a5ff,#0088ff,#006dff,#0049ff,#0029ff,#0009ff,#0000ff,#0000ed,#0000df,#0000d6,#0000d1,#0000c8,#0000c4,#0000bb,#0000b6,#0000ad,#0000a8,#0000a4,#00009f,#00009b,#000096,#000092,#000092,#00008d,#00008d,#00008d,#00008d,#00008d,#000092,#00009b)"></i>
<i style="background:linear-gradient(90deg,#0000bb,#0000b6,#0000b6,#0000bf,#0000c8,#0000da,#0000f1,#0000ff,#0014ff,#002dff,#0049ff,#0064ff,#0085ff,#00a8ff,#00cdff,#0ff9e7,#30ffc7,#4dffaa,#66ff90,#7aff7d,#83ff73,#8aff6d,#8dff6a,#8dff6a,#8aff6d,#8aff6d,#87ff70,#83ff73,#80ff77,#7dff7a,#7aff7d,#73ff83,#6dff8a,#66ff90,#5aff9d,#50ffa7,#43ffb4,#36ffc1,#29ffce,#1cffdb,#0ff9e7,#02e8f4,#00d5ff,#00c5ff,#00b5ff,#009dff,#0085ff,#0069ff,#0049ff,#0024ff,#0009ff,#0000ff,#0000ed,#0000df,#0000d6,#0000d1,#0000c8,#0000c4,#0000bb,#0000b6,#0000ad,#0000a8,#0000a4,#00009f,#00009b,#000096,#000092,#000092,#00008d,#00008d,#00008d,#00008d,#000092,#000092,#00009b)"></i>
<i style="background:linear-gradient(90deg,#0000bb,#0000b6,#0000b6,#0000bf,#0000c8,#0000da,#0000f1,#0000ff,#0011ff,#0029ff,#0044ff,#0061ff,#0081ff,#00a1ff,#00c8ff,#09f1ee,#29ffce,#46ffb1,#60ff97,#70ff87,#7dff7a,#83ff73,#87ff70,#87ff70,#83ff73,#83ff73,#80ff77,#7dff7a,#7aff7d,#77ff80,#73ff83,#70ff87,#6aff8d,#60ff97,#56ffa0,#4dffaa,#40ffb7,#33ffc4,#26ffd1,#19ffde,#0cf5eb,#00e5f8,#00d1ff,#00c1ff,#00b1ff,#0099ff,#0081ff,#0064ff,#0044ff,#0024ff,#0009ff,#0000ff,#0000ed,#0000df,#0000d6,#0000cd,#0000c8,#0000bf,#0000bb,#0000b2,#0000ad,#0000a8,#00009f,#00009b,#00009b,#000096,#000092,#00008d,#00008d,#00008d,#00008d,#00008d,#000092,#000096,#00009b)"></i>
<i style="background:linear-gradient(90deg,#0000bb,#0000b6,#0000b6,#0000bf,#0000c8,#0000da,#0000ed,#0000ff,#0011ff,#0029ff,#0041ff,#005dff,#007dff,#009dff,#00c1ff,#02e8f4,#23ffd4,#40ffb7,#56ffa0,#6aff8d,#77ff80,#7dff7a,#80ff77,#80ff77,#7dff7a,#7dff7a,#7aff7d,#7aff7d,#77ff80,#73ff83,#70ff87,#6aff8d,#63ff94,#5dff9a,#53ffa4,#49ffad,#3cffba,#30ffc7,#23ffd4,#16ffe1,#09f1ee,#00e1fb,#00cdff,#00bdff,#00adff,#0095ff,#007dff,#0061ff,#0041ff,#0024ff,#0009ff,#0000ff,#0000e8,#0000df,#0000d6,#0000cd,#0000c8,#0000bf,#0000b6,#0000b2,#0000ad,#0000a4,#00009f,#00009b,#000096,#000092,#000092,#00008d,#00008d,#00008d,#00008d,#00008d,#000092,#000096,#00009b)"></i>
<i style="background:linear-gradient(90deg,#0000bb,#0000b6,#0000b6,#0000bf,#0000c8,#0000da,#0000ed,#0000ff,#000dff,#0024ff,#003dff,#0059ff,#0074ff,#0095ff,#00b9ff,#00e1fb,#19ffde,#39ffbe,#50ffa7,#63ff94,#6dff8a,#73ff83,#77ff80,#77ff80,#77ff80,#77ff80,#73ff83,#73ff83,#70ff87,#6dff8a,#6aff8d,#66ff90,#60ff97,#5aff9d,#50ffa7,#46ffb1,#39ffbe,#30ffc7,#23ffd4,#13fde4,#06edf1,#00ddfe,#00c8ff,#00b9ff,#00a5ff,#0091ff,#0079ff,#005dff,#0041ff,#0021ff,#0004ff,#0000ff,#0000e8,#0000da,#0000d1,#0000cd,#0000c4,#0000bf,#0000b6,#0000b2,#0000a8,#0000a4,#00009f,#00009b,#000096,#000092,#000092,#00008d,#00008d,#00008d,#00008d,#00008d,#000092,#000096,#00009b)"></i>
<i style="background:linear-gradient(90deg,#0000bb,#0000b6,#0000b6,#0000bf,#0000c8,#0000da,#0000ed,#0000ff,#000dff,#0024ff,#003dff,#0054ff,#0071ff,#0091ff,#00b5ff,#00d9ff,#13fde4,#30ffc7,#49ffad,#5dff9a,#66ff90,#6dff8a,#70ff87,#70ff87,#70ff87,#70ff87,#6dff8a,#6dff8a,#6aff8d,#6aff8d,#66ff90,#60ff97,#5dff9a,#56ffa0,#4dffaa,#43ffb4,#39ffbe,#2cffca,#1fffd7,#13fde4,#02e8f4,#00d9ff,#00c5ff,#00b5ff,#00a1ff,#008dff,#0074ff,#005dff,#003dff,#0021ff,#0004ff,#0000fa,#0000e8,#0000da,#0000d1,#0000cd,#0000c4,#0000bb,#0000b6,#0000ad,#0000a8,#0000a4,#00009f,#00009b,#000096,#000092,#00008d,#00008d,#00008d,#00008d,#00008d,#00008d,#000092,#000096,#00009b)"></i>
<i style="background:linear-gradient(90deg,#0000bb,#0000b6,#0000b6,#0000bf,#0000c8,#0000da,#0000ed,#0000ff,#0009ff,#0021ff,#0039ff,#0051ff,#006dff,#0088ff,#00adff,#00d1ff,#0cf5eb,#29ffce,#43ffb4,#53ffa4,#60ff97,#66ff90,#6aff8d,#6aff8d,#6aff8d,#6aff8d,#6aff8d,#66ff90,#66ff90,#63ff94,#60ff97,#5dff9a,#56ffa0,#50ffa7,#49ffad,#40ffb7,#36ffc1,#29ffce,#1cffdb,#0ff9e7,#00e5f8,#00d5ff,#00c1ff,#00b1ff,#009dff,#0088ff,#0074ff,#0059ff,#003dff,#0021ff,#0004ff,#0000fa,#0000e8,#0000da,#0000d1,#0000c8,#0000c4,#0000bb,#0000b6,#0000ad,#0000a8,#0000a4,#00009b,#000096,#000092,#000092,#00008d,#00008d,#000089,#000089,#00008d,#00008d,#000092,#000096,#00009b)"></i>
<i style="background:linear-gradient(90deg,#0000bb,#0000b6,#0000b6,#0000bf,#0000c8,#0000d6,#0000ed,#0000ff,#0009ff,#001dff,#0034ff,#004dff,#0069ff,#0085ff,#00a5ff,#00c8ff,#06edf1,#23ffd4,#39ffbe,#4dffaa,#56ffa0,#5dff9a,#60ff97,#63ff94,#63ff94,#63ff94,#63ff94,#60ff97,#60ff97,#5dff9a,#5aff9d,#56ffa0,#53ffa4,#4dffaa,#46ffb1,#3cffba,#33ffc4,#26ffd1,#19ffde,#0cf5eb,#00e1fb,#00d1ff,#00bdff,#00adff,#0099ff,#0085ff,#0071ff,#0054ff,#0039ff,#001dff,#0004ff,#0000fa,#0000e8,#0000da,#0000d1,#0000c8,#0000bf,#0000bb,#0000b2,#0000ad,#0000a8,#00009f,#00009b,#000096,#000092,#00008d,#00008d,#00008d,#000089,#000089,#00008d,#00008d,#000092,#000096,#00009b)"></i>
<i style="background:linear-gradient(90deg,#0000bb,#0000b6,#0000b6,#0000bf,#0000c8,#0000d6,#0000ed,#0000ff,#0004ff,#001dff,#0031ff,#0049ff,#0061ff,#007dff,#009dff,#00c1ff,#00e5f8,#1cffdb,#33ffc4,#46ffb1,#50ffa7,#56ffa0,#5aff9d,#5aff9d,#5dff9a,#5dff9a,#5dff9a,#5aff9d,#5aff9d,#56ffa0,#56ffa0,#53ffa4,#4dffaa,#46ffb1,#40ffb7,#39ffbe,#30ffc7,#23ffd4,#16ffe1,#09f1ee,#00ddfe,#00cdff,#00b9ff,#00a8ff,#0095ff,#0081ff,#006dff,#0054ff,#0039ff,#001dff,#0004ff,#0000fa,#0000e8,#0000da,#0000d1,#0000c8,#0000bf,#0000bb,#0000b2,#0000ad,#0000a4,#00009f,#00009b,#000096,#000092,#00008d,#00008d,#000089,#000089,#000089,#00008d,#00008d,#000092,#000096,#00009f)"></i>
<i style="background:linear-gradient(90deg,#0000bb,#0000b6,#0000b6,#0000bf,#0000c8,#0000d6,#0000e8,#0000ff,#0004ff,#0019ff,#002dff,#0044ff,#005dff,#0079ff,#0099ff,#00b9ff,#00ddfe,#16ffe1,#2cffca,#3cffba,#49ffad,#50ffa7,#53ffa4,#53ffa4,#56ffa0,#56ffa0,#56ffa0,#56ffa0,#53ffa4,#53ffa4,#50ffa7,#4dffaa,#49ffad,#43ffb4,#3cffba,#36ffc1,#2cffca,#1fffd7,#13fde4,#06edf1,#00d9ff,#00c8ff,#00b5ff,#00a5ff,#0091ff,#0081ff,#0069ff,#0051ff,#0034ff,#001dff,#0001ff,#0000fa,#0000e8,#0000da,#0000d1,#0000c8,#0000bf,#0000b6,#0000b2,#0000ad,#0000a4,#00009f,#00009b,#000096,#000092,#00008d,#000089,#000089,#000089,#000089,#00008d,#00008d,#000092,#000096,#00009f)"></i>
<i style="background:linear-gradient(90deg,#0000bb,#0000b6,#0000b6,#0000bf,#0000c8,#0000d6,#0000e8,#0000ff,#0004ff,#0019ff,#002dff,#0041ff,#0059ff,#0074ff,#0091ff,#00b5ff,#00d5ff,#0ff9e7,#26ffd1,#36ffc1,#40ffb7,#46ffb1,#4dffaa,#4dffaa,#4dffaa,#50ffa7,#50ffa7,#50ffa7,#50ffa7,#4dffaa,#49ffad,#46ffb1,#43ffb4,#40ffb7,#39ffbe,#33ffc4,#29ffce,#1fffd7,#13fde4,#02e8f4,#00d9ff,#00c5ff,#00b1ff,#00a1ff,#008dff,#007dff,#0064ff,#004dff,#0034ff,#0019ff,#0001ff,#0000fa,#0000e8,#0000da,#0000cd,#0000c4,#0000bf,#0000b6,#0000b2,#0000a8,#0000a4,#00009f,#00009b,#000092,#000092,#00008d,#000089,#000089,#000089,#000089,#00008d,#00008d,#000092,#000096,#00009f)"></i>
<i style="background:linear-gradient(90deg,#0000bb,#0000b6,#0000b6,#0000bf,#0000c8,#0000d6,#0000e8,#0000fa,#0001ff,#0014ff,#0029ff,#003dff,#0054ff,#006dff,#008dff,#00adff,#00cdff,#09f1ee,#1fffd7,#30ffc7,#39ffbe,#40ffb7,#43ffb4,#46ffb1,#46ffb1,#49ffad,#49ffad,#49ffad,#49ffad,#46ffb1,#46ffb1,#43ffb4,#40ffb7,#39ffbe,#36ffc1,#30ffc7,#26ffd1,#1cffdb,#0ff9e7,#00e5f8,#00d5ff,#00c1ff,#00adff,#009dff,#008dff,#0079ff,#0064ff,#004dff,#0034ff,#0019ff,#0001ff,#0000fa,#0000e8,#0000da,#0000cd,#0000c4,#0000bf,#0000b6,#0000b2,#0000a8,#0000a4,#00009f,#000096,#000092,#00008d,#00008d,#000089,#000089,#000089,#000089,#00008d,#00008d,#000092,#000096,#00009f)"></i>
<i style="background:linear-gradient(90deg,#0000bb,#0000b6,#0000b6,#0000bf,#0000c8,#0000d6,#0000e8,#0000fa,#0001ff,#0014ff,#0024ff,#0039ff,#0051ff,#0069ff,#0085ff,#00a5ff,#00c5ff,#00e5f8,#16ffe1,#29ffce,#33ffc4,#39ffbe,#3cffba,#40ffb7,#40ffb7,#43ffb4,#43ffb4,#43ffb4,#43ffb4,#43ffb4,#40ffb7,#3cffba,#39ffbe,#36ffc1,#30ffc7,#2cffca,#23ffd4,#19ffde,#0cf5eb,#00e5f8,#00d1ff,#00bdff,#00a8ff,#0099ff,#0088ff,#0074ff,#0061ff,#0049ff,#0031ff,#0019ff,#0001ff,#0000fa,#0000e8,#0000da,#0000cd,#0000c4,#0000bb,#0000b6,#0000ad,#0000a8,#0000a4,#00009b,#000096,#000092,#00008d,#000089,#000089,#000089,#000089,#000089,#00008d,#00008d,#000092,#00009b,#00009f)"></i>
<i style="background:linear-gradient(90deg,#0000bb,#0000b6,#0000b6,#0000bf,#0000c8,#0000d6,#0000e8,#0000fa,#0000ff,#0011ff,#0024ff,#0034ff,#004dff,#0064ff,#0081ff,#009dff,#00c1ff,#00e1fb,#0ff9e7,#1fffd7,#2cffca,#33ffc4,#36ffc1,#39ffbe,#39ffbe,#3cffba,#3cffba,#3cffba,#3cffba,#3cffba,#39ffbe,#39ffbe,#36ffc1,#33ffc4,#2cffca,#26ffd1,#1fffd7,#16ffe1,#09f1ee,#00e1fb,#00cdff,#00b9ff,#00a8ff,#0095ff,#0085ff,#0071ff,#005dff,#0049ff,#0031ff,#0019ff,#0001ff,#0000fa,#0000e8,#0000da,#0000cd,#0000c4,#0000bb,#0000b6,#0000ad,#0000a8,#0000a4,#00009b,#000096,#000092,#00008d,#000089,#000089,#000089,#000089,#000089,#00008d,#00008d,#000092,#00009b,#00009f)"></i>
<i style="background:linear-gradient(90deg,#0000bb,#0000b6,#0000b6,#0000bf,#0000c8,#0000d6,#0000e8,#0000fa,#0000ff,#0011ff,#0021ff,#0034ff,#0049ff,#005dff,#0079ff,#0099ff,#00b9ff,#00d9ff,#09f1ee,#19ffde,#26ffd1,#2cffca,#30ffc7,#33ffc4,#33ffc4,#36ffc1,#36ffc1,#39ffbe,#39ffbe,#36ffc1,#36ffc1,#33ffc4,#30ffc7,#2cffca,#29ffce,#23ffd4,#1cffdb,#13fde4,#06edf1,#00ddfe,#00c8ff,#00b5ff,#00a5ff,#0091ff,#0081ff,#0071ff,#005dff,#0044ff,#002dff,#0014ff,#0001ff,#0000fa,#0000e8,#0000d6,#0000cd,#0000c4,#0000bb,#0000b2,#0000ad,#0000a8,#00009f,#00009b,#000096,#000092,#00008d,#000089,#000089,#000084,#000089,#000089,#00008d,#00008d,#000092,#00009b,#00009f)"></i>
<i style="background:linear-gradient(90deg,#0000bb,#0000b6,#0000bb,#0000bf,#0000c8,#0000d6,#0000e8,#0000fa,#0000ff,#000dff,#001dff,#0031ff,#0044ff,#0059ff,#0074ff,#0091ff,#00b1ff,#00d1ff,#02e8f4,#13fde4,#1fffd7,#26ffd1,#29ffce,#2cffca,#2cffca,#30ffc7,#33ffc4,#33ffc4,#33ffc4,#33ffc4,#30ffc7,#30ffc7,#2cffca,#29ffce,#26ffd1,#1fffd7,#19ffde,#0ff9e7,#02e8f4,#00d9ff,#00c5ff,#00b5ff,#00a1ff,#0091ff,#007dff,#006dff,#0059ff,#0044ff,#002dff,#0014ff,#0001ff,#0000fa,#0000e8,#0000d6,#0000cd,#0000bf,#0000bb,#0000b2,#0000ad,#0000a8,#00009f,#00009b,#000096,#000092,#00008d,#000089,#000084,#000084,#000084,#000089,#00008d,#00008d,#000092,#00009b,#00009f)"></i>
<i style="background:linear-gradient(90deg,#0000bb,#0000b6,#0000bb,#0000bf,#0000c8,#0000d6,#0000e8,#0000f6,#0000ff,#000dff,#001dff,#002dff,#0041ff,#0054ff,#006dff,#008dff,#00adff,#00c8ff,#00e5f8,#0cf5eb,#19ffde,#1fffd7,#23ffd4,#26ffd1,#29ffce,#29ffce,#2cffca,#2cffca,#2cffca,#2cffca,#2cffca,#29ffce,#26ffd1,#23ffd4,#1fffd7,#1cffdb,#16ffe1,#0cf5eb,#02e8f4,#00d5ff,#00c5ff,#00b1ff,#009dff,#008dff,#007dff,#006dff,#0059ff,#0044ff,#002dff,#0014ff,#0001ff,#0000fa,#0000e8,#0000d6,#0000cd,#0000bf,#0000b6,#0000b2,#0000ad,#0000a4,#00009f,#00009b,#000096,#000092,#00008d,#000089,#000084,#000084,#000084,#000089,#00008d,#00008d,#000096,#00009b,#00009f)"></i>
<i style="background:linear-gradient(90deg,#0000bb,#0000b6,#0000bb,#0000bf,#0000c8,#0000d6,#0000e3,#0000f6,#0000ff,#0009ff,#0019ff,#0029ff,#003dff,#0051ff,#0069ff,#0085ff,#00a5ff,#00c1ff,#00ddfe,#09f1ee,#13fde4,#19ffde,#1cffdb,#1fffd7,#23ffd4,#26ffd1,#26ffd1,#29ffce,#29ffce,#29ffce,#26ffd1,#26ffd1,#23ffd4,#1fffd7,#1cffdb,#19ffde,#13fde4,#09f1ee,#00e5f8,#00d5ff,#00c1ff,#00adff,#009dff,#0088ff,#0079ff,#0069ff,#0054ff,#0041ff,#002dff,#0014ff,#0000ff,#0000fa,#0000e8,#0000d6,#0000c8,#0000bf,#0000b6,#0000b2,#0000a8,#0000a4,#00009f,#00009b,#000096,#00008d,#000089,#000089,#000084,#000084,#000084,#000089,#000089,#00008d,#000096,#00009b,#00009f)"></i>
<i style="background:linear-gradient(90deg,#0000bb,#0000b6,#0000bb,#0000bf,#0000c8,#0000d6,#0000e3,#0000f6,#0000ff,#0009ff,#0019ff,#0029ff,#0039ff,#004dff,#0064ff,#0081ff,#00a1ff,#00bdff,#00d5ff,#02e8f4,#0cf5eb,#13fde4,#16ffe1,#19ffde,#1cffdb,#1fffd7,#23ffd4,#23ffd4,#23ffd4,#23ffd4,#23ffd4,#1fffd7,#1cffdb,#1cffdb,#19ffde,#16ffe1,#0ff9e7,#09f1ee,#00e1fb,#00d1ff,#00bdff,#00a8ff,#0099ff,#0088ff,#0079ff,#0064ff,#0054ff,#0041ff,#0029ff,#0014ff,#0000ff,#0000fa,#0000e3,#0000d6,#0000c8,#0000bf,#0000b6,#0000b2,#0000a8,#0000a4,#00009f,#00009b,#000096,#00008d,#000089,#000089,#000084,#000084,#000084,#000089,#000089,#00008d,#000096,#00009b,#00009f)"></i>
<i style="background:linear-gradient(90deg,#0000bb,#0000b6,#0000bb,#0000bf,#0000c8,#0000d6,#0000e3,#0000f6,#0000ff,#0004ff,#0014ff,#0024ff,#0034ff,#0049ff,#0061ff,#007dff,#0099ff,#00b5ff,#00cdff,#00e1fb,#06edf1,#0cf5eb,#13fde4,#16ffe1,#19ffde,#19ffde,#1cffdb,#1fffd7,#1fffd7,#1fffd7,#1cffdb,#1cffdb,#19ffde,#16ffe1,#16ffe1,#13fde4,#0cf5eb,#06edf1,#00ddfe,#00cdff,#00bdff,#00a8ff,#0095ff,#0085ff,#0074ff,#0064ff,#0051ff,#003dff,#0029ff,#0014ff,#0000ff,#0000f6,#0000e3,#0000d6,#0000c8,#0000bf,#0000b6,#0000ad,#0000a8,#0000a4,#00009f,#00009b,#000092,#00008d,#000089,#000089,#000084,#000084,#000084,#000089,#000089,#00008d,#000096,#00009b,#00009f)"></i>
<i style="background:linear-gradient(90deg,#0000bb,#0000b6,#0000bb,#0000bf,#0000c8,#0000d6,#0000e3,#0000f6,#0000ff,#0004ff,#0011ff,#0021ff,#0031ff,#0044ff,#005dff,#0079ff,#0095ff,#00b1ff,#00c8ff,#00d9ff,#02e8f4,#09f1ee,#0cf5eb,#0ff9e7,#13fde4,#16ffe1,#19ffde,#19ffde,#19ffde,#19ffde,#19ffde,#16ffe1,#16ffe1,#13fde4,#13fde4,#0ff9e7,#09f1ee,#02e8f4,#00d9ff,#00c8ff,#00b9ff,#00a5ff,#0095ff,#0085ff,#0074ff,#0064ff,#0051ff,#003dff,#0029ff,#0011ff,#0000ff,#0000f6,#0000e3,#0000d6,#0000c8,#0000bf,#0000b6,#0000ad,#0000a8,#0000a4,#00009f,#00009b,#000092,#00008d,#000089,#000084,#000084,#000084,#000084,#000089,#000089,#00008d,#000096,#00009b,#00009f)"></i>
<i style="background:linear-gradient(90deg,#0000bb,#0000b6,#0000bb,#0000bf,#0000c8,#0000d6,#0000e3,#0000f1,#0000ff,#0001ff,#0011ff,#0021ff,#0031ff,#0041ff,#0059ff,#0074ff,#0091ff,#00a8ff,#00c1ff,#00d5ff,#00e1fb,#02e8f4,#09f1ee,#0cf5eb,#0cf5eb,#0ff9e7,#13fde4,#16ffe1,#16ffe1,#16ffe1,#13fde4,#13fde4,#0ff9e7,#0ff9e7,#0cf5eb,#0cf5eb,#06edf1,#00e5f8,#00d9ff,#00c8ff,#00b5ff,#00a5ff,#0091ff,#0081ff,#0071ff,#0061ff,#0051ff,#003dff,#0029ff,#0011ff,#0000ff,#0000f6,#0000e3,#0000d6,#0000c8,#0000bb,#0000b2,#0000ad,#0000a8,#0000a4,#00009f,#00009b,#000092,#00008d,#000089,#000084,#000084,#000084,#000084,#000089,#000089,#00008d,#000096,#00009b,#00009f)"></i>
<i style="background:linear-gradient(90deg,#0000bb,#0000b6,#0000bb,#0000bf,#0000c8,#0000d6,#0000e3,#0000f1,#0000ff,#0001ff,#0011ff,#001dff,#002dff,#0041ff,#0054ff,#0071ff,#0088ff,#00a5ff,#00bdff,#00cdff,#00ddfe,#00e5f8,#02e8f4,#06edf1,#09f1ee,#0cf5eb,#0ff9e7,#0ff9e7,#0ff9e7,#0ff9e7,#0ff9e7,#0cf5eb,#0cf5eb,#0cf5eb,#09f1ee,#09f1ee,#02e8f4,#00e1fb,#00d5ff,#00c5ff,#00b5ff,#00a1ff,#0091ff,#0081ff,#0071ff,#0061ff,#004dff,#003dff,#0024ff,#0011ff,#0000ff,#0000f6,#0000e3,#0000d1,#0000c8,#0000bb,#0000b2,#0000ad,#0000a8,#0000a4,#00009f,#00009b,#000092,#00008d,#000089,#000084,#000084,#000084,#000084,#000089,#000089,#00008d,#000096,#00009b,#00009f)"></i>
<i style="background:linear-gradient(90deg,#0000bb,#0000b6,#0000bb,#0000bf,#0000c8,#0000d6,#0000e3,#0000f1,#0000ff,#0001ff,#000dff,#0019ff,#0029ff,#003dff,#0051ff,#006dff,#0085ff,#00a1ff,#00b9ff,#00c8ff,#00d5ff,#00ddfe,#00e5f8,#02e8f4,#06edf1,#09f1ee,#09f1ee,#0cf5eb,#0cf5eb,#0cf5eb,#09f1ee,#09f1ee,#09f1ee,#06edf1,#06edf1,#02e8f4,#00e5f8,#00ddfe,#00d1ff,#00c1ff,#00b1ff,#00a1ff,#0091ff,#0081ff,#0071ff,#0061ff,#004dff,#0039ff,#0024ff,#0011ff,#0000ff,#0000f6,#0000e3,#0000d1,#0000c4,#0000bb,#0000b2,#0000ad,#0000a8,#0000a4,#00009f,#00009b,#000092,#00008d,#000089,#000084,#000084,#000084,#000084,#000089,#000089,#00008d,#000096,#00009b,#00009f)"></i>
<i style="background:linear-gradient(90deg,#0000bb,#0000b6,#0000bb,#0000bf,#0000c8,#0000d6,#0000e3,#0000f1,#0000ff,#0000ff,#000dff,#0019ff,#0029ff,#0039ff,#004dff,#0069ff,#0081ff,#009dff,#00b1ff,#00c5ff,#00d1ff,#00d9ff,#00ddfe,#00e1fb,#00e5f8,#02e8f4,#06edf1,#06edf1,#09f1ee,#06edf1,#06edf1,#06edf1,#02e8f4,#02e8f4,#02e8f4,#00e5f8,#00e1fb,#00d9ff,#00cdff,#00c1ff,#00b1ff,#009dff,#008dff,#007dff,#006dff,#005dff,#004dff,#0039ff,#0024ff,#0011ff,#0000ff,#0000f6,#0000e3,#0000d1,#0000c4,#0000bb,#0000b2,#0000ad,#0000a8,#0000a4,#00009f,#00009b,#000092,#00008d,#000089,#000084,#000084,#000084,#000084,#000089,#000089,#00008d,#000096,#00009b,#00009f)"></i>
<i style="background:linear-gradient(90deg,#0000bb,#0000b6,#0000bb,#0000bf,#0000c8,#0000d6,#0000e3,#0000f1,#0000ff,#0000ff,#0009ff,#0014ff,#0024ff,#0034ff,#004dff,#0064ff,#007dff,#0095ff,#00adff,#00bdff,#00c8ff,#00d5ff,#00d9ff,#00ddfe,#00e1fb,#00e5f8,#02e8f4,#02e8f4,#02e8f4,#02e8f4,#02e8f4,#00e5f8,#00e5f8,#00e5f8,#00e5f8,#00e1fb,#00ddfe,#00d9ff,#00cdff,#00bdff,#00adff,#009dff,#008dff,#007dff,#006dff,#005dff,#004dff,#0039ff,#0024ff,#0011ff,#0000ff,#0000f6,#0000e3,#0000d1,#0000c4,#0000bb,#0000b2,#0000a8,#0000a8,#0000a4,#00009f,#00009b,#000092,#00008d,#000089,#000084,#000084,#000084,#000084,#000089,#000089,#00008d,#000096,#00009b,#00009f)"></i>
<i style="background:linear-gradient(90deg,#0000b6,#0000b6,#0000bb,#0000c4,#0000c8,#0000d6,#0000df,#0000ed,#0000ff,#0000ff,#0009ff,#0014ff,#0024ff,#0034ff,#0049ff,#0061ff,#0079ff,#0091ff,#00a8ff,#00b9ff,#00c5ff,#00cdff,#00d5ff,#00d9ff,#00ddfe,#00e1fb,#00e1fb,#00e5f8,#00e5f8,#00e5f8,#00e5f8,#00e1fb,#00e1fb,#00e1fb,#00e1fb,#00ddfe,#00d9ff,#00d5ff,#00c8ff,#00bdff,#00adff,#009dff,#008dff,#007dff,#006dff,#005dff,#0049ff,#0039ff,#0024ff,#000dff,#0000ff,#0000f6,#0000e3,#0000d1,#0000c4,#0000b6,#0000b2,#0000a8,#0000a4,#0000a4,#00009f,#00009b,#000096,#00008d,#000089,#000084,#000084,#000084,#000084,#000089,#000089,#00008d,#000092,#00009b,#00009f)"></i>
<i style="background:linear-gradient(90deg,#0000b6,#0000b6,#0000bb,#0000c4,#0000c8,#0000d6,#0000df,#0000ed,#0000fa,#0000ff,#0004ff,#0014ff,#0021ff,#0031ff,#0044ff,#005dff,#0074ff,#008dff,#00a5ff,#00b5ff,#00c1ff,#00c8ff,#00d1ff,#00d5ff,#00d9ff,#00ddfe,#00ddfe,#00e1fb,#00e1fb,#00e1fb,#00ddfe,#00ddfe,#00ddfe,#00ddfe,#00ddfe,#00d9ff,#00d9ff,#00d1ff,#00c5ff,#00b9ff,#00a8ff,#0099ff,#0088ff,#007dff,#006dff,#005dff,#0049ff,#0034ff,#0021ff,#000dff,#0000ff,#0000f6,#0000df,#0000d1,#0000c4,#0000b6,#0000ad,#0000a8,#0000a4,#0000a4,#00009f,#00009b,#000096,#00008d,#000089,#000084,#000084,#000084,#000084,#000089,#000089,#00008d,#000092,#00009b,#00009f)"></i>
<i style="background:linear-gradient(90deg,#0000b6,#0000b6,#0000bb,#0000c4,#0000c8,#0000d6,#0000df,#0000ed,#0000fa,#0000ff,#0004ff,#0011ff,#0021ff,#0031ff,#0044ff,#0059ff,#0071ff,#0088ff,#00a1ff,#00b1ff,#00bdff,#00c5ff,#00c8ff,#00d1ff,#00d5ff,#00d5ff,#00d9ff,#00d9ff,#00d9ff,#00d9ff,#00d9ff,#00d9ff,#00d9ff,#00d9ff,#00d9ff,#00d5ff,#00d5ff,#00cdff,#00c5ff,#00b9ff,#00a8ff,#0099ff,#0088ff,#0079ff,#0069ff,#0059ff,#0049ff,#0034ff,#0021ff,#000dff,#0000ff,#0000f6,#0000df,#0000d1,#0000c4,#0000b6,#0000ad,#0000a8,#0000a4,#0000a4,#00009f,#00009b,#000096,#00008d,#000089,#000084,#000084,#000084,#000084,#000089,#000089,#00008d,#000092,#00009b,#00009f)"></i>
<i style="background:linear-gradient(90deg,#0000b6,#0000b6,#0000bb,#0000c4,#0000c8,#0000d6,#0000df,#0000ed,#0000fa,#0000ff,#0004ff,#0011ff,#001dff,#002dff,#0041ff,#0059ff,#0071ff,#0085ff,#009dff,#00adff,#00b9ff,#00c1ff,#00c5ff,#00c8ff,#00cdff,#00d1ff,#00d5ff,#00d5ff,#00d5ff,#00d5ff,#00d5ff,#00d5ff,#00d5ff,#00d5ff,#00d5ff,#00d1ff,#00d1ff,#00c8ff,#00c1ff,#00b5ff,#00a8ff,#0099ff,#0088ff,#0079ff,#0069ff,#0059ff,#0049ff,#0034ff,#0021ff,#000dff,#0000ff,#0000f1,#0000df,#0000cd,#0000bf,#0000b6,#0000ad,#0000a8,#0000a4,#0000a4,#00009f,#00009b,#000096,#00008d,#000089,#000084,#000084,#000084,#000084,#000089,#000089,#00008d,#000092,#00009b,#00009f)"></i>
<i style="background:linear-gradient(90deg,#0000b6,#0000b6,#0000bb,#0000c4,#0000cd,#0000d6,#0000df,#0000ed,#0000fa,#0000ff,#0001ff,#000dff,#001dff,#002dff,#0041ff,#0054ff,#006dff,#0081ff,#0099ff,#00a8ff,#00b5ff,#00bdff,#00c1ff,#00c5ff,#00c8ff,#00cdff,#00d1ff,#00d1ff,#00d1ff,#00d1ff,#00d1ff,#00d1ff,#00d1ff,#00d1ff,#00d1ff,#00d1ff,#00cdff,#00c8ff,#00bdff,#00b5ff,#00a5ff,#0099ff,#0088ff,#0079ff,#0069ff,#0059ff,#0049ff,#0034ff,#0021ff,#000dff,#0000ff,#0000f1,#0000df,#0000cd,#0000bf,#0000b6,#0000ad,#0000a8,#0000a4,#0000a4,#00009f,#00009b,#000096,#00008d,#000089,#000084,#000084,#000084,#000084,#000089,#000089,#00008d,#000092,#00009b,#00009f)"></i>
<i style="background:linear-gradient(90deg,#0000b6,#0000b6,#0000bb,#0000c4,#0000cd,#0000d6,#0000df,#0000ed,#0000f6,#0000ff,#0001ff,#000dff,#001dff,#0029ff,#003dff,#0051ff,#0069ff,#0081ff,#0095ff,#00a5ff,#00b1ff,#00b9ff,#00bdff,#00c1ff,#00c5ff,#00c8ff,#00cdff,#00cdff,#00cdff,#00cdff,#00cdff,#00cdff,#00cdff,#00cdff,#00cdff,#00cdff,#00c8ff,#00c5ff,#00bdff,#00b1ff,#00a5ff,#0095ff,#0088ff,#0079ff,#0069ff,#0059ff,#0049ff,#0034ff,#0021ff,#000dff,#0000ff,#0000f1,#0000df,#0000cd,#0000bf,#0000b6,#0000ad,#0000a8,#0000a4,#0000a4,#00009f,#00009b,#000096,#000092,#000089,#000089,#000084,#000084,#000084,#000089,#000089,#00008d,#000092,#00009b,#00009f)"></i>
<i style="background:linear-gradient(90deg,#0000b6,#0000b6,#0000bb,#0000c4,#0000cd,#0000d6,#0000df,#0000e8,#0000f6,#0000ff,#0001ff,#000dff,#0019ff,#0029ff,#003dff,#0051ff,#0064ff,#007dff,#0091ff,#00a1ff,#00a8ff,#00b5ff,#00b9ff,#00bdff,#00c1ff,#00c5ff,#00c8ff,#00c8ff,#00c8ff,#00c8ff,#00c8ff,#00c8ff,#00c8ff,#00c8ff,#00c8ff,#00c8ff,#00c5ff,#00c1ff,#00b9ff,#00b1ff,#00a5ff,#0095ff,#0085ff,#0079ff,#0069ff,#0059ff,#0044ff,#0034ff,#0021ff,#000dff,#0000ff,#0000f1,#0000df,#0000cd,#0000bf,#0000b2,#0000ad,#0000a8,#0000a4,#0000a4,#00009f,#00009b,#000096,#000092,#000089,#000089,#000084,#000084,#000084,#000089,#000089,#00008d,#000092,#00009b,#00009f)"></i>
<i style="background:linear-gradient(90deg,#0000b6,#0000b6,#0000bb,#0000c4,#0000cd,#0000d6,#0000df,#0000e8,#0000f6,#0000ff,#0000ff,#0009ff,#0019ff,#0029ff,#0039ff,#004dff,#0064ff,#0079ff,#008dff,#009dff,#00a8ff,#00b1ff,#00b5ff,#00bdff,#00bdff,#00c1ff,#00c5ff,#00c5ff,#00c5ff,#00c5ff,#00c5ff,#00c5ff,#00c5ff,#00c5ff,#00c5ff,#00c5ff,#00c5ff,#00bdff,#00b9ff,#00adff,#00a1ff,#0095ff,#0085ff,#0079ff,#0069ff,#0059ff,#0044ff,#0034ff,#0021ff,#000dff,#0000ff,#0000f1,#0000df,#0000cd,#0000bf,#0000b2,#0000ad,#0000a8,#0000a4,#0000a4,#00009f,#00009b,#000096,#000092,#000089,#000089,#000084,#000084,#000084,#000089,#000089,#00008d,#000092,#00009b,#00009f)"></i>
<i style="background:linear-gradient(90deg,#0000b6,#0000b6,#0000bb,#0000c4,#0000cd,#0000d6,#0000df,#0000e8,#0000f6,#0000ff,#0000ff,#0009ff,#0019ff,#0024ff,#0039ff,#004dff,#0061ff,#0074ff,#0088ff,#0099ff,#00a5ff,#00adff,#00b1ff,#00b9ff,#00bdff,#00bdff,#00c1ff,#00c1ff,#00c1ff,#00c1ff,#00c1ff,#00c1ff,#00c1ff,#00c1ff,#00c1ff,#00c1ff,#00c1ff,#00bdff,#00b5ff,#00adff,#00a1ff,#0095ff,#0085ff,#0079ff,#0069ff,#0059ff,#0044ff,#0034ff,#0021ff,#0009ff,#0000ff,#0000f1,#0000da,#0000cd,#0000bf,#0000b2,#0000a8,#0000a8,#0000a4,#0000a4,#00009f,#00009b,#000096,#000092,#00008d,#000089,#000084,#000084,#000084,#000089,#000089,#00008d,#000092,#00009b,#00009f)"></i>
<i style="background:linear-gradient(90deg,#0000b2,#0000b6,#0000bb,#0000c4,#0000cd,#0000d6,#0000df,#0000e8,#0000f1,#0000ff,#0000ff,#0009ff,#0014ff,#0024ff,#0034ff,#0049ff,#005dff,#0071ff,#0085ff,#0095ff,#00a1ff,#00a8ff,#00adff,#00b5ff,#00b9ff,#00b9ff,#00bdff,#00bdff,#00bdff,#00bdff,#00bdff,#00bdff,#00bdff,#00bdff,#00bdff,#00bdff,#00bdff,#00b9ff,#00b5ff,#00a8ff,#00a1ff,#0091ff,#0085ff,#0074ff,#0069ff,#0059ff,#0044ff,#0031ff,#001dff,#0009ff,#0000ff,#0000f1,#0000da,#0000cd,#0000bb,#0000b2,#0000a8,#0000a4,#0000a4,#0000a4,#00009f,#00009b,#000096,#000092,#00008d,#000089,#000084,#000084,#000084,#000089,#000089,#00008d,#000092,#00009b,#00009f)"></i>
<i style="background:linear-gradient(90deg,#0000b2,#0000b6,#0000bb,#0000c4,#0000cd,#0000d1,#0000df,#0000e8,#0000f1,#0000ff,#0000ff,#0009ff,#0014ff,#0024ff,#0034ff,#0049ff,#005dff,#0071ff,#0081ff,#0091ff,#009dff,#00a5ff,#00adff,#00b1ff,#00b5ff,#00b9ff,#00b9ff,#00b9ff,#00b9ff,#00b9ff,#00b9ff,#00b9ff,#00b9ff,#00b9ff,#00bdff,#00bdff,#00b9ff,#00b9ff,#00b1ff,#00a8ff,#009dff,#0091ff,#0085ff,#0074ff,#0069ff,#0059ff,#0044ff,#0031ff,#001dff,#0009ff,#0000ff,#0000ed,#0000da,#0000c8,#0000bb,#0000b2,#0000a8,#0000a4,#0000a4,#0000a4,#00009f,#00009b,#000096,#000092,#00008d,#000089,#000084,#000084,#000084,#000089,#000089,#00008d,#000096,#00009b,#00009f)"></i>
<i style="background:linear-gradient(90deg,#0000b2,#0000b6,#0000bf,#0000c4,#0000cd,#0000d1,#0000da,#0000e8,#0000f1,#0000ff,#0000ff,#0004ff,#0014ff,#0021ff,#0034ff,#0044ff,#0059ff,#006dff,#007dff,#008dff,#0099ff,#00a1ff,#00a8ff,#00adff,#00b1ff,#00b5ff,#00b5ff,#00b5ff,#00b5ff,#00b5ff,#00b5ff,#00b5ff,#00b5ff,#00b9ff,#00b9ff,#00b9ff,#00b9ff,#00b5ff,#00b1ff,#00a8ff,#009dff,#0091ff,#0085ff,#0074ff,#0069ff,#0054ff,#0044ff,#0031ff,#001dff,#0009ff,#0000ff,#0000ed,#0000da,#0000c8,#0000bb,#0000b2,#0000a8,#0000a4,#0000a4,#0000a4,#00009f,#00009b,#000096,#000092,#00008d,#000089,#000084,#000084,#000084,#000089,#000089,#00008d,#000096,#00009b,#00009f)"></i>
<i style="background:linear-gradient(90deg,#0000b2,#0000b6,#0000bf,#0000c4,#0000cd,#0000d1,#0000da,#0000e8,#0000f1,#0000fa,#0000ff,#0004ff,#0011ff,#0021ff,#0031ff,#0044ff,#0059ff,#0069ff,#007dff,#0088ff,#0095ff,#009dff,#00a5ff,#00a8ff,#00adff,#00b1ff,#00b1ff,#00b5ff,#00b5ff,#00b5ff,#00b5ff,#00b5ff,#00b5ff,#00b5ff,#00b5ff,#00b5ff,#00b5ff,#00b1ff,#00adff,#00a5ff,#009dff,#0091ff,#0085ff,#0074ff,#0064ff,#0054ff,#0044ff,#0031ff,#001dff,#0009ff,#0000ff,#0000ed,#0000da,#0000c8,#0000bb,#0000b2,#0000a8,#0000a4,#0000a4,#0000a4,#00009f,#00009b,#000096,#000092,#00008d,#000089,#000084,#000084,#000084,#000089,#00008d,#00008d,#000096,#00009b,#00009f)"></i>
<i style="background:linear-gradient(90deg,#0000b2,#0000b6,#0000bf,#0000c4,#0000cd,#0000d1,#0000da,#0000e3,#0000f1,#0000fa,#0000ff,#0004ff,#0011ff,#0021ff,#0031ff,#0041ff,#0054ff,#0069ff,#0079ff,#0085ff,#0091ff,#0099ff,#00a1ff,#00a5ff,#00a8ff,#00adff,#00b1ff,#00b1ff,#00b1ff,#00b1ff,#00b1ff,#00b1ff,#00b1ff,#00b1ff,#00b5ff,#00b5ff,#00b5ff,#00b1ff,#00adff,#00a5ff,#0099ff,#0091ff,#0081ff,#0074ff,#0064ff,#0054ff,#0044ff,#0031ff,#001dff,#0009ff,#0000ff,#0000ed,#0000da,#0000c8,#0000bb,#0000ad,#0000a8,#0000a4,#0000a4,#0000a4,#00009f,#00009b,#000096,#000092,#00008d,#000089,#000084,#000084,#000084,#000089,#00008d,#000092,#000096,#00009b,#00009f)"></i>
<i style="background:linear-gradient(90deg,#0000b2,#0000b6,#0000bf,#0000c4,#0000cd,#0000d1,#0000da,#0000e3,#0000f1,#0000fa,#0000ff,#0004ff,#0011ff,#0021ff,#0031ff,#0041ff,#0054ff,#0064ff,#0074ff,#0081ff,#008dff,#0095ff,#009dff,#00a5ff,#00a8ff,#00a8ff,#00adff,#00adff,#00adff,#00adff,#00adff,#00adff,#00adff,#00b1ff,#00b1ff,#00b1ff,#00b1ff,#00adff,#00a8ff,#00a1ff,#0099ff,#008dff,#0081ff,#0074ff,#0064ff,#0054ff,#0044ff,#0031ff,#001dff,#0009ff,#0000ff,#0000ed,#0000da,#0000c8,#0000bb,#0000ad,#0000a8,#0000a4,#0000a4,#0000a4,#00009f,#00009b,#000096,#000092,#00008d,#000089,#000084,#000084,#000084,#000089,#00008d,#000092,#000096,#00009b,#00009f)"></i>
<i style="background:linear-gradient(90deg,#0000b2,#0000b6,#0000bf,#0000c4,#0000cd,#0000d1,#0000da,#0000e3,#0000ed,#0000fa,#0000ff,#0004ff,#0011ff,#001dff,#002dff,#0041ff,#0051ff,#0061ff,#0071ff,#0081ff,#0088ff,#0095ff,#0099ff,#00a1ff,#00a5ff,#00a8ff,#00a8ff,#00a8ff,#00adff,#00adff,#00adff,#00adff,#00adff,#00adff,#00adff,#00b1ff,#00b1ff,#00adff,#00a8ff,#00a1ff,#0099ff,#008dff,#0081ff,#0074ff,#0064ff,#0054ff,#0044ff,#0031ff,#001dff,#0009ff,#0000ff,#0000ed,#0000d6,#0000c8,#0000bb,#0000ad,#0000a8,#0000a4,#0000a4,#0000a4,#00009f,#00009b,#000096,#000092,#00008d,#000089,#000084,#000084,#000084,#000089,#00008d,#000092,#000096,#00009b,#00009f)"></i>
<i style="background:linear-gradient(90deg,#0000b2,#0000b6,#0000bf,#0000c4,#0000cd,#0000d1,#0000da,#0000e3,#0000ed,#0000fa,#0000ff,#0001ff,#0011ff,#001dff,#002dff,#003dff,#004dff,#0061ff,#006dff,#007dff,#0085ff,#0091ff,#0095ff,#009dff,#00a1ff,#00a5ff,#00a5ff,#00a8ff,#00a8ff,#00a8ff,#00a8ff,#00a8ff,#00a8ff,#00adff,#00adff,#00adff,#00adff,#00adff,#00a5ff,#00a1ff,#0099ff,#008dff,#0081ff,#0074ff,#0064ff,#0054ff,#0044ff,#0031ff,#001dff,#0009ff,#0000ff,#0000ed,#0000d6,#0000c8,#0000b6,#0000ad,#0000a8,#0000a4,#0000a4,#0000a4,#00009f,#00009b,#000096,#000092,#00008d,#000089,#000084,#000084,#000089,#000089,#00008d,#000092,#000096,#00009b,#00009f)"></i>
<i style="background:linear-gradient(90deg,#0000b2,#0000b6,#0000bf,#0000c4,#0000cd,#0000d1,#0000da,#0000e3,#0000ed,#0000fa,#0000ff,#0001ff,#000dff,#001dff,#002dff,#003dff,#004dff,#005dff,#006dff,#0079ff,#0085ff,#008dff,#0095ff,#0099ff,#009dff,#00a1ff,#00a5ff,#00a5ff,#00a8ff,#00a8ff,#00a8ff,#00a8ff,#00a8ff,#00a8ff,#00a8ff,#00adff,#00adff,#00a8ff,#00a5ff,#009dff,#0095ff,#008dff,#0081ff,#0074ff,#0064ff,#0054ff,#0044ff,#0031ff,#001dff,#0004ff,#0000ff,#0000ed,#0000d6,#0000c4,#0000b6,#0000ad,#0000a8,#0000a4,#0000a4,#0000a4,#00009f,#00009f,#000096,#000092,#00008d,#000089,#000084,#000084,#000089,#000089,#00008d,#000092,#000096,#00009b,#00009f)"></i>
<i style="background:linear-gradient(90deg,#0000b2,#0000b6,#0000bf,#0000c4,#0000c8,#0000d1,#0000da,#0000e3,#0000ed,#0000f6,#0000ff,#0001ff,#000dff,#001dff,#0029ff,#0039ff,#0049ff,#0059ff,#0069ff,#0074ff,#0081ff,#0088ff,#0091ff,#0095ff,#009dff,#00a1ff,#00a1ff,#00a5ff,#00a5ff,#00a5ff,#00a5ff,#00a5ff,#00a5ff,#00a8ff,#00a8ff,#00a8ff,#00a8ff,#00a8ff,#00a5ff,#009dff,#0095ff,#0088ff,#0081ff,#0071ff,#0064ff,#0054ff,#0041ff,#0031ff,#001dff,#0004ff,#0000ff,#0000e8,#0000d6,#0000c4,#0000b6,#0000ad,#0000a8,#0000a4,#0000a4,#0000a4,#00009f,#00009f,#000096,#000092,#00008d,#000089,#000084,#000084,#000089,#000089,#00008d,#000092,#000096,#00009b,#0000a4)"></i>
<i style="background:linear-gradient(90deg,#0000b2,#0000b6,#0000bf,#0000c4,#0000c8,#0000d1,#0000da,#0000e3,#0000ed,#0000f6,#0000ff,#0001ff,#000dff,#001dff,#0029ff,#0039ff,#0049ff,#0059ff,#0064ff,#0071ff,#007dff,#0085ff,#008dff,#0095ff,#0099ff,#009dff,#00a1ff,#00a1ff,#00a5ff,#00a5ff,#00a5ff,#00a5ff,#00a5ff,#00a5ff,#00a8ff,#00a8ff,#00a8ff,#00a8ff,#00a1ff,#009dff,#0095ff,#0088ff,#007dff,#0071ff,#0064ff,#0054ff,#0041ff,#0031ff,#0019ff,#0004ff,#0000ff,#0000e8,#0000d6,#0000c4,#0000b6,#0000ad,#0000a4,#0000a4,#0000a4,#0000a4,#00009f,#00009f,#000096,#000092,#00008d,#000089,#000084,#000084,#000089,#000089,#00008d,#000092,#000096,#00009b,#0000a4)"></i>
<i style="background:linear-gradient(90deg,#0000b2,#0000b6,#0000bf,#0000c4,#0000c8,#0000d1,#0000da,#0000e3,#0000ed,#0000f6,#0000ff,#0001ff,#000dff,#0019ff,#0029ff,#0039ff,#0049ff,#0054ff,#0064ff,#0071ff,#0079ff,#0081ff,#0088ff,#0091ff,#0095ff,#0099ff,#009dff,#00a1ff,#00a1ff,#00a1ff,#00a1ff,#00a1ff,#00a5ff,#00a5ff,#00a5ff,#00a8ff,#00a8ff,#00a5ff,#00a1ff,#009dff,#0091ff,#0088ff,#007dff,#0071ff,#0064ff,#0054ff,#0041ff,#0031ff,#0019ff,#0004ff,#0000ff,#0000e8,#0000d6,#0000c4,#0000b6,#0000ad,#0000a4,#0000a4,#0000a4,#0000a4,#00009f,#00009f,#000096,#000092,#00008d,#000089,#000084,#000084,#000089,#000089,#00008d,#000092,#000096,#00009f,#0000a4)"></i>
<i style="background:linear-gradient(90deg,#0000b2,#0000b6,#0000bf,#0000c4,#0000c8,#0000d1,#0000da,#0000e3,#0000ed,#0000f6,#0000ff,#0001ff,#000dff,#0019ff,#0029ff,#0034ff,#0044ff,#0054ff,#0061ff,#006dff,#0074ff,#0081ff,#0085ff,#008dff,#0091ff,#0099ff,#009dff,#009dff,#00a1ff,#00a1ff,#00a1ff,#00a1ff,#00a1ff,#00a5ff,#00a5ff,#00a5ff,#00a5ff,#00a5ff,#00a1ff,#0099ff,#0091ff,#0088ff,#007dff,#0071ff,#0061ff,#0054ff,#0041ff,#002dff,#0019ff,#0004ff,#0000ff,#0000e8,#0000d6,#0000c4,#0000b6,#0000ad,#0000a4,#0000a4,#0000a4,#0000a4,#00009f,#00009f,#000096,#000092,#00008d,#000089,#000084,#000084,#000089,#00008d,#00008d,#000092,#00009b,#00009f,#0000a4)"></i>
<i style="background:linear-gradient(90deg,#0000b2,#0000b6,#0000bf,#0000c4,#0000c8,#0000d1,#0000da,#0000df,#0000ed,#0000f6,#0000ff,#0001ff,#000dff,#0019ff,#0024ff,#0034ff,#0044ff,#0051ff,#005dff,#0069ff,#0074ff,#007dff,#0085ff,#0088ff,#0091ff,#0095ff,#0099ff,#009dff,#009dff,#00a1ff,#00a1ff,#00a1ff,#00a1ff,#00a1ff,#00a5ff,#00a5ff,#00a5ff,#00a5ff,#00a1ff,#0099ff,#0091ff,#0088ff,#007dff,#0071ff,#0061ff,#0051ff,#0041ff,#002dff,#0019ff,#0004ff,#0000ff,#0000e8,#0000d6,#0000c4,#0000b6,#0000ad,#0000a4,#0000a4,#0000a4,#0000a4,#00009f,#00009f,#000096,#000092,#00008d,#000089,#000089,#000089,#000089,#00008d,#000092,#000096,#00009b,#00009f,#0000a4)"></i>
<i style="background:linear-gradient(90deg,#0000b2,#0000b6,#0000bf,#0000c4,#0000c8,#0000d1,#0000da,#0000df,#0000e8,#0000f6,#0000ff,#0000ff,#000dff,#0019ff,#0024ff,#0034ff,#0041ff,#004dff,#005dff,#0064ff,#0071ff,#0079ff,#0081ff,#0088ff,#008dff,#0095ff,#0099ff,#0099ff,#009dff,#009dff,#00a1ff,#00a1ff,#00a1ff,#00a1ff,#00a5ff,#00a5ff,#00a5ff,#00a1ff,#009dff,#0099ff,#0091ff,#0085ff,#007dff,#006dff,#0061ff,#0051ff,#0041ff,#002dff,#0019ff,#0004ff,#0000ff,#0000e8,#0000d1,#0000c4,#0000b6,#0000ad,#0000a4,#0000a4,#0000a4,#0000a4,#00009f,#00009f,#000096,#000092,#00008d,#000089,#000089,#000089,#000089,#00008d,#000092,#000096,#00009b,#00009f,#0000a4)"></i>
<i style="background:linear-gradient(90deg,#0000b2,#0000b6,#0000bb,#0000c4,#0000c8,#0000d1,#0000d6,#0000df,#0000e8,#0000f6,#0000ff,#0000ff,#0009ff,#0019ff,#0024ff,#0031ff,#0041ff,#004dff,#0059ff,#0064ff,#006dff,#0074ff,#007dff,#0085ff,#008dff,#0091ff,#0095ff,#0099ff,#009dff,#009dff,#009dff,#009dff,#00a1ff,#00a1ff,#00a1ff,#00a5ff,#00a5ff,#00a1ff,#009dff,#0099ff,#008dff,#0085ff,#0079ff,#006dff,#0061ff,#0051ff,#0041ff,#002dff,#0019ff,#0004ff,#0000ff,#0000e8,#0000d1,#0000c4,#0000b6,#0000a8,#0000a4,#0000a4,#0000a4,#0000a4,#00009f,#00009f,#000096,#000092,#00008d,#000089,#000089,#000089,#000089,#00008d,#000092,#000096,#00009b,#00009f,#0000a4)"></i>
<i style="background:linear-gradient(90deg,#0000b2,#0000b6,#0000bb,#0000c4,#0000c8,#0000d1,#0000d6,#0000df,#0000e8,#0000f6,#0000ff,#0000ff,#0009ff,#0014ff,#0024ff,#0031ff,#003dff,#0049ff,#0054ff,#0061ff,#0069ff,#0074ff,#0079ff,#0081ff,#0088ff,#008dff,#0095ff,#0099ff,#009dff,#009dff,#009dff,#009dff,#009dff,#00a1ff,#00a1ff,#00a5ff,#00a5ff,#00a1ff,#009dff,#0095ff,#008dff,#0085ff,#0079ff,#006dff,#0061ff,#0051ff,#0041ff,#002dff,#0019ff,#0004ff,#0000fa,#0000e8,#0000d1,#0000c4,#0000b6,#0000a8,#0000a4,#0000a4,#0000a4,#0000a4,#00009f,#00009f,#000096,#000092,#00008d,#000089,#000089,#000089,#000089,#00008d,#000092,#000096,#00009b,#00009f,#0000a4)"></i>
<i style="background:linear-gradient(90deg,#0000b2,#0000b6,#0000bb,#0000c4,#0000c8,#0000d1,#0000d6,#0000df,#0000e8,#0000f6,#0000ff,#0000ff,#0009ff,#0014ff,#0024ff,#0031ff,#003dff,#0049ff,#0054ff,#005dff,#0069ff,#0071ff,#0079ff,#0081ff,#0085ff,#008dff,#0091ff,#0099ff,#0099ff,#009dff,#009dff,#009dff,#009dff,#00a1ff,#00a1ff,#00a1ff,#00a1ff,#00a1ff,#009dff,#0095ff,#008dff,#0085ff,#0079ff,#006dff,#0061ff,#0051ff,#0041ff,#002dff,#0019ff,#0004ff,#0000fa,#0000e3,#0000d1,#0000bf,#0000b2,#0000a8,#0000a4,#0000a4,#0000a4,#0000a4,#00009f,#00009f,#000096,#000092,#00008d,#000089,#000089,#000089,#000089,#00008d,#000092,#000096,#00009b,#00009f,#0000a4)"></i>
<i style="background:linear-gradient(90deg,#0000b2,#0000b6,#0000bb,#0000c4,#0000c8,#0000d1,#0000d6,#0000df,#0000e8,#0000f1,#0000ff,#0000ff,#0009ff,#0014ff,#0021ff,#002dff,#0039ff,#0044ff,#0051ff,#005dff,#0064ff,#006dff,#0074ff,#007dff,#0085ff,#008dff,#0091ff,#0095ff,#0099ff,#009dff,#009dff,#009dff,#009dff,#00a1ff,#00a1ff,#00a1ff,#00a1ff,#00a1ff,#009dff,#0095ff,#008dff,#0081ff,#0079ff,#006dff,#005dff,#0051ff,#0041ff,#002dff,#0019ff,#0001ff,#0000fa,#0000e3,#0000d1,#0000bf,#0000b2,#0000a8,#0000a4,#0000a4,#0000a4,#0000a4,#00009f,#00009f,#000096,#000092,#00008d,#000089,#000089,#000089,#000089,#00008d,#000092,#000096,#00009f,#0000a4,#0000a4)"></i>
<i style="background:linear-gradient(90deg,#0000b2,#0000b6,#0000bb,#0000c4,#0000c8,#0000cd,#0000d6,#0000df,#0000e8,#0000f1,#0000ff,#0000ff,#0009ff,#0014ff,#0021ff,#002dff,#0039ff,#0044ff,#004dff,#0059ff,#0061ff,#0069ff,#0071ff,#0079ff,#0081ff,#0088ff,#0091ff,#0095ff,#0099ff,#0099ff,#009dff,#009dff,#009dff,#009dff,#00a1ff,#00a1ff,#00a1ff,#00a1ff,#0099ff,#0095ff,#008dff,#0081ff,#0074ff,#0069ff,#005dff,#0051ff,#003dff,#002dff,#0019ff,#0001ff,#0000fa,#0000e3,#0000d1,#0000bf,#0000b2,#0000a8,#0000a4,#0000a4,#0000a4,#0000a4,#00009f,#00009b,#000096,#000092,#00008d,#000089,#000089,#000089,#000089,#00008d,#000092,#00009b,#00009f,#0000a4,#0000a8)"></i>
<i style="background:linear-gradient(90deg,#0000b2,#0000b6,#0000bb,#0000c4,#0000c8,#0000cd,#0000d6,#0000df,#0000e8,#0000f1,#0000ff,#0000ff,#0009ff,#0014ff,#0021ff,#002dff,#0039ff,#0041ff,#004dff,#0054ff,#0061ff,#0069ff,#0071ff,#0079ff,#0081ff,#0088ff,#008dff,#0095ff,#0099ff,#0099ff,#009dff,#009dff,#009dff,#009dff,#00a1ff,#00a1ff,#00a1ff,#009dff,#0099ff,#0095ff,#0088ff,#0081ff,#0074ff,#0069ff,#005dff,#004dff,#003dff,#002dff,#0019ff,#0001ff,#0000fa,#0000e3,#0000d1,#0000bf,#0000b2,#0000a8,#0000a4,#0000a4,#0000a4,#0000a4,#00009f,#00009b,#000096,#000092,#00008d,#000089,#000089,#000089,#000089,#00008d,#000092,#00009b,#00009f,#0000a4,#0000a8)"></i>
<i style="background:linear-gradient(90deg,#0000b2,#0000b6,#0000bb,#0000c4,#0000c8,#0000cd,#0000d6,#0000df,#0000e8,#0000f1,#0000ff,#0000ff,#0009ff,#0014ff,#0021ff,#002dff,#0034ff,#0041ff,#0049ff,#0054ff,#005dff,#0064ff,#006dff,#0074ff,#007dff,#0085ff,#008dff,#0095ff,#0099ff,#0099ff,#009dff,#009dff,#009dff,#009dff,#00a1ff,#00a1ff,#00a1ff,#009dff,#0099ff,#0091ff,#0088ff,#0081ff,#0074ff,#0069ff,#005dff,#004dff,#003dff,#002dff,#0014ff,#0001ff,#0000fa,#0000e3,#0000d1,#0000bf,#0000b2,#0000a8,#0000a4,#0000a4,#0000a4,#0000a4,#00009f,#00009b,#000096,#000092,#00008d,#000089,#000089,#000089,#00008d,#000092,#000096,#00009b,#00009f,#0000a4,#0000a8)"></i>
<i style="background:linear-gradient(90deg,#0000b2,#0000b6,#0000bb,#0000bf,#0000c8,#0000cd,#0000d6,#0000df,#0000e8,#0000f1,#0000ff,#0000ff,#0009ff,#0014ff,#001dff,#0029ff,#0034ff,#003dff,#0049ff,#0051ff,#0059ff,#0061ff,#006dff,#0074ff,#007dff,#0085ff,#008dff,#0091ff,#0095ff,#0099ff,#009dff,#009dff,#009dff,#009dff,#00a1ff,#00a1ff,#00a1ff,#009dff,#0099ff,#0091ff,#0088ff,#007dff,#0074ff,#0069ff,#005dff,#004dff,#003dff,#0029ff,#0014ff,#0001ff,#0000fa,#0000e3,#0000d1,#0000bf,#0000b2,#0000a8,#0000a4,#0000a4,#0000a4,#0000a4,#00009f,#00009b,#000096,#000092,#00008d,#000089,#000089,#000089,#00008d,#000092,#000096,#00009b,#00009f,#0000a4,#0000a8)"></i>
<i style="background:linear-gradient(90deg,#0000b2,#0000b6,#0000bb,#0000bf,#0000c8,#0000cd,#0000d6,#0000df,#0000e8,#0000f1,#0000ff,#0000ff,#0004ff,#0011ff,#001dff,#0029ff,#0034ff,#003dff,#0044ff,#004dff,#0059ff,#0061ff,#0069ff,#0071ff,#0079ff,#0085ff,#0088ff,#0091ff,#0095ff,#0099ff,#009dff,#009dff,#009dff,#009dff,#00a1ff,#00a1ff,#00a1ff,#009dff,#0099ff,#0091ff,#0088ff,#007dff,#0071ff,#0069ff,#0059ff,#004dff,#003dff,#0029ff,#0014ff,#0001ff,#0000fa,#0000e3,#0000d1,#0000bf,#0000b2,#0000a8,#0000a4,#0000a4,#0000a4,#0000a4,#00009f,#00009b,#000096,#000092,#00008d,#000089,#000089,#000089,#00008d,#000092,#000096,#00009b,#00009f,#0000a4,#0000a8)"></i>
<i style="background:linear-gradient(90deg,#0000b2,#0000b6,#0000bb,#0000bf,#0000c8,#0000cd,#0000d6,#0000df,#0000e8,#0000f1,#0000ff,#0000ff,#0004ff,#0011ff,#001dff,#0029ff,#0031ff,#0039ff,#0044ff,#004dff,#0054ff,#005dff,#0064ff,#0071ff,#0079ff,#0081ff,#0088ff,#0091ff,#0095ff,#0099ff,#009dff,#009dff,#009dff,#009dff,#00a1ff,#00a1ff,#00a1ff,#009dff,#0099ff,#0091ff,#0088ff,#007dff,#0071ff,#0064ff,#0059ff,#004dff,#003dff,#0029ff,#0014ff,#0001ff,#0000fa,#0000e3,#0000d1,#0000bf,#0000b2,#0000a8,#0000a4,#0000a4,#0000a4,#0000a4,#00009f,#00009b,#000096,#000092,#00008d,#000089,#000089,#000089,#00008d,#000092,#000096,#00009b,#0000a4,#0000a8,#0000a8)"></i>
<i style="background:linear-gradient(90deg,#0000b2,#0000b6,#0000bb,#0000bf,#0000c8,#0000cd,#0000d6,#0000df,#0000e8,#0000f1,#0000ff,#0000ff,#0004ff,#0011ff,#001dff,#0024ff,#0031ff,#0039ff,#0041ff,#0049ff,#0051ff,#005dff,#0064ff,#006dff,#0074ff,#0081ff,#0088ff,#0091ff,#0095ff,#0099ff,#009dff,#009dff,#009dff,#009dff,#00a1ff,#00a1ff,#00a1ff,#009dff,#0099ff,#0091ff,#0085ff,#007dff,#0071ff,#0064ff,#0059ff,#004dff,#003dff,#0029ff,#0014ff,#0001ff,#0000fa,#0000e3,#0000d1,#0000bf,#0000b2,#0000a8,#0000a4,#0000a4,#0000a4,#0000a4,#00009f,#00009b,#000096,#000092,#00008d,#000089,#000089,#000089,#00008d,#000092,#000096,#00009f,#0000a4,#0000a8,#0000ad)"></i>
<i style="background:linear-gradient(90deg,#0000b2,#0000b6,#0000bb,#0000bf,#0000c8,#0000cd,#0000d6,#0000da,#0000e8,#0000f1,#0000fa,#0000ff,#0004ff,#0011ff,#001dff,#0024ff,#002dff,#0039ff,#0041ff,#0049ff,#0051ff,#0059ff,#0061ff,#006dff,#0074ff,#0081ff,#0088ff,#0091ff,#0095ff,#0099ff,#009dff,#009dff,#009dff,#009dff,#00a1ff,#00a1ff,#00a1ff,#009dff,#0099ff,#0091ff,#0085ff,#007dff,#0071ff,#0064ff,#0059ff,#0049ff,#0039ff,#0029ff,#0014ff,#0001ff,#0000f6,#0000e3,#0000cd,#0000bf,#0000b2,#0000a8,#0000a4,#0000a4,#00009f,#0000a4,#00009f,#00009b,#000096,#000092,#00008d,#000089,#000089,#000089,#00008d,#000092,#000096,#00009f,#0000a4,#0000a8,#0000ad)"></i>
<i style="background:linear-gradient(90deg,#0000b2,#0000b6,#0000bb,#0000bf,#0000c4,#0000cd,#0000d6,#0000da,#0000e3,#0000f1,#0000fa,#0000ff,#0004ff,#0011ff,#0019ff,#0024ff,#002dff,#0034ff,#003dff,#0044ff,#004dff,#0059ff,#0061ff,#0069ff,#0074ff,#007dff,#0088ff,#0091ff,#0095ff,#0099ff,#009dff,#009dff,#009dff,#009dff,#00a1ff,#00a1ff,#00a1ff,#009dff,#0099ff,#0091ff,#0085ff,#0079ff,#0071ff,#0064ff,#0059ff,#0049ff,#0039ff,#0029ff,#0014ff,#0000ff,#0000f6,#0000e3,#0000cd,#0000bf,#0000b2,#0000a8,#0000a4,#0000a4,#00009f,#00009f,#00009f,#00009b,#000096,#000092,#00008d,#000089,#000089,#000089,#00008d,#000092,#00009b,#00009f,#0000a4,#0000a8,#0000ad)"></i>
<i style="background:linear-gradient(90deg,#0000b2,#0000b6,#0000bb,#0000bf,#0000c4,#0000cd,#0000d1,#0000da,#0000e3,#0000f1,#0000fa,#0000ff,#0004ff,#0011ff,#0019ff,#0024ff,#002dff,#0034ff,#003dff,#0044ff,#004dff,#0054ff,#005dff,#0069ff,#0071ff,#007dff,#0085ff,#008dff,#0095ff,#0099ff,#009dff,#009dff,#009dff,#00a1ff,#00a1ff,#00a1ff,#00a1ff,#009dff,#0099ff,#008dff,#0085ff,#0079ff,#006dff,#0061ff,#0054ff,#0049ff,#0039ff,#0024ff,#0014ff,#0000ff,#0000f6,#0000e3,#0000cd,#0000bf,#0000b2,#0000a8,#0000a4,#0000a4,#00009f,#00009f,#00009f,#00009b,#000096,#000092,#00008d,#000089,#000089,#000089,#00008d,#000092,#00009b,#00009f,#0000a4,#0000a8,#0000ad)"></i>
<i style="background:linear-gradient(90deg,#0000b2,#0000b6,#0000bb,#0000bf,#0000c4,#0000cd,#0000d1,#0000da,#0000e3,#0000f1,#0000fa,#0000ff,#0004ff,#0011ff,#0019ff,#0021ff,#0029ff,#0031ff,#0039ff,#0041ff,#0049ff,#0054ff,#005dff,#0064ff,#0071ff,#007dff,#0085ff,#008dff,#0095ff,#0099ff,#009dff,#009dff,#009dff,#00a1ff,#00a1ff,#00a1ff,#00a1ff,#009dff,#0095ff,#008dff,#0085ff,#0079ff,#006dff,#0061ff,#0054ff,#0049ff,#0039ff,#0024ff,#0011ff,#0000ff,#0000f6,#0000df,#0000cd,#0000bf,#0000b2,#0000a8,#0000a4,#00009f,#00009f,#00009f,#00009f,#00009b,#000096,#000092,#00008d,#000089,#000089,#000089,#00008d,#000096,#00009b,#00009f,#0000a4,#0000a8,#0000ad)"></i>
<i style="background:linear-gradient(90deg,#0000b2,#0000b6,#0000bb,#0000bf,#0000c4,#0000cd,#0000d1,#0000da,#0000e3,#0000f1,#0000fa,#0000ff,#0004ff,#000dff,#0019ff,#0021ff,#0029ff,#0031ff,#0039ff,#0041ff,#0049ff,#0051ff,#0059ff,#0064ff,#0071ff,#0079ff,#0085ff,#008dff,#0095ff,#0099ff,#009dff,#009dff,#009dff,#00a1ff,#00a1ff,#00a1ff,#00a1ff,#009dff,#0095ff,#008dff,#0085ff,#0079ff,#006dff,#0061ff,#0054ff,#0044ff,#0039ff,#0024ff,#0011ff,#0000ff,#0000f6,#0000df,#0000cd,#0000bf,#0000b2,#0000a8,#0000a4,#00009f,#00009f,#00009f,#00009f,#00009b,#000096,#000092,#00008d,#000089,#000089,#00008d,#00008d,#000096,#00009b,#00009f,#0000a8,#0000ad,#0000ad)"></i>
<i style="background:linear-gradient(90deg,#0000b2,#0000b6,#0000bb,#0000bf,#0000c4,#0000cd,#0000d1,#0000da,#0000e3,#0000f1,#0000fa,#0000ff,#0004ff,#000dff,#0019ff,#0021ff,#0029ff,#0031ff,#0034ff,#003dff,#0044ff,#0051ff,#0059ff,#0064ff,#006dff,#0079ff,#0085ff,#008dff,#0095ff,#0099ff,#009dff,#009dff,#009dff,#00a1ff,#00a1ff,#00a1ff,#00a1ff,#009dff,#0095ff,#008dff,#0081ff,#0079ff,#006dff,#0061ff,#0054ff,#0044ff,#0034ff,#0024ff,#0011ff,#0000ff,#0000f6,#0000df,#0000cd,#0000bf,#0000b2,#0000a8,#0000a4,#00009f,#00009f,#00009f,#00009f,#00009b,#000096,#000092,#00008d,#000089,#000089,#00008d,#000092,#000096,#00009b,#0000a4,#0000a8,#0000ad,#0000ad)"></i>
<i style="background:linear-gradient(90deg,#0000b2,#0000b6,#0000bb,#0000bf,#0000c4,#0000cd,#0000d1,#0000da,#0000e3,#0000ed,#0000fa,#0000ff,#0004ff,#000dff,#0019ff,#0021ff,#0024ff,#002dff,#0034ff,#003dff,#0044ff,#004dff,#0059ff,#0061ff,#006dff,#0079ff,#0085ff,#008dff,#0095ff,#0099ff,#009dff,#009dff,#009dff,#00a1ff,#00a1ff,#00a1ff,#00a1ff,#009dff,#0095ff,#008dff,#0081ff,#0074ff,#0069ff,#0061ff,#0051ff,#0044ff,#0034ff,#0024ff,#0011ff,#0000ff,#0000f6,#0000df,#0000cd,#0000bf,#0000b2,#0000a8,#0000a4,#00009f,#00009f,#00009f,#00009f,#00009b,#000096,#000092,#00008d,#000089,#000089,#00008d,#000092,#000096,#00009b,#0000a4,#0000a8,#0000ad,#0000b2)"></i>
<i style="background:linear-gradient(90deg,#0000b2,#0000b6,#0000bb,#0000bf,#0000c4,#0000c8,#0000d1,#0000da,#0000e3,#0000ed,#0000fa,#0000ff,#0001ff,#000dff,#0014ff,#001dff,#0024ff,#002dff,#0034ff,#0039ff,#0041ff,#004dff,#0054ff,#0061ff,#006dff,#0079ff,#0085ff,#008dff,#0095ff,#0099ff,#009dff,#009dff,#00a1ff,#00a1ff,#00a1ff,#00a1ff,#00a1ff,#009dff,#0095ff,#008dff,#0081ff,#0074ff,#0069ff,#005dff,#0051ff,#0044ff,#0034ff,#0021ff,#0011ff,#0000ff,#0000f6,#0000df,#0000cd,#0000bf,#0000b2,#0000a8,#0000a4,#00009f,#00009f,#00009f,#00009f,#00009b,#000096,#000092,#00008d,#000089,#000089,#00008d,#000092,#000096,#00009b,#0000a4,#0000a8,#0000ad,#0000b2)"></i>
<i style="background:linear-gradient(90deg,#0000b2,#0000b6,#0000bb,#0000bf,#0000c4,#0000c8,#0000d1,#0000da,#0000e3,#0000ed,#0000fa,#0000ff,#0001ff,#000dff,#0014ff,#001dff,#0024ff,#0029ff,#0031ff,#0039ff,#0041ff,#0049ff,#0054ff,#0061ff,#006dff,#0079ff,#0085ff,#008dff,#0095ff,#0099ff,#009dff,#009dff,#00a1ff,#00a1ff,#00a1ff,#00a1ff,#00a1ff,#009dff,#0095ff,#008dff,#0081ff,#0074ff,#0069ff,#005dff,#0051ff,#0041ff,#0034ff,#0021ff,#0011ff,#0000ff,#0000f6,#0000df,#0000cd,#0000bf,#0000b2,#0000a8,#0000a4,#00009f,#00009f,#00009f,#00009f,#00009b,#000096,#000092,#00008d,#000089,#000089,#00008d,#000092,#000096,#00009f,#0000a4,#0000a8,#0000ad,#0000b2)"></i>
<i style="background:linear-gradient(90deg,#0000b2,#0000b6,#0000bb,#0000bf,#0000c4,#0000c8,#0000d1,#0000da,#0000e3,#0000ed,#0000fa,#0000ff,#0001ff,#000dff,#0014ff,#001dff,#0021ff,#0029ff,#0031ff,#0039ff,#0041ff,#0049ff,#0054ff,#0061ff,#006dff,#0079ff,#0081ff,#008dff,#0095ff,#0099ff,#009dff,#009dff,#00a1ff,#00a1ff,#00a1ff,#00a5ff,#00a1ff,#009dff,#0095ff,#008dff,#0081ff,#0074ff,#0069ff,#005dff,#0051ff,#0041ff,#0031ff,#0021ff,#000dff,#0000ff,#0000f6,#0000df,#0000cd,#0000bf,#0000b2,#0000a8,#0000a4,#00009f,#00009f,#00009f,#00009f,#00009b,#000096,#000092,#00008d,#000089,#000089,#00008d,#000092,#000096,#00009f,#0000a4,#0000a8,#0000ad,#0000b2)"></i>
<i style="background:linear-gradient(90deg,#0000b2,#0000b6,#0000bb,#0000bf,#0000c4,#0000c8,#0000d1,#0000da,#0000e3,#0000ed,#0000fa,#0000ff,#0001ff,#0009ff,#0014ff,#001dff,#0021ff,#0029ff,#002dff,#0034ff,#003dff,#0049ff,#0051ff,#005dff,#0069ff,#0074ff,#0081ff,#008dff,#0095ff,#0099ff,#009dff,#009dff,#00a1ff,#00a1ff,#00a1ff,#00a5ff,#00a1ff,#009dff,#0095ff,#008dff,#0081ff,#0074ff,#0069ff,#005dff,#004dff,#0041ff,#0031ff,#0021ff,#000dff,#0000ff,#0000f6,#0000df,#0000cd,#0000bf,#0000b2,#0000a8,#0000a4,#00009f,#00009f,#00009f,#00009f,#00009b,#000096,#000092,#00008d,#000089,#000089,#00008d,#000092,#000096,#00009f,#0000a4,#0000a8,#0000b2,#0000b2)"></i>
<i style="background:linear-gradient(90deg,#0000b2,#0000b6,#0000b6,#0000bf,#0000c4,#0000c8,#0000d1,#0000da,#0000e3,#0000ed,#0000fa,#0000ff,#0001ff,#0009ff,#0011ff,#0019ff,#0021ff,#0024ff,#002dff,#0034ff,#003dff,#0049ff,#0051ff,#005dff,#0069ff,#0074ff,#0081ff,#008dff,#0095ff,#0099ff,#009dff,#009dff,#00a1ff,#00a1ff,#00a5ff,#00a5ff,#00a1ff,#009dff,#0095ff,#008dff,#0081ff,#0074ff,#0069ff,#0059ff,#004dff,#0041ff,#0031ff,#001dff,#000dff,#0000ff,#0000f6,#0000df,#0000cd,#0000bf,#0000b2,#0000a8,#0000a4,#00009f,#00009f,#00009f,#00009f,#00009b,#000096,#000092,#00008d,#000089,#00008d,#00008d,#000092,#00009b,#00009f,#0000a4,#0000ad,#0000b2,#0000b2)"></i>
<i style="background:linear-gradient(90deg,#0000b2,#0000b6,#0000b6,#0000bb,#0000c4,#0000c8,#0000d1,#0000da,#0000e3,#0000ed,#0000f6,#0000ff,#0001ff,#0009ff,#0011ff,#0019ff,#0021ff,#0024ff,#002dff,#0034ff,#003dff,#0044ff,#0051ff,#005dff,#0069ff,#0074ff,#0081ff,#008dff,#0095ff,#0099ff,#009dff,#009dff,#00a1ff,#00a1ff,#00a5ff,#00a5ff,#00a1ff,#009dff,#0095ff,#008dff,#0081ff,#0074ff,#0064ff,#0059ff,#004dff,#003dff,#002dff,#001dff,#000dff,#0000ff,#0000f6,#0000df,#0000cd,#0000bf,#0000b2,#0000a8,#0000a4,#00009f,#00009f,#00009f,#00009f,#00009b,#000096,#000092,#00008d,#00008d,#00008d,#00008d,#000092,#00009b,#00009f,#0000a4,#0000ad,#0000b2,#0000b2)"></i>
<i style="background:linear-gradient(90deg,#0000b2,#0000b2,#0000b6,#0000bb,#0000c4,#0000c8,#0000d1,#0000da,#0000e3,#0000ed,#0000f6,#0000ff,#0001ff,#0009ff,#0011ff,#0019ff,#001dff,#0024ff,#0029ff,#0031ff,#003dff,#0044ff,#0051ff,#005dff,#0069ff,#0074ff,#0081ff,#008dff,#0095ff,#0099ff,#009dff,#009dff,#00a1ff,#00a1ff,#00a5ff,#00a5ff,#00a1ff,#009dff,#0095ff,#008dff,#0081ff,#0074ff,#0064ff,#0059ff,#004dff,#003dff,#002dff,#001dff,#0009ff,#0000ff,#0000f1,#0000df,#0000cd,#0000bf,#0000b2,#0000a8,#0000a4,#00009f,#00009f,#00009f,#00009f,#00009b,#000096,#000092,#00008d,#00008d,#00008d,#00008d,#000092,#00009b,#00009f,#0000a8,#0000ad,#0000b2,#0000b2)"></i>
<i style="background:linear-gradient(90deg,#0000b2,#0000b2,#0000b6,#0000bb,#0000c4,#0000c8,#0000d1,#0000d6,#0000df,#0000ed,#0000f6,#0000ff,#0000ff,#0009ff,#0011ff,#0014ff,#001dff,#0021ff,#0029ff,#0031ff,#0039ff,#0044ff,#0051ff,#005dff,#0069ff,#0074ff,#0081ff,#0088ff,#0091ff,#0099ff,#009dff,#009dff,#00a1ff,#00a1ff,#00a5ff,#00a5ff,#00a1ff,#009dff,#0095ff,#008dff,#0081ff,#0071ff,#0064ff,#0059ff,#0049ff,#003dff,#002dff,#001dff,#0009ff,#0000ff,#0000f1,#0000df,#0000cd,#0000bf,#0000b2,#0000a8,#0000a4,#00009f,#00009f,#00009f,#00009f,#00009b,#000096,#000092,#00008d,#00008d,#00008d,#000092,#000096,#00009b,#00009f,#0000a8,#0000ad,#0000b2,#0000b6)"></i>
<i style="background:linear-gradient(90deg,#0000ad,#0000b2,#0000b6,#0000bb,#0000c4,#0000c8,#0000d1,#0000d6,#0000df,#0000ed,#0000f6,#0000ff,#0000ff,#0009ff,#0011ff,#0014ff,#001dff,#0021ff,#0029ff,#0031ff,#0039ff,#0044ff,#0051ff,#005dff,#0069ff,#0074ff,#0081ff,#0088ff,#0091ff,#0099ff,#009dff,#009dff,#00a1ff,#00a1ff,#00a5ff,#00a5ff,#00a1ff,#009dff,#0095ff,#008dff,#0081ff,#0071ff,#0064ff,#0059ff,#0049ff,#0039ff,#0029ff,#0019ff,#0009ff,#0000ff,#0000f1,#0000df,#0000cd,#0000bf,#0000b2,#0000a8,#0000a4,#00009f,#00009f,#00009f,#00009f,#00009b,#000096,#000092,#00008d,#00008d,#00008d,#000092,#000096,#00009b,#00009f,#0000a8,#0000ad,#0000b2,#0000b6)"></i>
<i style="background:linear-gradient(90deg,#0000ad,#0000b2,#0000b6,#0000bb,#0000c4,#0000c8,#0000d1,#0000d6,#0000df,#0000ed,#0000f6,#0000ff,#0000ff,#0004ff,#000dff,#0014ff,#0019ff,#0021ff,#0024ff,#002dff,#0039ff,#0044ff,#0051ff,#005dff,#0069ff,#0074ff,#0081ff,#0088ff,#0091ff,#0099ff,#009dff,#009dff,#00a1ff,#00a1ff,#00a5ff,#00a5ff,#00a1ff,#009dff,#0095ff,#008dff,#0081ff,#0071ff,#0064ff,#0054ff,#0049ff,#0039ff,#0029ff,#0019ff,#0009ff,#0000ff,#0000f1,#0000df,#0000cd,#0000bf,#0000b2,#0000a8,#0000a4,#00009f,#00009f,#00009f,#00009f,#00009b,#000096,#000092,#00008d,#00008d,#00008d,#000092,#000096,#00009b,#00009f,#0000a8,#0000ad,#0000b2,#0000b6)"></i>
<i style="background:linear-gradient(90deg,#0000ad,#0000b2,#0000b6,#0000bb,#0000bf,#0000c8,#0000cd,#0000d6,#0000df,#0000e8,#0000f6,#0000ff,#0000ff,#0004ff,#000dff,#0014ff,#0019ff,#001dff,#0024ff,#002dff,#0039ff,#0044ff,#0051ff,#005dff,#0069ff,#0074ff,#0081ff,#0088ff,#0091ff,#0095ff,#009dff,#009dff,#00a1ff,#00a1ff,#00a5ff,#00a5ff,#00a1ff,#009dff,#0095ff,#008dff,#0081ff,#0071ff,#0064ff,#0054ff,#0044ff,#0039ff,#0029ff,#0019ff,#0004ff,#0000ff,#0000f1,#0000df,#0000d1,#0000bf,#0000b2,#0000a8,#0000a4,#00009f,#00009f,#00009f,#00009f,#00009b,#000096,#000092,#000092,#00008d,#00008d,#000092,#000096,#00009b,#0000a4,#0000a8,#0000ad,#0000b2,#0000b6)"></i>
<i style="background:linear-gradient(90deg,#0000ad,#0000b2,#0000b6,#0000bb,#0000bf,#0000c8,#0000cd,#0000d6,#0000df,#0000e8,#0000f6,#0000ff,#0000ff,#0004ff,#000dff,#0011ff,#0019ff,#001dff,#0024ff,#002dff,#0039ff,#0041ff,#0051ff,#005dff,#0069ff,#0074ff,#0081ff,#0088ff,#0091ff,#0095ff,#0099ff,#009dff,#00a1ff,#00a1ff,#00a5ff,#00a5ff,#00a1ff,#009dff,#0095ff,#008dff,#0081ff,#0071ff,#0064ff,#0054ff,#0044ff,#0034ff,#0024ff,#0014ff,#0004ff,#0000ff,#0000f1,#0000df,#0000d1,#0000bf,#0000b2,#0000a8,#0000a4,#00009f,#00009f,#00009f,#00009f,#00009b,#00009b,#000096,#000092,#00008d,#000092,#000092,#000096,#00009b,#0000a4,#0000a8,#0000ad,#0000b2,#0000b6)"></i>
<i style="background:linear-gradient(90deg,#0000ad,#0000b2,#0000b6,#0000bb,#0000bf,#0000c8,#0000cd,#0000d6,#0000df,#0000e8,#0000f1,#0000ff,#0000ff,#0004ff,#000dff,#0011ff,#0014ff,#001dff,#0024ff,#002dff,#0034ff,#0041ff,#0051ff,#005dff,#0069ff,#0074ff,#0081ff,#0088ff,#0091ff,#0095ff,#0099ff,#009dff,#00a1ff,#00a1ff,#00a5ff,#00a5ff,#00a1ff,#009dff,#0095ff,#008dff,#0081ff,#0071ff,#0064ff,#0054ff,#0044ff,#0034ff,#0024ff,#0014ff,#0004ff,#0000ff,#0000f1,#0000df,#0000d1,#0000bf,#0000b2,#0000a8,#0000a4,#00009f,#00009f,#00009f,#00009f,#00009f,#00009b,#000096,#000092,#000092,#000092,#000092,#000096,#00009b,#0000a4,#0000a8,#0000ad,#0000b2,#0000b6)"></i>
<i style="background:linear-gradient(90deg,#0000ad,#0000b2,#0000b6,#0000bb,#0000bf,#0000c8,#0000cd,#0000d6,#0000df,#0000e8,#0000f1,#0000ff,#0000ff,#0001ff,#0009ff,#0011ff,#0014ff,#001dff,#0021ff,#002dff,#0034ff,#0044ff,#0051ff,#005dff,#0069ff,#0074ff,#0081ff,#0088ff,#0091ff,#0095ff,#0099ff,#009dff,#00a1ff,#00a1ff,#00a5ff,#00a5ff,#00a1ff,#009dff,#0095ff,#008dff,#0081ff,#0071ff,#0064ff,#0054ff,#0041ff,#0031ff,#0021ff,#0011ff,#0004ff,#0000ff,#0000f1,#0000e3,#0000d1,#0000bf,#0000b2,#0000a8,#0000a4,#00009f,#00009f,#00009f,#00009f,#00009f,#00009b,#000096,#000092,#000092,#000092,#000092,#000096,#00009f,#0000a4,#0000a8,#0000ad,#0000b2,#0000b6)"></i>
<i style="background:linear-gradient(90deg,#0000a8,#0000b2,#0000b6,#0000bb,#0000bf,#0000c8,#0000cd,#0000d6,#0000df,#0000e8,#0000f1,#0000ff,#0000ff,#0001ff,#0009ff,#0011ff,#0014ff,#0019ff,#0021ff,#0029ff,#0034ff,#0044ff,#0051ff,#005dff,#0069ff,#0074ff,#007dff,#0088ff,#008dff,#0095ff,#0099ff,#009dff,#009dff,#00a1ff,#00a5ff,#00a5ff,#00a1ff,#009dff,#0095ff,#008dff,#0081ff,#0071ff,#0061ff,#0051ff,#0041ff,#0031ff,#0021ff,#0011ff,#0001ff,#0000ff,#0000f1,#0000e3,#0000d1,#0000c4,#0000b6,#0000a8,#0000a4,#00009f,#00009f,#00009f,#00009f,#00009f,#00009b,#000096,#000092,#000092,#000092,#000096,#00009b,#00009f,#0000a4,#0000a8,#0000ad,#0000b2,#0000b6)"></i>
<i style="background:linear-gradient(90deg,#0000a8,#0000ad,#0000b6,#0000bb,#0000bf,#0000c8,#0000cd,#0000d6,#0000df,#0000e8,#0000f1,#0000fa,#0000ff,#0001ff,#0009ff,#000dff,#0014ff,#0019ff,#0021ff,#0029ff,#0034ff,#0044ff,#0051ff,#005dff,#0069ff,#0074ff,#007dff,#0085ff,#008dff,#0091ff,#0099ff,#009dff,#009dff,#00a1ff,#00a1ff,#00a5ff,#00a1ff,#009dff,#0095ff,#008dff,#0081ff,#0071ff,#0061ff,#0051ff,#0041ff,#0031ff,#001dff,#0011ff,#0001ff,#0000ff,#0000f1,#0000e3,#0000d1,#0000c4,#0000b6,#0000a8,#0000a4,#00009f,#00009f,#00009f,#00009f,#00009f,#00009b,#000096,#000092,#000092,#000092,#000096,#00009b,#00009f,#0000a4,#0000a8,#0000ad,#0000b2,#0000b6)"></i>
<i style="background:linear-gradient(90deg,#0000a8,#0000ad,#0000b6,#0000bb,#0000bf,#0000c8,#0000cd,#0000d6,#0000da,#0000e3,#0000f1,#0000fa,#0000ff,#0001ff,#0004ff,#000dff,#0011ff,#0019ff,#0021ff,#0029ff,#0034ff,#0044ff,#0051ff,#0061ff,#006dff,#0074ff,#007dff,#0085ff,#008dff,#0091ff,#0095ff,#0099ff,#009dff,#00a1ff,#00a1ff,#00a1ff,#00a1ff,#009dff,#0095ff,#008dff,#0081ff,#0071ff,#0061ff,#0051ff,#0041ff,#002dff,#001dff,#000dff,#0001ff,#0000ff,#0000f1,#0000e3,#0000d1,#0000c4,#0000b6,#0000a8,#0000a4,#00009f,#00009f,#00009f,#00009f,#00009f,#00009b,#000096,#000096,#000092,#000096,#000096,#00009b,#00009f,#0000a4,#0000a8,#0000ad,#0000b2,#0000b6)"></i>
</div>
<div id="cb"></div>
<svg width="640" height="480" viewBox="0 0 640 480">
<g stroke="#000" stroke-width="1.111" fill="none">
<path d="M107.5 427V432.5M200.5 427V432.5M292.5 427V432.5M384.5 427V432.5M477.5 427V432.5"/>
<path d="M108 58.5H102.3M108 150.5H102.3M108 242.5H102.3M108 335.5H102.3M108 427.5H102.3"/>
<path d="M521 83.5H525.5M521 129.5H525.5M521 175.5H525.5M521 220.5H525.5M521 266.5H525.5M521 312.5H525.5M521 358.5H525.5M521 403.5H525.5"/>
<path d="M107.5 427.5V58.5H477.5V427.5Z" stroke-linejoin="miter" stroke-linecap="square"/>
<path d="M502.5 427.5V58.5H520.5V427.5Z" stroke-linejoin="miter" stroke-linecap="square"/>
</g>
<g font-size="13.889px" text-anchor="middle">
<text x="107.2" y="448">-180</text>
<text x="200.1" y="448">-90</text>
<text x="294" y="448">0</text>
<text x="384.9" y="448">90</text>
<text x="477.3" y="448">180</text>
<text x="292" y="467">longitude</text>
<text x="67.35" y="244.4" transform="rotate(-90 67.35 244.4)">latitude</text>
</g>
<g font-size="13.889px" text-anchor="end">
<text x="97.48" y="62.88">-90</text>
<text x="97.48" y="156.28">-45</text>
<text x="98.48" y="247.68">0</text>
<text x="97.98" y="340.08">45</text>
<text x="97.98" y="433.48">90</text>
<text x="520.08" y="53.43">1e−12</text>
</g>
<text x="292" y="49.27" font-size="16.667px" text-anchor="middle">2001-08-18 16:47:00</text>
<g font-size="13.889px">
<text x="529.8" y="408.53">1.00</text>
<text x="529.8" y="362.82">1.25</text>
<text x="529.8" y="317.11">1.50</text>
<text x="529.8" y="271.40">1.75</text>
<text x="529.8" y="225.69">2.00</text>
<text x="529.8" y="179.98">2.25</text>
<text x="529.8" y="134.27">2.50</text>
<text x="529.8" y="88.57">2.75</text>
</g>
</svg>
</body></html>
